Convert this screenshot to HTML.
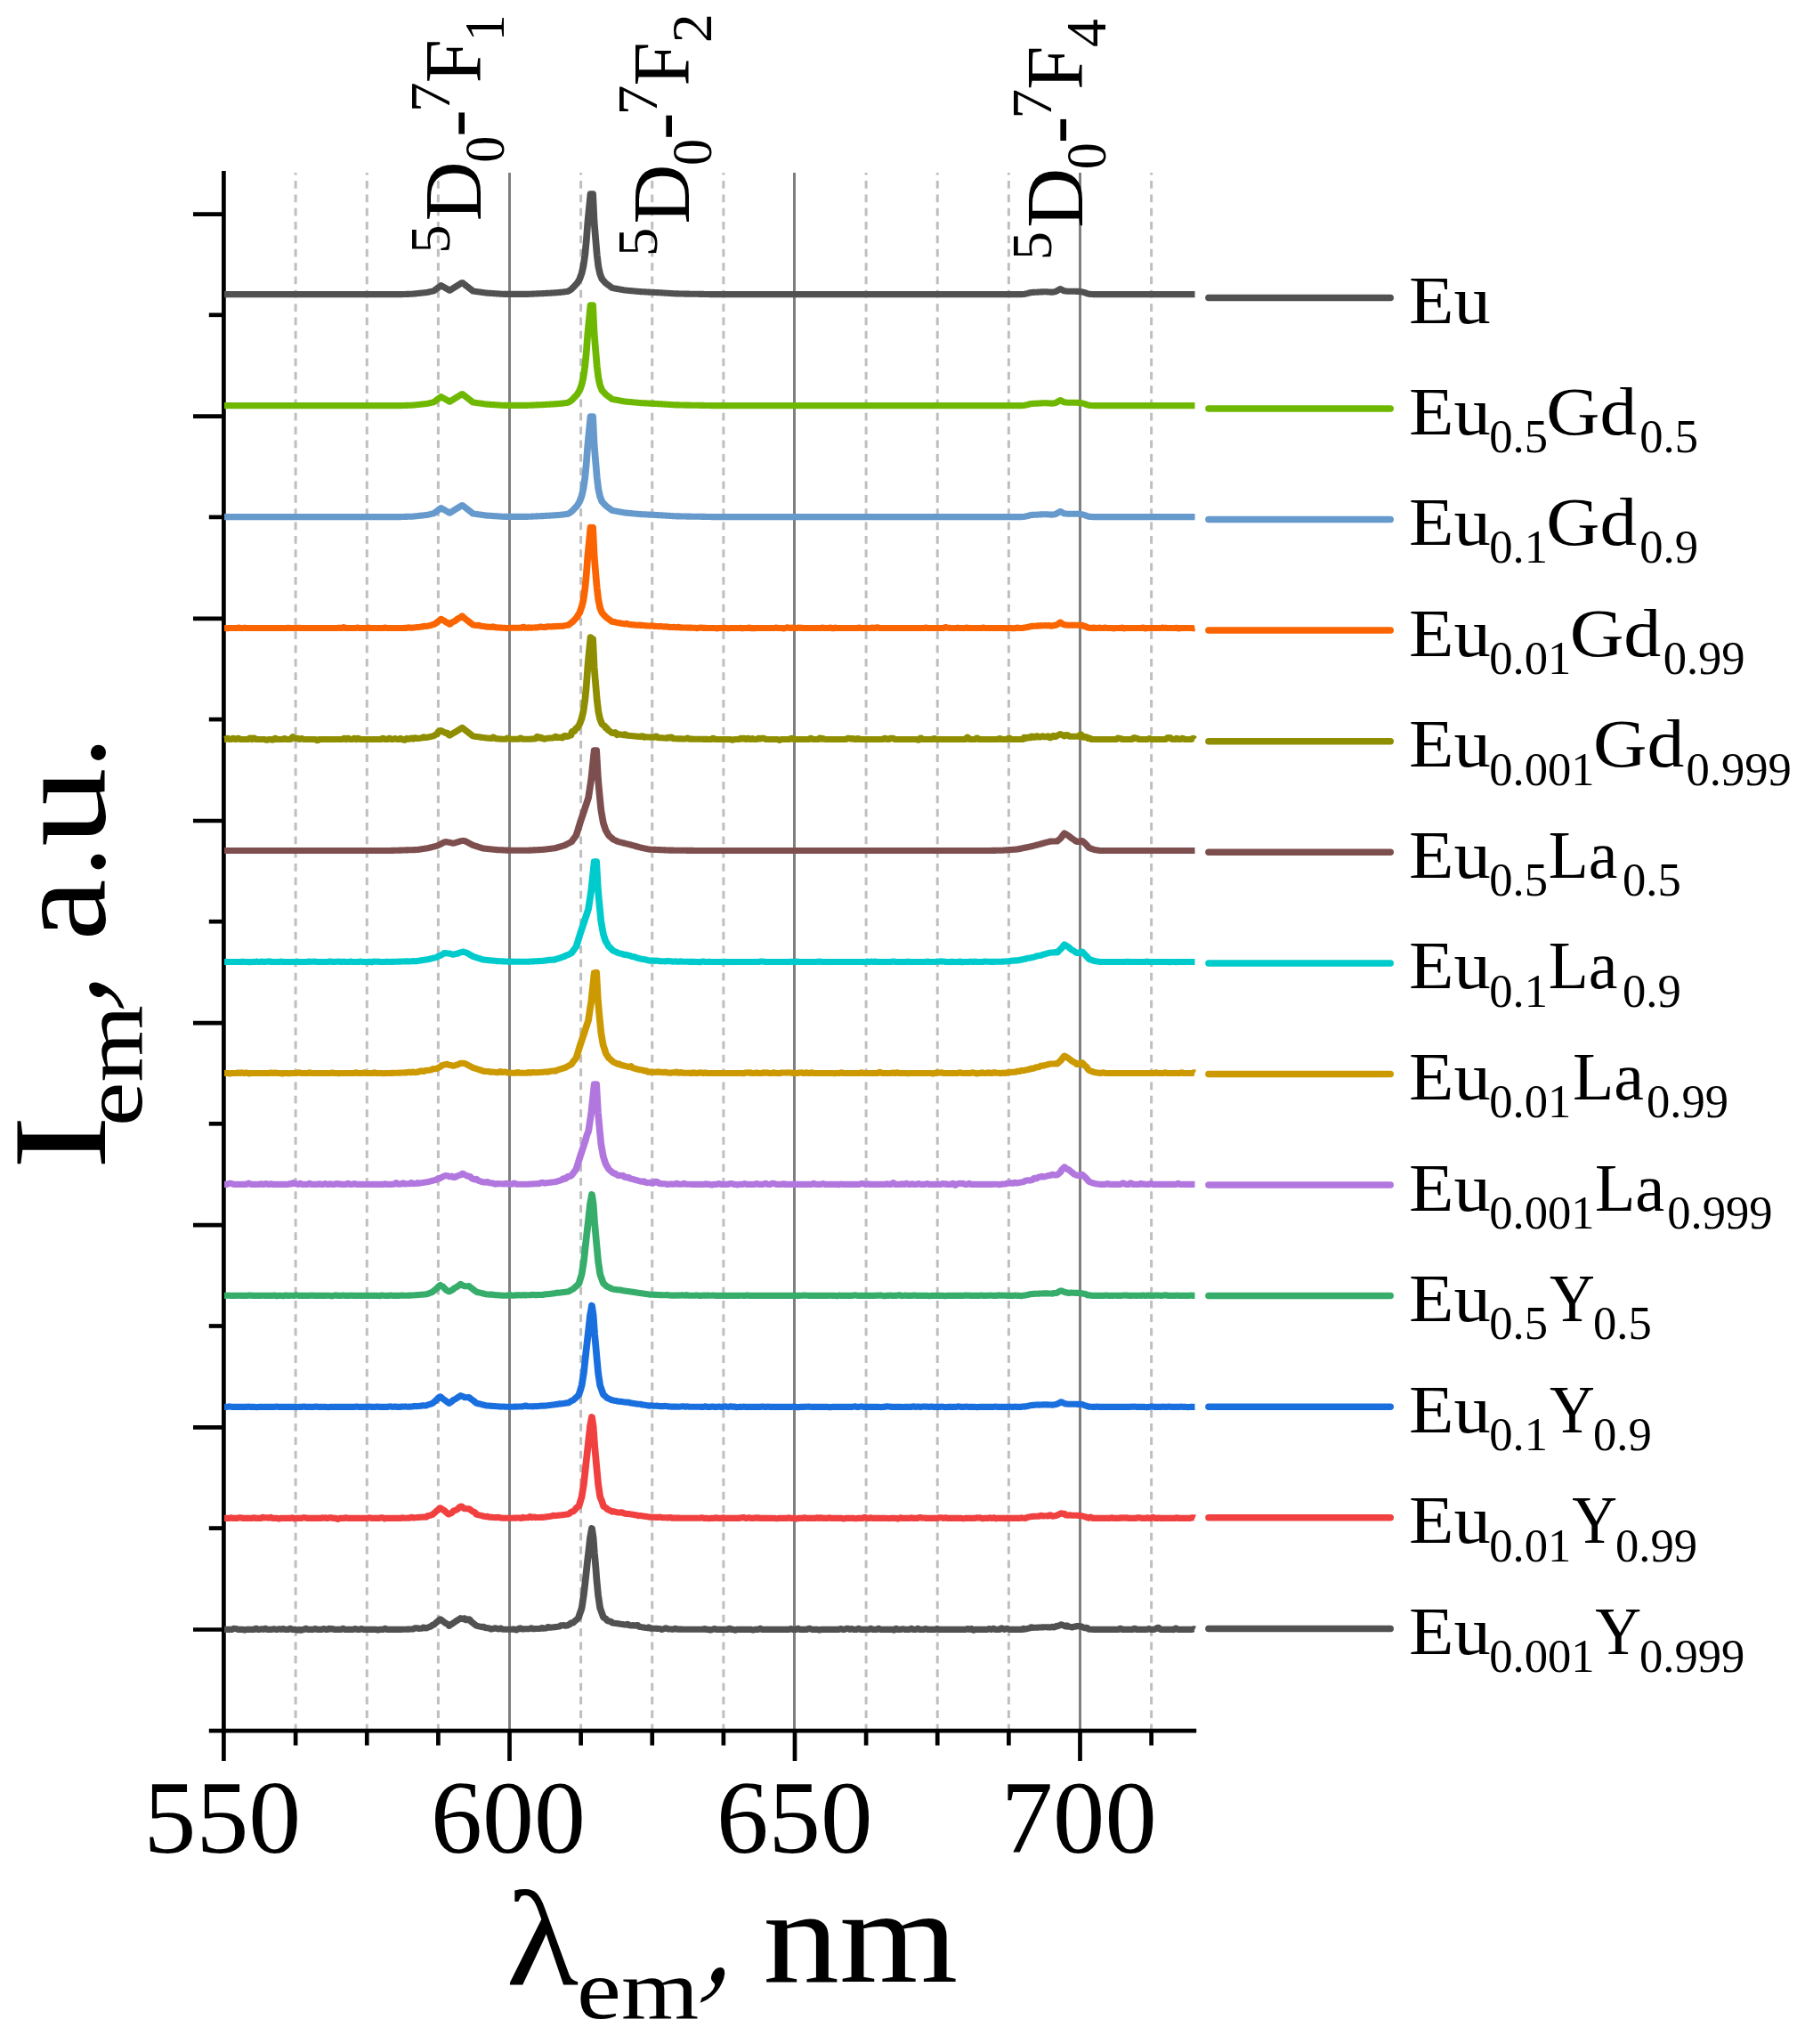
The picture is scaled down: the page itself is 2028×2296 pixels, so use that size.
<!DOCTYPE html>
<html lang="en"><head><meta charset="utf-8"><title>Emission spectra</title>
<style>html,body{margin:0;padding:0;background:#fff}svg{display:block}</style></head>
<body>
<svg width="2028" height="2296" viewBox="0 0 2028 2296" font-family="Liberation Serif, serif">
<rect width="2028" height="2296" fill="#fff"/>
<g fill="none">
<line x1="572.5" x2="572.5" y1="194.1" y2="1944.1" stroke="#7f7f7f" stroke-width="3"/>
<line x1="892.5" x2="892.5" y1="194.1" y2="1944.1" stroke="#7f7f7f" stroke-width="3"/>
<line x1="1213.5" x2="1213.5" y1="194.1" y2="1944.1" stroke="#7f7f7f" stroke-width="3"/>
<line x1="332.12" x2="332.12" y1="194.1" y2="1944.1" stroke="#bfbfbf" stroke-width="3" stroke-dasharray="8.75 6.59" stroke-dashoffset="6.35"/>
<line x1="412.25" x2="412.25" y1="194.1" y2="1944.1" stroke="#bfbfbf" stroke-width="3" stroke-dasharray="8.75 6.59" stroke-dashoffset="6.35"/>
<line x1="492.38" x2="492.38" y1="194.1" y2="1944.1" stroke="#bfbfbf" stroke-width="3" stroke-dasharray="8.75 6.59" stroke-dashoffset="6.35"/>
<line x1="652.62" x2="652.62" y1="194.1" y2="1944.1" stroke="#bfbfbf" stroke-width="3" stroke-dasharray="8.75 6.59" stroke-dashoffset="6.35"/>
<line x1="732.75" x2="732.75" y1="194.1" y2="1944.1" stroke="#bfbfbf" stroke-width="3" stroke-dasharray="8.75 6.59" stroke-dashoffset="6.35"/>
<line x1="812.88" x2="812.88" y1="194.1" y2="1944.1" stroke="#bfbfbf" stroke-width="3" stroke-dasharray="8.75 6.59" stroke-dashoffset="6.35"/>
<line x1="973.12" x2="973.12" y1="194.1" y2="1944.1" stroke="#bfbfbf" stroke-width="3" stroke-dasharray="8.75 6.59" stroke-dashoffset="6.35"/>
<line x1="1053.25" x2="1053.25" y1="194.1" y2="1944.1" stroke="#bfbfbf" stroke-width="3" stroke-dasharray="8.75 6.59" stroke-dashoffset="6.35"/>
<line x1="1133.38" x2="1133.38" y1="194.1" y2="1944.1" stroke="#bfbfbf" stroke-width="3" stroke-dasharray="8.75 6.59" stroke-dashoffset="6.35"/>
<line x1="1293.62" x2="1293.62" y1="194.1" y2="1944.1" stroke="#bfbfbf" stroke-width="3" stroke-dasharray="8.75 6.59" stroke-dashoffset="6.35"/>
</g>
<g stroke="#000" stroke-width="4.7" fill="none" stroke-linecap="butt">
<line x1="251.4" x2="251.4" y1="192" y2="1978"/>
<line x1="234.8" x2="1344.2" y1="1944.1" y2="1944.1"/>
<line x1="217" x2="251.4" y1="240.6" y2="240.6"/>
<line x1="217" x2="251.4" y1="467.7" y2="467.7"/>
<line x1="217" x2="251.4" y1="694.9" y2="694.9"/>
<line x1="217" x2="251.4" y1="922.0" y2="922.0"/>
<line x1="217" x2="251.4" y1="1149.1" y2="1149.1"/>
<line x1="217" x2="251.4" y1="1376.2" y2="1376.2"/>
<line x1="217" x2="251.4" y1="1603.4" y2="1603.4"/>
<line x1="217" x2="251.4" y1="1830.5" y2="1830.5"/>
<line x1="234.8" x2="251.4" y1="353.8" y2="353.8"/>
<line x1="234.8" x2="251.4" y1="580.9" y2="580.9"/>
<line x1="234.8" x2="251.4" y1="808.1" y2="808.1"/>
<line x1="234.8" x2="251.4" y1="1035.2" y2="1035.2"/>
<line x1="234.8" x2="251.4" y1="1262.3" y2="1262.3"/>
<line x1="234.8" x2="251.4" y1="1489.5" y2="1489.5"/>
<line x1="234.8" x2="251.4" y1="1716.6" y2="1716.6"/>
<line x1="572.50" x2="572.50" y1="1944.1" y2="1978"/>
<line x1="893.00" x2="893.00" y1="1944.1" y2="1978"/>
<line x1="1213.50" x2="1213.50" y1="1944.1" y2="1978"/>
<line x1="332.12" x2="332.12" y1="1944.1" y2="1960.6"/>
<line x1="412.25" x2="412.25" y1="1944.1" y2="1960.6"/>
<line x1="492.38" x2="492.38" y1="1944.1" y2="1960.6"/>
<line x1="652.62" x2="652.62" y1="1944.1" y2="1960.6"/>
<line x1="732.75" x2="732.75" y1="1944.1" y2="1960.6"/>
<line x1="812.88" x2="812.88" y1="1944.1" y2="1960.6"/>
<line x1="973.12" x2="973.12" y1="1944.1" y2="1960.6"/>
<line x1="1053.25" x2="1053.25" y1="1944.1" y2="1960.6"/>
<line x1="1133.38" x2="1133.38" y1="1944.1" y2="1960.6"/>
<line x1="1293.62" x2="1293.62" y1="1944.1" y2="1960.6"/>
</g>
<g fill="none" stroke-width="7.1" stroke-linejoin="round" stroke-linecap="butt" transform="scale(1.09,1)">
<path d="M231.19,330.6 231.93,330.6 232.66,330.6 233.40,330.6 234.13,330.6 234.87,330.6 235.60,330.6 236.34,330.6 237.07,330.6 237.81,330.6 238.54,330.6 239.28,330.6 240.01,330.6 240.75,330.6 241.48,330.6 242.22,330.6 242.95,330.6 243.69,330.6 244.42,330.6 245.16,330.6 245.89,330.6 246.63,330.6 247.36,330.6 248.10,330.6 248.83,330.6 249.57,330.6 250.31,330.6 251.04,330.6 251.78,330.6 252.51,330.6 253.25,330.6 253.98,330.6 254.72,330.6 255.45,330.6 256.19,330.6 256.92,330.6 257.66,330.6 258.39,330.6 259.13,330.6 259.86,330.6 260.60,330.6 261.33,330.6 262.07,330.6 262.80,330.6 263.54,330.6 264.27,330.6 265.01,330.6 265.74,330.6 266.48,330.6 267.21,330.6 267.95,330.6 268.68,330.6 269.42,330.6 270.15,330.6 270.89,330.6 271.62,330.6 272.36,330.6 273.09,330.6 273.83,330.6 274.56,330.6 275.30,330.6 276.03,330.6 276.77,330.6 277.50,330.6 278.24,330.6 278.97,330.6 279.71,330.6 280.44,330.6 281.18,330.6 281.91,330.6 282.65,330.6 283.38,330.6 284.12,330.6 284.85,330.6 285.59,330.6 286.32,330.6 287.06,330.6 287.79,330.6 288.53,330.6 289.26,330.6 290.00,330.6 290.74,330.6 291.47,330.6 292.21,330.6 292.94,330.6 293.68,330.6 294.41,330.6 295.15,330.6 295.88,330.6 296.62,330.6 297.35,330.6 298.09,330.6 298.82,330.6 299.56,330.6 300.29,330.6 301.03,330.6 301.76,330.6 302.50,330.6 303.23,330.6 303.97,330.6 304.70,330.6 305.44,330.6 306.17,330.6 306.91,330.6 307.64,330.6 308.38,330.6 309.11,330.6 309.85,330.6 310.58,330.6 311.32,330.6 312.05,330.6 312.79,330.6 313.52,330.6 314.26,330.6 314.99,330.6 315.73,330.6 316.46,330.6 317.20,330.6 317.93,330.6 318.67,330.6 319.40,330.6 320.14,330.6 320.87,330.6 321.61,330.6 322.34,330.6 323.08,330.6 323.81,330.6 324.55,330.6 325.28,330.6 326.02,330.6 326.75,330.6 327.49,330.6 328.22,330.6 328.96,330.6 329.69,330.6 330.43,330.6 331.17,330.6 331.90,330.6 332.64,330.6 333.37,330.6 334.11,330.6 334.84,330.6 335.58,330.6 336.31,330.6 337.05,330.6 337.78,330.6 338.52,330.6 339.25,330.6 339.99,330.6 340.72,330.6 341.46,330.6 342.19,330.6 342.93,330.6 343.66,330.6 344.40,330.6 345.13,330.6 345.87,330.6 346.60,330.6 347.34,330.6 348.07,330.6 348.81,330.6 349.54,330.6 350.28,330.6 351.01,330.6 351.75,330.6 352.48,330.6 353.22,330.6 353.95,330.6 354.69,330.6 355.42,330.6 356.16,330.6 356.89,330.6 357.63,330.6 358.36,330.6 359.10,330.6 359.83,330.6 360.57,330.6 361.30,330.6 362.04,330.6 362.77,330.6 363.51,330.6 364.24,330.6 364.98,330.6 365.71,330.6 366.45,330.6 367.18,330.6 367.92,330.6 368.65,330.6 369.39,330.6 370.12,330.6 370.86,330.6 371.60,330.6 372.33,330.6 373.07,330.6 373.80,330.6 374.54,330.6 375.27,330.6 376.01,330.6 376.74,330.6 377.48,330.6 378.21,330.6 378.95,330.6 379.68,330.6 380.42,330.6 381.15,330.6 381.89,330.6 382.62,330.6 383.36,330.6 384.09,330.6 384.83,330.6 385.56,330.6 386.30,330.6 387.03,330.6 387.77,330.6 388.50,330.6 389.24,330.6 389.97,330.6 390.71,330.6 391.44,330.6 392.18,330.6 392.91,330.6 393.65,330.6 394.38,330.6 395.12,330.6 395.85,330.6 396.59,330.6 397.32,330.6 398.06,330.6 398.79,330.6 399.53,330.6 400.26,330.6 401.00,330.6 401.73,330.6 402.47,330.6 403.20,330.6 403.94,330.6 404.67,330.6 405.41,330.6 406.14,330.6 406.88,330.6 407.61,330.6 408.35,330.6 409.08,330.6 409.82,330.6 410.56,330.6 411.29,330.6 412.03,330.6 412.76,330.6 413.50,330.6 414.23,330.6 414.97,330.6 415.70,330.5 416.44,330.5 417.17,330.5 417.91,330.5 418.64,330.4 419.38,330.4 420.11,330.4 420.85,330.4 421.58,330.3 422.32,330.3 423.05,330.3 423.79,330.2 424.52,330.2 425.26,330.2 425.99,330.1 426.73,330.0 427.46,329.9 428.20,329.9 428.93,329.8 429.67,329.7 430.40,329.6 431.14,329.5 431.87,329.4 432.61,329.4 433.34,329.3 434.08,329.2 434.81,329.1 435.55,329.0 436.28,328.9 437.02,328.8 437.75,328.8 438.49,328.7 439.22,328.6 439.96,328.5 440.69,328.3 441.43,328.1 442.16,328.0 442.90,327.8 443.63,327.6 444.37,327.4 445.10,327.3 445.84,327.1 446.57,326.9 447.02,326.8 447.31,326.6 448.04,326.0 448.78,325.4 449.51,324.8 450.25,324.2 450.99,323.6 451.72,323.0 452.46,322.5 453.19,321.9 453.93,321.3 454.66,320.7 455.40,321.2 456.13,321.6 456.87,322.1 457.60,322.5 458.34,323.0 459.07,323.5 459.81,323.9 460.54,324.4 461.28,324.8 462.01,325.3 462.75,325.7 463.48,326.2 464.22,325.7 464.95,325.2 465.69,324.7 466.42,324.2 467.16,323.7 467.89,323.2 468.63,322.7 469.36,322.2 470.10,321.8 470.83,321.3 471.57,320.8 472.30,320.3 473.04,319.8 473.77,319.3 474.51,318.8 475.24,318.3 475.98,317.8 476.42,317.5 476.71,317.7 477.45,318.4 478.18,319.0 478.92,319.6 479.65,320.2 480.39,320.9 481.12,321.5 481.86,322.1 482.59,322.7 483.33,323.4 484.06,324.0 484.80,324.6 485.53,325.2 486.27,325.9 487.00,326.5 487.59,327.0 487.74,327.0 488.47,327.1 489.21,327.2 489.94,327.4 490.68,327.5 491.42,327.6 492.15,327.7 492.89,327.8 493.62,327.9 494.36,328.0 495.09,328.1 495.83,328.2 496.56,328.4 497.30,328.5 498.03,328.6 498.77,328.7 499.50,328.8 500.24,328.9 500.97,329.0 501.53,329.1 501.71,329.1 502.44,329.2 503.18,329.2 503.91,329.3 504.65,329.3 505.38,329.4 506.12,329.4 506.85,329.5 507.59,329.5 508.32,329.6 509.06,329.6 509.79,329.7 510.53,329.8 511.26,329.8 512.00,329.9 512.73,329.9 513.47,330.0 514.20,330.0 514.94,330.1 515.67,330.1 516.41,330.2 517.14,330.2 517.88,330.3 518.61,330.3 519.35,330.4 520.08,330.4 520.82,330.4 521.55,330.4 522.29,330.4 523.02,330.4 523.76,330.4 524.49,330.4 525.23,330.4 525.96,330.4 526.70,330.4 527.43,330.4 528.17,330.4 528.90,330.4 529.64,330.4 530.38,330.4 531.11,330.4 531.85,330.4 532.58,330.4 533.32,330.4 534.05,330.4 534.79,330.4 535.52,330.4 536.26,330.4 536.99,330.4 537.73,330.4 538.46,330.4 539.20,330.4 539.93,330.4 540.67,330.4 541.40,330.4 542.14,330.4 542.87,330.4 543.46,330.4 543.61,330.4 544.34,330.4 545.08,330.3 545.81,330.3 546.55,330.2 547.28,330.2 548.02,330.2 548.75,330.1 549.49,330.1 550.22,330.1 550.96,330.0 551.69,330.0 552.43,330.0 553.16,329.9 553.90,329.9 554.63,329.9 555.37,329.8 556.10,329.8 556.84,329.8 557.57,329.7 558.31,329.7 559.04,329.6 559.78,329.6 559.93,329.6 560.51,329.6 561.25,329.5 561.98,329.5 562.72,329.4 563.45,329.4 564.19,329.3 564.92,329.3 565.66,329.2 566.39,329.2 567.13,329.2 567.86,329.1 568.60,329.1 569.33,329.0 570.07,329.0 570.81,328.9 571.54,328.9 572.28,328.8 572.86,328.8 573.01,328.8 573.75,328.7 574.48,328.7 575.22,328.6 575.95,328.5 576.69,328.4 577.42,328.4 578.16,328.3 578.89,328.2 579.33,328.2 579.63,328.2 580.36,328.0 581.10,327.9 581.83,327.8 582.57,327.7 583.30,327.6 584.04,327.5 584.77,327.4 585.39,327.3 585.51,327.2 586.24,326.8 586.98,326.3 587.71,325.8 588.45,325.4 588.74,325.2 589.18,324.7 589.92,323.9 590.65,323.0 591.39,322.2 591.92,321.6 592.12,321.4 592.86,320.5 593.59,319.6 594.33,318.8 594.92,318.1 595.06,317.8 595.80,316.5 596.53,315.2 597.27,313.8 597.44,313.5 598.00,311.9 598.74,309.7 599.47,307.5 599.62,307.1 600.21,304.3 600.94,300.8 601.27,299.3 601.68,296.2 602.41,290.8 602.97,286.6 603.15,284.6 603.88,276.5 604.38,270.9 604.62,267.5 605.35,256.8 605.85,249.6 606.09,247.0 606.82,238.9 607.56,230.8 608.29,222.7 608.74,217.8 609.03,217.8 609.76,217.8 610.50,217.8 611.09,217.8 611.24,221.1 611.97,237.7 612.50,249.6 612.71,252.3 613.44,261.8 614.15,270.9 614.18,271.3 614.91,280.6 615.38,286.6 615.65,289.0 616.38,295.6 616.79,299.3 617.12,300.9 617.85,304.6 618.44,307.6 618.59,308.0 619.32,310.1 620.06,312.1 620.56,313.5 620.79,313.8 621.53,314.7 622.26,315.5 623.00,316.4 623.73,317.3 624.44,318.1 624.47,318.1 625.20,318.7 625.94,319.3 626.67,319.9 627.41,320.5 628.14,321.1 628.88,321.7 629.61,322.3 630.35,322.9 630.91,323.4 631.08,323.4 631.82,323.6 632.55,323.7 633.29,323.9 634.02,324.0 634.76,324.2 635.49,324.3 636.23,324.5 636.96,324.6 637.70,324.8 638.43,324.9 639.17,325.0 639.90,325.2 640.64,325.3 641.37,325.5 642.11,325.6 642.84,325.8 643.58,325.9 643.96,326.0 644.31,326.0 645.05,326.1 645.78,326.2 646.52,326.3 647.25,326.3 647.99,326.4 648.72,326.5 649.46,326.6 650.19,326.6 650.93,326.7 651.67,326.8 652.40,326.8 653.14,326.9 653.87,327.0 654.61,327.1 655.34,327.1 656.08,327.2 656.81,327.3 657.55,327.4 658.28,327.4 659.02,327.5 659.75,327.6 659.90,327.6 660.49,327.6 661.22,327.7 661.96,327.7 662.69,327.8 663.43,327.8 664.16,327.8 664.90,327.9 665.63,327.9 666.37,328.0 667.10,328.0 667.84,328.1 668.57,328.1 669.31,328.1 670.04,328.2 670.78,328.2 671.51,328.3 672.25,328.3 672.98,328.3 673.72,328.4 674.45,328.4 675.19,328.5 675.92,328.5 676.66,328.6 677.39,328.6 677.54,328.6 678.13,328.6 678.86,328.7 679.60,328.7 680.33,328.8 681.07,328.8 681.80,328.9 682.54,328.9 683.27,329.0 684.01,329.0 684.74,329.1 685.48,329.1 686.21,329.2 686.95,329.2 687.68,329.3 688.42,329.3 689.15,329.4 689.89,329.4 690.62,329.5 691.36,329.5 692.10,329.6 692.83,329.6 693.57,329.7 694.30,329.7 695.04,329.8 695.77,329.8 696.51,329.9 696.95,329.9 697.24,329.9 697.98,329.9 698.71,329.9 699.45,329.9 700.18,330.0 700.92,330.0 701.65,330.0 702.39,330.0 703.12,330.0 703.86,330.0 704.59,330.0 705.33,330.1 706.06,330.1 706.80,330.1 707.53,330.1 708.27,330.1 709.00,330.1 709.74,330.1 710.47,330.2 711.21,330.2 711.94,330.2 712.68,330.2 713.41,330.2 714.15,330.2 714.88,330.2 715.62,330.3 716.35,330.3 717.09,330.3 717.82,330.3 718.56,330.3 719.29,330.3 720.03,330.3 720.76,330.4 721.50,330.4 722.23,330.4 722.97,330.4 723.70,330.4 724.44,330.4 725.17,330.4 725.91,330.5 726.64,330.5 727.38,330.5 728.11,330.5 728.85,330.5 729.58,330.5 730.32,330.5 731.06,330.6 731.79,330.6 732.53,330.6 733.26,330.6 733.41,330.6 734.00,330.6 734.73,330.6 735.47,330.6 736.20,330.6 736.94,330.6 737.67,330.6 738.41,330.6 739.14,330.6 739.88,330.6 740.61,330.6 741.35,330.6 742.08,330.6 742.82,330.6 743.55,330.6 744.29,330.6 745.02,330.6 745.76,330.6 746.49,330.6 747.23,330.6 747.96,330.6 748.70,330.6 749.43,330.6 750.17,330.6 750.90,330.6 751.64,330.6 752.37,330.6 753.11,330.6 753.84,330.6 754.58,330.6 755.31,330.6 756.05,330.6 756.78,330.6 757.52,330.6 758.25,330.6 758.99,330.6 759.72,330.6 760.46,330.6 761.19,330.6 761.93,330.6 762.66,330.6 763.40,330.6 764.13,330.6 764.87,330.6 765.60,330.6 766.34,330.6 767.07,330.6 767.81,330.6 768.54,330.6 769.28,330.6 770.01,330.6 770.75,330.6 771.49,330.6 772.22,330.6 772.96,330.6 773.69,330.6 774.43,330.6 775.16,330.6 775.90,330.6 776.63,330.6 777.37,330.6 778.10,330.6 778.84,330.6 779.57,330.6 780.31,330.6 781.04,330.6 781.78,330.6 782.51,330.6 783.25,330.6 783.98,330.6 784.72,330.6 785.45,330.6 786.19,330.6 786.92,330.6 787.66,330.6 788.39,330.6 789.13,330.6 789.86,330.6 790.60,330.6 791.33,330.6 792.07,330.6 792.80,330.6 793.54,330.6 794.27,330.6 795.01,330.6 795.74,330.6 796.48,330.6 797.21,330.6 797.95,330.6 798.68,330.6 799.42,330.6 800.15,330.6 800.89,330.6 801.62,330.6 802.36,330.6 803.09,330.6 803.83,330.6 804.56,330.6 805.30,330.6 806.03,330.6 806.77,330.6 807.50,330.6 808.24,330.6 808.97,330.6 809.71,330.6 810.44,330.6 811.18,330.6 811.92,330.6 812.65,330.6 813.39,330.6 814.12,330.6 814.86,330.6 815.59,330.6 816.33,330.6 817.06,330.6 817.80,330.6 818.53,330.6 819.27,330.6 820.00,330.6 820.74,330.6 821.47,330.6 822.21,330.6 822.94,330.6 823.68,330.6 824.41,330.6 825.15,330.6 825.88,330.6 826.62,330.6 827.35,330.6 828.09,330.6 828.82,330.6 829.56,330.6 830.29,330.6 831.03,330.6 831.76,330.6 832.50,330.6 833.23,330.6 833.97,330.6 834.70,330.6 835.44,330.6 836.17,330.6 836.91,330.6 837.64,330.6 838.38,330.6 839.11,330.6 839.85,330.6 840.58,330.6 841.32,330.6 842.05,330.6 842.79,330.6 843.52,330.6 844.26,330.6 844.99,330.6 845.73,330.6 846.46,330.6 847.20,330.6 847.93,330.6 848.67,330.6 849.40,330.6 850.14,330.6 850.88,330.6 851.61,330.6 852.35,330.6 853.08,330.6 853.82,330.6 854.55,330.6 855.29,330.6 856.02,330.6 856.76,330.6 857.49,330.6 858.23,330.6 858.96,330.6 859.70,330.6 860.43,330.6 861.17,330.6 861.90,330.6 862.64,330.6 863.37,330.6 864.11,330.6 864.84,330.6 865.58,330.6 866.31,330.6 867.05,330.6 867.78,330.6 868.52,330.6 869.25,330.6 869.99,330.6 870.72,330.6 871.46,330.6 872.19,330.6 872.93,330.6 873.66,330.6 874.40,330.6 875.13,330.6 875.87,330.6 876.60,330.6 877.34,330.6 878.07,330.6 878.81,330.6 879.54,330.6 880.28,330.6 881.01,330.6 881.75,330.6 882.48,330.6 883.22,330.6 883.95,330.6 884.69,330.6 885.42,330.6 886.16,330.6 886.89,330.6 887.63,330.6 888.36,330.6 889.10,330.6 889.83,330.6 890.57,330.6 891.31,330.6 892.04,330.6 892.78,330.6 893.51,330.6 894.25,330.6 894.98,330.6 895.72,330.6 896.45,330.6 897.19,330.6 897.92,330.6 898.66,330.6 899.39,330.6 900.13,330.6 900.86,330.6 901.60,330.6 902.33,330.6 903.07,330.6 903.80,330.6 904.54,330.6 905.27,330.6 906.01,330.6 906.74,330.6 907.48,330.6 908.21,330.6 908.95,330.6 909.68,330.6 910.42,330.6 911.15,330.6 911.89,330.6 912.62,330.6 913.36,330.6 914.09,330.6 914.83,330.6 915.56,330.6 916.30,330.6 917.03,330.6 917.77,330.6 918.50,330.6 919.24,330.6 919.97,330.6 920.71,330.6 921.44,330.6 922.18,330.6 922.91,330.6 923.65,330.6 924.38,330.6 925.12,330.6 925.85,330.6 926.59,330.6 927.32,330.6 928.06,330.6 928.79,330.6 929.53,330.6 930.26,330.6 931.00,330.6 931.74,330.6 932.47,330.6 933.21,330.6 933.94,330.6 934.68,330.6 935.41,330.6 936.15,330.6 936.88,330.6 937.62,330.6 938.35,330.6 939.09,330.6 939.82,330.6 940.56,330.6 941.29,330.6 942.03,330.6 942.76,330.6 943.50,330.6 944.23,330.6 944.97,330.6 945.70,330.6 946.44,330.6 947.17,330.6 947.91,330.6 948.64,330.6 949.38,330.6 950.11,330.6 950.85,330.6 951.58,330.6 952.32,330.6 953.05,330.6 953.79,330.6 954.52,330.6 955.26,330.6 955.99,330.6 956.73,330.6 957.46,330.6 958.20,330.6 958.93,330.6 959.67,330.6 960.40,330.6 961.14,330.6 961.87,330.6 962.61,330.6 963.34,330.6 964.08,330.6 964.81,330.6 965.55,330.6 966.28,330.6 967.02,330.6 967.75,330.6 968.49,330.6 969.22,330.6 969.96,330.6 970.69,330.6 971.43,330.6 972.17,330.6 972.90,330.6 973.64,330.6 974.37,330.6 975.11,330.6 975.84,330.6 976.58,330.6 977.31,330.6 978.05,330.6 978.78,330.6 979.52,330.6 980.25,330.6 980.99,330.6 981.72,330.6 982.46,330.6 983.19,330.6 983.93,330.6 984.66,330.6 985.40,330.6 986.13,330.6 986.87,330.6 987.60,330.6 988.34,330.6 989.07,330.6 989.81,330.6 990.54,330.6 991.28,330.6 992.01,330.6 992.75,330.6 993.48,330.6 994.22,330.6 994.95,330.6 995.69,330.6 996.42,330.6 997.16,330.6 997.89,330.6 998.63,330.6 999.36,330.6 1000.10,330.6 1000.83,330.6 1001.57,330.6 1002.30,330.6 1003.04,330.6 1003.77,330.6 1004.51,330.6 1005.24,330.6 1005.98,330.6 1006.71,330.6 1007.45,330.6 1008.18,330.6 1008.92,330.6 1009.65,330.6 1010.39,330.6 1011.12,330.6 1011.86,330.6 1012.60,330.6 1013.33,330.6 1014.07,330.6 1014.80,330.6 1015.54,330.6 1016.27,330.6 1017.01,330.6 1017.74,330.6 1018.48,330.6 1019.21,330.6 1019.95,330.6 1020.68,330.6 1021.42,330.6 1022.15,330.6 1022.89,330.6 1023.62,330.6 1024.36,330.6 1025.09,330.6 1025.83,330.6 1026.56,330.6 1027.30,330.6 1028.03,330.6 1028.77,330.6 1029.50,330.6 1030.24,330.6 1030.97,330.6 1031.71,330.6 1032.44,330.6 1033.18,330.6 1033.91,330.6 1034.65,330.6 1035.38,330.6 1036.12,330.6 1036.85,330.6 1037.59,330.6 1038.32,330.6 1039.06,330.6 1039.79,330.6 1040.53,330.6 1041.26,330.6 1042.00,330.6 1042.73,330.6 1043.47,330.6 1044.20,330.6 1044.94,330.6 1045.67,330.6 1046.41,330.6 1047.14,330.6 1047.88,330.6 1048.61,330.6 1049.35,330.6 1050.08,330.6 1050.82,330.6 1051.56,330.6 1052.29,330.6 1053.03,330.6 1053.32,330.6 1053.76,330.6 1054.50,330.5 1055.23,330.5 1055.91,330.4 1055.97,330.4 1056.70,330.2 1057.44,330.0 1058.17,329.8 1058.91,329.6 1059.64,329.4 1060.38,329.2 1061.11,329.0 1061.85,328.8 1062.58,328.6 1063.02,328.5 1063.32,328.5 1064.05,328.4 1064.79,328.4 1065.52,328.4 1066.26,328.3 1066.99,328.3 1067.73,328.2 1068.46,328.2 1069.20,328.2 1069.93,328.1 1070.67,328.1 1071.40,328.0 1072.14,328.0 1072.87,327.9 1073.61,327.9 1074.34,327.9 1075.08,327.8 1075.81,327.8 1076.55,327.7 1077.25,327.7 1077.28,327.7 1078.02,327.8 1078.75,327.8 1079.49,327.9 1080.22,327.9 1080.96,328.0 1081.69,328.0 1082.43,328.1 1083.16,328.1 1083.90,328.2 1084.37,328.2 1084.63,328.2 1085.37,328.0 1086.10,327.9 1086.84,327.8 1087.57,327.7 1088.02,327.6 1088.31,327.4 1089.04,327.0 1089.78,326.5 1090.51,326.1 1091.25,325.6 1091.99,325.2 1092.72,324.7 1092.96,324.6 1093.46,324.9 1094.19,325.3 1094.93,325.7 1095.66,326.1 1096.40,326.5 1096.84,326.8 1097.13,326.8 1097.87,326.9 1098.60,327.0 1099.34,327.1 1100.01,327.2 1100.07,327.2 1100.81,327.2 1101.54,327.2 1102.28,327.2 1103.01,327.2 1103.75,327.3 1104.48,327.3 1105.22,327.3 1105.95,327.3 1106.69,327.3 1107.42,327.3 1108.16,327.3 1108.89,327.3 1109.63,327.4 1110.36,327.4 1111.10,327.4 1111.83,327.4 1112.57,327.4 1112.83,327.4 1113.30,327.5 1114.04,327.6 1114.77,327.8 1115.51,327.9 1116.24,328.1 1116.83,328.2 1116.98,328.3 1117.71,328.5 1118.45,328.8 1119.18,329.1 1119.92,329.4 1120.65,329.7 1121.39,330.0 1122.12,330.3 1122.86,330.3 1123.59,330.4 1124.33,330.4 1125.06,330.5 1125.80,330.5 1126.53,330.6 1126.83,330.6 1127.27,330.6 1128.00,330.6 1128.74,330.6 1129.47,330.6 1130.21,330.6 1130.94,330.6 1131.68,330.6 1132.42,330.6 1133.15,330.6 1133.89,330.6 1134.62,330.6 1135.36,330.6 1136.09,330.6 1136.83,330.6 1137.56,330.6 1138.30,330.6 1139.03,330.6 1139.77,330.6 1140.50,330.6 1141.24,330.6 1141.97,330.6 1142.71,330.6 1143.44,330.6 1144.18,330.6 1144.91,330.6 1145.65,330.6 1146.38,330.6 1147.12,330.6 1147.85,330.6 1148.59,330.6 1149.32,330.6 1150.06,330.6 1150.79,330.6 1151.53,330.6 1152.26,330.6 1153.00,330.6 1153.73,330.6 1154.47,330.6 1155.20,330.6 1155.94,330.6 1156.67,330.6 1157.41,330.6 1158.14,330.6 1158.88,330.6 1159.61,330.6 1160.35,330.6 1161.08,330.6 1161.82,330.6 1162.55,330.6 1163.29,330.6 1164.02,330.6 1164.76,330.6 1165.49,330.6 1166.23,330.6 1166.96,330.6 1167.70,330.6 1168.43,330.6 1169.17,330.6 1169.90,330.6 1170.64,330.6 1171.37,330.6 1172.11,330.6 1172.85,330.6 1173.58,330.6 1174.32,330.6 1175.05,330.6 1175.79,330.6 1176.52,330.6 1177.26,330.6 1177.99,330.6 1178.73,330.6 1179.46,330.6 1180.20,330.6 1180.93,330.6 1181.67,330.6 1182.40,330.6 1183.14,330.6 1183.87,330.6 1184.61,330.6 1185.34,330.6 1186.08,330.6 1186.81,330.6 1187.55,330.6 1188.28,330.6 1189.02,330.6 1189.75,330.6 1190.49,330.6 1191.22,330.6 1191.96,330.6 1192.69,330.6 1193.43,330.6 1194.16,330.6 1194.90,330.6 1195.63,330.6 1196.37,330.6 1197.10,330.6 1197.84,330.6 1198.57,330.6 1199.31,330.6 1200.04,330.6 1200.78,330.6 1201.51,330.6 1202.25,330.6 1202.98,330.6 1203.72,330.6 1204.45,330.6 1205.19,330.6 1205.92,330.6 1206.66,330.6 1207.39,330.6 1208.13,330.6 1208.86,330.6 1209.60,330.6 1210.33,330.6 1211.07,330.6 1211.81,330.6 1212.54,330.6 1213.28,330.6 1214.01,330.6 1214.75,330.6 1215.48,330.6 1216.22,330.6 1216.95,330.6 1217.69,330.6 1218.42,330.6 1219.16,330.6 1219.89,330.6 1220.63,330.6 1221.36,330.6 1222.10,330.6 1222.83,330.6 1223.57,330.6 1224.30,330.6 1225.04,330.6 1225.77,330.6 1226.51,330.6 1227.24,330.6 1227.98,330.6 1228.71,330.6 1229.45,330.6 1230.18,330.6 1230.92,330.6 1231.65,330.6" stroke="#515151"/>
<path d="M231.19,455.6 231.93,455.6 232.66,455.6 233.40,455.6 234.13,455.6 234.87,455.6 235.60,455.6 236.34,455.6 237.07,455.6 237.81,455.6 238.54,455.6 239.28,455.6 240.01,455.6 240.75,455.6 241.48,455.6 242.22,455.6 242.95,455.6 243.69,455.6 244.42,455.6 245.16,455.6 245.89,455.6 246.63,455.6 247.36,455.6 248.10,455.6 248.83,455.6 249.57,455.6 250.31,455.6 251.04,455.6 251.78,455.6 252.51,455.6 253.25,455.6 253.98,455.6 254.72,455.6 255.45,455.6 256.19,455.6 256.92,455.6 257.66,455.6 258.39,455.6 259.13,455.6 259.86,455.6 260.60,455.6 261.33,455.6 262.07,455.6 262.80,455.6 263.54,455.6 264.27,455.6 265.01,455.6 265.74,455.6 266.48,455.6 267.21,455.6 267.95,455.6 268.68,455.6 269.42,455.6 270.15,455.6 270.89,455.6 271.62,455.6 272.36,455.6 273.09,455.6 273.83,455.6 274.56,455.6 275.30,455.6 276.03,455.6 276.77,455.6 277.50,455.6 278.24,455.6 278.97,455.6 279.71,455.6 280.44,455.6 281.18,455.6 281.91,455.6 282.65,455.6 283.38,455.6 284.12,455.6 284.85,455.6 285.59,455.6 286.32,455.6 287.06,455.6 287.79,455.6 288.53,455.6 289.26,455.6 290.00,455.6 290.74,455.6 291.47,455.6 292.21,455.6 292.94,455.6 293.68,455.6 294.41,455.6 295.15,455.6 295.88,455.6 296.62,455.6 297.35,455.6 298.09,455.6 298.82,455.6 299.56,455.6 300.29,455.6 301.03,455.6 301.76,455.6 302.50,455.6 303.23,455.6 303.97,455.6 304.70,455.6 305.44,455.6 306.17,455.6 306.91,455.6 307.64,455.6 308.38,455.6 309.11,455.6 309.85,455.6 310.58,455.6 311.32,455.6 312.05,455.6 312.79,455.6 313.52,455.6 314.26,455.6 314.99,455.6 315.73,455.6 316.46,455.6 317.20,455.6 317.93,455.6 318.67,455.6 319.40,455.6 320.14,455.6 320.87,455.6 321.61,455.6 322.34,455.6 323.08,455.6 323.81,455.6 324.55,455.6 325.28,455.6 326.02,455.6 326.75,455.6 327.49,455.6 328.22,455.6 328.96,455.6 329.69,455.6 330.43,455.6 331.17,455.6 331.90,455.6 332.64,455.6 333.37,455.6 334.11,455.6 334.84,455.6 335.58,455.6 336.31,455.6 337.05,455.6 337.78,455.6 338.52,455.6 339.25,455.6 339.99,455.6 340.72,455.6 341.46,455.6 342.19,455.6 342.93,455.6 343.66,455.6 344.40,455.6 345.13,455.6 345.87,455.6 346.60,455.6 347.34,455.6 348.07,455.6 348.81,455.6 349.54,455.6 350.28,455.6 351.01,455.6 351.75,455.6 352.48,455.6 353.22,455.6 353.95,455.6 354.69,455.6 355.42,455.6 356.16,455.6 356.89,455.6 357.63,455.6 358.36,455.6 359.10,455.6 359.83,455.6 360.57,455.6 361.30,455.6 362.04,455.6 362.77,455.6 363.51,455.6 364.24,455.6 364.98,455.6 365.71,455.6 366.45,455.6 367.18,455.6 367.92,455.6 368.65,455.6 369.39,455.6 370.12,455.6 370.86,455.6 371.60,455.6 372.33,455.6 373.07,455.6 373.80,455.6 374.54,455.6 375.27,455.6 376.01,455.6 376.74,455.6 377.48,455.6 378.21,455.6 378.95,455.6 379.68,455.6 380.42,455.6 381.15,455.6 381.89,455.6 382.62,455.6 383.36,455.6 384.09,455.6 384.83,455.6 385.56,455.6 386.30,455.6 387.03,455.6 387.77,455.6 388.50,455.6 389.24,455.6 389.97,455.6 390.71,455.6 391.44,455.6 392.18,455.6 392.91,455.6 393.65,455.6 394.38,455.6 395.12,455.6 395.85,455.6 396.59,455.6 397.32,455.6 398.06,455.6 398.79,455.6 399.53,455.6 400.26,455.6 401.00,455.6 401.73,455.6 402.47,455.6 403.20,455.6 403.94,455.6 404.67,455.6 405.41,455.6 406.14,455.6 406.88,455.6 407.61,455.6 408.35,455.6 409.08,455.6 409.82,455.6 410.56,455.6 411.29,455.6 412.03,455.6 412.76,455.6 413.50,455.6 414.23,455.6 414.97,455.5 415.70,455.5 416.44,455.5 417.17,455.5 417.91,455.4 418.64,455.4 419.38,455.4 420.11,455.4 420.85,455.3 421.58,455.3 422.32,455.3 423.05,455.3 423.79,455.2 424.52,455.2 425.26,455.2 425.99,455.1 426.73,455.0 427.46,454.9 428.20,454.8 428.93,454.8 429.67,454.7 430.40,454.6 431.14,454.5 431.87,454.4 432.61,454.3 433.34,454.2 434.08,454.2 434.81,454.1 435.55,454.0 436.28,453.9 437.02,453.8 437.75,453.7 438.49,453.7 439.22,453.6 439.96,453.5 440.69,453.3 441.43,453.1 442.16,452.9 442.90,452.8 443.63,452.6 444.37,452.4 445.10,452.2 445.84,452.1 446.57,451.9 447.02,451.8 447.31,451.5 448.04,451.0 448.78,450.4 449.51,449.8 450.25,449.2 450.99,448.6 451.72,448.0 452.46,447.4 453.19,446.9 453.93,446.3 454.66,445.7 455.40,446.1 456.13,446.6 456.87,447.1 457.60,447.5 458.34,448.0 459.07,448.4 459.81,448.9 460.54,449.3 461.28,449.8 462.01,450.3 462.75,450.7 463.48,451.2 464.22,450.7 464.95,450.2 465.69,449.7 466.42,449.2 467.16,448.7 467.89,448.2 468.63,447.7 469.36,447.2 470.10,446.7 470.83,446.2 471.57,445.7 472.30,445.2 473.04,444.8 473.77,444.3 474.51,443.8 475.24,443.3 475.98,442.8 476.42,442.5 476.71,442.7 477.45,443.4 478.18,444.0 478.92,444.6 479.65,445.2 480.39,445.9 481.12,446.5 481.86,447.1 482.59,447.7 483.33,448.4 484.06,449.0 484.80,449.6 485.53,450.2 486.27,450.9 487.00,451.5 487.59,452.0 487.74,452.0 488.47,452.1 489.21,452.2 489.94,452.3 490.68,452.4 491.42,452.6 492.15,452.7 492.89,452.8 493.62,452.9 494.36,453.0 495.09,453.1 495.83,453.2 496.56,453.3 497.30,453.4 498.03,453.6 498.77,453.7 499.50,453.8 500.24,453.9 500.97,454.0 501.53,454.1 501.71,454.1 502.44,454.1 503.18,454.2 503.91,454.3 504.65,454.3 505.38,454.4 506.12,454.4 506.85,454.5 507.59,454.5 508.32,454.6 509.06,454.6 509.79,454.7 510.53,454.7 511.26,454.8 512.00,454.8 512.73,454.9 513.47,455.0 514.20,455.0 514.94,455.1 515.67,455.1 516.41,455.2 517.14,455.2 517.88,455.3 518.61,455.3 519.35,455.4 520.08,455.4 520.82,455.4 521.55,455.4 522.29,455.4 523.02,455.4 523.76,455.4 524.49,455.4 525.23,455.4 525.96,455.4 526.70,455.4 527.43,455.4 528.17,455.4 528.90,455.4 529.64,455.4 530.38,455.4 531.11,455.4 531.85,455.4 532.58,455.4 533.32,455.4 534.05,455.4 534.79,455.4 535.52,455.4 536.26,455.4 536.99,455.4 537.73,455.4 538.46,455.4 539.20,455.4 539.93,455.4 540.67,455.4 541.40,455.4 542.14,455.4 542.87,455.4 543.46,455.4 543.61,455.4 544.34,455.3 545.08,455.3 545.81,455.3 546.55,455.2 547.28,455.2 548.02,455.2 548.75,455.1 549.49,455.1 550.22,455.1 550.96,455.0 551.69,455.0 552.43,454.9 553.16,454.9 553.90,454.9 554.63,454.8 555.37,454.8 556.10,454.8 556.84,454.7 557.57,454.7 558.31,454.7 559.04,454.6 559.78,454.6 559.93,454.6 560.51,454.5 561.25,454.5 561.98,454.5 562.72,454.4 563.45,454.4 564.19,454.3 564.92,454.3 565.66,454.2 566.39,454.2 567.13,454.1 567.86,454.1 568.60,454.0 569.33,454.0 570.07,454.0 570.81,453.9 571.54,453.9 572.28,453.8 572.86,453.8 573.01,453.8 573.75,453.7 574.48,453.6 575.22,453.6 575.95,453.5 576.69,453.4 577.42,453.4 578.16,453.3 578.89,453.2 579.33,453.2 579.63,453.1 580.36,453.0 581.10,452.9 581.83,452.8 582.57,452.7 583.30,452.6 584.04,452.5 584.77,452.4 585.39,452.3 585.51,452.2 586.24,451.7 586.98,451.3 587.71,450.8 588.45,450.4 588.74,450.2 589.18,449.7 589.92,448.8 590.65,448.0 591.39,447.2 591.92,446.6 592.12,446.3 592.86,445.5 593.59,444.6 594.33,443.8 594.92,443.1 595.06,442.8 595.80,441.5 596.53,440.1 597.27,438.8 597.44,438.5 598.00,436.8 598.74,434.7 599.47,432.5 599.62,432.1 600.21,429.3 600.94,425.8 601.27,424.3 601.68,421.2 602.41,415.7 602.97,411.6 603.15,409.6 603.88,401.4 604.38,395.9 604.62,392.5 605.35,381.8 605.85,374.6 606.09,372.0 606.82,363.9 607.56,355.8 608.29,347.6 608.74,342.8 609.03,342.8 609.76,342.8 610.50,342.8 611.09,342.8 611.24,346.1 611.97,362.7 612.50,374.6 612.71,377.2 613.44,386.8 614.15,395.9 614.18,396.3 614.91,405.6 615.38,411.6 615.65,414.0 616.38,420.6 616.79,424.3 617.12,425.9 617.85,429.6 618.44,432.6 618.59,433.0 619.32,435.0 620.06,437.1 620.56,438.5 620.79,438.8 621.53,439.6 622.26,440.5 623.00,441.4 623.73,442.2 624.44,443.1 624.47,443.1 625.20,443.7 625.94,444.3 626.67,444.9 627.41,445.5 628.14,446.1 628.88,446.7 629.61,447.3 630.35,447.9 630.91,448.4 631.08,448.4 631.82,448.6 632.55,448.7 633.29,448.9 634.02,449.0 634.76,449.1 635.49,449.3 636.23,449.4 636.96,449.6 637.70,449.7 638.43,449.9 639.17,450.0 639.90,450.2 640.64,450.3 641.37,450.5 642.11,450.6 642.84,450.8 643.58,450.9 643.96,451.0 644.31,451.0 645.05,451.1 645.78,451.2 646.52,451.2 647.25,451.3 647.99,451.4 648.72,451.5 649.46,451.5 650.19,451.6 650.93,451.7 651.67,451.8 652.40,451.8 653.14,451.9 653.87,452.0 654.61,452.0 655.34,452.1 656.08,452.2 656.81,452.3 657.55,452.3 658.28,452.4 659.02,452.5 659.75,452.6 659.90,452.6 660.49,452.6 661.22,452.7 661.96,452.7 662.69,452.7 663.43,452.8 664.16,452.8 664.90,452.9 665.63,452.9 666.37,452.9 667.10,453.0 667.84,453.0 668.57,453.1 669.31,453.1 670.04,453.2 670.78,453.2 671.51,453.2 672.25,453.3 672.98,453.3 673.72,453.4 674.45,453.4 675.19,453.4 675.92,453.5 676.66,453.5 677.39,453.6 677.54,453.6 678.13,453.6 678.86,453.7 679.60,453.7 680.33,453.8 681.07,453.8 681.80,453.9 682.54,453.9 683.27,454.0 684.01,454.0 684.74,454.1 685.48,454.1 686.21,454.2 686.95,454.2 687.68,454.3 688.42,454.3 689.15,454.4 689.89,454.4 690.62,454.5 691.36,454.5 692.10,454.6 692.83,454.6 693.57,454.7 694.30,454.7 695.04,454.8 695.77,454.8 696.51,454.9 696.95,454.9 697.24,454.9 697.98,454.9 698.71,454.9 699.45,454.9 700.18,454.9 700.92,455.0 701.65,455.0 702.39,455.0 703.12,455.0 703.86,455.0 704.59,455.0 705.33,455.0 706.06,455.1 706.80,455.1 707.53,455.1 708.27,455.1 709.00,455.1 709.74,455.1 710.47,455.1 711.21,455.2 711.94,455.2 712.68,455.2 713.41,455.2 714.15,455.2 714.88,455.2 715.62,455.2 716.35,455.3 717.09,455.3 717.82,455.3 718.56,455.3 719.29,455.3 720.03,455.3 720.76,455.3 721.50,455.4 722.23,455.4 722.97,455.4 723.70,455.4 724.44,455.4 725.17,455.4 725.91,455.4 726.64,455.5 727.38,455.5 728.11,455.5 728.85,455.5 729.58,455.5 730.32,455.5 731.06,455.5 731.79,455.5 732.53,455.6 733.26,455.6 733.41,455.6 734.00,455.6 734.73,455.6 735.47,455.6 736.20,455.6 736.94,455.6 737.67,455.6 738.41,455.6 739.14,455.6 739.88,455.6 740.61,455.6 741.35,455.6 742.08,455.6 742.82,455.6 743.55,455.6 744.29,455.6 745.02,455.6 745.76,455.6 746.49,455.6 747.23,455.6 747.96,455.6 748.70,455.6 749.43,455.6 750.17,455.6 750.90,455.6 751.64,455.6 752.37,455.6 753.11,455.6 753.84,455.6 754.58,455.6 755.31,455.6 756.05,455.6 756.78,455.6 757.52,455.6 758.25,455.6 758.99,455.6 759.72,455.6 760.46,455.6 761.19,455.6 761.93,455.6 762.66,455.6 763.40,455.6 764.13,455.6 764.87,455.6 765.60,455.6 766.34,455.6 767.07,455.6 767.81,455.6 768.54,455.6 769.28,455.6 770.01,455.6 770.75,455.6 771.49,455.6 772.22,455.6 772.96,455.6 773.69,455.6 774.43,455.6 775.16,455.6 775.90,455.6 776.63,455.6 777.37,455.6 778.10,455.6 778.84,455.6 779.57,455.6 780.31,455.6 781.04,455.6 781.78,455.6 782.51,455.6 783.25,455.6 783.98,455.6 784.72,455.6 785.45,455.6 786.19,455.6 786.92,455.6 787.66,455.6 788.39,455.6 789.13,455.6 789.86,455.6 790.60,455.6 791.33,455.6 792.07,455.6 792.80,455.6 793.54,455.6 794.27,455.6 795.01,455.6 795.74,455.6 796.48,455.6 797.21,455.6 797.95,455.6 798.68,455.6 799.42,455.6 800.15,455.6 800.89,455.6 801.62,455.6 802.36,455.6 803.09,455.6 803.83,455.6 804.56,455.6 805.30,455.6 806.03,455.6 806.77,455.6 807.50,455.6 808.24,455.6 808.97,455.6 809.71,455.6 810.44,455.6 811.18,455.6 811.92,455.6 812.65,455.6 813.39,455.6 814.12,455.6 814.86,455.6 815.59,455.6 816.33,455.6 817.06,455.6 817.80,455.6 818.53,455.6 819.27,455.6 820.00,455.6 820.74,455.6 821.47,455.6 822.21,455.6 822.94,455.6 823.68,455.6 824.41,455.6 825.15,455.6 825.88,455.6 826.62,455.6 827.35,455.6 828.09,455.6 828.82,455.6 829.56,455.6 830.29,455.6 831.03,455.6 831.76,455.6 832.50,455.6 833.23,455.6 833.97,455.6 834.70,455.6 835.44,455.6 836.17,455.6 836.91,455.6 837.64,455.6 838.38,455.6 839.11,455.6 839.85,455.6 840.58,455.6 841.32,455.6 842.05,455.6 842.79,455.6 843.52,455.6 844.26,455.6 844.99,455.6 845.73,455.6 846.46,455.6 847.20,455.6 847.93,455.6 848.67,455.6 849.40,455.6 850.14,455.6 850.88,455.6 851.61,455.6 852.35,455.6 853.08,455.6 853.82,455.6 854.55,455.6 855.29,455.6 856.02,455.6 856.76,455.6 857.49,455.6 858.23,455.6 858.96,455.6 859.70,455.6 860.43,455.6 861.17,455.6 861.90,455.6 862.64,455.6 863.37,455.6 864.11,455.6 864.84,455.6 865.58,455.6 866.31,455.6 867.05,455.6 867.78,455.6 868.52,455.6 869.25,455.6 869.99,455.6 870.72,455.6 871.46,455.6 872.19,455.6 872.93,455.6 873.66,455.6 874.40,455.6 875.13,455.6 875.87,455.6 876.60,455.6 877.34,455.6 878.07,455.6 878.81,455.6 879.54,455.6 880.28,455.6 881.01,455.6 881.75,455.6 882.48,455.6 883.22,455.6 883.95,455.6 884.69,455.6 885.42,455.6 886.16,455.6 886.89,455.6 887.63,455.6 888.36,455.6 889.10,455.6 889.83,455.6 890.57,455.6 891.31,455.6 892.04,455.6 892.78,455.6 893.51,455.6 894.25,455.6 894.98,455.6 895.72,455.6 896.45,455.6 897.19,455.6 897.92,455.6 898.66,455.6 899.39,455.6 900.13,455.6 900.86,455.6 901.60,455.6 902.33,455.6 903.07,455.6 903.80,455.6 904.54,455.6 905.27,455.6 906.01,455.6 906.74,455.6 907.48,455.6 908.21,455.6 908.95,455.6 909.68,455.6 910.42,455.6 911.15,455.6 911.89,455.6 912.62,455.6 913.36,455.6 914.09,455.6 914.83,455.6 915.56,455.6 916.30,455.6 917.03,455.6 917.77,455.6 918.50,455.6 919.24,455.6 919.97,455.6 920.71,455.6 921.44,455.6 922.18,455.6 922.91,455.6 923.65,455.6 924.38,455.6 925.12,455.6 925.85,455.6 926.59,455.6 927.32,455.6 928.06,455.6 928.79,455.6 929.53,455.6 930.26,455.6 931.00,455.6 931.74,455.6 932.47,455.6 933.21,455.6 933.94,455.6 934.68,455.6 935.41,455.6 936.15,455.6 936.88,455.6 937.62,455.6 938.35,455.6 939.09,455.6 939.82,455.6 940.56,455.6 941.29,455.6 942.03,455.6 942.76,455.6 943.50,455.6 944.23,455.6 944.97,455.6 945.70,455.6 946.44,455.6 947.17,455.6 947.91,455.6 948.64,455.6 949.38,455.6 950.11,455.6 950.85,455.6 951.58,455.6 952.32,455.6 953.05,455.6 953.79,455.6 954.52,455.6 955.26,455.6 955.99,455.6 956.73,455.6 957.46,455.6 958.20,455.6 958.93,455.6 959.67,455.6 960.40,455.6 961.14,455.6 961.87,455.6 962.61,455.6 963.34,455.6 964.08,455.6 964.81,455.6 965.55,455.6 966.28,455.6 967.02,455.6 967.75,455.6 968.49,455.6 969.22,455.6 969.96,455.6 970.69,455.6 971.43,455.6 972.17,455.6 972.90,455.6 973.64,455.6 974.37,455.6 975.11,455.6 975.84,455.6 976.58,455.6 977.31,455.6 978.05,455.6 978.78,455.6 979.52,455.6 980.25,455.6 980.99,455.6 981.72,455.6 982.46,455.6 983.19,455.6 983.93,455.6 984.66,455.6 985.40,455.6 986.13,455.6 986.87,455.6 987.60,455.6 988.34,455.6 989.07,455.6 989.81,455.6 990.54,455.6 991.28,455.6 992.01,455.6 992.75,455.6 993.48,455.6 994.22,455.6 994.95,455.6 995.69,455.6 996.42,455.6 997.16,455.6 997.89,455.6 998.63,455.6 999.36,455.6 1000.10,455.6 1000.83,455.6 1001.57,455.6 1002.30,455.6 1003.04,455.6 1003.77,455.6 1004.51,455.6 1005.24,455.6 1005.98,455.6 1006.71,455.6 1007.45,455.6 1008.18,455.6 1008.92,455.6 1009.65,455.6 1010.39,455.6 1011.12,455.6 1011.86,455.6 1012.60,455.6 1013.33,455.6 1014.07,455.6 1014.80,455.6 1015.54,455.6 1016.27,455.6 1017.01,455.6 1017.74,455.6 1018.48,455.6 1019.21,455.6 1019.95,455.6 1020.68,455.6 1021.42,455.6 1022.15,455.6 1022.89,455.6 1023.62,455.6 1024.36,455.6 1025.09,455.6 1025.83,455.6 1026.56,455.6 1027.30,455.6 1028.03,455.6 1028.77,455.6 1029.50,455.6 1030.24,455.6 1030.97,455.6 1031.71,455.6 1032.44,455.6 1033.18,455.6 1033.91,455.6 1034.65,455.6 1035.38,455.6 1036.12,455.6 1036.85,455.6 1037.59,455.6 1038.32,455.6 1039.06,455.6 1039.79,455.6 1040.53,455.6 1041.26,455.6 1042.00,455.6 1042.73,455.6 1043.47,455.6 1044.20,455.6 1044.94,455.6 1045.67,455.6 1046.41,455.6 1047.14,455.6 1047.88,455.6 1048.61,455.6 1049.35,455.6 1050.08,455.6 1050.82,455.6 1051.56,455.6 1052.29,455.6 1053.03,455.6 1053.32,455.6 1053.76,455.5 1054.50,455.5 1055.23,455.4 1055.91,455.4 1055.97,455.4 1056.70,455.2 1057.44,455.0 1058.17,454.8 1058.91,454.6 1059.64,454.4 1060.38,454.2 1061.11,454.0 1061.85,453.8 1062.58,453.6 1063.02,453.5 1063.32,453.5 1064.05,453.4 1064.79,453.4 1065.52,453.3 1066.26,453.3 1066.99,453.3 1067.73,453.2 1068.46,453.2 1069.20,453.1 1069.93,453.1 1070.67,453.1 1071.40,453.0 1072.14,453.0 1072.87,452.9 1073.61,452.9 1074.34,452.8 1075.08,452.8 1075.81,452.8 1076.55,452.7 1077.25,452.7 1077.28,452.7 1078.02,452.7 1078.75,452.8 1079.49,452.8 1080.22,452.9 1080.96,452.9 1081.69,453.0 1082.43,453.0 1083.16,453.1 1083.90,453.1 1084.37,453.2 1084.63,453.1 1085.37,453.0 1086.10,452.9 1086.84,452.8 1087.57,452.7 1088.02,452.6 1088.31,452.4 1089.04,452.0 1089.78,451.5 1090.51,451.1 1091.25,450.6 1091.99,450.2 1092.72,449.7 1092.96,449.6 1093.46,449.9 1094.19,450.3 1094.93,450.7 1095.66,451.1 1096.40,451.5 1096.84,451.8 1097.13,451.8 1097.87,451.9 1098.60,452.0 1099.34,452.1 1100.01,452.2 1100.07,452.2 1100.81,452.2 1101.54,452.2 1102.28,452.2 1103.01,452.2 1103.75,452.2 1104.48,452.2 1105.22,452.3 1105.95,452.3 1106.69,452.3 1107.42,452.3 1108.16,452.3 1108.89,452.3 1109.63,452.3 1110.36,452.3 1111.10,452.4 1111.83,452.4 1112.57,452.4 1112.83,452.4 1113.30,452.5 1114.04,452.6 1114.77,452.8 1115.51,452.9 1116.24,453.1 1116.83,453.2 1116.98,453.2 1117.71,453.5 1118.45,453.8 1119.18,454.1 1119.92,454.4 1120.65,454.7 1121.39,455.0 1122.12,455.3 1122.86,455.3 1123.59,455.4 1124.33,455.4 1125.06,455.5 1125.80,455.5 1126.53,455.6 1126.83,455.6 1127.27,455.6 1128.00,455.6 1128.74,455.6 1129.47,455.6 1130.21,455.6 1130.94,455.6 1131.68,455.6 1132.42,455.6 1133.15,455.6 1133.89,455.6 1134.62,455.6 1135.36,455.6 1136.09,455.6 1136.83,455.6 1137.56,455.6 1138.30,455.6 1139.03,455.6 1139.77,455.6 1140.50,455.6 1141.24,455.6 1141.97,455.6 1142.71,455.6 1143.44,455.6 1144.18,455.6 1144.91,455.6 1145.65,455.6 1146.38,455.6 1147.12,455.6 1147.85,455.6 1148.59,455.6 1149.32,455.6 1150.06,455.6 1150.79,455.6 1151.53,455.6 1152.26,455.6 1153.00,455.6 1153.73,455.6 1154.47,455.6 1155.20,455.6 1155.94,455.6 1156.67,455.6 1157.41,455.6 1158.14,455.6 1158.88,455.6 1159.61,455.6 1160.35,455.6 1161.08,455.6 1161.82,455.6 1162.55,455.6 1163.29,455.6 1164.02,455.6 1164.76,455.6 1165.49,455.6 1166.23,455.6 1166.96,455.6 1167.70,455.6 1168.43,455.6 1169.17,455.6 1169.90,455.6 1170.64,455.6 1171.37,455.6 1172.11,455.6 1172.85,455.6 1173.58,455.6 1174.32,455.6 1175.05,455.6 1175.79,455.6 1176.52,455.6 1177.26,455.6 1177.99,455.6 1178.73,455.6 1179.46,455.6 1180.20,455.6 1180.93,455.6 1181.67,455.6 1182.40,455.6 1183.14,455.6 1183.87,455.6 1184.61,455.6 1185.34,455.6 1186.08,455.6 1186.81,455.6 1187.55,455.6 1188.28,455.6 1189.02,455.6 1189.75,455.6 1190.49,455.6 1191.22,455.6 1191.96,455.6 1192.69,455.6 1193.43,455.6 1194.16,455.6 1194.90,455.6 1195.63,455.6 1196.37,455.6 1197.10,455.6 1197.84,455.6 1198.57,455.6 1199.31,455.6 1200.04,455.6 1200.78,455.6 1201.51,455.6 1202.25,455.6 1202.98,455.6 1203.72,455.6 1204.45,455.6 1205.19,455.6 1205.92,455.6 1206.66,455.6 1207.39,455.6 1208.13,455.6 1208.86,455.6 1209.60,455.6 1210.33,455.6 1211.07,455.6 1211.81,455.6 1212.54,455.6 1213.28,455.6 1214.01,455.6 1214.75,455.6 1215.48,455.6 1216.22,455.6 1216.95,455.6 1217.69,455.6 1218.42,455.6 1219.16,455.6 1219.89,455.6 1220.63,455.6 1221.36,455.6 1222.10,455.6 1222.83,455.6 1223.57,455.6 1224.30,455.6 1225.04,455.6 1225.77,455.6 1226.51,455.6 1227.24,455.6 1227.98,455.6 1228.71,455.6 1229.45,455.6 1230.18,455.6 1230.92,455.6 1231.65,455.6" stroke="#6FB802"/>
<path d="M231.19,580.6 231.93,580.6 232.66,580.6 233.40,580.6 234.13,580.6 234.87,580.6 235.60,580.6 236.34,580.6 237.07,580.6 237.81,580.6 238.54,580.6 239.28,580.6 240.01,580.6 240.75,580.6 241.48,580.6 242.22,580.6 242.95,580.6 243.69,580.6 244.42,580.6 245.16,580.6 245.89,580.6 246.63,580.6 247.36,580.6 248.10,580.6 248.83,580.6 249.57,580.6 250.31,580.6 251.04,580.6 251.78,580.6 252.51,580.6 253.25,580.6 253.98,580.6 254.72,580.6 255.45,580.6 256.19,580.6 256.92,580.6 257.66,580.6 258.39,580.6 259.13,580.6 259.86,580.6 260.60,580.6 261.33,580.6 262.07,580.6 262.80,580.6 263.54,580.6 264.27,580.6 265.01,580.6 265.74,580.6 266.48,580.6 267.21,580.6 267.95,580.6 268.68,580.6 269.42,580.6 270.15,580.6 270.89,580.6 271.62,580.6 272.36,580.6 273.09,580.6 273.83,580.6 274.56,580.6 275.30,580.6 276.03,580.6 276.77,580.6 277.50,580.6 278.24,580.6 278.97,580.6 279.71,580.6 280.44,580.6 281.18,580.6 281.91,580.6 282.65,580.6 283.38,580.6 284.12,580.6 284.85,580.6 285.59,580.6 286.32,580.6 287.06,580.6 287.79,580.6 288.53,580.6 289.26,580.6 290.00,580.6 290.74,580.6 291.47,580.6 292.21,580.6 292.94,580.6 293.68,580.6 294.41,580.6 295.15,580.6 295.88,580.6 296.62,580.6 297.35,580.6 298.09,580.6 298.82,580.6 299.56,580.6 300.29,580.6 301.03,580.6 301.76,580.6 302.50,580.6 303.23,580.6 303.97,580.6 304.70,580.6 305.44,580.6 306.17,580.6 306.91,580.6 307.64,580.6 308.38,580.6 309.11,580.6 309.85,580.6 310.58,580.6 311.32,580.6 312.05,580.6 312.79,580.6 313.52,580.6 314.26,580.6 314.99,580.6 315.73,580.6 316.46,580.6 317.20,580.6 317.93,580.6 318.67,580.6 319.40,580.6 320.14,580.6 320.87,580.6 321.61,580.6 322.34,580.6 323.08,580.6 323.81,580.6 324.55,580.6 325.28,580.6 326.02,580.6 326.75,580.6 327.49,580.6 328.22,580.6 328.96,580.6 329.69,580.6 330.43,580.6 331.17,580.6 331.90,580.6 332.64,580.6 333.37,580.6 334.11,580.6 334.84,580.6 335.58,580.6 336.31,580.6 337.05,580.6 337.78,580.6 338.52,580.6 339.25,580.6 339.99,580.6 340.72,580.6 341.46,580.6 342.19,580.6 342.93,580.6 343.66,580.6 344.40,580.6 345.13,580.6 345.87,580.6 346.60,580.6 347.34,580.6 348.07,580.6 348.81,580.6 349.54,580.6 350.28,580.6 351.01,580.6 351.75,580.6 352.48,580.6 353.22,580.6 353.95,580.6 354.69,580.6 355.42,580.6 356.16,580.6 356.89,580.6 357.63,580.6 358.36,580.6 359.10,580.6 359.83,580.6 360.57,580.6 361.30,580.6 362.04,580.6 362.77,580.6 363.51,580.6 364.24,580.6 364.98,580.6 365.71,580.6 366.45,580.6 367.18,580.6 367.92,580.6 368.65,580.6 369.39,580.6 370.12,580.6 370.86,580.6 371.60,580.6 372.33,580.6 373.07,580.6 373.80,580.6 374.54,580.6 375.27,580.6 376.01,580.6 376.74,580.6 377.48,580.6 378.21,580.6 378.95,580.6 379.68,580.6 380.42,580.6 381.15,580.6 381.89,580.6 382.62,580.6 383.36,580.6 384.09,580.6 384.83,580.6 385.56,580.6 386.30,580.6 387.03,580.6 387.77,580.6 388.50,580.6 389.24,580.6 389.97,580.6 390.71,580.6 391.44,580.6 392.18,580.6 392.91,580.6 393.65,580.6 394.38,580.6 395.12,580.6 395.85,580.6 396.59,580.6 397.32,580.6 398.06,580.6 398.79,580.6 399.53,580.6 400.26,580.6 401.00,580.6 401.73,580.6 402.47,580.6 403.20,580.6 403.94,580.6 404.67,580.6 405.41,580.6 406.14,580.6 406.88,580.6 407.61,580.6 408.35,580.6 409.08,580.6 409.82,580.6 410.56,580.6 411.29,580.6 412.03,580.6 412.76,580.6 413.50,580.6 414.23,580.5 414.97,580.5 415.70,580.5 416.44,580.5 417.17,580.4 417.91,580.4 418.64,580.4 419.38,580.4 420.11,580.3 420.85,580.3 421.58,580.3 422.32,580.3 423.05,580.2 423.79,580.2 424.52,580.2 425.26,580.2 425.99,580.1 426.73,580.0 427.46,579.9 428.20,579.8 428.93,579.7 429.67,579.7 430.40,579.6 431.14,579.5 431.87,579.4 432.61,579.3 433.34,579.2 434.08,579.1 434.81,579.1 435.55,579.0 436.28,578.9 437.02,578.8 437.75,578.7 438.49,578.6 439.22,578.5 439.96,578.5 440.69,578.3 441.43,578.1 442.16,577.9 442.90,577.8 443.63,577.6 444.37,577.4 445.10,577.2 445.84,577.0 446.57,576.9 447.02,576.8 447.31,576.5 448.04,575.9 448.78,575.4 449.51,574.8 450.25,574.2 450.99,573.6 451.72,573.0 452.46,572.4 453.19,571.8 453.93,571.2 454.66,570.7 455.40,571.1 456.13,571.6 456.87,572.0 457.60,572.5 458.34,573.0 459.07,573.4 459.81,573.9 460.54,574.3 461.28,574.8 462.01,575.2 462.75,575.7 463.48,576.2 464.22,575.7 464.95,575.2 465.69,574.7 466.42,574.2 467.16,573.7 467.89,573.2 468.63,572.7 469.36,572.2 470.10,571.7 470.83,571.2 471.57,570.7 472.30,570.2 473.04,569.7 473.77,569.2 474.51,568.7 475.24,568.3 475.98,567.8 476.42,567.5 476.71,567.7 477.45,568.3 478.18,569.0 478.92,569.6 479.65,570.2 480.39,570.8 481.12,571.5 481.86,572.1 482.59,572.7 483.33,573.3 484.06,574.0 484.80,574.6 485.53,575.2 486.27,575.8 487.00,576.5 487.59,577.0 487.74,577.0 488.47,577.1 489.21,577.2 489.94,577.3 490.68,577.4 491.42,577.5 492.15,577.6 492.89,577.8 493.62,577.9 494.36,578.0 495.09,578.1 495.83,578.2 496.56,578.3 497.30,578.4 498.03,578.5 498.77,578.6 499.50,578.8 500.24,578.9 500.97,579.0 501.53,579.1 501.71,579.1 502.44,579.1 503.18,579.2 503.91,579.2 504.65,579.3 505.38,579.3 506.12,579.4 506.85,579.4 507.59,579.5 508.32,579.6 509.06,579.6 509.79,579.7 510.53,579.7 511.26,579.8 512.00,579.8 512.73,579.9 513.47,579.9 514.20,580.0 514.94,580.0 515.67,580.1 516.41,580.1 517.14,580.2 517.88,580.3 518.61,580.3 519.35,580.4 520.08,580.4 520.82,580.4 521.55,580.4 522.29,580.4 523.02,580.4 523.76,580.4 524.49,580.4 525.23,580.4 525.96,580.4 526.70,580.4 527.43,580.4 528.17,580.4 528.90,580.4 529.64,580.4 530.38,580.4 531.11,580.4 531.85,580.4 532.58,580.4 533.32,580.4 534.05,580.4 534.79,580.4 535.52,580.4 536.26,580.4 536.99,580.4 537.73,580.4 538.46,580.4 539.20,580.4 539.93,580.4 540.67,580.4 541.40,580.4 542.14,580.4 542.87,580.4 543.46,580.4 543.61,580.4 544.34,580.3 545.08,580.3 545.81,580.2 546.55,580.2 547.28,580.2 548.02,580.1 548.75,580.1 549.49,580.1 550.22,580.0 550.96,580.0 551.69,580.0 552.43,579.9 553.16,579.9 553.90,579.9 554.63,579.8 555.37,579.8 556.10,579.7 556.84,579.7 557.57,579.7 558.31,579.6 559.04,579.6 559.78,579.6 559.93,579.6 560.51,579.5 561.25,579.5 561.98,579.4 562.72,579.4 563.45,579.3 564.19,579.3 564.92,579.3 565.66,579.2 566.39,579.2 567.13,579.1 567.86,579.1 568.60,579.0 569.33,579.0 570.07,578.9 570.81,578.9 571.54,578.8 572.28,578.8 572.86,578.8 573.01,578.7 573.75,578.7 574.48,578.6 575.22,578.5 575.95,578.5 576.69,578.4 577.42,578.3 578.16,578.3 578.89,578.2 579.33,578.2 579.63,578.1 580.36,578.0 581.10,577.9 581.83,577.8 582.57,577.7 583.30,577.6 584.04,577.5 584.77,577.4 585.39,577.3 585.51,577.2 586.24,576.7 586.98,576.3 587.71,575.8 588.45,575.3 588.74,575.2 589.18,574.7 589.92,573.8 590.65,573.0 591.39,572.2 591.92,571.6 592.12,571.3 592.86,570.5 593.59,569.6 594.33,568.7 594.92,568.1 595.06,567.8 595.80,566.5 596.53,565.1 597.27,563.8 597.44,563.5 598.00,561.8 598.74,559.7 599.47,557.5 599.62,557.1 600.21,554.3 600.94,550.8 601.27,549.3 601.68,546.2 602.41,540.7 602.97,536.6 603.15,534.6 603.88,526.4 604.38,520.9 604.62,517.5 605.35,506.8 605.85,499.6 606.09,497.0 606.82,488.9 607.56,480.7 608.29,472.6 608.74,467.8 609.03,467.8 609.76,467.8 610.50,467.8 611.09,467.8 611.24,471.1 611.97,487.6 612.50,499.6 612.71,502.2 613.44,511.7 614.15,520.9 614.18,521.2 614.91,530.6 615.38,536.6 615.65,538.9 616.38,545.6 616.79,549.3 617.12,550.9 617.85,554.6 618.44,557.6 618.59,558.0 619.32,560.0 620.06,562.1 620.56,563.5 620.79,563.7 621.53,564.6 622.26,565.5 623.00,566.4 623.73,567.2 624.44,568.1 624.47,568.1 625.20,568.7 625.94,569.3 626.67,569.9 627.41,570.5 628.14,571.1 628.88,571.7 629.61,572.3 630.35,572.9 630.91,573.4 631.08,573.4 631.82,573.5 632.55,573.7 633.29,573.8 634.02,574.0 634.76,574.1 635.49,574.3 636.23,574.4 636.96,574.6 637.70,574.7 638.43,574.9 639.17,575.0 639.90,575.2 640.64,575.3 641.37,575.4 642.11,575.6 642.84,575.7 643.58,575.9 643.96,576.0 644.31,576.0 645.05,576.1 645.78,576.1 646.52,576.2 647.25,576.3 647.99,576.4 648.72,576.4 649.46,576.5 650.19,576.6 650.93,576.7 651.67,576.7 652.40,576.8 653.14,576.9 653.87,577.0 654.61,577.0 655.34,577.1 656.08,577.2 656.81,577.3 657.55,577.3 658.28,577.4 659.02,577.5 659.75,577.5 659.90,577.6 660.49,577.6 661.22,577.6 661.96,577.7 662.69,577.7 663.43,577.8 664.16,577.8 664.90,577.8 665.63,577.9 666.37,577.9 667.10,578.0 667.84,578.0 668.57,578.1 669.31,578.1 670.04,578.1 670.78,578.2 671.51,578.2 672.25,578.3 672.98,578.3 673.72,578.3 674.45,578.4 675.19,578.4 675.92,578.5 676.66,578.5 677.39,578.6 677.54,578.6 678.13,578.6 678.86,578.6 679.60,578.7 680.33,578.7 681.07,578.8 681.80,578.8 682.54,578.9 683.27,578.9 684.01,579.0 684.74,579.0 685.48,579.1 686.21,579.1 686.95,579.2 687.68,579.2 688.42,579.3 689.15,579.3 689.89,579.4 690.62,579.4 691.36,579.5 692.10,579.5 692.83,579.6 693.57,579.6 694.30,579.7 695.04,579.7 695.77,579.8 696.51,579.8 696.95,579.9 697.24,579.9 697.98,579.9 698.71,579.9 699.45,579.9 700.18,579.9 700.92,579.9 701.65,580.0 702.39,580.0 703.12,580.0 703.86,580.0 704.59,580.0 705.33,580.0 706.06,580.0 706.80,580.0 707.53,580.1 708.27,580.1 709.00,580.1 709.74,580.1 710.47,580.1 711.21,580.1 711.94,580.1 712.68,580.2 713.41,580.2 714.15,580.2 714.88,580.2 715.62,580.2 716.35,580.2 717.09,580.2 717.82,580.3 718.56,580.3 719.29,580.3 720.03,580.3 720.76,580.3 721.50,580.3 722.23,580.3 722.97,580.4 723.70,580.4 724.44,580.4 725.17,580.4 725.91,580.4 726.64,580.4 727.38,580.4 728.11,580.5 728.85,580.5 729.58,580.5 730.32,580.5 731.06,580.5 731.79,580.5 732.53,580.5 733.26,580.6 733.41,580.6 734.00,580.6 734.73,580.6 735.47,580.6 736.20,580.6 736.94,580.6 737.67,580.6 738.41,580.6 739.14,580.6 739.88,580.6 740.61,580.6 741.35,580.6 742.08,580.6 742.82,580.6 743.55,580.6 744.29,580.6 745.02,580.6 745.76,580.6 746.49,580.6 747.23,580.6 747.96,580.6 748.70,580.6 749.43,580.6 750.17,580.6 750.90,580.6 751.64,580.6 752.37,580.6 753.11,580.6 753.84,580.6 754.58,580.6 755.31,580.6 756.05,580.6 756.78,580.6 757.52,580.6 758.25,580.6 758.99,580.6 759.72,580.6 760.46,580.6 761.19,580.6 761.93,580.6 762.66,580.6 763.40,580.6 764.13,580.6 764.87,580.6 765.60,580.6 766.34,580.6 767.07,580.6 767.81,580.6 768.54,580.6 769.28,580.6 770.01,580.6 770.75,580.6 771.49,580.6 772.22,580.6 772.96,580.6 773.69,580.6 774.43,580.6 775.16,580.6 775.90,580.6 776.63,580.6 777.37,580.6 778.10,580.6 778.84,580.6 779.57,580.6 780.31,580.6 781.04,580.6 781.78,580.6 782.51,580.6 783.25,580.6 783.98,580.6 784.72,580.6 785.45,580.6 786.19,580.6 786.92,580.6 787.66,580.6 788.39,580.6 789.13,580.6 789.86,580.6 790.60,580.6 791.33,580.6 792.07,580.6 792.80,580.6 793.54,580.6 794.27,580.6 795.01,580.6 795.74,580.6 796.48,580.6 797.21,580.6 797.95,580.6 798.68,580.6 799.42,580.6 800.15,580.6 800.89,580.6 801.62,580.6 802.36,580.6 803.09,580.6 803.83,580.6 804.56,580.6 805.30,580.6 806.03,580.6 806.77,580.6 807.50,580.6 808.24,580.6 808.97,580.6 809.71,580.6 810.44,580.6 811.18,580.6 811.92,580.6 812.65,580.6 813.39,580.6 814.12,580.6 814.86,580.6 815.59,580.6 816.33,580.6 817.06,580.6 817.80,580.6 818.53,580.6 819.27,580.6 820.00,580.6 820.74,580.6 821.47,580.6 822.21,580.6 822.94,580.6 823.68,580.6 824.41,580.6 825.15,580.6 825.88,580.6 826.62,580.6 827.35,580.6 828.09,580.6 828.82,580.6 829.56,580.6 830.29,580.6 831.03,580.6 831.76,580.6 832.50,580.6 833.23,580.6 833.97,580.6 834.70,580.6 835.44,580.6 836.17,580.6 836.91,580.6 837.64,580.6 838.38,580.6 839.11,580.6 839.85,580.6 840.58,580.6 841.32,580.6 842.05,580.6 842.79,580.6 843.52,580.6 844.26,580.6 844.99,580.6 845.73,580.6 846.46,580.6 847.20,580.6 847.93,580.6 848.67,580.6 849.40,580.6 850.14,580.6 850.88,580.6 851.61,580.6 852.35,580.6 853.08,580.6 853.82,580.6 854.55,580.6 855.29,580.6 856.02,580.6 856.76,580.6 857.49,580.6 858.23,580.6 858.96,580.6 859.70,580.6 860.43,580.6 861.17,580.6 861.90,580.6 862.64,580.6 863.37,580.6 864.11,580.6 864.84,580.6 865.58,580.6 866.31,580.6 867.05,580.6 867.78,580.6 868.52,580.6 869.25,580.6 869.99,580.6 870.72,580.6 871.46,580.6 872.19,580.6 872.93,580.6 873.66,580.6 874.40,580.6 875.13,580.6 875.87,580.6 876.60,580.6 877.34,580.6 878.07,580.6 878.81,580.6 879.54,580.6 880.28,580.6 881.01,580.6 881.75,580.6 882.48,580.6 883.22,580.6 883.95,580.6 884.69,580.6 885.42,580.6 886.16,580.6 886.89,580.6 887.63,580.6 888.36,580.6 889.10,580.6 889.83,580.6 890.57,580.6 891.31,580.6 892.04,580.6 892.78,580.6 893.51,580.6 894.25,580.6 894.98,580.6 895.72,580.6 896.45,580.6 897.19,580.6 897.92,580.6 898.66,580.6 899.39,580.6 900.13,580.6 900.86,580.6 901.60,580.6 902.33,580.6 903.07,580.6 903.80,580.6 904.54,580.6 905.27,580.6 906.01,580.6 906.74,580.6 907.48,580.6 908.21,580.6 908.95,580.6 909.68,580.6 910.42,580.6 911.15,580.6 911.89,580.6 912.62,580.6 913.36,580.6 914.09,580.6 914.83,580.6 915.56,580.6 916.30,580.6 917.03,580.6 917.77,580.6 918.50,580.6 919.24,580.6 919.97,580.6 920.71,580.6 921.44,580.6 922.18,580.6 922.91,580.6 923.65,580.6 924.38,580.6 925.12,580.6 925.85,580.6 926.59,580.6 927.32,580.6 928.06,580.6 928.79,580.6 929.53,580.6 930.26,580.6 931.00,580.6 931.74,580.6 932.47,580.6 933.21,580.6 933.94,580.6 934.68,580.6 935.41,580.6 936.15,580.6 936.88,580.6 937.62,580.6 938.35,580.6 939.09,580.6 939.82,580.6 940.56,580.6 941.29,580.6 942.03,580.6 942.76,580.6 943.50,580.6 944.23,580.6 944.97,580.6 945.70,580.6 946.44,580.6 947.17,580.6 947.91,580.6 948.64,580.6 949.38,580.6 950.11,580.6 950.85,580.6 951.58,580.6 952.32,580.6 953.05,580.6 953.79,580.6 954.52,580.6 955.26,580.6 955.99,580.6 956.73,580.6 957.46,580.6 958.20,580.6 958.93,580.6 959.67,580.6 960.40,580.6 961.14,580.6 961.87,580.6 962.61,580.6 963.34,580.6 964.08,580.6 964.81,580.6 965.55,580.6 966.28,580.6 967.02,580.6 967.75,580.6 968.49,580.6 969.22,580.6 969.96,580.6 970.69,580.6 971.43,580.6 972.17,580.6 972.90,580.6 973.64,580.6 974.37,580.6 975.11,580.6 975.84,580.6 976.58,580.6 977.31,580.6 978.05,580.6 978.78,580.6 979.52,580.6 980.25,580.6 980.99,580.6 981.72,580.6 982.46,580.6 983.19,580.6 983.93,580.6 984.66,580.6 985.40,580.6 986.13,580.6 986.87,580.6 987.60,580.6 988.34,580.6 989.07,580.6 989.81,580.6 990.54,580.6 991.28,580.6 992.01,580.6 992.75,580.6 993.48,580.6 994.22,580.6 994.95,580.6 995.69,580.6 996.42,580.6 997.16,580.6 997.89,580.6 998.63,580.6 999.36,580.6 1000.10,580.6 1000.83,580.6 1001.57,580.6 1002.30,580.6 1003.04,580.6 1003.77,580.6 1004.51,580.6 1005.24,580.6 1005.98,580.6 1006.71,580.6 1007.45,580.6 1008.18,580.6 1008.92,580.6 1009.65,580.6 1010.39,580.6 1011.12,580.6 1011.86,580.6 1012.60,580.6 1013.33,580.6 1014.07,580.6 1014.80,580.6 1015.54,580.6 1016.27,580.6 1017.01,580.6 1017.74,580.6 1018.48,580.6 1019.21,580.6 1019.95,580.6 1020.68,580.6 1021.42,580.6 1022.15,580.6 1022.89,580.6 1023.62,580.6 1024.36,580.6 1025.09,580.6 1025.83,580.6 1026.56,580.6 1027.30,580.6 1028.03,580.6 1028.77,580.6 1029.50,580.6 1030.24,580.6 1030.97,580.6 1031.71,580.6 1032.44,580.6 1033.18,580.6 1033.91,580.6 1034.65,580.6 1035.38,580.6 1036.12,580.6 1036.85,580.6 1037.59,580.6 1038.32,580.6 1039.06,580.6 1039.79,580.6 1040.53,580.6 1041.26,580.6 1042.00,580.6 1042.73,580.6 1043.47,580.6 1044.20,580.6 1044.94,580.6 1045.67,580.6 1046.41,580.6 1047.14,580.6 1047.88,580.6 1048.61,580.6 1049.35,580.6 1050.08,580.6 1050.82,580.6 1051.56,580.6 1052.29,580.6 1053.03,580.6 1053.32,580.6 1053.76,580.5 1054.50,580.5 1055.23,580.4 1055.91,580.4 1055.97,580.3 1056.70,580.1 1057.44,580.0 1058.17,579.8 1058.91,579.6 1059.64,579.4 1060.38,579.2 1061.11,579.0 1061.85,578.8 1062.58,578.6 1063.02,578.5 1063.32,578.4 1064.05,578.4 1064.79,578.4 1065.52,578.3 1066.26,578.3 1066.99,578.2 1067.73,578.2 1068.46,578.2 1069.20,578.1 1069.93,578.1 1070.67,578.0 1071.40,578.0 1072.14,577.9 1072.87,577.9 1073.61,577.9 1074.34,577.8 1075.08,577.8 1075.81,577.7 1076.55,577.7 1077.25,577.7 1077.28,577.7 1078.02,577.7 1078.75,577.8 1079.49,577.8 1080.22,577.9 1080.96,577.9 1081.69,578.0 1082.43,578.0 1083.16,578.1 1083.90,578.1 1084.37,578.2 1084.63,578.1 1085.37,578.0 1086.10,577.9 1086.84,577.8 1087.57,577.6 1088.02,577.6 1088.31,577.4 1089.04,576.9 1089.78,576.5 1090.51,576.0 1091.25,575.6 1091.99,575.1 1092.72,574.7 1092.96,574.6 1093.46,574.8 1094.19,575.3 1094.93,575.7 1095.66,576.1 1096.40,576.5 1096.84,576.8 1097.13,576.8 1097.87,576.9 1098.60,577.0 1099.34,577.1 1100.01,577.2 1100.07,577.2 1100.81,577.2 1101.54,577.2 1102.28,577.2 1103.01,577.2 1103.75,577.2 1104.48,577.2 1105.22,577.2 1105.95,577.3 1106.69,577.3 1107.42,577.3 1108.16,577.3 1108.89,577.3 1109.63,577.3 1110.36,577.3 1111.10,577.3 1111.83,577.3 1112.57,577.4 1112.83,577.4 1113.30,577.5 1114.04,577.6 1114.77,577.7 1115.51,577.9 1116.24,578.0 1116.83,578.2 1116.98,578.2 1117.71,578.5 1118.45,578.8 1119.18,579.1 1119.92,579.4 1120.65,579.7 1121.39,580.0 1122.12,580.3 1122.86,580.3 1123.59,580.4 1124.33,580.4 1125.06,580.4 1125.80,580.5 1126.53,580.5 1126.83,580.6 1127.27,580.6 1128.00,580.6 1128.74,580.6 1129.47,580.6 1130.21,580.6 1130.94,580.6 1131.68,580.6 1132.42,580.6 1133.15,580.6 1133.89,580.6 1134.62,580.6 1135.36,580.6 1136.09,580.6 1136.83,580.6 1137.56,580.6 1138.30,580.6 1139.03,580.6 1139.77,580.6 1140.50,580.6 1141.24,580.6 1141.97,580.6 1142.71,580.6 1143.44,580.6 1144.18,580.6 1144.91,580.6 1145.65,580.6 1146.38,580.6 1147.12,580.6 1147.85,580.6 1148.59,580.6 1149.32,580.6 1150.06,580.6 1150.79,580.6 1151.53,580.6 1152.26,580.6 1153.00,580.6 1153.73,580.6 1154.47,580.6 1155.20,580.6 1155.94,580.6 1156.67,580.6 1157.41,580.6 1158.14,580.6 1158.88,580.6 1159.61,580.6 1160.35,580.6 1161.08,580.6 1161.82,580.6 1162.55,580.6 1163.29,580.6 1164.02,580.6 1164.76,580.6 1165.49,580.6 1166.23,580.6 1166.96,580.6 1167.70,580.6 1168.43,580.6 1169.17,580.6 1169.90,580.6 1170.64,580.6 1171.37,580.6 1172.11,580.6 1172.85,580.6 1173.58,580.6 1174.32,580.6 1175.05,580.6 1175.79,580.6 1176.52,580.6 1177.26,580.6 1177.99,580.6 1178.73,580.6 1179.46,580.6 1180.20,580.6 1180.93,580.6 1181.67,580.6 1182.40,580.6 1183.14,580.6 1183.87,580.6 1184.61,580.6 1185.34,580.6 1186.08,580.6 1186.81,580.6 1187.55,580.6 1188.28,580.6 1189.02,580.6 1189.75,580.6 1190.49,580.6 1191.22,580.6 1191.96,580.6 1192.69,580.6 1193.43,580.6 1194.16,580.6 1194.90,580.6 1195.63,580.6 1196.37,580.6 1197.10,580.6 1197.84,580.6 1198.57,580.6 1199.31,580.6 1200.04,580.6 1200.78,580.6 1201.51,580.6 1202.25,580.6 1202.98,580.6 1203.72,580.6 1204.45,580.6 1205.19,580.6 1205.92,580.6 1206.66,580.6 1207.39,580.6 1208.13,580.6 1208.86,580.6 1209.60,580.6 1210.33,580.6 1211.07,580.6 1211.81,580.6 1212.54,580.6 1213.28,580.6 1214.01,580.6 1214.75,580.6 1215.48,580.6 1216.22,580.6 1216.95,580.6 1217.69,580.6 1218.42,580.6 1219.16,580.6 1219.89,580.6 1220.63,580.6 1221.36,580.6 1222.10,580.6 1222.83,580.6 1223.57,580.6 1224.30,580.6 1225.04,580.6 1225.77,580.6 1226.51,580.6 1227.24,580.6 1227.98,580.6 1228.71,580.6 1229.45,580.6 1230.18,580.6 1230.92,580.6 1231.65,580.6" stroke="#6699CC"/>
<path d="M231.19,705.5 231.93,705.5 232.66,705.7 233.40,705.8 234.13,705.8 234.87,705.7 235.60,705.5 236.34,705.5 237.07,705.5 237.81,705.5 238.54,705.5 239.28,705.5 240.01,705.5 240.75,705.5 241.48,705.5 242.22,705.5 242.95,705.5 243.69,705.5 244.42,705.5 245.16,705.3 245.89,705.1 246.63,705.1 247.36,705.3 248.10,705.5 248.83,705.5 249.57,705.5 250.31,705.5 251.04,705.4 251.78,705.2 252.51,705.2 253.25,705.4 253.98,705.5 254.72,705.5 255.45,705.5 256.19,705.5 256.92,705.5 257.66,705.5 258.39,705.5 259.13,705.5 259.86,705.5 260.60,705.5 261.33,705.5 262.07,705.5 262.80,705.5 263.54,705.5 264.27,705.5 265.01,705.5 265.74,705.5 266.48,705.5 267.21,705.5 267.95,705.5 268.68,705.5 269.42,705.5 270.15,705.5 270.89,705.5 271.62,705.5 272.36,705.5 273.09,705.5 273.83,705.5 274.56,705.5 275.30,705.5 276.03,705.5 276.77,705.5 277.50,705.5 278.24,705.5 278.97,705.5 279.71,705.5 280.44,705.5 281.18,705.5 281.91,705.5 282.65,705.5 283.38,705.5 284.12,705.5 284.85,705.5 285.59,705.5 286.32,705.5 287.06,705.5 287.79,705.5 288.53,705.5 289.26,705.5 290.00,705.5 290.74,705.5 291.47,705.5 292.21,705.5 292.94,705.5 293.68,705.5 294.41,705.5 295.15,705.5 295.88,705.4 296.62,705.2 297.35,705.2 298.09,705.4 298.82,705.5 299.56,705.5 300.29,705.5 301.03,705.5 301.76,705.5 302.50,705.5 303.23,705.5 303.97,705.5 304.70,705.5 305.44,705.5 306.17,705.5 306.91,705.4 307.64,705.2 308.38,705.2 309.11,705.4 309.85,705.5 310.58,705.5 311.32,705.5 312.05,705.5 312.79,705.5 313.52,705.5 314.26,705.5 314.99,705.5 315.73,705.5 316.46,705.5 317.20,705.5 317.93,705.5 318.67,705.5 319.40,705.5 320.14,705.5 320.87,705.5 321.61,705.5 322.34,705.5 323.08,705.5 323.81,705.5 324.55,705.5 325.28,705.5 326.02,705.5 326.75,705.5 327.49,705.5 328.22,705.5 328.96,705.5 329.69,705.5 330.43,705.5 331.17,705.5 331.90,705.5 332.64,705.5 333.37,705.5 334.11,705.5 334.84,705.5 335.58,705.5 336.31,705.5 337.05,705.5 337.78,705.5 338.52,705.5 339.25,705.5 339.99,705.5 340.72,705.5 341.46,705.5 342.19,705.5 342.93,705.5 343.66,705.5 344.40,705.5 345.13,705.5 345.87,705.5 346.60,705.5 347.34,705.5 348.07,705.4 348.81,705.2 349.54,705.2 350.28,705.4 351.01,705.5 351.75,705.5 352.48,705.3 353.22,704.8 353.95,704.6 354.69,704.8 355.42,705.3 356.16,705.5 356.89,705.5 357.63,705.5 358.36,705.5 359.10,705.5 359.83,705.5 360.57,705.5 361.30,705.5 362.04,705.5 362.77,705.5 363.51,705.5 364.24,705.5 364.98,705.5 365.71,705.5 366.45,705.5 367.18,705.3 367.92,705.1 368.65,705.1 369.39,705.3 370.12,705.5 370.86,705.5 371.60,705.5 372.33,705.5 373.07,705.5 373.80,705.5 374.54,705.5 375.27,705.5 376.01,705.5 376.74,705.5 377.48,705.5 378.21,705.5 378.95,705.3 379.68,705.1 380.42,705.1 381.15,705.3 381.89,705.5 382.62,705.5 383.36,705.5 384.09,705.5 384.83,705.5 385.56,705.5 386.30,705.5 387.03,705.5 387.77,705.5 388.50,705.5 389.24,705.5 389.97,705.5 390.71,705.5 391.44,705.5 392.18,705.5 392.91,705.5 393.65,705.5 394.38,705.5 395.12,705.5 395.85,705.3 396.59,705.0 397.32,705.0 398.06,705.3 398.79,705.5 399.53,705.5 400.26,705.5 401.00,705.5 401.73,705.5 402.47,705.5 403.20,705.5 403.94,705.5 404.67,705.5 405.41,705.5 406.14,705.5 406.88,705.5 407.61,705.5 408.35,705.5 409.08,705.5 409.82,705.5 410.56,705.5 411.29,705.5 412.03,705.5 412.76,705.5 413.50,705.5 414.23,705.5 414.97,705.5 415.70,705.5 416.44,705.4 417.17,705.4 417.91,705.4 418.64,705.4 419.38,705.3 420.11,705.1 420.85,704.9 421.58,704.9 422.32,705.1 423.05,705.2 423.79,705.2 424.52,705.2 425.26,705.1 425.99,705.1 426.73,705.0 427.46,704.9 428.20,704.8 428.93,704.7 429.67,704.6 430.40,704.5 431.14,704.5 431.87,704.4 432.61,704.3 433.34,704.2 434.08,704.1 434.81,704.0 435.55,703.9 436.28,703.6 437.02,703.3 437.75,703.2 438.49,703.4 439.22,703.5 439.96,703.4 440.69,703.3 441.43,703.1 442.16,702.9 442.90,702.7 443.63,702.6 444.37,702.4 445.10,702.0 445.84,701.6 446.57,701.5 447.02,701.5 447.31,701.5 448.04,700.9 448.78,700.3 449.51,699.7 450.25,699.2 450.99,698.6 451.72,698.0 452.46,697.4 453.19,696.7 453.93,695.9 454.66,695.3 455.40,695.9 456.13,696.4 456.87,696.6 457.60,697.1 458.34,697.7 459.07,698.4 459.81,698.8 460.54,699.3 461.28,699.8 462.01,700.1 462.75,700.6 463.48,701.2 464.22,700.9 464.95,700.1 465.69,699.2 466.42,698.7 467.16,698.4 467.89,698.2 468.63,697.7 469.36,697.2 470.10,696.7 470.83,696.0 471.57,695.2 472.30,694.7 473.04,694.5 473.77,694.2 474.51,693.7 475.24,693.0 475.98,692.3 476.42,692.0 476.71,692.5 477.45,693.3 478.18,693.9 478.92,694.6 479.65,695.2 480.39,695.8 481.12,696.4 481.86,697.1 482.59,697.7 483.33,698.3 484.06,698.9 484.80,699.6 485.53,700.2 486.27,700.8 487.00,701.4 487.59,701.9 487.74,702.0 488.47,702.1 489.21,702.2 489.94,702.3 490.68,702.4 491.42,702.5 492.15,702.4 492.89,702.3 493.62,702.4 494.36,702.7 495.09,703.1 495.83,703.2 496.56,703.3 497.30,703.4 498.03,703.5 498.77,703.6 499.50,703.7 500.24,703.8 500.97,704.0 501.53,704.0 501.71,704.1 502.44,704.1 503.18,704.2 503.91,704.2 504.65,704.3 505.38,704.3 506.12,704.4 506.85,704.3 507.59,704.0 508.32,703.9 509.06,704.1 509.79,704.5 510.53,704.7 511.26,704.8 512.00,704.8 512.73,704.9 513.47,704.9 514.20,705.0 514.94,705.0 515.67,705.1 516.41,705.1 517.14,705.2 517.88,705.2 518.61,705.3 519.35,705.3 520.08,705.3 520.82,705.3 521.55,705.5 522.29,705.6 523.02,705.6 523.76,705.5 524.49,705.3 525.23,705.3 525.96,705.3 526.70,705.3 527.43,705.3 528.17,705.3 528.90,705.3 529.64,705.3 530.38,705.3 531.11,705.3 531.85,705.3 532.58,705.3 533.32,705.3 534.05,705.3 534.79,705.3 535.52,705.3 536.26,705.3 536.99,705.3 537.73,705.1 538.46,704.7 539.20,704.2 539.93,704.3 540.67,704.7 541.40,705.2 542.14,705.3 542.87,705.3 543.46,705.3 543.61,705.1 544.34,704.9 545.08,704.8 545.81,705.0 546.55,705.2 547.28,705.2 548.02,705.1 548.75,705.1 549.49,705.0 550.22,705.0 550.96,705.0 551.69,704.9 552.43,704.9 553.16,704.9 553.90,704.8 554.63,704.8 555.37,704.6 556.10,704.4 556.84,704.1 557.57,704.0 558.31,704.2 559.04,704.4 559.78,704.5 559.93,704.5 560.51,704.5 561.25,704.5 561.98,704.4 562.72,704.4 563.45,704.1 564.19,703.8 564.92,703.8 565.66,703.8 566.39,703.8 567.13,703.8 567.86,703.9 568.60,704.0 569.33,703.8 570.07,703.5 570.81,703.5 571.54,703.6 572.28,703.8 572.86,703.6 573.01,703.4 573.75,703.3 574.48,703.4 575.22,703.5 575.95,703.4 576.69,703.4 577.42,703.3 578.16,703.2 578.89,703.2 579.33,703.3 579.63,703.4 580.36,703.3 581.10,703.0 581.83,702.8 582.57,702.7 583.30,702.6 584.04,702.4 584.77,702.3 585.39,702.2 585.51,702.2 586.24,701.7 586.98,701.2 587.71,700.5 588.45,699.8 588.74,699.7 589.18,699.4 589.92,698.8 590.65,698.0 591.39,697.1 591.92,696.5 592.12,696.3 592.86,695.4 593.59,694.6 594.33,693.7 594.92,693.0 595.06,692.6 595.80,691.1 596.53,689.8 597.27,688.6 597.44,688.4 598.00,686.6 598.74,684.2 599.47,682.0 599.62,681.8 600.21,679.3 600.94,675.8 601.27,674.2 601.68,671.2 602.41,665.7 602.97,661.5 603.15,659.6 603.88,651.4 604.38,645.8 604.62,642.4 605.35,631.8 605.85,624.5 606.09,621.9 606.82,613.8 607.56,605.5 608.29,597.2 608.74,592.3 609.03,592.5 609.76,592.7 610.50,592.6 611.09,592.4 611.24,595.7 611.97,612.2 612.50,624.1 612.71,626.8 613.44,636.5 614.15,645.8 614.18,646.2 614.91,655.3 615.38,661.1 615.65,663.3 616.38,669.8 616.79,673.6 617.12,675.4 617.85,679.4 618.44,682.5 618.59,682.9 619.32,685.0 620.06,687.0 620.56,688.4 620.79,688.7 621.53,689.6 622.26,690.5 623.00,691.3 623.73,692.2 624.44,693.0 624.47,693.1 625.20,693.7 625.94,694.3 626.67,694.9 627.41,695.5 628.14,696.1 628.88,696.7 629.61,697.3 630.35,697.9 630.91,698.3 631.08,698.4 631.82,698.4 632.55,698.4 633.29,698.5 634.02,698.8 634.76,699.1 635.49,699.3 636.23,699.4 636.96,699.5 637.70,699.7 638.43,699.8 639.17,700.0 639.90,700.1 640.64,700.3 641.37,700.4 642.11,700.6 642.84,700.7 643.58,700.9 643.96,700.9 644.31,700.8 645.05,700.5 645.78,700.3 646.52,700.6 647.25,701.1 647.99,701.3 648.72,701.4 649.46,701.5 650.19,701.6 650.93,701.6 651.67,701.7 652.40,701.8 653.14,701.9 653.87,701.9 654.61,702.0 655.34,702.1 656.08,702.2 656.81,702.2 657.55,702.3 658.28,702.2 659.02,702.1 659.75,702.1 659.90,702.3 660.49,702.6 661.22,702.4 661.96,702.2 662.69,702.2 663.43,702.5 664.16,702.8 664.90,702.8 665.63,702.9 666.37,702.9 667.10,702.9 667.84,703.0 668.57,703.0 669.31,703.1 670.04,703.1 670.78,702.9 671.51,702.7 672.25,702.8 672.98,703.1 673.72,703.3 674.45,703.4 675.19,703.4 675.92,703.4 676.66,703.5 677.39,703.5 677.54,703.5 678.13,703.6 678.86,703.6 679.60,703.7 680.33,703.5 681.07,703.4 681.80,703.5 682.54,703.7 683.27,703.9 684.01,704.0 684.74,704.0 685.48,703.9 686.21,703.7 686.95,703.8 687.68,704.0 688.42,704.3 689.15,704.3 689.89,704.4 690.62,704.4 691.36,704.5 692.10,704.5 692.83,704.6 693.57,704.4 694.30,704.3 695.04,704.4 695.77,704.6 696.51,704.8 696.95,704.8 697.24,704.8 697.98,704.6 698.71,704.4 699.45,704.4 700.18,704.7 700.92,704.9 701.65,704.9 702.39,704.9 703.12,705.0 703.86,705.0 704.59,705.0 705.33,705.0 706.06,705.0 706.80,705.0 707.53,705.0 708.27,705.1 709.00,705.1 709.74,705.1 710.47,705.1 711.21,705.1 711.94,705.1 712.68,705.1 713.41,705.2 714.15,705.2 714.88,705.2 715.62,705.2 716.35,705.2 717.09,705.4 717.82,705.6 718.56,705.6 719.29,705.4 720.03,705.3 720.76,705.3 721.50,705.2 722.23,705.0 722.97,705.0 723.70,705.2 724.44,705.4 725.17,705.4 725.91,705.4 726.64,705.4 727.38,705.4 728.11,705.4 728.85,705.5 729.58,705.5 730.32,705.5 731.06,705.5 731.79,705.5 732.53,705.5 733.26,705.5 733.41,705.5 734.00,705.5 734.73,705.5 735.47,705.5 736.20,705.5 736.94,705.5 737.67,705.7 738.41,705.9 739.14,705.9 739.88,705.7 740.61,705.5 741.35,705.5 742.08,705.5 742.82,705.5 743.55,705.5 744.29,705.5 745.02,705.5 745.76,705.4 746.49,705.2 747.23,705.2 747.96,705.4 748.70,705.5 749.43,705.7 750.17,705.8 750.90,705.8 751.64,705.7 752.37,705.5 753.11,705.5 753.84,705.5 754.58,705.5 755.31,705.5 756.05,705.5 756.78,705.5 757.52,705.5 758.25,705.5 758.99,705.5 759.72,705.5 760.46,705.5 761.19,705.5 761.93,705.5 762.66,705.4 763.40,705.4 764.13,705.5 764.87,705.7 765.60,705.7 766.34,705.5 767.07,705.5 767.81,705.5 768.54,705.5 769.28,705.5 770.01,705.5 770.75,705.5 771.49,705.3 772.22,705.0 772.96,705.0 773.69,705.4 774.43,705.8 775.16,705.7 775.90,705.6 776.63,705.6 777.37,705.8 778.10,705.7 778.84,705.5 779.57,705.5 780.31,705.5 781.04,705.5 781.78,705.5 782.51,705.5 783.25,705.5 783.98,705.5 784.72,705.5 785.45,705.5 786.19,705.5 786.92,705.5 787.66,705.5 788.39,705.5 789.13,705.5 789.86,705.5 790.60,705.5 791.33,705.5 792.07,705.5 792.80,705.5 793.54,705.5 794.27,705.5 795.01,705.5 795.74,705.5 796.48,705.5 797.21,705.5 797.95,705.5 798.68,705.3 799.42,705.1 800.15,705.1 800.89,705.3 801.62,705.5 802.36,705.5 803.09,705.5 803.83,705.5 804.56,705.5 805.30,705.5 806.03,705.5 806.77,705.7 807.50,705.9 808.24,705.9 808.97,705.7 809.71,705.3 810.44,705.1 811.18,704.9 811.92,704.9 812.65,705.1 813.39,705.3 814.12,705.5 814.86,705.5 815.59,705.3 816.33,705.1 817.06,705.1 817.80,705.3 818.53,705.5 819.27,705.5 820.00,705.5 820.74,705.5 821.47,705.5 822.21,705.3 822.94,705.1 823.68,705.1 824.41,705.3 825.15,705.4 825.88,705.2 826.62,705.2 827.35,705.4 828.09,705.5 828.82,705.5 829.56,705.5 830.29,705.5 831.03,705.5 831.76,705.5 832.50,705.5 833.23,705.5 833.97,705.5 834.70,705.5 835.44,705.5 836.17,705.5 836.91,705.5 837.64,705.5 838.38,705.5 839.11,705.5 839.85,705.5 840.58,705.5 841.32,705.5 842.05,705.5 842.79,705.5 843.52,705.5 844.26,705.5 844.99,705.5 845.73,705.5 846.46,705.3 847.20,705.1 847.93,705.1 848.67,705.3 849.40,705.5 850.14,705.5 850.88,705.5 851.61,705.5 852.35,705.5 853.08,705.5 853.82,705.5 854.55,705.3 855.29,705.1 856.02,705.1 856.76,705.3 857.49,705.5 858.23,705.7 858.96,705.8 859.70,705.6 860.43,705.2 861.17,705.1 861.90,705.3 862.64,705.5 863.37,705.5 864.11,705.5 864.84,705.5 865.58,705.5 866.31,705.5 867.05,705.5 867.78,705.5 868.52,705.5 869.25,705.5 869.99,705.5 870.72,705.5 871.46,705.5 872.19,705.5 872.93,705.5 873.66,705.5 874.40,705.5 875.13,705.5 875.87,705.5 876.60,705.5 877.34,705.5 878.07,705.5 878.81,705.5 879.54,705.5 880.28,705.5 881.01,705.5 881.75,705.5 882.48,705.5 883.22,705.5 883.95,705.5 884.69,705.3 885.42,705.1 886.16,705.1 886.89,705.3 887.63,705.5 888.36,705.5 889.10,705.5 889.83,705.5 890.57,705.5 891.31,705.5 892.04,705.5 892.78,705.5 893.51,705.5 894.25,705.5 894.98,705.5 895.72,705.5 896.45,705.5 897.19,705.5 897.92,705.3 898.66,705.1 899.39,705.1 900.13,705.3 900.86,705.5 901.60,705.5 902.33,705.3 903.07,705.0 903.80,704.8 904.54,704.8 905.27,705.1 906.01,705.3 906.74,705.5 907.48,705.5 908.21,705.5 908.95,705.5 909.68,705.5 910.42,705.5 911.15,705.5 911.89,705.5 912.62,705.5 913.36,705.5 914.09,705.5 914.83,705.5 915.56,705.5 916.30,705.5 917.03,705.5 917.77,705.5 918.50,705.5 919.24,705.5 919.97,705.5 920.71,705.5 921.44,705.5 922.18,705.5 922.91,705.5 923.65,705.5 924.38,705.5 925.12,705.5 925.85,705.5 926.59,705.5 927.32,705.5 928.06,705.5 928.79,705.5 929.53,705.5 930.26,705.5 931.00,705.5 931.74,705.5 932.47,705.5 933.21,705.5 933.94,705.5 934.68,705.5 935.41,705.5 936.15,705.5 936.88,705.5 937.62,705.5 938.35,705.5 939.09,705.5 939.82,705.5 940.56,705.5 941.29,705.5 942.03,705.5 942.76,705.5 943.50,705.5 944.23,705.5 944.97,705.5 945.70,705.5 946.44,705.5 947.17,705.5 947.91,705.5 948.64,705.5 949.38,705.5 950.11,705.5 950.85,705.5 951.58,705.5 952.32,705.5 953.05,705.3 953.79,705.1 954.52,705.1 955.26,705.3 955.99,705.5 956.73,705.5 957.46,705.5 958.20,705.5 958.93,705.5 959.67,705.5 960.40,705.5 961.14,705.5 961.87,705.5 962.61,705.5 963.34,705.5 964.08,705.5 964.81,705.5 965.55,705.5 966.28,705.5 967.02,705.5 967.75,705.5 968.49,705.5 969.22,705.5 969.96,705.5 970.69,705.5 971.43,705.5 972.17,705.5 972.90,705.3 973.64,704.9 974.37,704.5 975.11,704.6 975.84,705.1 976.58,705.2 977.31,705.2 978.05,705.2 978.78,705.4 979.52,705.5 980.25,705.5 980.99,705.5 981.72,705.5 982.46,705.5 983.19,705.5 983.93,705.5 984.66,705.5 985.40,705.5 986.13,705.3 986.87,705.2 987.60,705.2 988.34,705.3 989.07,705.5 989.81,705.5 990.54,705.5 991.28,705.5 992.01,705.5 992.75,705.5 993.48,705.5 994.22,705.5 994.95,705.3 995.69,705.1 996.42,705.1 997.16,705.3 997.89,705.5 998.63,705.5 999.36,705.5 1000.10,705.5 1000.83,705.5 1001.57,705.5 1002.30,705.5 1003.04,705.5 1003.77,705.5 1004.51,705.5 1005.24,705.5 1005.98,705.5 1006.71,705.5 1007.45,705.5 1008.18,705.5 1008.92,705.5 1009.65,705.5 1010.39,705.5 1011.12,705.5 1011.86,705.5 1012.60,705.3 1013.33,705.1 1014.07,705.1 1014.80,705.3 1015.54,705.5 1016.27,705.5 1017.01,705.5 1017.74,705.5 1018.48,705.5 1019.21,705.5 1019.95,705.5 1020.68,705.5 1021.42,705.5 1022.15,705.5 1022.89,705.5 1023.62,705.5 1024.36,705.5 1025.09,705.5 1025.83,705.5 1026.56,705.5 1027.30,705.5 1028.03,705.5 1028.77,705.5 1029.50,705.5 1030.24,705.5 1030.97,705.5 1031.71,705.5 1032.44,705.5 1033.18,705.5 1033.91,705.5 1034.65,705.5 1035.38,705.5 1036.12,705.5 1036.85,705.7 1037.59,705.8 1038.32,705.8 1039.06,705.7 1039.79,705.5 1040.53,705.5 1041.26,705.5 1042.00,705.5 1042.73,705.5 1043.47,705.7 1044.20,705.8 1044.94,705.8 1045.67,705.7 1046.41,705.5 1047.14,705.5 1047.88,705.3 1048.61,705.1 1049.35,705.1 1050.08,705.3 1050.82,705.5 1051.56,705.5 1052.29,705.5 1053.03,705.5 1053.32,705.5 1053.76,705.5 1054.50,705.4 1055.23,705.2 1055.91,705.0 1055.97,705.0 1056.70,705.0 1057.44,704.9 1058.17,704.7 1058.91,704.5 1059.64,704.3 1060.38,704.1 1061.11,704.0 1061.85,703.8 1062.58,703.6 1063.02,703.4 1063.32,703.4 1064.05,703.4 1064.79,703.3 1065.52,703.3 1066.26,703.3 1066.99,703.2 1067.73,703.2 1068.46,703.1 1069.20,703.1 1069.93,702.8 1070.67,702.7 1071.40,702.8 1072.14,703.0 1072.87,703.0 1073.61,702.8 1074.34,702.8 1075.08,702.8 1075.81,702.7 1076.55,702.7 1077.25,702.6 1077.28,702.6 1078.02,702.7 1078.75,702.7 1079.49,702.8 1080.22,702.7 1080.96,702.5 1081.69,702.6 1082.43,702.8 1083.16,703.1 1083.90,703.1 1084.37,703.1 1084.63,703.1 1085.37,703.0 1086.10,702.6 1086.84,702.3 1087.57,702.2 1088.02,702.3 1088.31,702.4 1089.04,701.9 1089.78,701.5 1090.51,701.0 1091.25,700.6 1091.99,699.9 1092.72,699.2 1092.96,699.1 1093.46,699.6 1094.19,700.2 1094.93,700.7 1095.66,701.1 1096.40,701.5 1096.84,701.7 1097.13,701.8 1097.87,701.9 1098.60,702.0 1099.34,702.1 1100.01,702.1 1100.07,702.1 1100.81,702.2 1101.54,702.2 1102.28,702.2 1103.01,702.2 1103.75,702.2 1104.48,702.2 1105.22,702.2 1105.95,702.2 1106.69,702.2 1107.42,702.3 1108.16,702.3 1108.89,702.3 1109.63,702.3 1110.36,702.3 1111.10,702.3 1111.83,702.3 1112.57,702.3 1112.83,702.3 1113.30,702.4 1114.04,702.6 1114.77,702.5 1115.51,702.4 1116.24,702.7 1116.83,703.2 1116.98,703.5 1117.71,703.5 1118.45,703.4 1119.18,703.7 1119.92,704.2 1120.65,704.7 1121.39,704.9 1122.12,705.2 1122.86,705.3 1123.59,705.3 1124.33,705.4 1125.06,705.4 1125.80,705.5 1126.53,705.5 1126.83,705.3 1127.27,705.1 1128.00,705.1 1128.74,705.3 1129.47,705.5 1130.21,705.5 1130.94,705.5 1131.68,705.5 1132.42,705.3 1133.15,705.1 1133.89,705.1 1134.62,705.3 1135.36,705.5 1136.09,705.5 1136.83,705.5 1137.56,705.5 1138.30,705.3 1139.03,705.1 1139.77,705.1 1140.50,705.3 1141.24,705.5 1141.97,705.5 1142.71,705.5 1143.44,705.5 1144.18,705.5 1144.91,705.5 1145.65,705.5 1146.38,705.5 1147.12,705.7 1147.85,705.9 1148.59,705.9 1149.32,705.7 1150.06,705.5 1150.79,705.5 1151.53,705.5 1152.26,705.5 1153.00,705.5 1153.73,705.5 1154.47,705.5 1155.20,705.5 1155.94,705.3 1156.67,705.1 1157.41,705.3 1158.14,705.7 1158.88,705.9 1159.61,705.7 1160.35,705.5 1161.08,705.5 1161.82,705.5 1162.55,705.5 1163.29,705.5 1164.02,705.5 1164.76,705.5 1165.49,705.5 1166.23,705.5 1166.96,705.5 1167.70,705.5 1168.43,705.5 1169.17,705.5 1169.90,705.5 1170.64,705.5 1171.37,705.5 1172.11,705.5 1172.85,705.5 1173.58,705.5 1174.32,705.5 1175.05,705.5 1175.79,705.5 1176.52,705.5 1177.26,705.3 1177.99,705.0 1178.73,705.0 1179.46,705.5 1180.20,705.9 1180.93,705.9 1181.67,705.7 1182.40,705.5 1183.14,705.5 1183.87,705.5 1184.61,705.5 1185.34,705.5 1186.08,705.5 1186.81,705.5 1187.55,705.5 1188.28,705.5 1189.02,705.5 1189.75,705.5 1190.49,705.5 1191.22,705.5 1191.96,705.5 1192.69,705.5 1193.43,705.5 1194.16,705.5 1194.90,705.5 1195.63,705.5 1196.37,705.5 1197.10,705.3 1197.84,705.1 1198.57,705.1 1199.31,705.3 1200.04,705.4 1200.78,705.2 1201.51,705.2 1202.25,705.4 1202.98,705.5 1203.72,705.5 1204.45,705.5 1205.19,705.5 1205.92,705.5 1206.66,705.5 1207.39,705.5 1208.13,705.5 1208.86,705.5 1209.60,705.5 1210.33,705.5 1211.07,705.5 1211.81,705.4 1212.54,705.2 1213.28,705.2 1214.01,705.6 1214.75,705.9 1215.48,705.9 1216.22,705.7 1216.95,705.5 1217.69,705.5 1218.42,705.5 1219.16,705.5 1219.89,705.5 1220.63,705.5 1221.36,705.5 1222.10,705.5 1222.83,705.5 1223.57,705.5 1224.30,705.5 1225.04,705.5 1225.77,705.5 1226.51,705.5 1227.24,705.5 1227.98,705.5 1228.71,705.5 1229.45,705.7 1230.18,705.8 1230.92,705.8 1231.65,705.7" stroke="#FB6501"/>
<path d="M231.19,830.5 231.93,830.5 232.66,830.5 233.40,829.8 234.13,829.2 234.87,829.2 235.60,829.8 236.34,830.5 237.07,830.5 237.81,830.5 238.54,830.5 239.28,829.9 240.01,829.2 240.75,829.2 241.48,829.9 242.22,830.5 242.95,830.5 243.69,830.5 244.42,829.9 245.16,829.3 245.89,829.3 246.63,829.9 247.36,830.5 248.10,830.5 248.83,830.5 249.57,830.5 250.31,830.5 251.04,830.5 251.78,830.5 252.51,830.5 253.25,830.5 253.98,830.5 254.72,830.5 255.45,830.5 256.19,830.5 256.92,829.8 257.66,829.0 258.39,829.0 259.13,829.8 259.86,830.5 260.60,829.8 261.33,829.0 262.07,829.0 262.80,829.8 263.54,830.5 264.27,830.5 265.01,830.5 265.74,830.5 266.48,830.5 267.21,830.5 267.95,830.5 268.68,830.5 269.42,830.5 270.15,830.5 270.89,830.5 271.62,830.5 272.36,830.5 273.09,830.5 273.83,830.9 274.56,831.3 275.30,831.3 276.03,830.9 276.77,830.5 277.50,830.5 278.24,830.5 278.97,830.5 279.71,830.8 280.44,831.2 281.18,831.2 281.91,830.8 282.65,830.0 283.38,829.4 284.12,829.4 284.85,830.0 285.59,830.5 286.32,830.5 287.06,830.5 287.79,830.5 288.53,830.5 289.26,830.5 290.00,830.5 290.74,830.5 291.47,830.5 292.21,830.0 292.94,829.6 293.68,829.6 294.41,830.0 295.15,830.5 295.88,830.5 296.62,830.5 297.35,830.5 298.09,830.5 298.82,830.5 299.56,830.5 300.29,829.9 301.03,828.5 301.76,827.8 302.50,828.4 303.23,829.2 303.97,829.3 304.70,829.3 305.44,829.4 306.17,829.4 306.91,829.4 307.64,829.9 308.38,830.5 309.11,830.5 309.85,830.1 310.58,829.6 311.32,829.6 312.05,830.1 312.79,830.5 313.52,830.5 314.26,830.5 314.99,830.5 315.73,830.5 316.46,830.5 317.20,830.5 317.93,830.5 318.67,830.5 319.40,830.5 320.14,830.5 320.87,830.5 321.61,830.5 322.34,830.5 323.08,830.5 323.81,830.5 324.55,830.5 325.28,830.5 326.02,831.1 326.75,831.7 327.49,831.7 328.22,831.1 328.96,830.5 329.69,830.5 330.43,830.5 331.17,830.5 331.90,830.5 332.64,830.5 333.37,830.5 334.11,830.5 334.84,830.5 335.58,830.5 336.31,830.5 337.05,830.5 337.78,830.5 338.52,830.5 339.25,830.5 339.99,830.5 340.72,830.5 341.46,830.5 342.19,830.5 342.93,830.5 343.66,830.5 344.40,830.5 345.13,830.5 345.87,830.5 346.60,830.5 347.34,830.5 348.07,830.5 348.81,830.5 349.54,830.5 350.28,830.5 351.01,830.5 351.75,830.5 352.48,830.5 353.22,830.5 353.95,829.9 354.69,829.3 355.42,829.3 356.16,829.9 356.89,830.5 357.63,829.9 358.36,829.3 359.10,829.3 359.83,829.9 360.57,830.5 361.30,830.5 362.04,830.5 362.77,830.5 363.51,830.5 364.24,829.9 364.98,829.3 365.71,829.3 366.45,829.9 367.18,830.5 367.92,829.9 368.65,829.3 369.39,829.3 370.12,829.9 370.86,830.5 371.60,830.5 372.33,830.5 373.07,830.5 373.80,830.5 374.54,830.5 375.27,830.5 376.01,830.5 376.74,830.5 377.48,830.5 378.21,830.5 378.95,830.5 379.68,830.5 380.42,830.5 381.15,830.5 381.89,830.5 382.62,830.5 383.36,830.5 384.09,830.5 384.83,830.5 385.56,830.5 386.30,830.5 387.03,830.5 387.77,830.5 388.50,830.5 389.24,830.5 389.97,830.5 390.71,830.5 391.44,830.5 392.18,830.5 392.91,830.5 393.65,829.8 394.38,829.2 395.12,829.2 395.85,829.8 396.59,830.5 397.32,830.5 398.06,830.5 398.79,830.5 399.53,830.5 400.26,829.8 401.00,829.2 401.73,829.2 402.47,829.8 403.20,830.5 403.94,830.5 404.67,830.5 405.41,830.5 406.14,830.1 406.88,829.6 407.61,829.6 408.35,830.1 409.08,830.5 409.82,830.5 410.56,830.5 411.29,830.5 412.03,829.8 412.76,829.4 413.50,829.8 414.23,830.4 414.97,830.8 415.70,830.4 416.44,830.9 417.17,831.3 417.91,830.8 418.64,829.9 419.38,829.4 420.11,829.8 420.85,830.3 421.58,830.2 422.32,830.2 423.05,829.6 423.79,829.0 424.52,829.0 425.26,829.5 425.99,830.0 426.73,829.4 427.46,828.7 428.20,828.7 428.93,829.1 429.67,829.6 430.40,829.5 431.14,829.4 431.87,829.4 432.61,829.3 433.34,829.2 434.08,829.1 434.81,829.0 435.55,828.5 436.28,827.9 437.02,827.8 437.75,828.2 438.49,828.6 439.22,828.5 439.96,828.4 440.69,828.2 441.43,828.1 442.16,827.9 442.90,827.7 443.63,827.5 444.37,827.4 445.10,827.2 445.84,827.0 446.57,826.8 447.02,826.7 447.31,826.5 448.04,825.9 448.78,825.3 449.51,825.1 450.25,824.9 450.99,823.8 451.72,822.2 452.46,821.3 453.19,821.2 453.93,821.2 454.66,820.6 455.40,821.1 456.13,821.5 456.87,822.0 457.60,822.5 458.34,822.9 459.07,823.4 459.81,823.2 460.54,823.0 461.28,823.4 462.01,824.5 462.75,825.7 463.48,826.1 464.22,825.6 464.95,825.1 465.69,824.6 466.42,824.1 467.16,823.6 467.89,823.2 468.63,822.7 469.36,822.2 470.10,821.7 470.83,821.2 471.57,820.7 472.30,820.2 473.04,819.7 473.77,819.2 474.51,818.7 475.24,818.2 475.98,817.7 476.42,817.4 476.71,817.7 477.45,818.3 478.18,818.9 478.92,819.5 479.65,820.2 480.39,820.8 481.12,821.4 481.86,822.0 482.59,822.7 483.33,823.3 484.06,823.9 484.80,824.5 485.53,825.2 486.27,825.8 487.00,826.4 487.59,826.9 487.74,826.9 488.47,827.1 489.21,827.2 489.94,827.3 490.68,827.4 491.42,827.5 492.15,827.6 492.89,827.7 493.62,827.8 494.36,827.9 495.09,828.0 495.83,828.2 496.56,828.3 497.30,828.4 498.03,828.5 498.77,828.6 499.50,828.7 500.24,828.8 500.97,828.9 501.53,829.0 501.71,829.0 502.44,829.1 503.18,829.1 503.91,829.2 504.65,829.2 505.38,829.3 506.12,829.4 506.85,829.4 507.59,828.8 508.32,828.1 509.06,828.2 509.79,828.9 510.53,829.7 511.26,829.7 512.00,829.8 512.73,829.8 513.47,829.9 514.20,829.9 514.94,830.0 515.67,830.1 516.41,830.1 517.14,830.2 517.88,830.2 518.61,830.3 519.35,830.3 520.08,830.3 520.82,830.3 521.55,830.3 522.29,829.7 523.02,829.0 523.76,829.0 524.49,829.7 525.23,830.3 525.96,830.3 526.70,830.3 527.43,830.3 528.17,830.3 528.90,830.3 529.64,830.3 530.38,830.3 531.11,830.3 531.85,830.3 532.58,830.3 533.32,830.3 534.05,830.3 534.79,830.3 535.52,829.7 536.26,829.0 536.99,829.0 537.73,829.7 538.46,830.3 539.20,830.3 539.93,830.3 540.67,830.3 541.40,830.3 542.14,830.3 542.87,830.3 543.46,830.3 543.61,830.3 544.34,830.3 545.08,830.2 545.81,830.2 546.55,830.2 547.28,830.1 548.02,830.1 548.75,830.1 549.49,830.0 550.22,830.0 550.96,829.9 551.69,829.8 552.43,829.3 553.16,828.1 553.90,827.4 554.63,827.9 555.37,829.0 556.10,829.0 556.84,828.3 557.57,828.2 558.31,828.9 559.04,829.6 559.78,829.5 559.93,829.5 560.51,829.8 561.25,830.1 561.98,830.0 562.72,829.7 563.45,829.3 564.19,829.3 564.92,829.2 565.66,829.2 566.39,829.1 567.13,829.1 567.86,829.0 568.60,829.0 569.33,828.9 570.07,828.9 570.81,828.8 571.54,828.1 572.28,827.4 572.86,827.3 573.01,828.0 573.75,828.6 574.48,828.6 575.22,828.5 575.95,828.4 576.69,828.4 577.42,828.3 578.16,828.2 578.89,828.6 579.33,828.9 579.63,828.9 580.36,828.4 581.10,827.2 581.83,826.5 582.57,826.4 583.30,826.9 584.04,827.4 584.77,827.3 585.39,827.2 585.51,827.1 586.24,826.7 586.98,826.2 587.71,826.2 588.45,826.2 588.74,825.3 589.18,823.1 589.92,821.3 590.65,821.1 591.39,821.6 591.92,821.5 592.12,821.3 592.86,819.9 593.59,818.5 594.33,817.6 594.92,817.5 595.06,817.8 595.80,816.4 596.53,815.1 597.27,813.7 597.44,813.4 598.00,811.8 598.74,809.6 599.47,807.5 599.62,807.0 600.21,804.2 600.94,800.8 601.27,799.2 601.68,796.2 602.41,790.7 602.97,786.5 603.15,784.6 603.88,776.4 604.38,770.8 604.62,767.4 605.35,756.8 605.85,748.8 606.09,745.5 606.82,736.9 607.56,728.9 608.29,720.8 608.74,715.9 609.03,716.4 609.76,717.1 610.50,717.7 611.09,717.7 611.24,721.0 611.97,737.6 612.50,749.5 612.71,752.2 613.44,761.7 614.15,770.8 614.18,771.2 614.91,780.5 615.38,786.5 615.65,788.9 616.38,795.5 616.79,799.2 617.12,800.9 617.85,804.6 618.44,807.5 618.59,807.9 619.32,810.0 620.06,812.0 620.56,813.4 620.79,813.7 621.53,814.6 622.26,814.7 623.00,815.3 623.73,816.6 624.44,817.7 624.47,817.5 625.20,817.6 625.94,818.7 626.67,819.9 627.41,820.5 628.14,821.1 628.88,821.7 629.61,822.3 630.35,822.9 630.91,823.3 631.08,823.4 631.82,823.5 632.55,823.6 633.29,823.1 634.02,822.6 634.76,823.3 635.49,824.7 636.23,825.5 636.96,825.1 637.70,824.7 638.43,824.8 639.17,825.0 639.90,825.1 640.64,825.3 641.37,825.4 642.11,825.6 642.84,825.7 643.58,825.2 643.96,824.7 644.31,824.7 645.05,825.4 645.78,826.1 646.52,826.2 647.25,826.3 647.99,826.3 648.72,826.4 649.46,826.5 650.19,826.5 650.93,826.6 651.67,826.7 652.40,826.8 653.14,826.8 653.87,826.9 654.61,827.0 655.34,827.1 656.08,827.1 656.81,827.2 657.55,827.3 658.28,827.4 659.02,827.4 659.75,827.5 659.90,827.5 660.49,827.6 661.22,826.9 661.96,826.7 662.69,827.1 663.43,827.8 664.16,828.1 664.90,827.8 665.63,827.8 666.37,827.9 667.10,827.9 667.84,828.0 668.57,828.0 669.31,828.1 670.04,828.1 670.78,828.1 671.51,828.2 672.25,828.2 672.98,828.3 673.72,828.3 674.45,828.3 675.19,827.7 675.92,827.1 676.66,827.1 677.39,827.8 677.54,828.5 678.13,828.6 678.86,828.6 679.60,828.7 680.33,828.7 681.07,828.8 681.80,828.8 682.54,828.9 683.27,828.9 684.01,829.0 684.74,829.0 685.48,829.1 686.21,829.1 686.95,829.2 687.68,828.7 688.42,828.3 689.15,828.4 689.89,828.9 690.62,828.7 691.36,828.0 692.10,828.0 692.83,828.8 693.57,829.6 694.30,829.6 695.04,829.7 695.77,829.7 696.51,829.8 696.95,829.8 697.24,829.8 697.98,829.8 698.71,829.9 699.45,829.9 700.18,829.9 700.92,829.9 701.65,829.9 702.39,829.9 703.12,829.9 703.86,830.0 704.59,830.0 705.33,830.0 706.06,830.0 706.80,830.0 707.53,829.6 708.27,829.1 709.00,829.1 709.74,829.6 710.47,830.1 711.21,830.1 711.94,830.1 712.68,830.1 713.41,830.1 714.15,830.2 714.88,830.2 715.62,830.2 716.35,830.2 717.09,830.2 717.82,830.2 718.56,830.2 719.29,830.2 720.03,830.3 720.76,830.3 721.50,830.3 722.23,830.3 722.97,830.3 723.70,830.3 724.44,830.3 725.17,830.4 725.91,830.4 726.64,830.4 727.38,830.4 728.11,830.4 728.85,830.4 729.58,830.4 730.32,830.5 731.06,830.5 731.79,830.5 732.53,830.5 733.26,830.5 733.41,830.5 734.00,829.9 734.73,829.2 735.47,829.2 736.20,829.9 736.94,830.5 737.67,830.5 738.41,830.5 739.14,830.5 739.88,830.5 740.61,830.5 741.35,830.5 742.08,830.5 742.82,830.5 743.55,830.5 744.29,830.5 745.02,830.5 745.76,830.5 746.49,830.5 747.23,830.5 747.96,830.5 748.70,830.5 749.43,830.5 750.17,830.5 750.90,830.5 751.64,830.5 752.37,830.5 753.11,830.5 753.84,830.9 754.58,831.2 755.31,831.2 756.05,830.9 756.78,830.5 757.52,830.5 758.25,830.5 758.99,830.5 759.72,830.5 760.46,830.5 761.19,830.5 761.93,830.5 762.66,829.9 763.40,829.4 764.13,829.4 764.87,829.9 765.60,829.9 766.34,829.2 767.07,829.2 767.81,829.9 768.54,830.5 769.28,830.5 770.01,829.9 770.75,829.3 771.49,829.3 772.22,829.9 772.96,830.5 773.69,830.5 774.43,830.0 775.16,829.6 775.90,829.6 776.63,830.0 777.37,830.5 778.10,830.5 778.84,830.5 779.57,830.5 780.31,830.5 781.04,829.9 781.78,829.3 782.51,829.3 783.25,829.9 783.98,830.0 784.72,829.4 785.45,829.4 786.19,829.4 786.92,829.4 787.66,829.4 788.39,829.9 789.13,830.5 789.86,830.5 790.60,830.5 791.33,830.5 792.07,830.5 792.80,830.5 793.54,830.5 794.27,830.5 795.01,830.5 795.74,830.5 796.48,830.5 797.21,830.5 797.95,830.5 798.68,830.5 799.42,830.5 800.15,830.5 800.89,830.5 801.62,830.5 802.36,831.0 803.09,831.4 803.83,831.4 804.56,831.0 805.30,830.5 806.03,830.5 806.77,830.5 807.50,830.5 808.24,830.5 808.97,830.5 809.71,830.5 810.44,830.5 811.18,830.5 811.92,830.5 812.65,830.5 813.39,830.5 814.12,830.5 814.86,829.9 815.59,829.2 816.33,829.2 817.06,829.9 817.80,830.5 818.53,830.5 819.27,830.5 820.00,830.5 820.74,830.5 821.47,830.5 822.21,830.5 822.94,830.5 823.68,830.5 824.41,830.5 825.15,830.5 825.88,830.5 826.62,830.5 827.35,830.5 828.09,830.5 828.82,830.5 829.56,830.5 830.29,830.5 831.03,830.5 831.76,830.5 832.50,830.5 833.23,830.5 833.97,830.5 834.70,829.9 835.44,829.3 836.17,829.3 836.91,829.9 837.64,830.5 838.38,830.5 839.11,830.5 839.85,830.5 840.58,830.5 841.32,830.5 842.05,830.5 842.79,830.5 843.52,830.5 844.26,829.8 844.99,829.0 845.73,829.0 846.46,829.8 847.20,830.1 847.93,829.6 848.67,829.6 849.40,830.1 850.14,830.5 850.88,830.5 851.61,830.5 852.35,830.5 853.08,830.5 853.82,830.5 854.55,830.5 855.29,830.5 856.02,830.5 856.76,830.5 857.49,830.5 858.23,830.5 858.96,830.5 859.70,830.5 860.43,830.5 861.17,830.5 861.90,830.5 862.64,830.5 863.37,830.5 864.11,830.5 864.84,830.5 865.58,830.5 866.31,830.5 867.05,830.5 867.78,830.5 868.52,830.5 869.25,830.5 869.99,830.5 870.72,830.5 871.46,830.5 872.19,830.5 872.93,829.9 873.66,829.2 874.40,829.2 875.13,829.4 875.87,829.6 876.60,829.6 877.34,830.1 878.07,830.0 878.81,829.5 879.54,829.5 880.28,830.0 881.01,830.5 881.75,830.5 882.48,830.5 883.22,830.0 883.95,829.5 884.69,829.5 885.42,830.0 886.16,830.5 886.89,830.5 887.63,830.5 888.36,830.5 889.10,830.5 889.83,830.5 890.57,830.5 891.31,830.5 892.04,830.5 892.78,830.5 893.51,830.5 894.25,830.5 894.98,830.5 895.72,830.5 896.45,830.5 897.19,830.5 897.92,830.5 898.66,830.5 899.39,830.5 900.13,830.5 900.86,830.5 901.60,830.5 902.33,830.5 903.07,830.5 903.80,830.5 904.54,830.5 905.27,830.5 906.01,830.5 906.74,830.5 907.48,830.5 908.21,830.5 908.95,830.5 909.68,830.5 910.42,830.5 911.15,829.9 911.89,829.2 912.62,829.2 913.36,829.9 914.09,830.5 914.83,830.5 915.56,830.5 916.30,830.5 917.03,829.9 917.77,829.3 918.50,829.3 919.24,829.2 919.97,829.2 920.71,829.2 921.44,829.9 922.18,830.5 922.91,830.5 923.65,830.5 924.38,830.5 925.12,830.5 925.85,830.5 926.59,830.5 927.32,830.5 928.06,830.5 928.79,830.5 929.53,830.5 930.26,830.5 931.00,830.5 931.74,830.5 932.47,830.5 933.21,830.5 933.94,830.5 934.68,830.5 935.41,830.5 936.15,830.5 936.88,830.5 937.62,830.5 938.35,830.5 939.09,830.5 939.82,830.5 940.56,830.5 941.29,830.5 942.03,830.5 942.76,830.5 943.50,830.5 944.23,830.5 944.97,830.5 945.70,830.9 946.44,831.2 947.17,831.2 947.91,830.2 948.64,829.1 949.38,829.1 950.11,829.8 950.85,830.5 951.58,830.5 952.32,830.5 953.05,830.5 953.79,830.5 954.52,830.5 955.26,830.5 955.99,830.5 956.73,830.5 957.46,830.5 958.20,830.5 958.93,830.5 959.67,830.5 960.40,830.5 961.14,830.5 961.87,830.0 962.61,829.5 963.34,829.5 964.08,830.0 964.81,830.5 965.55,830.5 966.28,830.5 967.02,830.5 967.75,830.5 968.49,830.5 969.22,830.5 969.96,830.5 970.69,830.5 971.43,830.5 972.17,830.5 972.90,830.5 973.64,830.5 974.37,830.5 975.11,830.5 975.84,830.5 976.58,830.5 977.31,830.5 978.05,830.5 978.78,830.5 979.52,830.5 980.25,830.5 980.99,830.5 981.72,830.5 982.46,830.5 983.19,830.5 983.93,830.5 984.66,830.5 985.40,830.5 986.13,830.5 986.87,830.5 987.60,830.5 988.34,830.5 989.07,830.5 989.81,830.5 990.54,830.5 991.28,830.5 992.01,830.5 992.75,830.5 993.48,830.5 994.22,830.5 994.95,830.5 995.69,830.0 996.42,828.8 997.16,828.2 997.89,828.7 998.63,829.9 999.36,830.5 1000.10,830.5 1000.83,830.5 1001.57,830.5 1002.30,830.5 1003.04,830.5 1003.77,830.5 1004.51,830.5 1005.24,830.5 1005.98,829.8 1006.71,829.1 1007.45,829.1 1008.18,829.8 1008.92,830.5 1009.65,830.5 1010.39,830.5 1011.12,830.5 1011.86,830.5 1012.60,830.5 1013.33,830.5 1014.07,830.5 1014.80,830.5 1015.54,830.5 1016.27,830.5 1017.01,830.5 1017.74,830.5 1018.48,830.5 1019.21,830.5 1019.95,830.5 1020.68,830.5 1021.42,830.5 1022.15,830.5 1022.89,830.5 1023.62,830.5 1024.36,830.5 1025.09,830.5 1025.83,830.5 1026.56,830.5 1027.30,830.5 1028.03,830.5 1028.77,830.5 1029.50,830.0 1030.24,829.5 1030.97,829.5 1031.71,830.0 1032.44,830.5 1033.18,830.5 1033.91,830.5 1034.65,830.5 1035.38,830.5 1036.12,830.5 1036.85,830.5 1037.59,830.5 1038.32,830.5 1039.06,829.8 1039.79,829.1 1040.53,829.1 1041.26,829.8 1042.00,830.5 1042.73,830.5 1043.47,830.5 1044.20,830.5 1044.94,830.5 1045.67,830.5 1046.41,830.5 1047.14,830.5 1047.88,830.5 1048.61,830.5 1049.35,830.5 1050.08,830.5 1050.82,830.5 1051.56,830.5 1052.29,830.5 1053.03,830.5 1053.32,830.5 1053.76,830.5 1054.50,830.4 1055.23,829.8 1055.91,828.7 1055.97,828.2 1056.70,828.5 1057.44,829.4 1058.17,829.1 1058.91,828.3 1059.64,828.1 1060.38,828.5 1061.11,828.9 1061.85,828.7 1062.58,828.5 1063.02,827.8 1063.32,827.1 1064.05,827.1 1064.79,827.7 1065.52,828.3 1066.26,828.2 1066.99,828.2 1067.73,827.5 1068.46,826.8 1069.20,826.8 1069.93,827.4 1070.67,828.0 1071.40,827.9 1072.14,827.9 1072.87,827.9 1073.61,827.4 1074.34,826.9 1075.08,826.8 1075.81,827.2 1076.55,827.7 1077.25,827.6 1077.28,827.6 1078.02,827.7 1078.75,827.7 1079.49,827.3 1080.22,826.8 1080.96,827.3 1081.69,828.4 1082.43,828.9 1083.16,828.5 1083.90,828.1 1084.37,828.1 1084.63,827.4 1085.37,826.5 1086.10,826.4 1086.84,827.0 1087.57,827.6 1088.02,827.5 1088.31,827.3 1089.04,826.9 1089.78,826.4 1090.51,826.0 1091.25,825.6 1091.99,825.1 1092.72,824.7 1092.96,824.5 1093.46,824.8 1094.19,825.2 1094.93,825.6 1095.66,826.1 1096.40,826.5 1096.84,826.7 1097.13,826.8 1097.87,826.1 1098.60,825.5 1099.34,825.6 1100.01,825.8 1100.07,825.9 1100.81,825.9 1101.54,826.5 1102.28,827.2 1103.01,827.2 1103.75,827.2 1104.48,827.2 1105.22,827.2 1105.95,827.2 1106.69,827.2 1107.42,827.2 1108.16,827.2 1108.89,827.3 1109.63,827.3 1110.36,827.3 1111.10,827.3 1111.83,827.3 1112.57,827.3 1112.83,826.7 1113.30,825.4 1114.04,824.9 1114.77,825.7 1115.51,827.2 1116.24,828.0 1116.83,828.1 1116.98,828.2 1117.71,827.9 1118.45,827.7 1119.18,827.5 1119.92,827.9 1120.65,828.7 1121.39,829.5 1122.12,829.7 1122.86,829.1 1123.59,829.2 1124.33,829.8 1125.06,830.4 1125.80,830.5 1126.53,830.5 1126.83,830.5 1127.27,830.5 1128.00,830.5 1128.74,830.5 1129.47,830.5 1130.21,830.5 1130.94,830.5 1131.68,830.5 1132.42,830.5 1133.15,830.5 1133.89,830.5 1134.62,830.5 1135.36,830.5 1136.09,830.5 1136.83,830.5 1137.56,830.5 1138.30,830.5 1139.03,830.5 1139.77,830.5 1140.50,830.5 1141.24,830.5 1141.97,830.5 1142.71,830.5 1143.44,830.5 1144.18,830.5 1144.91,830.5 1145.65,830.5 1146.38,830.5 1147.12,830.5 1147.85,830.5 1148.59,830.5 1149.32,830.5 1150.06,830.5 1150.79,830.5 1151.53,829.8 1152.26,829.1 1153.00,829.1 1153.73,829.3 1154.47,829.5 1155.20,829.5 1155.94,830.0 1156.67,830.5 1157.41,830.5 1158.14,830.5 1158.88,830.5 1159.61,830.5 1160.35,830.5 1161.08,830.5 1161.82,830.5 1162.55,830.5 1163.29,830.5 1164.02,830.5 1164.76,830.5 1165.49,830.5 1166.23,830.5 1166.96,830.5 1167.70,829.9 1168.43,828.9 1169.17,828.5 1169.90,829.0 1170.64,829.4 1171.37,829.2 1172.11,829.2 1172.85,829.8 1173.58,830.5 1174.32,830.5 1175.05,830.5 1175.79,830.5 1176.52,830.5 1177.26,830.5 1177.99,830.5 1178.73,830.5 1179.46,830.5 1180.20,830.5 1180.93,830.5 1181.67,830.5 1182.40,830.5 1183.14,830.5 1183.87,830.1 1184.61,829.6 1185.34,829.6 1186.08,830.1 1186.81,830.5 1187.55,830.5 1188.28,830.5 1189.02,830.5 1189.75,830.5 1190.49,830.5 1191.22,830.5 1191.96,830.5 1192.69,830.5 1193.43,830.5 1194.16,830.5 1194.90,830.5 1195.63,830.5 1196.37,830.5 1197.10,830.5 1197.84,830.5 1198.57,830.5 1199.31,830.5 1200.04,830.5 1200.78,830.5 1201.51,830.5 1202.25,829.8 1202.98,829.2 1203.72,828.6 1204.45,828.8 1205.19,828.8 1205.92,828.5 1206.66,829.0 1207.39,829.8 1208.13,830.5 1208.86,830.5 1209.60,830.5 1210.33,830.5 1211.07,830.5 1211.81,830.0 1212.54,829.4 1213.28,829.4 1214.01,830.0 1214.75,830.5 1215.48,830.5 1216.22,830.5 1216.95,830.5 1217.69,829.9 1218.42,829.3 1219.16,829.3 1219.89,829.9 1220.63,830.5 1221.36,830.5 1222.10,830.5 1222.83,830.5 1223.57,830.5 1224.30,830.5 1225.04,830.5 1225.77,830.5 1226.51,830.5 1227.24,830.5 1227.98,830.5 1228.71,829.9 1229.45,829.4 1230.18,829.4 1230.92,829.9 1231.65,830.5" stroke="#8E8E00"/>
<path d="M231.19,955.5 231.93,955.5 232.66,955.5 233.40,955.5 234.13,955.5 234.87,955.5 235.60,955.5 236.34,955.5 237.07,955.5 237.81,955.5 238.54,955.5 239.28,955.5 240.01,955.5 240.75,955.5 241.48,955.5 242.22,955.5 242.95,955.5 243.69,955.5 244.42,955.5 245.16,955.5 245.89,955.5 246.63,955.5 247.36,955.5 248.10,955.5 248.83,955.5 249.57,955.5 250.31,955.5 251.04,955.5 251.78,955.5 252.51,955.5 253.25,955.5 253.98,955.5 254.72,955.5 255.45,955.5 256.19,955.5 256.92,955.5 257.66,955.5 258.39,955.5 259.13,955.5 259.86,955.5 260.60,955.5 261.33,955.5 262.07,955.5 262.80,955.5 263.54,955.5 264.27,955.5 265.01,955.5 265.74,955.5 266.48,955.5 267.21,955.5 267.95,955.5 268.68,955.5 269.42,955.5 270.15,955.5 270.89,955.5 271.62,955.5 272.36,955.5 273.09,955.5 273.83,955.5 274.56,955.5 275.30,955.5 276.03,955.5 276.77,955.5 277.50,955.5 278.24,955.5 278.97,955.5 279.71,955.5 280.44,955.5 281.18,955.5 281.91,955.5 282.65,955.5 283.38,955.5 284.12,955.5 284.85,955.5 285.59,955.5 286.32,955.5 287.06,955.5 287.79,955.5 288.53,955.5 289.26,955.5 290.00,955.5 290.74,955.5 291.47,955.5 292.21,955.5 292.94,955.5 293.68,955.5 294.41,955.5 295.15,955.5 295.88,955.5 296.62,955.5 297.35,955.5 298.09,955.5 298.82,955.5 299.56,955.5 300.29,955.5 301.03,955.5 301.76,955.5 302.50,955.5 303.23,955.5 303.97,955.5 304.70,955.5 305.44,955.5 306.17,955.5 306.91,955.5 307.64,955.5 308.38,955.5 309.11,955.5 309.85,955.5 310.58,955.5 311.32,955.5 312.05,955.5 312.79,955.5 313.52,955.5 314.26,955.5 314.99,955.5 315.73,955.5 316.46,955.5 317.20,955.5 317.93,955.5 318.67,955.5 319.40,955.5 320.14,955.5 320.87,955.5 321.61,955.5 322.34,955.5 323.08,955.5 323.81,955.5 324.55,955.5 325.28,955.5 326.02,955.5 326.75,955.5 327.49,955.5 328.22,955.5 328.96,955.5 329.69,955.5 330.43,955.5 331.17,955.5 331.90,955.5 332.64,955.5 333.37,955.5 334.11,955.5 334.84,955.5 335.58,955.5 336.31,955.5 337.05,955.5 337.78,955.5 338.52,955.5 339.25,955.5 339.99,955.5 340.72,955.5 341.46,955.5 342.19,955.5 342.93,955.5 343.66,955.5 344.40,955.5 345.13,955.5 345.87,955.5 346.60,955.5 347.34,955.5 348.07,955.5 348.81,955.5 349.54,955.5 350.28,955.5 351.01,955.5 351.75,955.5 352.48,955.5 353.22,955.5 353.95,955.5 354.69,955.5 355.42,955.5 356.16,955.5 356.89,955.5 357.63,955.5 358.36,955.5 359.10,955.5 359.83,955.5 360.57,955.5 361.30,955.5 362.04,955.5 362.77,955.5 363.51,955.5 364.24,955.5 364.98,955.5 365.71,955.5 366.45,955.5 367.18,955.5 367.92,955.5 368.65,955.5 369.39,955.5 370.12,955.5 370.86,955.5 371.60,955.5 372.33,955.5 373.07,955.5 373.80,955.5 374.54,955.5 375.27,955.5 376.01,955.5 376.74,955.5 377.48,955.5 378.21,955.5 378.95,955.5 379.68,955.5 380.42,955.5 381.15,955.5 381.89,955.5 382.62,955.5 383.36,955.5 384.09,955.5 384.83,955.5 385.56,955.5 386.30,955.5 387.03,955.5 387.77,955.5 388.50,955.5 389.24,955.5 389.97,955.5 390.71,955.5 391.44,955.5 392.18,955.5 392.91,955.5 393.65,955.5 394.38,955.5 395.12,955.5 395.85,955.5 396.59,955.5 397.32,955.5 398.06,955.5 398.79,955.5 399.53,955.5 400.26,955.5 401.00,955.5 401.73,955.5 402.47,955.5 403.20,955.4 403.94,955.4 404.67,955.4 405.41,955.4 406.14,955.3 406.88,955.3 407.61,955.3 408.35,955.3 409.08,955.2 409.82,955.2 410.56,955.2 411.29,955.2 412.03,955.1 412.76,955.1 413.50,955.1 414.23,955.1 414.97,955.0 415.70,955.0 416.44,955.0 417.17,955.0 417.91,954.9 418.64,954.9 419.38,954.9 420.11,954.9 420.85,954.8 421.58,954.8 422.32,954.8 423.05,954.8 423.79,954.7 424.52,954.7 425.26,954.7 425.99,954.7 426.73,954.6 427.46,954.6 428.20,954.6 428.93,954.5 429.67,954.5 430.31,954.5 430.40,954.5 431.14,954.4 431.87,954.2 432.61,954.1 433.34,954.0 434.08,953.9 434.81,953.7 435.55,953.6 436.28,953.5 437.02,953.4 437.75,953.2 438.49,953.1 439.22,953.0 439.96,952.9 440.69,952.8 441.02,952.7 441.43,952.6 442.16,952.4 442.90,952.2 443.63,952.0 444.37,951.8 445.10,951.6 445.84,951.4 446.57,951.2 447.31,951.0 448.04,950.8 448.78,950.6 449.51,950.4 450.25,950.2 450.96,950.0 450.99,950.0 451.72,949.6 452.46,949.1 453.19,948.7 453.93,948.3 454.66,947.9 455.40,947.5 456.13,947.0 456.87,946.6 457.60,946.2 458.34,946.0 459.07,945.7 459.54,945.6 459.81,945.6 460.54,945.8 461.28,945.9 461.72,946.0 462.01,946.1 462.75,946.2 463.48,946.4 464.22,946.6 464.95,946.7 465.69,946.9 466.42,947.1 467.16,947.3 467.36,947.3 467.89,947.1 468.63,946.9 469.36,946.6 470.10,946.4 470.83,946.2 471.57,945.9 472.30,945.7 473.04,945.4 473.77,945.2 474.51,944.9 475.24,944.7 475.98,944.6 476.71,944.5 477.30,944.4 477.45,944.4 478.18,944.5 478.92,944.6 479.36,944.7 479.65,944.9 480.39,945.3 481.12,945.7 481.86,946.1 482.59,946.6 483.33,947.0 484.06,947.4 484.80,947.9 485.53,948.3 486.27,948.7 487.00,949.1 487.30,949.3 487.74,949.5 488.47,949.7 489.21,950.0 489.94,950.2 490.68,950.5 491.42,950.7 492.15,951.0 492.89,951.2 493.62,951.5 494.36,951.8 495.09,952.0 495.83,952.3 496.56,952.5 497.30,952.8 497.94,953.0 498.03,953.0 498.77,953.1 499.50,953.2 500.24,953.3 500.97,953.3 501.71,953.4 502.44,953.5 503.18,953.6 503.91,953.7 504.65,953.8 505.38,953.8 506.12,953.9 506.85,954.0 507.59,954.1 508.32,954.2 509.06,954.2 509.79,954.3 510.53,954.4 511.26,954.5 512.00,954.6 512.17,954.6 512.73,954.6 513.47,954.7 514.20,954.7 514.94,954.7 515.67,954.8 516.41,954.8 517.14,954.8 517.88,954.9 518.61,954.9 519.35,955.0 520.08,955.0 520.82,955.0 521.55,955.1 522.29,955.1 523.02,955.1 523.76,955.2 524.49,955.2 525.23,955.2 525.96,955.3 526.41,955.3 526.70,955.3 527.43,955.3 528.17,955.3 528.90,955.3 529.64,955.3 530.38,955.3 531.11,955.3 531.85,955.3 532.58,955.3 533.32,955.3 534.05,955.3 534.79,955.3 535.52,955.3 536.26,955.3 536.99,955.3 537.73,955.3 538.46,955.3 539.20,955.3 539.93,955.3 540.67,955.3 541.40,955.3 542.14,955.3 542.87,955.3 543.61,955.3 544.34,955.2 545.08,955.2 545.81,955.1 546.55,955.1 547.28,955.1 548.02,955.0 548.75,955.0 549.49,954.9 550.22,954.9 550.96,954.9 551.69,954.8 552.43,954.8 553.16,954.7 553.90,954.7 554.63,954.7 555.37,954.6 556.10,954.6 556.84,954.5 557.57,954.5 558.31,954.5 559.04,954.4 559.34,954.4 559.78,954.3 560.51,954.2 561.25,954.2 561.98,954.1 562.72,954.0 563.45,953.9 564.19,953.8 564.92,953.7 565.66,953.6 566.39,953.5 567.13,953.4 567.86,953.3 568.60,953.2 569.33,953.1 570.07,953.0 570.81,952.9 571.54,952.8 572.28,952.7 572.39,952.7 573.01,952.5 573.75,952.3 574.48,952.0 575.22,951.8 575.95,951.5 576.69,951.3 577.42,951.1 578.16,950.8 578.89,950.6 579.63,950.3 580.36,950.1 581.10,949.8 581.83,949.6 582.15,949.5 582.57,949.3 583.30,948.8 584.04,948.4 584.77,948.0 585.51,947.6 586.24,947.2 586.98,946.8 587.71,946.4 588.45,945.9 589.04,945.6 589.18,945.4 589.92,944.3 590.65,943.2 591.39,942.1 592.12,941.1 592.86,940.0 593.59,938.9 593.86,938.5 594.33,936.9 595.06,934.5 595.80,932.0 596.53,929.3 597.27,926.7 597.92,924.3 598.00,924.0 598.74,921.6 599.47,919.3 600.21,916.9 600.94,914.5 601.68,912.2 602.33,910.1 602.41,909.8 603.15,907.3 603.88,904.9 604.62,902.4 605.35,899.9 606.09,897.5 606.56,895.9 606.82,894.0 607.56,888.7 608.29,883.3 609.03,878.0 609.50,874.6 609.76,871.8 610.50,864.2 611.24,856.6 611.97,848.9 612.56,842.8 612.71,842.8 613.44,842.8 614.18,842.8 614.79,842.8 614.91,845.1 615.65,859.3 616.38,873.5 616.44,874.6 617.12,882.5 617.85,891.1 618.26,895.9 618.59,899.4 619.32,907.5 619.56,910.1 620.06,913.2 620.79,917.7 621.53,922.3 621.85,924.3 622.26,925.7 623.00,928.1 623.73,930.5 624.32,932.5 624.47,932.8 625.20,934.1 625.94,935.5 626.67,936.9 627.41,938.2 627.55,938.5 628.14,939.1 628.88,939.8 629.61,940.5 630.35,941.2 631.08,941.9 631.82,942.6 632.26,943.0 632.55,943.1 633.29,943.5 634.02,943.9 634.76,944.2 635.49,944.6 636.23,944.9 636.96,945.3 637.55,945.6 637.70,945.6 638.43,945.8 639.17,946.0 639.90,946.2 640.64,946.4 641.37,946.6 642.11,946.8 642.84,947.0 643.58,947.2 644.31,947.4 645.05,947.6 645.78,947.8 646.52,948.0 647.25,948.2 647.99,948.4 648.72,948.6 649.46,948.8 650.19,949.0 650.49,949.1 650.93,949.2 651.67,949.5 652.40,949.7 653.14,949.9 653.87,950.1 654.61,950.3 655.34,950.6 656.08,950.8 656.81,951.0 657.55,951.2 658.28,951.4 659.02,951.7 659.75,951.9 660.49,952.1 661.22,952.3 661.96,952.4 662.69,952.6 663.43,952.8 664.16,952.9 664.90,953.1 665.63,953.3 666.37,953.4 667.10,953.6 667.84,953.8 668.57,953.9 669.31,954.1 670.04,954.1 670.78,954.2 671.51,954.2 672.25,954.2 672.98,954.3 673.72,954.3 674.45,954.4 675.19,954.4 675.92,954.4 676.66,954.5 677.39,954.5 678.13,954.5 678.86,954.6 679.60,954.6 680.33,954.6 681.07,954.7 681.80,954.7 682.54,954.7 683.27,954.8 684.01,954.8 684.74,954.9 685.48,954.9 686.21,954.9 686.95,955.0 687.68,955.0 688.42,955.0 689.15,955.1 689.89,955.1 690.62,955.1 691.36,955.1 692.10,955.1 692.83,955.1 693.57,955.1 694.30,955.2 695.04,955.2 695.77,955.2 696.51,955.2 697.24,955.2 697.98,955.2 698.71,955.2 699.45,955.2 700.18,955.2 700.92,955.2 701.65,955.3 702.39,955.3 703.12,955.3 703.86,955.3 704.59,955.3 705.33,955.3 706.06,955.3 706.80,955.3 707.53,955.3 708.27,955.4 709.00,955.4 709.74,955.4 710.47,955.4 711.21,955.4 711.94,955.4 712.68,955.4 713.41,955.4 714.15,955.4 714.88,955.4 715.62,955.5 716.35,955.5 717.09,955.5 717.82,955.5 718.56,955.5 719.29,955.5 720.03,955.5 720.76,955.5 721.50,955.5 722.23,955.5 722.97,955.5 723.70,955.5 724.44,955.5 725.17,955.5 725.91,955.5 726.64,955.5 727.38,955.5 728.11,955.5 728.85,955.5 729.58,955.5 730.32,955.5 731.06,955.5 731.79,955.5 732.53,955.5 733.26,955.5 734.00,955.5 734.73,955.5 735.47,955.5 736.20,955.5 736.94,955.5 737.67,955.5 738.41,955.5 739.14,955.5 739.88,955.5 740.61,955.5 741.35,955.5 742.08,955.5 742.82,955.5 743.55,955.5 744.29,955.5 745.02,955.5 745.76,955.5 746.49,955.5 747.23,955.5 747.96,955.5 748.70,955.5 749.43,955.5 750.17,955.5 750.90,955.5 751.64,955.5 752.37,955.5 753.11,955.5 753.84,955.5 754.58,955.5 755.31,955.5 756.05,955.5 756.78,955.5 757.52,955.5 758.25,955.5 758.99,955.5 759.72,955.5 760.46,955.5 761.19,955.5 761.93,955.5 762.66,955.5 763.40,955.5 764.13,955.5 764.87,955.5 765.60,955.5 766.34,955.5 767.07,955.5 767.81,955.5 768.54,955.5 769.28,955.5 770.01,955.5 770.75,955.5 771.49,955.5 772.22,955.5 772.96,955.5 773.69,955.5 774.43,955.5 775.16,955.5 775.90,955.5 776.63,955.5 777.37,955.5 778.10,955.5 778.84,955.5 779.57,955.5 780.31,955.5 781.04,955.5 781.78,955.5 782.51,955.5 783.25,955.5 783.98,955.5 784.72,955.5 785.45,955.5 786.19,955.5 786.92,955.5 787.66,955.5 788.39,955.5 789.13,955.5 789.86,955.5 790.60,955.5 791.33,955.5 792.07,955.5 792.80,955.5 793.54,955.5 794.27,955.5 795.01,955.5 795.74,955.5 796.48,955.5 797.21,955.5 797.95,955.5 798.68,955.5 799.42,955.5 800.15,955.5 800.89,955.5 801.62,955.5 802.36,955.5 803.09,955.5 803.83,955.5 804.56,955.5 805.30,955.5 806.03,955.5 806.77,955.5 807.50,955.5 808.24,955.5 808.97,955.5 809.71,955.5 810.44,955.5 811.18,955.5 811.92,955.5 812.65,955.5 813.39,955.5 814.12,955.5 814.86,955.5 815.59,955.5 816.33,955.5 817.06,955.5 817.80,955.5 818.53,955.5 819.27,955.5 820.00,955.5 820.74,955.5 821.47,955.5 822.21,955.5 822.94,955.5 823.68,955.5 824.41,955.5 825.15,955.5 825.88,955.5 826.62,955.5 827.35,955.5 828.09,955.5 828.82,955.5 829.56,955.5 830.29,955.5 831.03,955.5 831.76,955.5 832.50,955.5 833.23,955.5 833.97,955.5 834.70,955.5 835.44,955.5 836.17,955.5 836.91,955.5 837.64,955.5 838.38,955.5 839.11,955.5 839.85,955.5 840.58,955.5 841.32,955.5 842.05,955.5 842.79,955.5 843.52,955.5 844.26,955.5 844.99,955.5 845.73,955.5 846.46,955.5 847.20,955.5 847.93,955.5 848.67,955.5 849.40,955.5 850.14,955.5 850.88,955.5 851.61,955.5 852.35,955.5 853.08,955.5 853.82,955.5 854.55,955.5 855.29,955.5 856.02,955.5 856.76,955.5 857.49,955.5 858.23,955.5 858.96,955.5 859.70,955.5 860.43,955.5 861.17,955.5 861.90,955.5 862.64,955.5 863.37,955.5 864.11,955.5 864.84,955.5 865.58,955.5 866.31,955.5 867.05,955.5 867.78,955.5 868.52,955.5 869.25,955.5 869.99,955.5 870.72,955.5 871.46,955.5 872.19,955.5 872.93,955.5 873.66,955.5 874.40,955.5 875.13,955.5 875.87,955.5 876.60,955.5 877.34,955.5 878.07,955.5 878.81,955.5 879.54,955.5 880.28,955.5 881.01,955.5 881.75,955.5 882.48,955.5 883.22,955.5 883.95,955.5 884.69,955.5 885.42,955.5 886.16,955.5 886.89,955.5 887.63,955.5 888.36,955.5 889.10,955.5 889.83,955.5 890.57,955.5 891.31,955.5 892.04,955.5 892.78,955.5 893.51,955.5 894.25,955.5 894.98,955.5 895.72,955.5 896.45,955.5 897.19,955.5 897.92,955.5 898.66,955.5 899.39,955.5 900.13,955.5 900.86,955.5 901.60,955.5 902.33,955.5 903.07,955.5 903.80,955.5 904.54,955.5 905.27,955.5 906.01,955.5 906.74,955.5 907.48,955.5 908.21,955.5 908.95,955.5 909.68,955.5 910.42,955.5 911.15,955.5 911.89,955.5 912.62,955.5 913.36,955.5 914.09,955.5 914.83,955.5 915.56,955.5 916.30,955.5 917.03,955.5 917.77,955.5 918.50,955.5 919.24,955.5 919.97,955.5 920.71,955.5 921.44,955.5 922.18,955.5 922.91,955.5 923.65,955.5 924.38,955.5 925.12,955.5 925.85,955.5 926.59,955.5 927.32,955.5 928.06,955.5 928.79,955.5 929.53,955.5 930.26,955.5 931.00,955.5 931.74,955.5 932.47,955.5 933.21,955.5 933.94,955.5 934.68,955.5 935.41,955.5 936.15,955.5 936.88,955.5 937.62,955.5 938.35,955.5 939.09,955.5 939.82,955.5 940.56,955.5 941.29,955.5 942.03,955.5 942.76,955.5 943.50,955.5 944.23,955.5 944.97,955.5 945.70,955.5 946.44,955.5 947.17,955.5 947.91,955.5 948.64,955.5 949.38,955.5 950.11,955.5 950.85,955.5 951.58,955.5 952.32,955.5 953.05,955.5 953.79,955.5 954.52,955.5 955.26,955.5 955.99,955.5 956.73,955.5 957.46,955.5 958.20,955.5 958.93,955.5 959.67,955.5 960.40,955.5 961.14,955.5 961.87,955.5 962.61,955.5 963.34,955.5 964.08,955.5 964.81,955.5 965.55,955.5 966.28,955.5 967.02,955.5 967.75,955.5 968.49,955.5 969.22,955.5 969.96,955.5 970.69,955.5 971.43,955.5 972.17,955.5 972.90,955.5 973.64,955.5 974.37,955.5 975.11,955.5 975.84,955.5 976.58,955.5 977.31,955.5 978.05,955.5 978.78,955.5 979.52,955.5 980.25,955.5 980.99,955.5 981.72,955.5 982.46,955.5 983.19,955.5 983.93,955.5 984.66,955.5 985.40,955.5 986.13,955.5 986.87,955.5 987.60,955.5 988.34,955.5 989.07,955.5 989.81,955.5 990.54,955.5 991.28,955.5 992.01,955.5 992.75,955.5 993.48,955.5 994.22,955.5 994.95,955.5 995.69,955.5 996.42,955.5 997.16,955.5 997.89,955.5 998.63,955.5 999.36,955.5 1000.10,955.5 1000.83,955.5 1001.57,955.5 1002.30,955.5 1003.04,955.5 1003.77,955.5 1004.51,955.5 1005.24,955.5 1005.98,955.5 1006.71,955.5 1007.45,955.5 1008.18,955.5 1008.92,955.5 1009.65,955.5 1010.39,955.5 1011.12,955.5 1011.86,955.5 1012.60,955.5 1013.33,955.5 1014.07,955.5 1014.80,955.5 1015.54,955.5 1016.27,955.5 1017.01,955.5 1017.74,955.5 1018.48,955.5 1019.21,955.5 1019.95,955.5 1020.68,955.5 1021.42,955.5 1022.15,955.4 1022.89,955.4 1023.62,955.4 1024.36,955.4 1025.09,955.4 1025.83,955.4 1026.56,955.3 1027.30,955.3 1028.03,955.3 1028.77,955.3 1029.50,955.3 1030.24,955.3 1030.97,955.2 1031.71,955.2 1032.44,955.2 1033.18,955.2 1033.32,955.2 1033.91,955.2 1034.65,955.1 1035.38,955.0 1036.12,955.0 1036.85,954.9 1037.59,954.9 1038.32,954.8 1039.06,954.8 1039.79,954.7 1040.53,954.6 1041.26,954.6 1042.00,954.5 1042.73,954.5 1043.47,954.4 1044.20,954.3 1044.94,954.3 1045.67,954.2 1046.41,954.2 1047.14,954.1 1047.88,954.1 1048.61,954.0 1049.35,953.8 1050.08,953.7 1050.82,953.5 1051.56,953.3 1052.29,953.2 1053.03,953.0 1053.76,952.8 1054.50,952.7 1055.23,952.5 1055.97,952.3 1056.70,952.2 1057.44,952.0 1058.17,951.9 1058.91,951.7 1059.64,951.5 1060.38,951.4 1061.11,951.2 1061.85,951.0 1062.58,950.9 1063.32,950.7 1064.05,950.5 1064.20,950.5 1064.79,950.3 1065.52,950.1 1066.26,949.9 1066.99,949.7 1067.73,949.5 1068.46,949.2 1069.20,949.0 1069.93,948.8 1070.67,948.6 1071.40,948.4 1072.14,948.2 1072.87,947.9 1073.61,947.7 1074.34,947.5 1075.08,947.3 1075.81,947.1 1076.55,946.9 1077.28,946.6 1078.02,946.4 1078.75,946.2 1079.49,946.0 1080.22,945.8 1080.96,945.6 1081.69,945.4 1082.43,945.1 1082.55,945.1 1083.16,945.1 1083.90,945.1 1084.63,945.0 1085.37,945.0 1086.10,945.0 1086.84,945.0 1087.57,945.0 1088.31,944.9 1089.04,944.9 1089.78,944.9 1090.51,944.2 1091.25,943.5 1091.99,942.8 1092.72,942.1 1093.31,941.5 1093.46,941.3 1094.19,940.3 1094.93,939.2 1095.66,938.2 1096.40,937.1 1097.13,936.1 1097.19,936.0 1097.87,936.4 1098.60,936.9 1099.34,937.4 1100.07,937.9 1100.81,938.4 1100.95,938.5 1101.54,939.0 1102.28,939.6 1103.01,940.2 1103.75,940.9 1104.48,941.5 1105.22,942.0 1105.95,942.6 1106.69,943.1 1107.42,943.6 1108.16,944.2 1108.89,944.7 1109.63,945.2 1110.01,945.5 1110.36,945.5 1111.10,945.4 1111.83,945.4 1112.57,945.3 1112.71,945.3 1113.30,945.1 1114.04,944.9 1114.77,944.7 1115.48,944.5 1115.51,944.5 1116.24,945.2 1116.98,945.9 1117.71,946.7 1118.45,947.4 1118.60,947.5 1119.18,948.2 1119.92,949.1 1120.65,950.0 1121.39,950.9 1122.12,951.8 1122.71,952.5 1122.86,952.6 1123.59,952.8 1124.33,953.1 1125.06,953.4 1125.80,953.7 1126.53,953.9 1127.27,954.2 1128.00,954.5 1128.74,954.6 1129.47,954.8 1130.21,954.9 1130.94,955.0 1131.68,955.1 1132.42,955.2 1133.15,955.4 1133.89,955.5 1134.62,955.5 1135.36,955.5 1136.09,955.5 1136.83,955.5 1137.56,955.5 1138.30,955.5 1139.03,955.5 1139.77,955.5 1140.50,955.5 1141.24,955.5 1141.97,955.5 1142.71,955.5 1143.44,955.5 1144.18,955.5 1144.91,955.5 1145.65,955.5 1146.38,955.5 1147.12,955.5 1147.85,955.5 1148.59,955.5 1149.32,955.5 1150.06,955.5 1150.79,955.5 1151.53,955.5 1152.26,955.5 1153.00,955.5 1153.73,955.5 1154.47,955.5 1155.20,955.5 1155.94,955.5 1156.67,955.5 1157.41,955.5 1158.14,955.5 1158.88,955.5 1159.61,955.5 1160.35,955.5 1161.08,955.5 1161.82,955.5 1162.55,955.5 1163.29,955.5 1164.02,955.5 1164.76,955.5 1165.49,955.5 1166.23,955.5 1166.96,955.5 1167.70,955.5 1168.43,955.5 1169.17,955.5 1169.90,955.5 1170.64,955.5 1171.37,955.5 1172.11,955.5 1172.85,955.5 1173.58,955.5 1174.32,955.5 1175.05,955.5 1175.79,955.5 1176.52,955.5 1177.26,955.5 1177.99,955.5 1178.73,955.5 1179.46,955.5 1180.20,955.5 1180.93,955.5 1181.67,955.5 1182.40,955.5 1183.14,955.5 1183.87,955.5 1184.61,955.5 1185.34,955.5 1186.08,955.5 1186.81,955.5 1187.55,955.5 1188.28,955.5 1189.02,955.5 1189.75,955.5 1190.49,955.5 1191.22,955.5 1191.96,955.5 1192.69,955.5 1193.43,955.5 1194.16,955.5 1194.90,955.5 1195.63,955.5 1196.37,955.5 1197.10,955.5 1197.84,955.5 1198.57,955.5 1199.31,955.5 1200.04,955.5 1200.78,955.5 1201.51,955.5 1202.25,955.5 1202.98,955.5 1203.72,955.5 1204.45,955.5 1205.19,955.5 1205.92,955.5 1206.66,955.5 1207.39,955.5 1208.13,955.5 1208.86,955.5 1209.60,955.5 1210.33,955.5 1211.07,955.5 1211.81,955.5 1212.54,955.5 1213.28,955.5 1214.01,955.5 1214.75,955.5 1215.48,955.5 1216.22,955.5 1216.95,955.5 1217.69,955.5 1218.42,955.5 1219.16,955.5 1219.89,955.5 1220.63,955.5 1221.36,955.5 1222.10,955.5 1222.83,955.5 1223.57,955.5 1224.30,955.5 1225.04,955.5 1225.77,955.5 1226.51,955.5 1227.24,955.5 1227.98,955.5 1228.71,955.5 1229.45,955.5 1230.18,955.5 1230.92,955.5 1231.65,955.5" stroke="#7D4E4E"/>
<path d="M231.19,1080.5 231.93,1080.5 232.66,1080.5 233.40,1080.5 234.13,1080.5 234.87,1080.5 235.60,1080.5 236.34,1080.5 237.07,1080.5 237.81,1080.5 238.54,1080.5 239.28,1080.5 240.01,1080.5 240.75,1080.5 241.48,1080.5 242.22,1080.5 242.95,1080.5 243.69,1080.5 244.42,1080.5 245.16,1080.5 245.89,1080.5 246.63,1080.5 247.36,1080.5 248.10,1080.5 248.83,1080.5 249.57,1080.3 250.31,1080.2 251.04,1080.2 251.78,1080.3 252.51,1080.5 253.25,1080.5 253.98,1080.5 254.72,1080.5 255.45,1080.5 256.19,1080.6 256.92,1080.8 257.66,1080.8 258.39,1080.6 259.13,1080.5 259.86,1080.5 260.60,1080.5 261.33,1080.5 262.07,1080.5 262.80,1080.5 263.54,1080.3 264.27,1080.1 265.01,1080.1 265.74,1080.3 266.48,1080.5 267.21,1080.5 267.95,1080.5 268.68,1080.3 269.42,1080.1 270.15,1080.1 270.89,1080.3 271.62,1080.5 272.36,1080.5 273.09,1080.5 273.83,1080.3 274.56,1080.2 275.30,1080.2 276.03,1080.2 276.77,1080.0 277.50,1079.8 278.24,1080.0 278.97,1080.3 279.71,1080.5 280.44,1080.5 281.18,1080.5 281.91,1080.5 282.65,1080.5 283.38,1080.5 284.12,1080.5 284.85,1080.5 285.59,1080.5 286.32,1080.5 287.06,1080.5 287.79,1080.5 288.53,1080.3 289.26,1080.1 290.00,1080.1 290.74,1080.3 291.47,1080.5 292.21,1080.5 292.94,1080.5 293.68,1080.5 294.41,1080.5 295.15,1080.5 295.88,1080.5 296.62,1080.5 297.35,1080.5 298.09,1080.5 298.82,1080.5 299.56,1080.5 300.29,1080.5 301.03,1080.5 301.76,1080.5 302.50,1080.5 303.23,1080.5 303.97,1080.5 304.70,1080.3 305.44,1080.1 306.17,1080.1 306.91,1080.3 307.64,1080.5 308.38,1080.5 309.11,1080.5 309.85,1080.5 310.58,1080.5 311.32,1080.5 312.05,1080.5 312.79,1080.5 313.52,1080.5 314.26,1080.5 314.99,1080.5 315.73,1080.5 316.46,1080.5 317.20,1080.3 317.93,1080.1 318.67,1080.1 319.40,1080.3 320.14,1080.4 320.87,1080.2 321.61,1080.2 322.34,1080.2 323.08,1080.2 323.81,1080.1 324.55,1080.1 325.28,1080.2 326.02,1080.3 326.75,1080.5 327.49,1080.5 328.22,1080.5 328.96,1080.5 329.69,1080.5 330.43,1080.5 331.17,1080.5 331.90,1080.5 332.64,1080.5 333.37,1080.5 334.11,1080.5 334.84,1080.5 335.58,1080.5 336.31,1080.5 337.05,1080.5 337.78,1080.5 338.52,1080.3 339.25,1080.1 339.99,1079.9 340.72,1080.0 341.46,1080.2 342.19,1080.3 342.93,1080.5 343.66,1080.5 344.40,1080.5 345.13,1080.5 345.87,1080.3 346.60,1080.2 347.34,1080.2 348.07,1080.2 348.81,1080.1 349.54,1080.1 350.28,1080.3 351.01,1080.5 351.75,1080.5 352.48,1080.5 353.22,1080.3 353.95,1080.2 354.69,1080.2 355.42,1080.3 356.16,1080.5 356.89,1080.5 357.63,1080.5 358.36,1080.5 359.10,1080.5 359.83,1080.5 360.57,1080.3 361.30,1080.1 362.04,1080.1 362.77,1080.3 363.51,1080.5 364.24,1080.5 364.98,1080.5 365.71,1080.5 366.45,1080.5 367.18,1080.5 367.92,1080.5 368.65,1080.5 369.39,1080.4 370.12,1080.4 370.86,1080.2 371.60,1080.1 372.33,1080.2 373.07,1080.3 373.80,1080.5 374.54,1080.5 375.27,1080.5 376.01,1080.5 376.74,1080.5 377.48,1080.5 378.21,1080.6 378.95,1080.5 379.68,1080.3 380.42,1080.2 381.15,1080.3 381.89,1080.6 382.62,1080.7 383.36,1080.7 384.09,1080.4 384.83,1080.2 385.56,1080.1 386.30,1080.1 387.03,1080.2 387.77,1080.3 388.50,1080.3 389.24,1080.1 389.97,1080.1 390.71,1080.3 391.44,1080.5 392.18,1080.5 392.91,1080.5 393.65,1080.5 394.38,1080.5 395.12,1080.5 395.85,1080.5 396.59,1080.5 397.32,1080.5 398.06,1080.3 398.79,1080.2 399.53,1080.2 400.26,1080.3 401.00,1080.5 401.73,1080.5 402.47,1080.5 403.20,1080.4 403.94,1080.4 404.67,1080.4 405.41,1080.4 406.14,1080.3 406.88,1080.3 407.61,1080.3 408.35,1080.2 409.08,1080.2 409.82,1080.2 410.56,1080.2 411.29,1080.1 412.03,1080.1 412.76,1080.1 413.50,1080.1 414.23,1080.0 414.97,1080.0 415.70,1080.0 416.44,1080.0 417.17,1079.9 417.91,1079.9 418.64,1079.9 419.38,1079.9 420.11,1079.8 420.85,1079.9 421.58,1080.0 422.32,1080.0 423.05,1079.9 423.79,1079.7 424.52,1079.7 425.26,1079.7 425.99,1079.6 426.73,1079.6 427.46,1079.7 428.20,1079.8 428.93,1079.8 429.67,1079.6 430.31,1079.5 430.40,1079.5 431.14,1079.3 431.87,1079.2 432.61,1079.1 433.34,1079.0 434.08,1078.8 434.81,1078.7 435.55,1078.6 436.28,1078.5 437.02,1078.4 437.75,1078.2 438.49,1078.1 439.22,1078.0 439.96,1077.9 440.69,1077.7 441.02,1077.7 441.43,1077.6 442.16,1077.4 442.90,1077.2 443.63,1077.0 444.37,1076.8 445.10,1076.6 445.84,1076.4 446.57,1076.2 447.31,1076.0 448.04,1075.8 448.78,1075.6 449.51,1075.4 450.25,1075.2 450.96,1074.8 450.99,1074.6 451.72,1074.2 452.46,1073.9 453.19,1073.7 453.93,1073.3 454.66,1072.9 455.40,1072.4 456.13,1072.0 456.87,1071.4 457.60,1070.8 458.34,1070.6 459.07,1070.5 459.54,1070.6 459.81,1070.6 460.54,1070.8 461.28,1070.9 461.72,1071.0 462.01,1071.0 462.75,1071.1 463.48,1071.1 464.22,1071.3 464.95,1071.6 465.69,1071.9 466.42,1072.1 467.16,1072.2 467.36,1072.3 467.89,1072.1 468.63,1071.9 469.36,1071.6 470.10,1071.5 470.83,1071.4 471.57,1071.2 472.30,1070.8 473.04,1070.4 473.77,1070.2 474.51,1069.9 475.24,1069.7 475.98,1069.6 476.71,1069.3 477.30,1069.1 477.45,1069.1 478.18,1069.4 478.92,1069.6 479.36,1069.7 479.65,1069.7 480.39,1070.0 481.12,1070.4 481.86,1070.8 482.59,1071.2 483.33,1071.6 484.06,1072.2 484.80,1072.8 485.53,1073.1 486.27,1073.4 487.00,1073.9 487.30,1074.2 487.74,1074.4 488.47,1074.7 489.21,1074.9 489.94,1075.2 490.68,1075.5 491.42,1075.7 492.15,1076.0 492.89,1076.2 493.62,1076.5 494.36,1076.7 495.09,1077.0 495.83,1077.2 496.56,1077.5 497.30,1077.8 497.94,1078.0 498.03,1078.0 498.77,1078.1 499.50,1078.2 500.24,1078.2 500.97,1078.3 501.71,1078.4 502.44,1078.5 503.18,1078.6 503.91,1078.7 504.65,1078.7 505.38,1078.8 506.12,1078.9 506.85,1079.0 507.59,1079.1 508.32,1079.1 509.06,1079.2 509.79,1079.3 510.53,1079.3 511.26,1079.4 512.00,1079.5 512.17,1079.6 512.73,1079.6 513.47,1079.6 514.20,1079.7 514.94,1079.7 515.67,1079.8 516.41,1079.8 517.14,1079.8 517.88,1079.9 518.61,1079.9 519.35,1079.9 520.08,1080.0 520.82,1080.0 521.55,1080.0 522.29,1080.1 523.02,1080.1 523.76,1080.1 524.49,1080.2 525.23,1080.2 525.96,1080.3 526.41,1080.1 526.70,1080.0 527.43,1080.0 528.17,1080.1 528.90,1080.3 529.64,1080.3 530.38,1080.3 531.11,1080.3 531.85,1080.3 532.58,1080.3 533.32,1080.3 534.05,1080.3 534.79,1080.3 535.52,1080.3 536.26,1080.3 536.99,1080.3 537.73,1080.3 538.46,1080.3 539.20,1080.3 539.93,1080.3 540.67,1080.3 541.40,1080.3 542.14,1080.2 542.87,1080.2 543.61,1080.2 544.34,1080.2 545.08,1080.2 545.81,1080.1 546.55,1080.1 547.28,1080.0 548.02,1080.0 548.75,1080.0 549.49,1079.9 550.22,1079.9 550.96,1079.8 551.69,1079.8 552.43,1079.8 553.16,1079.7 553.90,1079.7 554.63,1079.6 555.37,1079.6 556.10,1079.5 556.84,1079.5 557.57,1079.5 558.31,1079.4 559.04,1079.4 559.34,1079.4 559.78,1079.3 560.51,1079.2 561.25,1079.1 561.98,1079.0 562.72,1078.9 563.45,1078.8 564.19,1078.6 564.92,1078.4 565.66,1078.3 566.39,1078.3 567.13,1078.4 567.86,1078.3 568.60,1078.2 569.33,1078.1 570.07,1078.1 570.81,1078.1 571.54,1078.1 572.28,1077.8 572.39,1077.7 573.01,1077.5 573.75,1077.2 574.48,1077.0 575.22,1076.8 575.95,1076.5 576.69,1076.3 577.42,1076.0 578.16,1075.8 578.89,1075.5 579.63,1075.1 580.36,1074.7 581.10,1074.5 581.83,1074.4 582.15,1074.3 582.57,1073.8 583.30,1073.2 584.04,1072.9 584.77,1072.8 585.51,1072.6 586.24,1072.2 586.98,1071.7 587.71,1071.3 588.45,1070.9 589.04,1070.6 589.18,1070.4 589.92,1069.3 590.65,1068.2 591.39,1067.1 592.12,1066.0 592.86,1065.0 593.59,1063.9 593.86,1063.5 594.33,1061.9 595.06,1059.4 595.80,1057.0 596.53,1054.3 597.27,1051.6 597.92,1049.3 598.00,1049.0 598.74,1046.6 599.47,1044.3 600.21,1041.9 600.94,1039.5 601.68,1037.2 602.33,1035.1 602.41,1034.8 603.15,1032.3 603.88,1029.9 604.62,1027.4 605.35,1024.9 606.09,1022.5 606.56,1020.9 606.82,1019.0 607.56,1013.6 608.29,1008.3 609.03,1003.0 609.50,999.6 609.76,996.8 610.50,989.2 611.24,981.5 611.97,973.9 612.56,967.8 612.71,967.8 613.44,967.8 614.18,967.8 614.79,967.8 614.91,970.1 615.65,984.2 616.38,998.4 616.44,999.6 617.12,1007.5 617.85,1016.1 618.26,1020.9 618.59,1024.4 619.32,1032.5 619.56,1035.1 620.06,1038.2 620.79,1042.7 621.53,1047.1 621.85,1049.0 622.26,1050.4 623.00,1052.9 623.73,1055.5 624.32,1057.5 624.47,1057.6 625.20,1058.8 625.94,1060.1 626.67,1061.7 627.41,1063.2 627.55,1063.3 628.14,1063.7 628.88,1064.4 629.61,1065.3 630.35,1066.2 631.08,1066.9 631.82,1067.6 632.26,1068.0 632.55,1068.1 633.29,1068.5 634.02,1068.8 634.76,1069.2 635.49,1069.6 636.23,1069.9 636.96,1070.3 637.55,1070.6 637.70,1070.6 638.43,1070.8 639.17,1071.0 639.90,1071.2 640.64,1071.4 641.37,1071.6 642.11,1071.9 642.84,1072.2 643.58,1072.4 644.31,1072.4 645.05,1072.3 645.78,1072.5 646.52,1072.9 647.25,1073.0 647.99,1073.1 648.72,1073.3 649.46,1073.6 650.19,1074.0 650.49,1074.1 650.93,1074.2 651.67,1074.4 652.40,1074.7 653.14,1074.7 653.87,1074.8 654.61,1075.0 655.34,1075.4 656.08,1075.8 656.81,1076.0 657.55,1076.2 658.28,1076.4 659.02,1076.6 659.75,1076.9 660.49,1077.1 661.22,1077.2 661.96,1077.4 662.69,1077.6 663.43,1077.7 664.16,1077.7 664.90,1077.7 665.63,1077.9 666.37,1078.2 667.10,1078.6 667.84,1078.7 668.57,1078.9 669.31,1079.1 670.04,1079.1 670.78,1079.2 671.51,1079.0 672.25,1078.9 672.98,1079.0 673.72,1079.1 674.45,1079.3 675.19,1079.4 675.92,1079.2 676.66,1079.1 677.39,1079.1 678.13,1079.3 678.86,1079.5 679.60,1079.6 680.33,1079.6 681.07,1079.7 681.80,1079.7 682.54,1079.7 683.27,1079.8 684.01,1079.8 684.74,1079.8 685.48,1079.9 686.21,1079.9 686.95,1079.8 687.68,1079.5 688.42,1079.4 689.15,1079.5 689.89,1079.8 690.62,1079.8 691.36,1079.8 692.10,1080.0 692.83,1080.1 693.57,1080.1 694.30,1080.1 695.04,1080.0 695.77,1079.8 696.51,1079.8 697.24,1080.0 697.98,1080.2 698.71,1080.2 699.45,1080.2 700.18,1080.2 700.92,1080.0 701.65,1079.8 702.39,1079.9 703.12,1080.1 703.86,1080.3 704.59,1080.3 705.33,1080.3 706.06,1080.3 706.80,1080.3 707.53,1080.3 708.27,1080.3 709.00,1080.3 709.74,1080.3 710.47,1080.4 711.21,1080.4 711.94,1080.4 712.68,1080.4 713.41,1080.4 714.15,1080.4 714.88,1080.4 715.62,1080.4 716.35,1080.4 717.09,1080.5 717.82,1080.5 718.56,1080.5 719.29,1080.5 720.03,1080.6 720.76,1080.7 721.50,1080.7 722.23,1080.6 722.97,1080.3 723.70,1080.1 724.44,1080.0 725.17,1080.0 725.91,1080.2 726.64,1080.4 727.38,1080.5 728.11,1080.5 728.85,1080.5 729.58,1080.4 730.32,1080.2 731.06,1080.2 731.79,1080.4 732.53,1080.5 733.26,1080.5 734.00,1080.5 734.73,1080.5 735.47,1080.5 736.20,1080.5 736.94,1080.5 737.67,1080.5 738.41,1080.5 739.14,1080.5 739.88,1080.5 740.61,1080.5 741.35,1080.5 742.08,1080.5 742.82,1080.5 743.55,1080.5 744.29,1080.5 745.02,1080.3 745.76,1080.2 746.49,1080.2 747.23,1080.3 747.96,1080.5 748.70,1080.5 749.43,1080.5 750.17,1080.5 750.90,1080.5 751.64,1080.5 752.37,1080.5 753.11,1080.5 753.84,1080.5 754.58,1080.5 755.31,1080.5 756.05,1080.5 756.78,1080.5 757.52,1080.5 758.25,1080.5 758.99,1080.5 759.72,1080.5 760.46,1080.5 761.19,1080.5 761.93,1080.5 762.66,1080.5 763.40,1080.5 764.13,1080.5 764.87,1080.5 765.60,1080.5 766.34,1080.5 767.07,1080.5 767.81,1080.5 768.54,1080.5 769.28,1080.5 770.01,1080.5 770.75,1080.5 771.49,1080.5 772.22,1080.5 772.96,1080.5 773.69,1080.5 774.43,1080.5 775.16,1080.5 775.90,1080.5 776.63,1080.5 777.37,1080.5 778.10,1080.5 778.84,1080.5 779.57,1080.5 780.31,1080.5 781.04,1080.5 781.78,1080.5 782.51,1080.3 783.25,1080.2 783.98,1080.1 784.72,1080.1 785.45,1080.0 786.19,1080.0 786.92,1080.1 787.66,1080.3 788.39,1080.5 789.13,1080.5 789.86,1080.5 790.60,1080.5 791.33,1080.5 792.07,1080.5 792.80,1080.5 793.54,1080.5 794.27,1080.5 795.01,1080.5 795.74,1080.5 796.48,1080.5 797.21,1080.5 797.95,1080.5 798.68,1080.5 799.42,1080.5 800.15,1080.5 800.89,1080.5 801.62,1080.5 802.36,1080.5 803.09,1080.5 803.83,1080.5 804.56,1080.5 805.30,1080.5 806.03,1080.5 806.77,1080.5 807.50,1080.5 808.24,1080.5 808.97,1080.5 809.71,1080.5 810.44,1080.5 811.18,1080.5 811.92,1080.5 812.65,1080.5 813.39,1080.5 814.12,1080.5 814.86,1080.3 815.59,1080.2 816.33,1080.2 817.06,1080.3 817.80,1080.5 818.53,1080.5 819.27,1080.5 820.00,1080.5 820.74,1080.3 821.47,1080.1 822.21,1080.1 822.94,1080.3 823.68,1080.5 824.41,1080.5 825.15,1080.5 825.88,1080.5 826.62,1080.5 827.35,1080.5 828.09,1080.5 828.82,1080.5 829.56,1080.5 830.29,1080.5 831.03,1080.5 831.76,1080.5 832.50,1080.5 833.23,1080.5 833.97,1080.5 834.70,1080.5 835.44,1080.5 836.17,1080.5 836.91,1080.5 837.64,1080.5 838.38,1080.5 839.11,1080.5 839.85,1080.5 840.58,1080.5 841.32,1080.4 842.05,1080.2 842.79,1080.2 843.52,1080.4 844.26,1080.3 844.99,1080.1 845.73,1080.1 846.46,1080.3 847.20,1080.5 847.93,1080.5 848.67,1080.5 849.40,1080.5 850.14,1080.5 850.88,1080.5 851.61,1080.5 852.35,1080.5 853.08,1080.5 853.82,1080.5 854.55,1080.5 855.29,1080.5 856.02,1080.5 856.76,1080.5 857.49,1080.5 858.23,1080.5 858.96,1080.5 859.70,1080.5 860.43,1080.5 861.17,1080.5 861.90,1080.5 862.64,1080.5 863.37,1080.5 864.11,1080.5 864.84,1080.5 865.58,1080.5 866.31,1080.5 867.05,1080.5 867.78,1080.5 868.52,1080.5 869.25,1080.5 869.99,1080.5 870.72,1080.5 871.46,1080.5 872.19,1080.5 872.93,1080.5 873.66,1080.5 874.40,1080.5 875.13,1080.5 875.87,1080.5 876.60,1080.5 877.34,1080.5 878.07,1080.5 878.81,1080.5 879.54,1080.5 880.28,1080.5 881.01,1080.5 881.75,1080.5 882.48,1080.5 883.22,1080.5 883.95,1080.5 884.69,1080.5 885.42,1080.5 886.16,1080.5 886.89,1080.5 887.63,1080.5 888.36,1080.5 889.10,1080.5 889.83,1080.6 890.57,1080.7 891.31,1080.7 892.04,1080.6 892.78,1080.3 893.51,1080.1 894.25,1080.1 894.98,1080.3 895.72,1080.5 896.45,1080.5 897.19,1080.3 897.92,1080.1 898.66,1080.1 899.39,1080.3 900.13,1080.5 900.86,1080.3 901.60,1080.1 902.33,1080.1 903.07,1080.3 903.80,1080.5 904.54,1080.5 905.27,1080.5 906.01,1080.5 906.74,1080.5 907.48,1080.5 908.21,1080.5 908.95,1080.5 909.68,1080.5 910.42,1080.5 911.15,1080.5 911.89,1080.5 912.62,1080.5 913.36,1080.5 914.09,1080.5 914.83,1080.5 915.56,1080.5 916.30,1080.5 917.03,1080.5 917.77,1080.5 918.50,1080.5 919.24,1080.3 919.97,1080.2 920.71,1080.0 921.44,1080.0 922.18,1080.1 922.91,1080.3 923.65,1080.5 924.38,1080.5 925.12,1080.5 925.85,1080.5 926.59,1080.5 927.32,1080.5 928.06,1080.5 928.79,1080.5 929.53,1080.5 930.26,1080.5 931.00,1080.5 931.74,1080.5 932.47,1080.5 933.21,1080.5 933.94,1080.5 934.68,1080.3 935.41,1080.2 936.15,1080.2 936.88,1080.3 937.62,1080.5 938.35,1080.5 939.09,1080.5 939.82,1080.5 940.56,1080.5 941.29,1080.5 942.03,1080.5 942.76,1080.5 943.50,1080.5 944.23,1080.5 944.97,1080.5 945.70,1080.5 946.44,1080.5 947.17,1080.5 947.91,1080.5 948.64,1080.5 949.38,1080.5 950.11,1080.5 950.85,1080.5 951.58,1080.5 952.32,1080.5 953.05,1080.5 953.79,1080.5 954.52,1080.5 955.26,1080.3 955.99,1080.1 956.73,1080.1 957.46,1080.3 958.20,1080.5 958.93,1080.5 959.67,1080.5 960.40,1080.5 961.14,1080.5 961.87,1080.5 962.61,1080.5 963.34,1080.5 964.08,1080.5 964.81,1080.3 965.55,1080.1 966.28,1080.1 967.02,1080.3 967.75,1080.3 968.49,1079.9 969.22,1079.8 969.96,1080.0 970.69,1080.1 971.43,1080.1 972.17,1080.0 972.90,1080.0 973.64,1080.2 974.37,1080.4 975.11,1080.5 975.84,1080.5 976.58,1080.5 977.31,1080.5 978.05,1080.5 978.78,1080.6 979.52,1080.6 980.25,1080.5 980.99,1080.3 981.72,1080.3 982.46,1080.5 983.19,1080.5 983.93,1080.5 984.66,1080.5 985.40,1080.5 986.13,1080.5 986.87,1080.5 987.60,1080.5 988.34,1080.3 989.07,1080.1 989.81,1080.1 990.54,1080.4 991.28,1080.8 992.01,1080.8 992.75,1080.6 993.48,1080.5 994.22,1080.5 994.95,1080.5 995.69,1080.5 996.42,1080.5 997.16,1080.5 997.89,1080.5 998.63,1080.5 999.36,1080.3 1000.10,1080.1 1000.83,1080.1 1001.57,1080.3 1002.30,1080.5 1003.04,1080.5 1003.77,1080.3 1004.51,1080.1 1005.24,1080.1 1005.98,1080.3 1006.71,1080.5 1007.45,1080.5 1008.18,1080.5 1008.92,1080.5 1009.65,1080.5 1010.39,1080.5 1011.12,1080.5 1011.86,1080.5 1012.60,1080.5 1013.33,1080.3 1014.07,1080.2 1014.80,1080.0 1015.54,1080.0 1016.27,1080.2 1017.01,1080.3 1017.74,1080.3 1018.48,1080.2 1019.21,1080.2 1019.95,1080.3 1020.68,1080.4 1021.42,1080.4 1022.15,1080.4 1022.89,1080.4 1023.62,1080.4 1024.36,1080.4 1025.09,1080.4 1025.83,1080.3 1026.56,1080.3 1027.30,1080.3 1028.03,1080.3 1028.77,1080.3 1029.50,1080.3 1030.24,1080.2 1030.97,1080.2 1031.71,1080.2 1032.44,1080.2 1033.18,1080.2 1033.32,1080.2 1033.91,1080.1 1034.65,1080.1 1035.38,1080.0 1036.12,1080.0 1036.85,1079.9 1037.59,1079.8 1038.32,1079.8 1039.06,1079.7 1039.79,1079.7 1040.53,1079.6 1041.26,1079.6 1042.00,1079.3 1042.73,1079.1 1043.47,1079.1 1044.20,1079.2 1044.94,1079.3 1045.67,1079.1 1046.41,1078.8 1047.14,1078.8 1047.88,1078.9 1048.61,1079.0 1049.35,1078.8 1050.08,1078.6 1050.82,1078.5 1051.56,1078.3 1052.29,1078.2 1053.03,1078.0 1053.76,1077.8 1054.50,1077.7 1055.23,1077.5 1055.97,1077.3 1056.70,1077.2 1057.44,1077.0 1058.17,1076.7 1058.91,1076.4 1059.64,1076.2 1060.38,1076.2 1061.11,1076.2 1061.85,1076.0 1062.58,1075.8 1063.32,1075.7 1064.05,1075.5 1064.20,1075.5 1064.79,1075.3 1065.52,1075.1 1066.26,1074.9 1066.99,1074.7 1067.73,1074.3 1068.46,1073.9 1069.20,1073.7 1069.93,1073.7 1070.67,1073.6 1071.40,1073.4 1072.14,1073.3 1072.87,1073.2 1073.61,1073.0 1074.34,1072.6 1075.08,1072.3 1075.81,1072.1 1076.55,1071.8 1077.28,1071.6 1078.02,1071.4 1078.75,1071.2 1079.49,1071.0 1080.22,1070.8 1080.96,1070.5 1081.69,1070.3 1082.43,1070.1 1082.55,1070.1 1083.16,1070.1 1083.90,1070.0 1084.63,1070.0 1085.37,1070.0 1086.10,1070.0 1086.84,1069.8 1087.57,1069.6 1088.31,1069.5 1089.04,1069.7 1089.78,1069.9 1090.51,1069.2 1091.25,1068.3 1091.99,1067.4 1092.72,1066.5 1093.31,1066.1 1093.46,1066.1 1094.19,1065.2 1094.93,1064.2 1095.66,1063.1 1096.40,1062.1 1097.13,1061.1 1097.19,1061.0 1097.87,1061.4 1098.60,1061.9 1099.34,1062.4 1100.07,1062.9 1100.81,1063.4 1100.95,1063.5 1101.54,1064.0 1102.28,1064.6 1103.01,1065.4 1103.75,1066.2 1104.48,1066.8 1105.22,1067.2 1105.95,1067.5 1106.69,1068.1 1107.42,1068.6 1108.16,1069.1 1108.89,1069.7 1109.63,1070.2 1110.01,1070.5 1110.36,1070.5 1111.10,1070.4 1111.83,1070.3 1112.57,1070.3 1112.71,1070.3 1113.30,1070.1 1114.04,1069.9 1114.77,1069.5 1115.48,1069.1 1115.51,1069.1 1116.24,1070.0 1116.98,1070.9 1117.71,1071.6 1118.45,1072.3 1118.60,1072.5 1119.18,1073.2 1119.92,1074.1 1120.65,1075.0 1121.39,1075.9 1122.12,1076.8 1122.71,1077.5 1122.86,1077.5 1123.59,1077.8 1124.33,1078.1 1125.06,1078.4 1125.80,1078.6 1126.53,1078.9 1127.27,1079.2 1128.00,1079.5 1128.74,1079.6 1129.47,1079.7 1130.21,1079.9 1130.94,1080.0 1131.68,1080.1 1132.42,1080.2 1133.15,1080.4 1133.89,1080.5 1134.62,1080.5 1135.36,1080.5 1136.09,1080.5 1136.83,1080.5 1137.56,1080.5 1138.30,1080.5 1139.03,1080.5 1139.77,1080.5 1140.50,1080.5 1141.24,1080.5 1141.97,1080.5 1142.71,1080.5 1143.44,1080.5 1144.18,1080.5 1144.91,1080.5 1145.65,1080.5 1146.38,1080.5 1147.12,1080.5 1147.85,1080.5 1148.59,1080.5 1149.32,1080.5 1150.06,1080.5 1150.79,1080.5 1151.53,1080.5 1152.26,1080.5 1153.00,1080.5 1153.73,1080.5 1154.47,1080.5 1155.20,1080.5 1155.94,1080.5 1156.67,1080.5 1157.41,1080.5 1158.14,1080.5 1158.88,1080.5 1159.61,1080.5 1160.35,1080.5 1161.08,1080.3 1161.82,1080.2 1162.55,1080.2 1163.29,1080.3 1164.02,1080.5 1164.76,1080.5 1165.49,1080.5 1166.23,1080.5 1166.96,1080.5 1167.70,1080.5 1168.43,1080.5 1169.17,1080.5 1169.90,1080.5 1170.64,1080.5 1171.37,1080.5 1172.11,1080.5 1172.85,1080.5 1173.58,1080.5 1174.32,1080.5 1175.05,1080.5 1175.79,1080.5 1176.52,1080.5 1177.26,1080.5 1177.99,1080.5 1178.73,1080.5 1179.46,1080.5 1180.20,1080.5 1180.93,1080.3 1181.67,1080.1 1182.40,1080.1 1183.14,1080.3 1183.87,1080.5 1184.61,1080.5 1185.34,1080.5 1186.08,1080.5 1186.81,1080.5 1187.55,1080.5 1188.28,1080.5 1189.02,1080.5 1189.75,1080.5 1190.49,1080.5 1191.22,1080.5 1191.96,1080.5 1192.69,1080.5 1193.43,1080.5 1194.16,1080.5 1194.90,1080.5 1195.63,1080.5 1196.37,1080.5 1197.10,1080.5 1197.84,1080.5 1198.57,1080.5 1199.31,1080.5 1200.04,1080.5 1200.78,1080.5 1201.51,1080.5 1202.25,1080.5 1202.98,1080.5 1203.72,1080.5 1204.45,1080.6 1205.19,1080.7 1205.92,1080.7 1206.66,1080.6 1207.39,1080.5 1208.13,1080.5 1208.86,1080.5 1209.60,1080.5 1210.33,1080.5 1211.07,1080.6 1211.81,1080.7 1212.54,1080.7 1213.28,1080.6 1214.01,1080.5 1214.75,1080.5 1215.48,1080.5 1216.22,1080.5 1216.95,1080.5 1217.69,1080.5 1218.42,1080.5 1219.16,1080.5 1219.89,1080.5 1220.63,1080.5 1221.36,1080.5 1222.10,1080.5 1222.83,1080.5 1223.57,1080.5 1224.30,1080.5 1225.04,1080.5 1225.77,1080.5 1226.51,1080.5 1227.24,1080.5 1227.98,1080.5 1228.71,1080.5 1229.45,1080.5 1230.18,1080.5 1230.92,1080.5 1231.65,1080.5" stroke="#00CBCC"/>
<path d="M231.19,1205.5 231.93,1205.5 232.66,1205.5 233.40,1205.5 234.13,1205.5 234.87,1205.5 235.60,1205.7 236.34,1206.0 237.07,1206.0 237.81,1205.7 238.54,1205.5 239.28,1205.5 240.01,1205.5 240.75,1205.5 241.48,1205.5 242.22,1205.5 242.95,1205.5 243.69,1205.5 244.42,1205.2 245.16,1205.0 245.89,1205.0 246.63,1205.2 247.36,1205.5 248.10,1205.2 248.83,1204.8 249.57,1204.8 250.31,1205.2 251.04,1205.5 251.78,1205.5 252.51,1205.5 253.25,1205.2 253.98,1205.0 254.72,1205.0 255.45,1205.4 256.19,1205.9 256.92,1205.9 257.66,1205.7 258.39,1205.5 259.13,1205.5 259.86,1205.5 260.60,1205.5 261.33,1205.5 262.07,1205.5 262.80,1205.5 263.54,1205.5 264.27,1205.5 265.01,1205.5 265.74,1205.5 266.48,1205.5 267.21,1205.5 267.95,1205.5 268.68,1205.5 269.42,1205.5 270.15,1205.5 270.89,1205.5 271.62,1205.5 272.36,1205.5 273.09,1205.5 273.83,1205.5 274.56,1205.5 275.30,1205.5 276.03,1205.5 276.77,1205.5 277.50,1205.5 278.24,1205.2 278.97,1205.0 279.71,1205.0 280.44,1205.2 281.18,1205.5 281.91,1205.5 282.65,1205.2 283.38,1205.0 284.12,1205.0 284.85,1205.2 285.59,1205.5 286.32,1205.5 287.06,1205.5 287.79,1205.5 288.53,1205.5 289.26,1205.5 290.00,1205.7 290.74,1206.0 291.47,1206.0 292.21,1205.7 292.94,1205.5 293.68,1205.5 294.41,1205.5 295.15,1205.5 295.88,1205.5 296.62,1205.6 297.35,1205.8 298.09,1205.8 298.82,1205.6 299.56,1205.5 300.29,1205.5 301.03,1205.5 301.76,1205.5 302.50,1205.5 303.23,1205.5 303.97,1205.5 304.70,1205.5 305.44,1205.5 306.17,1205.5 306.91,1205.1 307.64,1204.8 308.38,1204.8 309.11,1205.1 309.85,1205.5 310.58,1205.5 311.32,1205.5 312.05,1205.5 312.79,1205.5 313.52,1205.5 314.26,1205.5 314.99,1205.5 315.73,1205.5 316.46,1205.5 317.20,1205.5 317.93,1205.2 318.67,1204.9 319.40,1204.9 320.14,1205.2 320.87,1205.5 321.61,1205.5 322.34,1205.5 323.08,1205.5 323.81,1205.5 324.55,1205.5 325.28,1205.5 326.02,1205.5 326.75,1205.5 327.49,1205.5 328.22,1205.5 328.96,1205.5 329.69,1205.5 330.43,1205.5 331.17,1205.5 331.90,1205.5 332.64,1205.5 333.37,1205.5 334.11,1205.5 334.84,1205.5 335.58,1205.5 336.31,1205.5 337.05,1205.5 337.78,1205.5 338.52,1205.5 339.25,1205.5 339.99,1205.5 340.72,1205.5 341.46,1205.2 342.19,1205.0 342.93,1205.0 343.66,1205.2 344.40,1205.5 345.13,1205.5 345.87,1205.5 346.60,1205.5 347.34,1205.5 348.07,1205.6 348.81,1205.8 349.54,1205.8 350.28,1205.6 351.01,1205.5 351.75,1205.5 352.48,1205.5 353.22,1205.5 353.95,1205.5 354.69,1205.5 355.42,1205.5 356.16,1205.5 356.89,1205.5 357.63,1205.5 358.36,1205.5 359.10,1205.5 359.83,1205.5 360.57,1205.5 361.30,1205.5 362.04,1205.5 362.77,1205.5 363.51,1205.5 364.24,1205.5 364.98,1205.5 365.71,1205.2 366.45,1204.9 367.18,1204.9 367.92,1205.2 368.65,1205.5 369.39,1205.5 370.12,1205.5 370.86,1205.5 371.60,1205.5 372.33,1205.5 373.07,1205.5 373.80,1205.5 374.54,1205.2 375.27,1204.8 376.01,1204.8 376.74,1205.2 377.48,1205.5 378.21,1205.5 378.95,1205.5 379.68,1205.5 380.42,1205.5 381.15,1205.5 381.89,1205.5 382.62,1205.5 383.36,1205.5 384.09,1205.5 384.83,1205.2 385.56,1204.9 386.30,1204.9 387.03,1205.2 387.77,1205.5 388.50,1205.5 389.24,1205.5 389.97,1205.5 390.71,1205.5 391.44,1205.5 392.18,1205.5 392.91,1205.5 393.65,1205.5 394.38,1205.6 395.12,1205.8 395.85,1205.8 396.59,1205.6 397.32,1205.5 398.06,1205.5 398.79,1205.5 399.53,1205.5 400.26,1205.5 401.00,1205.5 401.73,1205.5 402.47,1205.4 403.20,1205.4 403.94,1205.4 404.67,1205.4 405.41,1205.3 406.14,1205.3 406.88,1205.3 407.61,1205.3 408.35,1205.2 409.08,1205.2 409.82,1205.2 410.56,1205.2 411.29,1205.1 412.03,1205.1 412.76,1205.1 413.50,1205.0 414.23,1205.0 414.97,1205.0 415.70,1205.0 416.44,1204.9 417.17,1204.9 417.91,1204.9 418.64,1204.9 419.38,1204.8 420.11,1204.5 420.85,1204.2 421.58,1204.2 422.32,1204.4 423.05,1204.7 423.79,1204.7 424.52,1204.4 425.26,1204.1 425.99,1204.1 426.73,1204.3 427.46,1204.6 428.20,1204.5 428.93,1204.5 429.67,1204.5 430.31,1204.5 430.40,1204.1 431.14,1203.7 431.87,1203.6 432.61,1203.6 433.34,1203.2 434.08,1202.8 434.81,1202.9 435.55,1203.3 436.28,1203.5 437.02,1203.3 437.75,1202.9 438.49,1202.5 439.22,1202.4 439.96,1202.4 440.69,1202.3 441.02,1202.2 441.43,1202.3 442.16,1202.3 442.90,1202.1 443.63,1201.9 444.37,1201.7 445.10,1201.3 445.84,1200.8 446.57,1200.6 447.31,1200.7 448.04,1200.8 448.78,1200.6 449.51,1200.4 450.25,1200.2 450.96,1200.0 450.99,1199.9 451.72,1199.5 452.46,1199.1 453.19,1198.7 453.93,1198.3 454.66,1197.5 455.40,1196.8 456.13,1196.4 456.87,1196.3 457.60,1196.2 458.34,1195.9 459.07,1195.7 459.54,1195.6 459.81,1195.4 460.54,1195.3 461.28,1195.4 461.72,1195.7 462.01,1196.0 462.75,1196.2 463.48,1196.4 464.22,1196.5 464.95,1196.7 465.69,1196.9 466.42,1197.0 467.16,1197.2 467.36,1197.3 467.89,1197.1 468.63,1196.8 469.36,1196.6 470.10,1196.4 470.83,1196.1 471.57,1195.9 472.30,1195.6 473.04,1195.4 473.77,1194.9 474.51,1194.4 475.24,1194.2 475.98,1194.3 476.71,1194.4 477.30,1194.4 477.45,1194.4 478.18,1194.5 478.92,1194.6 479.36,1194.7 479.65,1194.8 480.39,1195.3 481.12,1195.7 481.86,1196.1 482.59,1196.5 483.33,1197.0 484.06,1197.4 484.80,1197.8 485.53,1198.2 486.27,1198.7 487.00,1199.1 487.30,1199.3 487.74,1199.4 488.47,1199.7 489.21,1199.9 489.94,1200.2 490.68,1200.4 491.42,1200.7 492.15,1200.9 492.89,1201.2 493.62,1201.5 494.36,1201.7 495.09,1202.0 495.83,1202.2 496.56,1202.5 497.30,1202.7 497.94,1203.0 498.03,1203.0 498.77,1203.2 499.50,1203.5 500.24,1203.6 500.97,1203.5 501.71,1203.4 502.44,1203.5 503.18,1203.5 503.91,1203.6 504.65,1203.9 505.38,1204.2 506.12,1204.3 506.85,1204.2 507.59,1204.0 508.32,1204.1 509.06,1204.2 509.79,1204.3 510.53,1204.4 511.26,1204.5 512.00,1204.5 512.17,1204.6 512.73,1204.6 513.47,1204.6 514.20,1204.4 514.94,1203.8 515.67,1203.5 516.41,1203.8 517.14,1204.5 517.88,1204.5 518.61,1204.3 519.35,1204.0 520.08,1204.0 520.82,1204.1 521.55,1204.2 522.29,1204.6 523.02,1204.9 523.76,1205.1 524.49,1205.2 525.23,1205.2 525.96,1205.2 526.41,1205.3 526.70,1205.3 527.43,1205.3 528.17,1205.3 528.90,1205.3 529.64,1205.3 530.38,1205.3 531.11,1205.3 531.85,1205.3 532.58,1204.9 533.32,1204.6 534.05,1204.6 534.79,1204.9 535.52,1205.3 536.26,1205.3 536.99,1205.3 537.73,1205.3 538.46,1205.3 539.20,1205.3 539.93,1205.3 540.67,1205.3 541.40,1205.3 542.14,1205.3 542.87,1205.3 543.61,1204.9 544.34,1204.5 545.08,1204.5 545.81,1204.8 546.55,1205.1 547.28,1205.0 548.02,1204.8 548.75,1204.5 549.49,1204.5 550.22,1204.6 550.96,1204.8 551.69,1204.8 552.43,1204.7 553.16,1204.7 553.90,1204.7 554.63,1204.6 555.37,1204.6 556.10,1204.5 556.84,1204.5 557.57,1204.5 558.31,1204.4 559.04,1204.4 559.34,1204.4 559.78,1204.3 560.51,1204.2 561.25,1204.1 561.98,1204.0 562.72,1203.9 563.45,1204.1 564.19,1204.2 564.92,1204.2 565.66,1203.8 566.39,1203.4 567.13,1203.3 567.86,1203.2 568.60,1203.2 569.33,1203.1 570.07,1203.0 570.81,1202.9 571.54,1202.8 572.28,1202.9 572.39,1203.1 573.01,1202.9 573.75,1202.5 574.48,1202.0 575.22,1201.7 575.95,1201.5 576.69,1201.3 577.42,1201.0 578.16,1200.8 578.89,1200.5 579.63,1200.3 580.36,1200.0 581.10,1199.8 581.83,1199.6 582.15,1199.5 582.57,1199.2 583.30,1198.8 584.04,1198.4 584.77,1198.0 585.51,1197.6 586.24,1197.1 586.98,1196.7 587.71,1196.3 588.45,1195.9 589.04,1195.6 589.18,1195.3 589.92,1194.0 590.65,1192.7 591.39,1191.6 592.12,1190.8 592.86,1189.9 593.59,1188.8 593.86,1188.5 594.33,1186.9 595.06,1184.4 595.80,1182.0 596.53,1179.3 597.27,1176.6 597.92,1174.3 598.00,1174.0 598.74,1171.6 599.47,1169.2 600.21,1166.9 600.94,1164.5 601.68,1162.1 602.33,1160.1 602.41,1159.8 603.15,1157.3 603.88,1154.8 604.62,1152.4 605.35,1149.9 606.09,1147.4 606.56,1145.9 606.82,1143.7 607.56,1138.1 608.29,1132.8 609.03,1127.7 609.50,1124.6 609.76,1121.8 610.50,1114.2 611.24,1106.5 611.97,1098.9 612.56,1092.8 612.71,1092.8 613.44,1092.5 614.18,1092.2 614.79,1092.2 614.91,1094.7 615.65,1109.2 616.38,1123.4 616.44,1124.6 617.12,1132.5 617.85,1141.1 618.26,1145.9 618.59,1149.4 619.32,1157.5 619.56,1160.1 620.06,1163.3 620.79,1168.1 621.53,1172.6 621.85,1174.4 622.26,1175.6 623.00,1178.1 623.73,1180.5 624.32,1182.7 624.47,1183.2 625.20,1184.5 625.94,1185.7 626.67,1186.8 627.41,1188.2 627.55,1188.5 628.14,1189.0 628.88,1189.7 629.61,1190.4 630.35,1191.1 631.08,1191.8 631.82,1192.5 632.26,1193.0 632.55,1193.1 633.29,1193.5 634.02,1193.8 634.76,1194.2 635.49,1194.5 636.23,1194.9 636.96,1195.3 637.55,1195.3 637.70,1195.0 638.43,1195.2 639.17,1195.7 639.90,1196.2 640.64,1196.4 641.37,1196.6 642.11,1196.8 642.84,1197.0 643.58,1197.2 644.31,1197.4 645.05,1197.6 645.78,1197.8 646.52,1198.0 647.25,1198.2 647.99,1198.4 648.72,1198.6 649.46,1198.5 650.19,1198.0 650.49,1197.7 650.93,1198.2 651.67,1199.1 652.40,1199.6 653.14,1199.9 653.87,1200.1 654.61,1200.3 655.34,1200.5 656.08,1200.7 656.81,1201.0 657.55,1201.2 658.28,1201.4 659.02,1201.6 659.75,1201.8 660.49,1201.8 661.22,1201.8 661.96,1202.0 662.69,1202.3 663.43,1202.7 664.16,1202.9 664.90,1202.8 665.63,1202.7 666.37,1202.9 667.10,1203.5 667.84,1204.1 668.57,1204.3 669.31,1204.2 670.04,1204.1 670.78,1204.1 671.51,1204.2 672.25,1204.2 672.98,1204.2 673.72,1204.3 674.45,1204.3 675.19,1204.3 675.92,1204.4 676.66,1204.4 677.39,1204.2 678.13,1203.9 678.86,1203.9 679.60,1204.3 680.33,1204.4 681.07,1204.2 681.80,1204.2 682.54,1204.5 683.27,1204.7 684.01,1204.8 684.74,1204.5 685.48,1204.3 686.21,1204.3 686.95,1204.6 687.68,1205.0 688.42,1205.0 689.15,1205.0 689.89,1205.1 690.62,1205.1 691.36,1205.1 692.10,1205.1 692.83,1204.9 693.57,1204.7 694.30,1204.7 695.04,1204.9 695.77,1204.9 696.51,1204.3 697.24,1204.0 697.98,1204.3 698.71,1204.9 699.45,1205.2 700.18,1205.2 700.92,1204.9 701.65,1204.6 702.39,1204.6 703.12,1204.9 703.86,1205.2 704.59,1205.3 705.33,1205.3 706.06,1205.3 706.80,1205.3 707.53,1205.3 708.27,1205.3 709.00,1205.3 709.74,1205.3 710.47,1205.3 711.21,1205.4 711.94,1205.4 712.68,1205.4 713.41,1205.4 714.15,1205.1 714.88,1204.8 715.62,1204.9 716.35,1205.1 717.09,1205.4 717.82,1205.4 718.56,1205.5 719.29,1205.5 720.03,1205.2 720.76,1205.0 721.50,1204.7 722.23,1204.8 722.97,1205.0 723.70,1205.2 724.44,1205.5 725.17,1205.5 725.91,1205.2 726.64,1205.0 727.38,1205.0 728.11,1205.2 728.85,1205.5 729.58,1205.5 730.32,1205.5 731.06,1205.5 731.79,1205.5 732.53,1205.5 733.26,1205.5 734.00,1205.5 734.73,1205.5 735.47,1205.5 736.20,1205.5 736.94,1205.5 737.67,1205.5 738.41,1205.5 739.14,1205.5 739.88,1205.5 740.61,1205.5 741.35,1205.5 742.08,1205.5 742.82,1205.5 743.55,1205.5 744.29,1205.5 745.02,1205.5 745.76,1205.5 746.49,1205.5 747.23,1205.5 747.96,1205.5 748.70,1205.5 749.43,1205.5 750.17,1205.5 750.90,1205.5 751.64,1205.5 752.37,1205.5 753.11,1205.5 753.84,1205.5 754.58,1205.5 755.31,1205.5 756.05,1205.5 756.78,1205.5 757.52,1205.5 758.25,1205.5 758.99,1205.5 759.72,1205.5 760.46,1205.5 761.19,1205.5 761.93,1205.5 762.66,1205.5 763.40,1205.5 764.13,1205.5 764.87,1205.5 765.60,1205.6 766.34,1205.8 767.07,1205.6 767.81,1205.2 768.54,1205.0 769.28,1204.9 770.01,1204.8 770.75,1204.8 771.49,1205.1 772.22,1205.2 772.96,1204.9 773.69,1204.9 774.43,1205.2 775.16,1205.5 775.90,1205.5 776.63,1205.5 777.37,1205.5 778.10,1205.5 778.84,1205.2 779.57,1205.0 780.31,1205.0 781.04,1205.2 781.78,1205.5 782.51,1205.5 783.25,1205.5 783.98,1205.5 784.72,1205.5 785.45,1205.5 786.19,1205.1 786.92,1204.8 787.66,1204.8 788.39,1205.1 789.13,1205.1 789.86,1204.8 790.60,1204.8 791.33,1205.1 792.07,1205.5 792.80,1205.5 793.54,1205.5 794.27,1205.5 795.01,1205.5 795.74,1205.5 796.48,1205.2 797.21,1204.9 797.95,1204.9 798.68,1205.2 799.42,1205.5 800.15,1205.5 800.89,1205.5 801.62,1205.5 802.36,1205.5 803.09,1205.7 803.83,1205.5 804.56,1205.2 805.30,1205.0 806.03,1204.9 806.77,1205.0 807.50,1205.0 808.24,1205.0 808.97,1205.0 809.71,1205.0 810.44,1205.0 811.18,1204.9 811.92,1204.7 812.65,1204.7 813.39,1205.0 814.12,1205.0 814.86,1205.0 815.59,1205.0 816.33,1205.2 817.06,1205.5 817.80,1205.5 818.53,1205.5 819.27,1205.5 820.00,1205.5 820.74,1205.5 821.47,1205.5 822.21,1205.5 822.94,1205.2 823.68,1205.0 824.41,1205.0 825.15,1205.0 825.88,1204.9 826.62,1204.9 827.35,1205.2 828.09,1205.5 828.82,1205.5 829.56,1205.5 830.29,1205.2 831.03,1204.9 831.76,1204.9 832.50,1205.2 833.23,1205.5 833.97,1205.5 834.70,1205.5 835.44,1205.2 836.17,1204.9 836.91,1204.9 837.64,1205.2 838.38,1205.5 839.11,1205.5 839.85,1205.5 840.58,1205.5 841.32,1205.5 842.05,1205.5 842.79,1205.5 843.52,1205.5 844.26,1205.5 844.99,1205.5 845.73,1205.5 846.46,1205.5 847.20,1205.5 847.93,1205.5 848.67,1205.5 849.40,1205.5 850.14,1205.5 850.88,1205.5 851.61,1205.5 852.35,1205.5 853.08,1205.5 853.82,1205.5 854.55,1205.5 855.29,1205.5 856.02,1205.5 856.76,1205.5 857.49,1205.5 858.23,1205.5 858.96,1205.6 859.70,1205.8 860.43,1205.8 861.17,1205.6 861.90,1205.5 862.64,1205.5 863.37,1205.5 864.11,1205.5 864.84,1205.5 865.58,1205.5 866.31,1205.2 867.05,1204.9 867.78,1204.9 868.52,1205.2 869.25,1205.5 869.99,1205.5 870.72,1205.5 871.46,1205.5 872.19,1205.5 872.93,1205.5 873.66,1205.5 874.40,1205.5 875.13,1205.5 875.87,1205.5 876.60,1205.5 877.34,1205.5 878.07,1205.5 878.81,1205.5 879.54,1205.5 880.28,1205.5 881.01,1205.5 881.75,1205.5 882.48,1205.5 883.22,1205.5 883.95,1205.5 884.69,1205.5 885.42,1205.5 886.16,1205.5 886.89,1205.2 887.63,1204.9 888.36,1204.9 889.10,1205.2 889.83,1205.5 890.57,1205.5 891.31,1205.5 892.04,1205.5 892.78,1205.5 893.51,1205.5 894.25,1205.5 894.98,1205.5 895.72,1205.5 896.45,1205.5 897.19,1205.5 897.92,1205.5 898.66,1205.5 899.39,1205.5 900.13,1205.5 900.86,1205.5 901.60,1205.5 902.33,1205.5 903.07,1205.5 903.80,1205.5 904.54,1205.5 905.27,1205.2 906.01,1204.6 906.74,1204.2 907.48,1204.5 908.21,1205.1 908.95,1205.5 909.68,1205.5 910.42,1205.5 911.15,1205.5 911.89,1205.5 912.62,1205.5 913.36,1205.5 914.09,1205.5 914.83,1205.5 915.56,1205.5 916.30,1205.5 917.03,1205.5 917.77,1205.5 918.50,1205.5 919.24,1205.2 919.97,1205.0 920.71,1205.0 921.44,1205.2 922.18,1205.5 922.91,1205.5 923.65,1205.2 924.38,1204.9 925.12,1204.9 925.85,1205.2 926.59,1205.5 927.32,1205.5 928.06,1205.5 928.79,1205.5 929.53,1205.5 930.26,1205.5 931.00,1205.5 931.74,1205.5 932.47,1205.5 933.21,1205.5 933.94,1205.5 934.68,1205.6 935.41,1205.8 936.15,1205.8 936.88,1205.6 937.62,1205.5 938.35,1205.5 939.09,1205.5 939.82,1205.5 940.56,1205.5 941.29,1205.5 942.03,1205.5 942.76,1205.5 943.50,1205.5 944.23,1205.5 944.97,1205.5 945.70,1205.5 946.44,1205.5 947.17,1205.5 947.91,1205.5 948.64,1205.5 949.38,1205.5 950.11,1205.5 950.85,1205.5 951.58,1205.5 952.32,1205.5 953.05,1205.5 953.79,1205.5 954.52,1205.5 955.26,1205.5 955.99,1205.5 956.73,1205.5 957.46,1205.5 958.20,1205.5 958.93,1205.5 959.67,1205.5 960.40,1205.7 961.14,1206.0 961.87,1206.0 962.61,1205.7 963.34,1205.5 964.08,1205.5 964.81,1205.2 965.55,1204.9 966.28,1204.9 967.02,1204.9 967.75,1205.0 968.49,1205.0 969.22,1204.9 969.96,1204.9 970.69,1204.9 971.43,1205.2 972.17,1205.5 972.90,1205.5 973.64,1205.5 974.37,1205.5 975.11,1205.5 975.84,1205.5 976.58,1205.5 977.31,1205.5 978.05,1205.5 978.78,1205.5 979.52,1205.5 980.25,1205.5 980.99,1205.5 981.72,1205.5 982.46,1205.5 983.19,1205.5 983.93,1205.5 984.66,1205.5 985.40,1205.5 986.13,1205.5 986.87,1205.5 987.60,1205.5 988.34,1205.1 989.07,1204.8 989.81,1204.8 990.54,1205.1 991.28,1205.5 992.01,1205.5 992.75,1205.5 993.48,1205.5 994.22,1205.5 994.95,1205.5 995.69,1205.5 996.42,1205.5 997.16,1205.5 997.89,1205.5 998.63,1205.5 999.36,1205.5 1000.10,1205.5 1000.83,1205.5 1001.57,1205.1 1002.30,1204.8 1003.04,1204.8 1003.77,1205.1 1004.51,1205.5 1005.24,1205.5 1005.98,1205.7 1006.71,1205.9 1007.45,1205.9 1008.18,1205.7 1008.92,1205.5 1009.65,1205.5 1010.39,1205.5 1011.12,1205.2 1011.86,1204.9 1012.60,1204.9 1013.33,1205.2 1014.07,1205.5 1014.80,1205.5 1015.54,1205.5 1016.27,1205.5 1017.01,1205.5 1017.74,1205.1 1018.48,1204.8 1019.21,1204.8 1019.95,1205.1 1020.68,1205.4 1021.42,1205.4 1022.15,1205.4 1022.89,1205.4 1023.62,1205.1 1024.36,1204.7 1025.09,1204.6 1025.83,1204.9 1026.56,1205.2 1027.30,1205.3 1028.03,1205.3 1028.77,1205.3 1029.50,1205.2 1030.24,1205.4 1030.97,1205.6 1031.71,1205.6 1032.44,1205.4 1033.18,1205.2 1033.32,1205.2 1033.91,1205.1 1034.65,1205.3 1035.38,1205.5 1036.12,1205.4 1036.85,1205.1 1037.59,1204.8 1038.32,1204.8 1039.06,1204.7 1039.79,1204.7 1040.53,1204.6 1041.26,1204.5 1042.00,1204.5 1042.73,1204.4 1043.47,1204.4 1044.20,1204.3 1044.94,1204.2 1045.67,1204.2 1046.41,1204.1 1047.14,1204.1 1047.88,1203.7 1048.61,1203.4 1049.35,1203.2 1050.08,1203.3 1050.82,1203.5 1051.56,1203.0 1052.29,1202.6 1053.03,1202.4 1053.76,1202.5 1054.50,1202.6 1055.23,1202.5 1055.97,1202.3 1056.70,1202.1 1057.44,1202.0 1058.17,1201.8 1058.91,1201.6 1059.64,1201.5 1060.38,1201.3 1061.11,1201.2 1061.85,1200.7 1062.58,1200.3 1063.32,1200.2 1064.05,1200.2 1064.20,1200.5 1064.79,1200.3 1065.52,1200.1 1066.26,1199.9 1066.99,1199.4 1067.73,1198.9 1068.46,1198.7 1069.20,1198.7 1069.93,1198.8 1070.67,1198.6 1071.40,1198.3 1072.14,1197.8 1072.87,1197.3 1073.61,1197.1 1074.34,1197.2 1075.08,1197.3 1075.81,1197.0 1076.55,1196.8 1077.28,1196.6 1078.02,1196.4 1078.75,1196.2 1079.49,1196.0 1080.22,1195.7 1080.96,1195.5 1081.69,1195.3 1082.43,1195.1 1082.55,1195.1 1083.16,1195.0 1083.90,1195.0 1084.63,1195.0 1085.37,1195.0 1086.10,1195.0 1086.84,1194.9 1087.57,1194.9 1088.31,1194.9 1089.04,1194.9 1089.78,1194.9 1090.51,1194.2 1091.25,1193.4 1091.99,1192.7 1092.72,1192.0 1093.31,1191.5 1093.46,1191.3 1094.19,1190.2 1094.93,1189.2 1095.66,1188.1 1096.40,1187.1 1097.13,1186.0 1097.19,1186.0 1097.87,1186.4 1098.60,1186.9 1099.34,1187.4 1100.07,1187.9 1100.81,1188.4 1100.95,1188.5 1101.54,1189.0 1102.28,1189.6 1103.01,1190.2 1103.75,1190.8 1104.48,1191.5 1105.22,1192.0 1105.95,1192.5 1106.69,1193.1 1107.42,1193.3 1108.16,1193.6 1108.89,1194.2 1109.63,1194.9 1110.01,1195.5 1110.36,1195.4 1111.10,1195.4 1111.83,1195.3 1112.57,1195.0 1112.71,1194.7 1113.30,1194.5 1114.04,1194.6 1114.77,1194.7 1115.48,1194.2 1115.51,1193.9 1116.24,1194.6 1116.98,1195.6 1117.71,1196.6 1118.45,1197.3 1118.60,1197.2 1119.18,1197.6 1119.92,1198.5 1120.65,1199.7 1121.39,1200.9 1122.12,1201.7 1122.71,1202.5 1122.86,1202.5 1123.59,1202.8 1124.33,1203.1 1125.06,1203.3 1125.80,1203.6 1126.53,1203.9 1127.27,1204.2 1128.00,1204.5 1128.74,1204.6 1129.47,1204.7 1130.21,1204.8 1130.94,1205.0 1131.68,1205.1 1132.42,1205.2 1133.15,1205.3 1133.89,1205.5 1134.62,1205.5 1135.36,1205.5 1136.09,1205.1 1136.83,1204.8 1137.56,1204.8 1138.30,1205.1 1139.03,1205.5 1139.77,1205.5 1140.50,1205.5 1141.24,1205.5 1141.97,1205.5 1142.71,1205.5 1143.44,1205.5 1144.18,1205.5 1144.91,1205.5 1145.65,1205.5 1146.38,1205.5 1147.12,1205.5 1147.85,1205.5 1148.59,1205.5 1149.32,1205.5 1150.06,1205.5 1150.79,1205.5 1151.53,1205.5 1152.26,1205.5 1153.00,1205.5 1153.73,1205.5 1154.47,1205.5 1155.20,1205.5 1155.94,1205.5 1156.67,1205.5 1157.41,1205.5 1158.14,1205.5 1158.88,1205.5 1159.61,1205.5 1160.35,1205.5 1161.08,1205.5 1161.82,1205.5 1162.55,1205.5 1163.29,1205.5 1164.02,1205.5 1164.76,1205.5 1165.49,1205.5 1166.23,1205.5 1166.96,1205.5 1167.70,1205.5 1168.43,1205.5 1169.17,1205.5 1169.90,1205.5 1170.64,1205.5 1171.37,1205.5 1172.11,1205.5 1172.85,1205.5 1173.58,1205.5 1174.32,1205.5 1175.05,1205.5 1175.79,1205.5 1176.52,1205.5 1177.26,1205.5 1177.99,1205.5 1178.73,1205.5 1179.46,1205.5 1180.20,1205.5 1180.93,1205.5 1181.67,1205.5 1182.40,1205.5 1183.14,1205.5 1183.87,1205.5 1184.61,1205.5 1185.34,1205.5 1186.08,1205.5 1186.81,1205.5 1187.55,1205.5 1188.28,1205.5 1189.02,1205.5 1189.75,1205.5 1190.49,1205.2 1191.22,1204.9 1191.96,1204.9 1192.69,1205.2 1193.43,1205.5 1194.16,1205.5 1194.90,1205.5 1195.63,1205.5 1196.37,1205.5 1197.10,1205.5 1197.84,1205.5 1198.57,1205.5 1199.31,1205.5 1200.04,1205.2 1200.78,1204.9 1201.51,1204.9 1202.25,1205.2 1202.98,1205.5 1203.72,1205.5 1204.45,1205.5 1205.19,1205.5 1205.92,1205.5 1206.66,1205.5 1207.39,1205.5 1208.13,1205.5 1208.86,1205.5 1209.60,1205.5 1210.33,1205.5 1211.07,1205.5 1211.81,1205.5 1212.54,1205.5 1213.28,1205.5 1214.01,1205.5 1214.75,1205.5 1215.48,1205.5 1216.22,1205.5 1216.95,1205.2 1217.69,1204.9 1218.42,1204.9 1219.16,1205.2 1219.89,1205.5 1220.63,1205.5 1221.36,1205.5 1222.10,1205.5 1222.83,1205.5 1223.57,1205.5 1224.30,1205.5 1225.04,1205.5 1225.77,1205.5 1226.51,1205.5 1227.24,1205.5 1227.98,1205.5 1228.71,1205.5 1229.45,1205.2 1230.18,1204.9 1230.92,1204.9 1231.65,1205.2" stroke="#CC9900"/>
<path d="M231.19,1330.4 231.93,1330.4 232.66,1330.4 233.40,1330.4 234.13,1330.4 234.87,1330.0 235.60,1329.5 236.34,1329.2 237.07,1329.2 237.81,1329.3 238.54,1329.3 239.28,1329.7 240.01,1330.0 240.75,1330.4 241.48,1330.4 242.22,1330.4 242.95,1330.4 243.69,1330.4 244.42,1330.4 245.16,1330.4 245.89,1330.4 246.63,1330.4 247.36,1330.4 248.10,1330.4 248.83,1330.4 249.57,1330.4 250.31,1330.4 251.04,1330.4 251.78,1330.4 252.51,1330.4 253.25,1330.4 253.98,1330.4 254.72,1330.0 255.45,1329.5 256.19,1329.1 256.92,1329.3 257.66,1329.8 258.39,1330.1 259.13,1330.4 259.86,1330.4 260.60,1330.4 261.33,1330.4 262.07,1330.4 262.80,1330.4 263.54,1330.4 264.27,1330.4 265.01,1330.4 265.74,1330.4 266.48,1330.4 267.21,1330.4 267.95,1330.1 268.68,1329.7 269.42,1329.7 270.15,1330.1 270.89,1330.4 271.62,1330.4 272.36,1330.4 273.09,1330.0 273.83,1329.5 274.56,1329.5 275.30,1330.0 276.03,1330.4 276.77,1330.4 277.50,1330.4 278.24,1330.1 278.97,1329.8 279.71,1329.8 280.44,1330.1 281.18,1330.4 281.91,1330.4 282.65,1330.4 283.38,1330.4 284.12,1330.4 284.85,1330.4 285.59,1330.4 286.32,1330.4 287.06,1330.4 287.79,1330.4 288.53,1330.4 289.26,1330.4 290.00,1330.4 290.74,1330.4 291.47,1330.4 292.21,1330.4 292.94,1330.4 293.68,1330.4 294.41,1330.4 295.15,1330.4 295.88,1330.4 296.62,1330.4 297.35,1330.4 298.09,1330.0 298.82,1329.5 299.56,1329.5 300.29,1330.0 301.03,1330.0 301.76,1329.0 302.50,1328.5 303.23,1329.0 303.97,1329.6 304.70,1329.6 305.44,1329.6 306.17,1330.0 306.91,1330.4 307.64,1330.4 308.38,1329.9 309.11,1329.4 309.85,1329.4 310.58,1329.9 311.32,1330.4 312.05,1330.4 312.79,1330.4 313.52,1330.4 314.26,1330.4 314.99,1330.4 315.73,1330.4 316.46,1330.4 317.20,1330.4 317.93,1329.9 318.67,1329.4 319.40,1329.4 320.14,1329.9 320.87,1330.4 321.61,1330.4 322.34,1330.4 323.08,1330.4 323.81,1330.4 324.55,1330.4 325.28,1330.4 326.02,1330.4 326.75,1330.4 327.49,1330.4 328.22,1330.1 328.96,1329.7 329.69,1329.7 330.43,1330.1 331.17,1330.4 331.90,1330.4 332.64,1330.4 333.37,1330.4 334.11,1330.0 334.84,1329.6 335.58,1329.6 336.31,1330.0 337.05,1330.4 337.78,1330.4 338.52,1330.4 339.25,1330.1 339.99,1329.7 340.72,1329.7 341.46,1330.1 342.19,1330.4 342.93,1330.4 343.66,1330.4 344.40,1330.4 345.13,1330.4 345.87,1330.0 346.60,1329.5 347.34,1329.5 348.07,1330.0 348.81,1330.1 349.54,1329.7 350.28,1329.7 351.01,1330.1 351.75,1330.4 352.48,1330.4 353.22,1330.4 353.95,1330.4 354.69,1330.4 355.42,1330.4 356.16,1330.4 356.89,1330.4 357.63,1329.9 358.36,1329.4 359.10,1329.4 359.83,1329.9 360.57,1330.4 361.30,1330.4 362.04,1330.4 362.77,1330.4 363.51,1330.4 364.24,1330.0 364.98,1329.6 365.71,1329.6 366.45,1330.0 367.18,1330.4 367.92,1330.4 368.65,1330.4 369.39,1330.4 370.12,1330.4 370.86,1330.4 371.60,1330.4 372.33,1330.4 373.07,1330.4 373.80,1330.4 374.54,1330.4 375.27,1330.4 376.01,1330.4 376.74,1330.4 377.48,1330.4 378.21,1330.4 378.95,1330.4 379.68,1330.4 380.42,1330.4 381.15,1330.4 381.89,1330.4 382.62,1330.4 383.36,1330.4 384.09,1330.4 384.83,1330.4 385.56,1330.4 386.30,1330.4 387.03,1330.4 387.77,1330.4 388.50,1330.4 389.24,1330.4 389.97,1330.4 390.71,1330.4 391.44,1330.4 392.18,1330.4 392.91,1330.4 393.65,1330.4 394.38,1330.4 395.12,1330.4 395.85,1330.1 396.59,1329.8 397.32,1329.8 398.06,1330.1 398.79,1330.4 399.53,1330.4 400.26,1330.4 401.00,1330.4 401.73,1330.4 402.47,1330.4 403.20,1330.4 403.94,1330.4 404.67,1330.3 405.41,1330.3 406.14,1330.3 406.88,1329.9 407.61,1329.1 408.35,1328.7 409.08,1329.1 409.82,1329.8 410.56,1330.1 411.29,1330.1 412.03,1330.1 412.76,1330.1 413.50,1330.0 414.23,1329.5 414.97,1329.0 415.70,1328.9 416.44,1329.4 417.17,1329.9 417.91,1329.9 418.64,1329.8 419.38,1329.8 420.11,1329.8 420.85,1329.8 421.58,1329.7 422.32,1329.7 423.05,1329.2 423.79,1328.6 424.52,1328.6 425.26,1329.1 425.99,1329.6 426.73,1329.6 427.46,1329.5 428.20,1329.5 428.93,1329.5 429.67,1329.1 430.31,1328.7 430.40,1328.6 431.14,1328.9 431.87,1329.2 432.61,1329.1 433.34,1328.9 434.08,1328.8 434.81,1328.7 435.55,1328.6 436.28,1328.4 437.02,1328.3 437.75,1328.2 438.49,1328.1 439.22,1327.9 439.96,1327.8 440.69,1327.7 441.02,1327.6 441.43,1327.5 442.16,1327.3 442.90,1327.1 443.63,1326.9 444.37,1326.7 445.10,1326.5 445.84,1326.3 446.57,1326.1 447.31,1325.9 448.04,1325.7 448.78,1325.5 449.51,1325.3 450.25,1325.1 450.96,1324.5 450.99,1324.1 451.72,1323.6 452.46,1323.7 453.19,1323.7 453.93,1323.2 454.66,1322.8 455.40,1322.4 456.13,1322.0 456.87,1321.6 457.60,1321.1 458.34,1320.9 459.07,1320.7 459.54,1320.5 459.81,1320.6 460.54,1320.7 461.28,1320.9 461.72,1320.9 462.01,1321.0 462.75,1321.5 463.48,1321.9 464.22,1321.7 464.95,1321.2 465.69,1321.1 466.42,1321.6 467.16,1322.3 467.36,1322.4 467.89,1322.5 468.63,1322.5 469.36,1322.2 470.10,1321.7 470.83,1321.1 471.57,1320.9 472.30,1320.6 473.04,1320.4 473.77,1320.1 474.51,1319.9 475.24,1319.3 475.98,1318.9 476.71,1318.3 477.30,1318.2 477.45,1318.5 478.18,1319.1 478.92,1319.6 479.36,1319.6 479.65,1319.8 480.39,1320.2 481.12,1320.7 481.86,1321.1 482.59,1321.5 483.33,1321.4 484.06,1321.3 484.80,1321.8 485.53,1322.7 486.27,1323.6 487.00,1324.1 487.30,1324.2 487.74,1324.4 488.47,1324.6 489.21,1324.9 489.94,1324.6 490.68,1324.3 491.42,1324.6 492.15,1325.4 492.89,1326.2 493.62,1326.4 494.36,1326.7 495.09,1326.9 495.83,1327.2 496.56,1327.5 497.30,1327.7 497.94,1327.9 498.03,1327.9 498.77,1328.0 499.50,1328.1 500.24,1328.2 500.97,1327.9 501.71,1327.5 502.44,1327.6 503.18,1328.1 503.91,1328.6 504.65,1328.7 505.38,1328.8 506.12,1328.9 506.85,1328.9 507.59,1329.0 508.32,1329.1 509.06,1329.6 509.79,1330.0 510.53,1330.1 511.26,1329.8 512.00,1329.5 512.17,1329.5 512.73,1329.6 513.47,1329.6 514.20,1329.6 514.94,1329.7 515.67,1329.7 516.41,1329.7 517.14,1329.8 517.88,1329.8 518.61,1329.9 519.35,1329.9 520.08,1329.9 520.82,1329.6 521.55,1329.2 522.29,1329.2 523.02,1329.7 523.76,1330.1 524.49,1330.1 525.23,1330.2 525.96,1330.2 526.41,1330.2 526.70,1330.2 527.43,1330.2 528.17,1329.9 528.90,1329.5 529.64,1329.1 530.38,1329.1 531.11,1329.5 531.85,1329.9 532.58,1330.2 533.32,1330.2 534.05,1330.2 534.79,1330.2 535.52,1330.2 536.26,1330.2 536.99,1330.2 537.73,1330.2 538.46,1330.2 539.20,1330.2 539.93,1330.2 540.67,1330.2 541.40,1330.2 542.14,1330.2 542.87,1330.2 543.61,1330.2 544.34,1330.2 545.08,1330.1 545.81,1330.1 546.55,1330.0 547.28,1330.0 548.02,1330.0 548.75,1329.9 549.49,1329.9 550.22,1329.8 550.96,1329.8 551.69,1329.8 552.43,1329.7 553.16,1329.7 553.90,1329.6 554.63,1329.6 555.37,1329.6 556.10,1329.5 556.84,1329.0 557.57,1328.6 558.31,1328.5 559.04,1328.4 559.34,1328.4 559.78,1328.3 560.51,1328.7 561.25,1329.1 561.98,1329.0 562.72,1328.9 563.45,1328.8 564.19,1328.7 564.92,1328.6 565.66,1328.5 566.39,1328.4 567.13,1328.3 567.86,1328.2 568.60,1328.1 569.33,1328.0 570.07,1327.9 570.81,1327.8 571.54,1327.8 572.28,1327.7 572.39,1327.6 573.01,1327.4 573.75,1327.2 574.48,1327.0 575.22,1326.7 575.95,1326.5 576.69,1326.2 577.42,1326.0 578.16,1325.8 578.89,1325.5 579.63,1324.8 580.36,1324.0 581.10,1323.8 581.83,1324.0 582.15,1324.4 582.57,1324.2 583.30,1323.8 584.04,1322.8 584.77,1321.9 585.51,1321.4 586.24,1321.6 586.98,1321.7 587.71,1321.3 588.45,1320.9 589.04,1320.5 589.18,1320.3 589.92,1319.2 590.65,1318.2 591.39,1317.1 592.12,1316.0 592.86,1314.9 593.59,1313.8 593.86,1313.4 594.33,1311.9 595.06,1309.4 595.80,1306.9 596.53,1304.3 597.27,1301.6 597.92,1299.2 598.00,1299.0 598.74,1296.6 599.47,1294.2 600.21,1291.9 600.94,1289.5 601.68,1287.1 602.33,1285.0 602.41,1284.7 603.15,1282.3 603.88,1279.3 604.62,1276.3 605.35,1273.9 606.09,1271.9 606.56,1270.8 606.82,1268.9 607.56,1263.6 608.29,1258.3 609.03,1252.9 609.50,1249.5 609.76,1246.8 610.50,1239.1 611.24,1231.5 611.97,1223.9 612.56,1217.7 612.71,1217.7 613.44,1217.7 614.18,1217.7 614.79,1217.7 614.91,1220.0 615.65,1234.2 616.38,1248.4 616.44,1249.5 617.12,1257.4 617.85,1266.0 618.26,1270.8 618.59,1274.4 619.32,1282.5 619.56,1285.0 620.06,1288.1 620.79,1292.7 621.53,1297.2 621.85,1299.2 622.26,1300.6 623.00,1303.0 623.73,1305.5 624.32,1307.4 624.47,1307.7 625.20,1309.1 625.94,1310.4 626.67,1311.8 627.41,1313.2 627.55,1313.4 628.14,1314.0 628.88,1314.7 629.61,1315.4 630.35,1316.1 631.08,1316.8 631.82,1317.5 632.26,1317.9 632.55,1317.7 633.29,1317.8 634.02,1318.1 634.76,1318.8 635.49,1319.5 636.23,1319.9 636.96,1320.3 637.55,1320.5 637.70,1320.6 638.43,1320.4 639.17,1320.2 639.90,1320.4 640.64,1320.7 641.37,1320.5 642.11,1320.4 642.84,1320.9 643.58,1321.8 644.31,1322.4 645.05,1322.6 645.78,1322.8 646.52,1322.5 647.25,1322.3 647.99,1322.4 648.72,1323.1 649.46,1323.8 650.19,1324.0 650.49,1324.0 650.93,1324.2 651.67,1324.4 652.40,1324.6 653.14,1324.8 653.87,1325.1 654.61,1325.3 655.34,1325.5 656.08,1325.7 656.81,1325.9 657.55,1326.2 658.28,1326.4 659.02,1326.6 659.75,1326.8 660.49,1327.0 661.22,1327.2 661.96,1327.4 662.69,1327.2 663.43,1326.9 664.16,1327.1 664.90,1327.7 665.63,1328.2 666.37,1328.4 667.10,1328.5 667.84,1328.7 668.57,1328.5 669.31,1328.4 670.04,1328.4 670.78,1328.8 671.51,1329.1 672.25,1329.2 672.98,1329.2 673.72,1328.7 674.45,1327.7 675.19,1327.2 675.92,1327.3 676.66,1327.5 677.39,1327.6 678.13,1328.0 678.86,1329.0 679.60,1329.5 680.33,1329.6 681.07,1329.6 681.80,1329.6 682.54,1329.7 683.27,1329.7 684.01,1329.8 684.74,1329.8 685.48,1329.8 686.21,1329.9 686.95,1330.2 687.68,1330.5 688.42,1330.5 689.15,1330.3 689.89,1330.0 690.62,1330.0 691.36,1330.1 692.10,1330.1 692.83,1330.1 693.57,1330.1 694.30,1330.1 695.04,1330.1 695.77,1330.1 696.51,1329.7 697.24,1329.2 697.98,1329.2 698.71,1329.7 699.45,1330.2 700.18,1330.2 700.92,1330.2 701.65,1330.2 702.39,1330.2 703.12,1330.2 703.86,1329.8 704.59,1329.4 705.33,1329.4 706.06,1329.8 706.80,1330.3 707.53,1330.3 708.27,1330.3 709.00,1330.3 709.74,1330.3 710.47,1330.3 711.21,1330.3 711.94,1330.3 712.68,1330.4 713.41,1330.4 714.15,1330.4 714.88,1330.4 715.62,1330.4 716.35,1330.4 717.09,1330.4 717.82,1330.4 718.56,1330.4 719.29,1330.4 720.03,1330.4 720.76,1330.4 721.50,1330.4 722.23,1330.4 722.97,1330.4 723.70,1330.4 724.44,1330.4 725.17,1330.4 725.91,1330.4 726.64,1330.1 727.38,1329.8 728.11,1329.8 728.85,1330.1 729.58,1330.4 730.32,1330.4 731.06,1330.4 731.79,1330.4 732.53,1330.7 733.26,1331.0 734.00,1331.0 734.73,1330.7 735.47,1330.4 736.20,1330.4 736.94,1330.4 737.67,1330.4 738.41,1330.4 739.14,1330.4 739.88,1330.0 740.61,1329.5 741.35,1329.5 742.08,1330.0 742.82,1330.4 743.55,1330.4 744.29,1330.4 745.02,1330.4 745.76,1330.4 746.49,1330.4 747.23,1330.4 747.96,1330.4 748.70,1330.4 749.43,1330.4 750.17,1330.4 750.90,1330.1 751.64,1329.7 752.37,1329.7 753.11,1329.6 753.84,1329.6 754.58,1329.6 755.31,1330.0 756.05,1330.4 756.78,1330.4 757.52,1330.4 758.25,1330.4 758.99,1330.7 759.72,1330.9 760.46,1330.9 761.19,1330.7 761.93,1330.4 762.66,1330.4 763.40,1330.4 764.13,1330.4 764.87,1330.4 765.60,1330.4 766.34,1330.0 767.07,1329.6 767.81,1329.6 768.54,1330.0 769.28,1330.4 770.01,1330.4 770.75,1330.4 771.49,1330.4 772.22,1330.4 772.96,1330.4 773.69,1330.4 774.43,1330.4 775.16,1330.4 775.90,1330.4 776.63,1330.4 777.37,1330.4 778.10,1330.4 778.84,1330.0 779.57,1329.5 780.31,1329.5 781.04,1330.0 781.78,1330.4 782.51,1330.4 783.25,1330.4 783.98,1330.4 784.72,1330.4 785.45,1330.4 786.19,1330.4 786.92,1330.1 787.66,1329.8 788.39,1329.4 789.13,1329.3 789.86,1329.6 790.60,1330.0 791.33,1330.4 792.07,1330.4 792.80,1330.4 793.54,1330.4 794.27,1330.4 795.01,1329.9 795.74,1329.4 796.48,1329.4 797.21,1329.4 797.95,1329.5 798.68,1329.5 799.42,1329.9 800.15,1330.4 800.89,1330.4 801.62,1330.4 802.36,1330.4 803.09,1330.4 803.83,1330.4 804.56,1330.4 805.30,1330.4 806.03,1330.4 806.77,1330.1 807.50,1329.7 808.24,1329.7 808.97,1330.1 809.71,1330.4 810.44,1330.4 811.18,1330.4 811.92,1330.4 812.65,1330.4 813.39,1330.4 814.12,1330.4 814.86,1330.4 815.59,1330.4 816.33,1330.4 817.06,1330.4 817.80,1330.4 818.53,1330.4 819.27,1330.4 820.00,1330.4 820.74,1330.4 821.47,1330.4 822.21,1330.4 822.94,1330.4 823.68,1330.4 824.41,1330.4 825.15,1330.4 825.88,1330.4 826.62,1330.4 827.35,1330.4 828.09,1330.4 828.82,1330.4 829.56,1330.4 830.29,1330.4 831.03,1330.4 831.76,1330.4 832.50,1330.4 833.23,1330.4 833.97,1330.4 834.70,1330.4 835.44,1330.4 836.17,1330.4 836.91,1330.4 837.64,1329.9 838.38,1329.4 839.11,1329.4 839.85,1329.9 840.58,1330.4 841.32,1330.4 842.05,1330.4 842.79,1330.4 843.52,1330.4 844.26,1330.4 844.99,1330.4 845.73,1330.4 846.46,1330.4 847.20,1330.0 847.93,1329.6 848.67,1329.6 849.40,1330.0 850.14,1330.4 850.88,1330.4 851.61,1330.4 852.35,1330.4 853.08,1330.4 853.82,1330.4 854.55,1330.4 855.29,1330.4 856.02,1330.4 856.76,1330.4 857.49,1330.4 858.23,1330.4 858.96,1330.4 859.70,1330.4 860.43,1330.4 861.17,1330.4 861.90,1330.4 862.64,1330.4 863.37,1330.4 864.11,1330.8 864.84,1330.7 865.58,1330.3 866.31,1330.0 867.05,1330.0 867.78,1330.4 868.52,1330.4 869.25,1330.4 869.99,1330.4 870.72,1330.4 871.46,1330.4 872.19,1330.4 872.93,1330.4 873.66,1330.4 874.40,1330.4 875.13,1330.4 875.87,1330.4 876.60,1330.4 877.34,1330.4 878.07,1330.4 878.81,1330.4 879.54,1330.4 880.28,1330.4 881.01,1330.4 881.75,1330.4 882.48,1330.4 883.22,1330.4 883.95,1330.4 884.69,1330.4 885.42,1330.4 886.16,1330.4 886.89,1330.0 887.63,1329.5 888.36,1329.5 889.10,1329.6 889.83,1329.7 890.57,1329.7 891.31,1330.1 892.04,1330.4 892.78,1330.4 893.51,1330.1 894.25,1329.8 894.98,1329.8 895.72,1330.1 896.45,1330.4 897.19,1330.4 897.92,1330.4 898.66,1330.4 899.39,1330.4 900.13,1330.4 900.86,1330.4 901.60,1330.4 902.33,1330.4 903.07,1330.4 903.80,1330.4 904.54,1330.4 905.27,1330.4 906.01,1330.4 906.74,1330.4 907.48,1330.4 908.21,1330.4 908.95,1330.4 909.68,1330.4 910.42,1330.4 911.15,1330.4 911.89,1330.4 912.62,1330.4 913.36,1330.1 914.09,1329.7 914.83,1329.7 915.56,1330.1 916.30,1330.4 917.03,1330.4 917.77,1330.4 918.50,1330.4 919.24,1329.9 919.97,1329.0 920.71,1328.6 921.44,1329.2 922.18,1330.1 922.91,1330.4 923.65,1330.4 924.38,1330.4 925.12,1330.4 925.85,1330.4 926.59,1330.4 927.32,1330.4 928.06,1330.4 928.79,1330.1 929.53,1329.8 930.26,1329.8 931.00,1330.1 931.74,1330.4 932.47,1330.4 933.21,1329.9 933.94,1329.4 934.68,1329.4 935.41,1329.9 936.15,1330.4 936.88,1330.4 937.62,1330.4 938.35,1330.4 939.09,1330.1 939.82,1329.8 940.56,1329.8 941.29,1330.1 942.03,1330.4 942.76,1330.4 943.50,1330.4 944.23,1330.4 944.97,1330.4 945.70,1330.0 946.44,1329.6 947.17,1329.6 947.91,1330.0 948.64,1330.4 949.38,1330.4 950.11,1330.4 950.85,1330.4 951.58,1330.4 952.32,1330.4 953.05,1330.4 953.79,1330.4 954.52,1330.0 955.26,1329.6 955.99,1329.6 956.73,1330.0 957.46,1330.4 958.20,1330.4 958.93,1330.4 959.67,1330.4 960.40,1330.4 961.14,1330.4 961.87,1330.4 962.61,1330.4 963.34,1330.4 964.08,1330.4 964.81,1330.4 965.55,1330.4 966.28,1330.4 967.02,1330.4 967.75,1330.4 968.49,1330.4 969.22,1330.4 969.96,1330.4 970.69,1330.0 971.43,1329.6 972.17,1329.6 972.90,1330.0 973.64,1330.1 974.37,1329.7 975.11,1329.7 975.84,1330.1 976.58,1330.4 977.31,1330.4 978.05,1330.4 978.78,1330.4 979.52,1330.4 980.25,1330.4 980.99,1329.9 981.72,1329.4 982.46,1329.4 983.19,1329.9 983.93,1330.9 984.66,1331.3 985.40,1330.9 986.13,1330.1 986.87,1329.7 987.60,1329.6 988.34,1329.5 989.07,1329.2 989.81,1329.3 990.54,1329.7 991.28,1329.6 992.01,1329.4 992.75,1329.4 993.48,1329.9 994.22,1330.4 994.95,1330.4 995.69,1330.4 996.42,1330.4 997.16,1330.4 997.89,1329.9 998.63,1329.4 999.36,1329.4 1000.10,1329.9 1000.83,1330.4 1001.57,1330.4 1002.30,1330.4 1003.04,1330.4 1003.77,1330.4 1004.51,1330.4 1005.24,1330.4 1005.98,1330.4 1006.71,1330.4 1007.45,1330.4 1008.18,1330.4 1008.92,1330.4 1009.65,1330.4 1010.39,1330.4 1011.12,1330.4 1011.86,1330.4 1012.60,1330.4 1013.33,1330.4 1014.07,1330.4 1014.80,1330.4 1015.54,1330.4 1016.27,1330.4 1017.01,1330.4 1017.74,1330.4 1018.48,1330.4 1019.21,1330.4 1019.95,1330.4 1020.68,1330.4 1021.42,1330.4 1022.15,1330.4 1022.89,1330.4 1023.62,1330.3 1024.36,1330.3 1025.09,1330.3 1025.83,1330.3 1026.56,1330.3 1027.30,1330.3 1028.03,1330.3 1028.77,1330.5 1029.50,1330.7 1030.24,1330.7 1030.97,1330.4 1031.71,1330.2 1032.44,1330.2 1033.18,1330.1 1033.32,1330.1 1033.91,1330.1 1034.65,1330.0 1035.38,1330.0 1036.12,1329.9 1036.85,1329.9 1037.59,1329.4 1038.32,1329.0 1039.06,1328.9 1039.79,1329.2 1040.53,1329.1 1041.26,1328.7 1042.00,1328.6 1042.73,1329.0 1043.47,1329.3 1044.20,1329.3 1044.94,1328.8 1045.67,1328.3 1046.41,1328.3 1047.14,1328.6 1047.88,1329.0 1048.61,1328.9 1049.35,1328.8 1050.08,1328.6 1050.82,1328.4 1051.56,1328.3 1052.29,1328.1 1053.03,1327.9 1053.76,1327.8 1054.50,1327.6 1055.23,1327.5 1055.97,1326.9 1056.70,1326.4 1057.44,1326.2 1058.17,1326.0 1058.91,1325.9 1059.64,1325.7 1060.38,1325.9 1061.11,1326.1 1061.85,1326.0 1062.58,1325.8 1063.32,1325.6 1064.05,1325.5 1064.20,1325.0 1064.79,1324.4 1065.52,1323.7 1066.26,1323.4 1066.99,1323.6 1067.73,1323.9 1068.46,1323.8 1069.20,1323.3 1069.93,1322.5 1070.67,1322.1 1071.40,1322.3 1072.14,1322.2 1072.87,1321.8 1073.61,1321.2 1074.34,1321.3 1075.08,1321.8 1075.81,1322.0 1076.55,1321.8 1077.28,1321.6 1078.02,1321.4 1078.75,1321.2 1079.49,1320.9 1080.22,1320.7 1080.96,1320.5 1081.69,1320.3 1082.43,1320.1 1082.55,1320.3 1083.16,1320.1 1083.90,1319.6 1084.63,1319.3 1085.37,1319.5 1086.10,1319.9 1086.84,1319.9 1087.57,1319.9 1088.31,1319.9 1089.04,1319.9 1089.78,1319.8 1090.51,1319.1 1091.25,1318.4 1091.99,1317.7 1092.72,1317.0 1093.31,1316.4 1093.46,1315.8 1094.19,1314.3 1094.93,1313.3 1095.66,1312.7 1096.40,1312.1 1097.13,1311.0 1097.19,1310.9 1097.87,1311.4 1098.60,1312.2 1099.34,1313.0 1100.07,1313.4 1100.81,1313.6 1100.95,1313.4 1101.54,1313.9 1102.28,1314.6 1103.01,1315.2 1103.75,1315.8 1104.48,1316.4 1105.22,1317.0 1105.95,1317.8 1106.69,1318.6 1107.42,1319.1 1108.16,1319.4 1108.89,1319.6 1109.63,1320.2 1110.01,1320.4 1110.36,1320.4 1111.10,1320.4 1111.83,1320.3 1112.57,1320.3 1112.71,1320.2 1113.30,1320.1 1114.04,1319.9 1114.77,1319.6 1115.48,1319.4 1115.51,1319.5 1116.24,1320.2 1116.98,1320.9 1117.71,1321.6 1118.45,1322.3 1118.60,1322.4 1119.18,1323.2 1119.92,1324.0 1120.65,1324.9 1121.39,1325.8 1122.12,1326.7 1122.71,1327.4 1122.86,1327.5 1123.59,1327.8 1124.33,1328.1 1125.06,1328.3 1125.80,1328.6 1126.53,1328.9 1127.27,1329.2 1128.00,1329.4 1128.74,1329.6 1129.47,1329.7 1130.21,1329.8 1130.94,1329.9 1131.68,1330.1 1132.42,1330.2 1133.15,1330.3 1133.89,1330.4 1134.62,1330.4 1135.36,1330.4 1136.09,1330.4 1136.83,1330.4 1137.56,1330.4 1138.30,1330.4 1139.03,1330.4 1139.77,1330.4 1140.50,1330.0 1141.24,1329.5 1141.97,1329.5 1142.71,1330.0 1143.44,1330.4 1144.18,1330.4 1144.91,1330.4 1145.65,1330.4 1146.38,1330.4 1147.12,1330.4 1147.85,1330.4 1148.59,1330.4 1149.32,1330.4 1150.06,1330.4 1150.79,1330.4 1151.53,1330.4 1152.26,1330.4 1153.00,1330.4 1153.73,1330.4 1154.47,1330.4 1155.20,1330.4 1155.94,1329.9 1156.67,1329.4 1157.41,1328.9 1158.14,1329.0 1158.88,1329.5 1159.61,1330.0 1160.35,1330.4 1161.08,1330.4 1161.82,1330.4 1162.55,1330.4 1163.29,1330.4 1164.02,1330.1 1164.76,1329.2 1165.49,1328.8 1166.23,1329.2 1166.96,1330.0 1167.70,1330.4 1168.43,1330.4 1169.17,1330.4 1169.90,1330.4 1170.64,1330.4 1171.37,1330.4 1172.11,1330.4 1172.85,1330.4 1173.58,1330.4 1174.32,1330.4 1175.05,1329.9 1175.79,1329.4 1176.52,1329.8 1177.26,1330.1 1177.99,1330.1 1178.73,1329.8 1179.46,1330.0 1180.20,1330.4 1180.93,1330.4 1181.67,1330.4 1182.40,1330.4 1183.14,1330.4 1183.87,1330.4 1184.61,1330.4 1185.34,1329.9 1186.08,1329.4 1186.81,1329.4 1187.55,1329.9 1188.28,1330.4 1189.02,1330.4 1189.75,1330.4 1190.49,1330.4 1191.22,1330.4 1191.96,1330.4 1192.69,1330.4 1193.43,1330.4 1194.16,1330.4 1194.90,1330.4 1195.63,1330.4 1196.37,1330.4 1197.10,1330.4 1197.84,1330.4 1198.57,1330.4 1199.31,1330.4 1200.04,1330.4 1200.78,1330.4 1201.51,1330.4 1202.25,1330.4 1202.98,1330.4 1203.72,1330.4 1204.45,1330.4 1205.19,1330.4 1205.92,1330.4 1206.66,1330.4 1207.39,1330.4 1208.13,1330.4 1208.86,1330.4 1209.60,1330.4 1210.33,1330.4 1211.07,1330.4 1211.81,1330.4 1212.54,1330.4 1213.28,1329.9 1214.01,1329.4 1214.75,1329.4 1215.48,1329.9 1216.22,1330.4 1216.95,1330.4 1217.69,1330.4 1218.42,1330.4 1219.16,1330.4 1219.89,1330.4 1220.63,1330.4 1221.36,1330.4 1222.10,1330.4 1222.83,1330.4 1223.57,1330.4 1224.30,1330.4 1225.04,1330.4 1225.77,1330.4 1226.51,1330.4 1227.24,1330.4 1227.98,1330.4 1228.71,1330.4 1229.45,1330.4 1230.18,1330.4 1230.92,1330.4 1231.65,1330.4" stroke="#B177DE"/>
<path d="M231.19,1455.4 231.93,1455.4 232.66,1455.4 233.40,1455.4 234.13,1455.3 234.87,1455.1 235.60,1455.1 236.34,1455.3 237.07,1455.4 237.81,1455.4 238.54,1455.4 239.28,1455.4 240.01,1455.4 240.75,1455.4 241.48,1455.4 242.22,1455.4 242.95,1455.4 243.69,1455.4 244.42,1455.3 245.16,1455.2 245.89,1455.2 246.63,1455.3 247.36,1455.4 248.10,1455.4 248.83,1455.4 249.57,1455.4 250.31,1455.4 251.04,1455.4 251.78,1455.4 252.51,1455.4 253.25,1455.4 253.98,1455.4 254.72,1455.4 255.45,1455.2 256.19,1455.1 256.92,1455.1 257.66,1455.1 258.39,1455.1 259.13,1455.1 259.86,1455.3 260.60,1455.4 261.33,1455.4 262.07,1455.4 262.80,1455.4 263.54,1455.4 264.27,1455.4 265.01,1455.4 265.74,1455.4 266.48,1455.4 267.21,1455.4 267.95,1455.4 268.68,1455.4 269.42,1455.4 270.15,1455.3 270.89,1455.2 271.62,1455.2 272.36,1455.3 273.09,1455.4 273.83,1455.4 274.56,1455.4 275.30,1455.4 276.03,1455.4 276.77,1455.4 277.50,1455.4 278.24,1455.4 278.97,1455.4 279.71,1455.4 280.44,1455.4 281.18,1455.4 281.91,1455.2 282.65,1455.1 283.38,1455.1 284.12,1455.4 284.85,1455.7 285.59,1455.7 286.32,1455.6 287.06,1455.4 287.79,1455.4 288.53,1455.4 289.26,1455.4 290.00,1455.4 290.74,1455.5 291.47,1455.6 292.21,1455.6 292.94,1455.3 293.68,1455.0 294.41,1455.0 295.15,1455.2 295.88,1455.4 296.62,1455.4 297.35,1455.4 298.09,1455.4 298.82,1455.4 299.56,1455.3 300.29,1455.2 301.03,1455.2 301.76,1455.3 302.50,1455.4 303.23,1455.4 303.97,1455.3 304.70,1455.0 305.44,1454.8 306.17,1454.9 306.91,1455.2 307.64,1455.4 308.38,1455.4 309.11,1455.4 309.85,1455.4 310.58,1455.4 311.32,1455.4 312.05,1455.4 312.79,1455.4 313.52,1455.4 314.26,1455.4 314.99,1455.4 315.73,1455.4 316.46,1455.4 317.20,1455.4 317.93,1455.4 318.67,1455.4 319.40,1455.4 320.14,1455.2 320.87,1455.1 321.61,1455.1 322.34,1455.2 323.08,1455.4 323.81,1455.4 324.55,1455.4 325.28,1455.4 326.02,1455.4 326.75,1455.4 327.49,1455.4 328.22,1455.4 328.96,1455.4 329.69,1455.4 330.43,1455.4 331.17,1455.4 331.90,1455.4 332.64,1455.4 333.37,1455.4 334.11,1455.4 334.84,1455.4 335.58,1455.4 336.31,1455.4 337.05,1455.3 337.78,1455.2 338.52,1455.2 339.25,1455.3 339.99,1455.4 340.72,1455.5 341.46,1455.7 342.19,1455.7 342.93,1455.5 343.66,1455.4 344.40,1455.3 345.13,1455.0 345.87,1454.9 346.60,1455.0 347.34,1455.3 348.07,1455.4 348.81,1455.4 349.54,1455.4 350.28,1455.4 351.01,1455.4 351.75,1455.4 352.48,1455.2 353.22,1455.1 353.95,1455.1 354.69,1455.2 355.42,1455.4 356.16,1455.4 356.89,1455.4 357.63,1455.4 358.36,1455.4 359.10,1455.4 359.83,1455.4 360.57,1455.4 361.30,1455.3 362.04,1455.1 362.77,1455.1 363.51,1455.3 364.24,1455.4 364.98,1455.4 365.71,1455.4 366.45,1455.4 367.18,1455.4 367.92,1455.4 368.65,1455.4 369.39,1455.4 370.12,1455.4 370.86,1455.4 371.60,1455.4 372.33,1455.4 373.07,1455.4 373.80,1455.4 374.54,1455.4 375.27,1455.4 376.01,1455.4 376.74,1455.4 377.48,1455.4 378.21,1455.4 378.95,1455.4 379.68,1455.4 380.42,1455.4 381.15,1455.4 381.89,1455.4 382.62,1455.4 383.36,1455.4 384.09,1455.4 384.83,1455.4 385.56,1455.4 386.30,1455.4 387.03,1455.4 387.77,1455.4 388.50,1455.4 389.24,1455.4 389.97,1455.5 390.71,1455.6 391.44,1455.6 392.18,1455.3 392.91,1455.0 393.65,1455.0 394.38,1455.2 395.12,1455.3 395.85,1455.2 396.59,1455.3 397.32,1455.5 398.06,1455.5 398.79,1455.4 399.53,1455.4 400.26,1455.4 401.00,1455.4 401.73,1455.2 402.47,1455.1 403.20,1455.1 403.94,1455.2 404.67,1455.4 405.41,1455.4 406.14,1455.4 406.88,1455.4 407.61,1455.4 408.35,1455.4 409.08,1455.4 409.82,1455.4 410.56,1455.4 411.29,1455.4 412.03,1455.4 412.76,1455.2 413.50,1455.1 414.23,1455.0 414.97,1455.2 415.70,1455.3 416.44,1455.3 417.17,1455.3 417.91,1455.3 418.64,1455.2 419.38,1455.2 420.11,1455.2 420.85,1455.2 421.58,1455.1 422.32,1455.1 423.05,1455.1 423.79,1455.1 424.52,1455.0 425.26,1455.0 425.99,1455.0 426.73,1454.9 427.46,1454.8 428.20,1454.8 428.93,1454.7 429.67,1454.7 430.40,1454.6 431.14,1454.5 431.87,1454.5 432.61,1454.4 433.34,1454.3 434.08,1454.3 434.81,1454.2 435.55,1454.2 436.28,1454.1 437.02,1454.0 437.75,1454.0 438.49,1453.9 439.22,1453.9 439.61,1453.8 439.96,1453.7 440.69,1453.4 441.43,1453.1 442.16,1452.8 442.90,1452.5 443.63,1452.2 444.37,1451.9 445.10,1451.6 445.84,1451.2 446.02,1451.0 446.57,1450.4 447.31,1449.9 448.04,1449.3 448.78,1448.6 449.51,1447.9 450.25,1447.2 450.99,1446.5 451.72,1445.6 452.46,1444.7 453.19,1444.0 453.78,1443.6 453.93,1443.9 454.66,1444.4 455.40,1444.6 456.13,1444.8 456.87,1445.5 457.60,1446.5 458.34,1447.4 459.07,1448.2 459.81,1448.9 460.54,1449.6 461.28,1450.0 462.01,1450.4 462.75,1450.7 462.89,1450.8 463.48,1450.6 464.22,1450.2 464.95,1449.8 465.69,1449.3 466.42,1448.8 467.16,1448.1 467.89,1447.4 468.63,1446.8 469.36,1446.5 470.10,1446.1 470.83,1445.6 471.57,1445.0 472.30,1444.5 473.04,1444.0 473.77,1443.3 474.51,1442.6 474.77,1442.4 475.24,1442.8 475.98,1443.3 476.71,1443.7 477.45,1444.0 478.18,1444.4 478.92,1444.7 479.07,1444.8 479.65,1444.8 480.39,1444.8 481.12,1444.7 481.86,1444.7 482.59,1444.7 483.30,1444.6 483.33,1444.6 484.06,1445.3 484.80,1445.9 485.53,1446.5 486.27,1447.1 487.00,1447.7 487.74,1448.4 488.47,1449.0 489.21,1449.6 489.94,1450.2 490.68,1450.8 491.12,1451.2 491.42,1451.3 492.15,1451.5 492.89,1451.7 493.62,1451.9 494.36,1452.1 495.09,1452.2 495.83,1452.4 496.56,1452.6 497.30,1452.8 498.03,1453.0 498.77,1453.2 499.50,1453.4 500.24,1453.6 500.97,1453.8 501.53,1453.9 501.71,1453.9 502.44,1454.0 503.18,1454.0 503.91,1454.1 504.65,1454.2 505.38,1454.2 506.12,1454.1 506.85,1454.1 507.59,1454.1 508.32,1454.3 509.06,1454.5 509.79,1454.6 510.53,1454.6 511.26,1454.7 512.00,1454.7 512.73,1454.8 513.47,1454.9 514.20,1454.9 514.94,1455.0 515.67,1455.0 516.41,1455.1 517.14,1455.1 517.88,1455.2 518.61,1455.3 519.35,1455.3 520.08,1455.3 520.82,1455.3 521.55,1455.3 522.29,1455.3 523.02,1455.1 523.76,1455.0 524.49,1454.8 525.23,1454.6 525.96,1454.6 526.70,1454.7 527.43,1455.1 527.76,1455.2 528.17,1455.2 528.90,1455.2 529.64,1455.2 530.38,1455.2 531.11,1455.0 531.85,1454.8 532.58,1454.8 533.32,1454.9 534.05,1454.9 534.79,1454.7 535.52,1454.7 536.26,1454.8 536.99,1455.0 537.73,1455.0 538.46,1454.8 539.20,1454.7 539.93,1454.6 540.67,1454.8 541.40,1454.9 542.14,1454.9 542.87,1454.8 543.61,1454.8 544.34,1454.8 545.08,1454.8 545.81,1454.8 546.55,1454.7 547.28,1454.7 548.02,1454.6 548.75,1454.4 549.49,1454.4 550.22,1454.5 550.96,1454.6 551.69,1454.6 552.43,1454.6 553.16,1454.6 553.90,1454.6 554.63,1454.5 555.37,1454.5 556.10,1454.5 556.84,1454.5 557.57,1454.5 558.31,1454.5 559.04,1454.4 559.63,1454.4 559.78,1454.4 560.51,1454.3 561.25,1454.0 561.98,1453.8 562.72,1453.7 563.45,1453.7 564.19,1453.8 564.92,1453.7 565.66,1453.6 566.39,1453.5 567.13,1453.4 567.86,1453.3 568.60,1453.2 569.33,1453.1 570.07,1453.0 570.81,1452.9 571.54,1452.8 572.28,1452.7 572.63,1452.6 573.01,1452.4 573.75,1452.2 574.48,1452.1 575.22,1452.2 575.95,1452.2 576.69,1452.1 577.42,1452.0 578.16,1451.9 578.89,1451.8 579.63,1451.7 580.36,1451.6 581.10,1451.5 581.83,1451.4 582.57,1451.3 583.30,1451.2 584.04,1451.1 584.77,1451.0 585.51,1450.9 585.68,1450.9 586.24,1450.6 586.98,1450.1 587.71,1449.7 588.45,1449.3 589.18,1448.8 589.92,1448.4 590.65,1447.9 590.68,1447.9 591.39,1447.2 592.12,1446.5 592.86,1445.8 593.59,1445.1 594.33,1444.3 595.06,1443.6 595.80,1442.9 596.53,1442.2 596.68,1442.0 597.27,1439.9 598.00,1437.2 598.74,1434.6 599.47,1431.9 599.62,1431.4 600.21,1427.5 600.94,1422.4 601.68,1417.3 601.74,1416.9 602.41,1410.3 603.15,1402.9 603.85,1395.6 603.88,1395.3 604.62,1388.4 605.35,1381.4 606.09,1374.4 606.21,1373.2 606.82,1367.2 607.56,1359.9 608.29,1352.7 608.32,1352.4 609.03,1348.1 609.76,1343.7 610.09,1341.7 610.50,1344.7 611.24,1350.1 611.56,1352.4 611.97,1358.8 612.71,1370.1 612.91,1373.2 613.44,1379.6 614.18,1388.5 614.79,1395.9 614.91,1397.3 615.65,1405.7 616.38,1414.1 616.62,1416.8 617.12,1420.5 617.85,1426.0 618.56,1431.1 618.59,1431.4 619.32,1433.7 620.06,1435.9 620.79,1438.1 621.53,1440.3 622.09,1442.0 622.26,1442.0 623.00,1442.6 623.73,1443.2 624.47,1444.0 625.20,1444.8 625.94,1445.4 625.97,1445.4 626.67,1445.6 627.41,1445.8 628.14,1446.2 628.88,1446.7 629.61,1447.2 630.35,1447.6 631.08,1448.0 631.20,1448.0 631.82,1448.1 632.55,1448.2 633.29,1448.3 634.02,1448.5 634.76,1448.6 635.49,1448.7 636.23,1448.8 636.96,1448.9 637.70,1449.0 638.43,1448.9 639.17,1448.9 639.90,1449.0 640.64,1449.3 641.37,1449.6 642.11,1449.7 642.84,1449.8 643.58,1449.9 644.20,1450.0 644.31,1450.0 645.05,1450.2 645.78,1450.3 646.52,1450.4 647.25,1450.5 647.99,1450.6 648.72,1450.7 649.46,1450.9 650.19,1451.0 650.93,1451.1 651.67,1451.2 652.40,1451.3 653.14,1451.5 653.87,1451.6 654.61,1451.7 655.34,1451.8 656.08,1451.9 656.81,1452.0 657.25,1452.1 657.55,1452.2 658.28,1452.3 659.02,1452.4 659.75,1452.5 660.49,1452.6 661.22,1452.8 661.96,1452.9 662.69,1453.0 663.43,1453.1 664.16,1453.2 664.90,1453.3 665.63,1453.5 666.37,1453.6 667.10,1453.7 667.84,1453.8 668.57,1453.9 669.31,1454.1 669.72,1454.1 670.04,1454.1 670.78,1454.2 671.51,1454.2 672.25,1454.2 672.98,1454.3 673.72,1454.3 674.45,1454.3 675.19,1454.4 675.92,1454.4 676.66,1454.4 677.39,1454.5 678.13,1454.5 678.86,1454.5 679.60,1454.6 680.33,1454.6 681.07,1454.6 681.80,1454.7 682.54,1454.7 683.27,1454.7 684.01,1454.7 684.74,1454.8 685.48,1454.8 686.21,1454.8 686.95,1454.7 687.68,1454.5 688.42,1454.6 689.15,1454.8 689.89,1455.0 690.62,1455.0 691.36,1455.1 692.10,1455.1 692.42,1455.1 692.83,1455.1 693.57,1455.1 694.30,1455.1 695.04,1455.1 695.77,1455.1 696.51,1455.2 697.24,1455.2 697.98,1455.0 698.71,1454.9 699.45,1454.9 700.18,1455.0 700.92,1455.2 701.65,1455.0 702.39,1454.9 703.12,1454.7 703.86,1454.8 704.59,1455.0 705.33,1455.1 706.06,1455.1 706.80,1454.8 707.53,1454.6 708.27,1454.8 709.00,1455.1 709.74,1455.3 710.47,1455.3 711.21,1455.3 711.94,1455.3 712.68,1455.3 713.41,1455.3 714.15,1455.3 714.88,1455.3 715.62,1455.3 716.35,1455.3 717.09,1455.2 717.82,1455.0 718.56,1455.0 719.29,1455.2 720.03,1455.4 720.76,1455.4 721.50,1455.4 722.23,1455.4 722.97,1455.4 723.70,1455.4 724.44,1455.2 725.17,1455.1 725.91,1455.1 726.64,1455.2 727.38,1455.4 727.70,1455.3 728.11,1455.1 728.85,1455.0 729.58,1455.0 730.32,1455.2 731.06,1455.2 731.79,1455.2 732.53,1455.2 733.26,1455.3 734.00,1455.2 734.73,1455.0 735.47,1455.0 736.20,1455.2 736.94,1455.4 737.67,1455.4 738.41,1455.4 739.14,1455.4 739.88,1455.4 740.61,1455.4 741.35,1455.4 742.08,1455.4 742.82,1455.4 743.55,1455.4 744.29,1455.4 745.02,1455.4 745.76,1455.4 746.49,1455.4 747.23,1455.4 747.96,1455.4 748.70,1455.4 749.43,1455.4 750.17,1455.4 750.90,1455.4 751.64,1455.4 752.37,1455.4 753.11,1455.4 753.84,1455.4 754.58,1455.4 755.31,1455.4 756.05,1455.4 756.78,1455.4 757.52,1455.4 758.25,1455.4 758.99,1455.4 759.72,1455.4 760.46,1455.4 761.19,1455.4 761.93,1455.4 762.66,1455.3 763.40,1455.2 764.13,1455.2 764.87,1455.3 765.60,1455.4 766.34,1455.4 767.07,1455.4 767.81,1455.4 768.54,1455.4 769.28,1455.2 770.01,1455.0 770.75,1455.0 771.49,1455.2 772.22,1455.4 772.96,1455.4 773.69,1455.4 774.43,1455.4 775.16,1455.4 775.90,1455.4 776.63,1455.4 777.37,1455.4 778.10,1455.4 778.84,1455.4 779.57,1455.4 780.31,1455.4 781.04,1455.4 781.78,1455.4 782.51,1455.4 783.25,1455.4 783.98,1455.4 784.72,1455.4 785.45,1455.4 786.19,1455.4 786.92,1455.4 787.66,1455.4 788.39,1455.4 789.13,1455.4 789.86,1455.4 790.60,1455.4 791.33,1455.4 792.07,1455.4 792.80,1455.4 793.54,1455.4 794.27,1455.4 795.01,1455.4 795.74,1455.4 796.48,1455.4 797.21,1455.4 797.95,1455.4 798.68,1455.4 799.42,1455.4 800.15,1455.4 800.89,1455.4 801.62,1455.4 802.36,1455.4 803.09,1455.4 803.83,1455.4 804.56,1455.4 805.30,1455.4 806.03,1455.4 806.77,1455.4 807.50,1455.4 808.24,1455.4 808.97,1455.4 809.71,1455.4 810.44,1455.4 811.18,1455.4 811.92,1455.4 812.65,1455.4 813.39,1455.4 814.12,1455.4 814.86,1455.4 815.59,1455.4 816.33,1455.4 817.06,1455.4 817.80,1455.3 818.53,1455.2 819.27,1455.2 820.00,1455.3 820.74,1455.4 821.47,1455.4 822.21,1455.4 822.94,1455.4 823.68,1455.4 824.41,1455.4 825.15,1455.3 825.88,1455.2 826.62,1455.2 827.35,1455.3 828.09,1455.2 828.82,1455.0 829.56,1455.0 830.29,1455.2 831.03,1455.3 831.76,1455.2 832.50,1455.2 833.23,1455.3 833.97,1455.4 834.70,1455.4 835.44,1455.4 836.17,1455.4 836.91,1455.4 837.64,1455.4 838.38,1455.4 839.11,1455.4 839.85,1455.4 840.58,1455.4 841.32,1455.4 842.05,1455.4 842.79,1455.4 843.52,1455.4 844.26,1455.4 844.99,1455.4 845.73,1455.4 846.46,1455.4 847.20,1455.4 847.93,1455.4 848.67,1455.4 849.40,1455.4 850.14,1455.4 850.88,1455.4 851.61,1455.4 852.35,1455.4 853.08,1455.4 853.82,1455.4 854.55,1455.3 855.29,1455.2 856.02,1455.2 856.76,1455.3 857.49,1455.4 858.23,1455.4 858.96,1455.4 859.70,1455.4 860.43,1455.4 861.17,1455.4 861.90,1455.6 862.64,1455.7 863.37,1455.7 864.11,1455.4 864.84,1455.1 865.58,1455.1 866.31,1455.3 867.05,1455.4 867.78,1455.4 868.52,1455.4 869.25,1455.4 869.99,1455.4 870.72,1455.4 871.46,1455.4 872.19,1455.4 872.93,1455.4 873.66,1455.4 874.40,1455.4 875.13,1455.4 875.87,1455.4 876.60,1455.4 877.34,1455.4 878.07,1455.4 878.81,1455.4 879.54,1455.2 880.28,1455.0 881.01,1454.9 881.75,1454.8 882.48,1455.0 883.22,1455.2 883.95,1455.4 884.69,1455.4 885.42,1455.4 886.16,1455.4 886.89,1455.4 887.63,1455.4 888.36,1455.4 889.10,1455.4 889.83,1455.4 890.57,1455.4 891.31,1455.4 892.04,1455.4 892.78,1455.4 893.51,1455.4 894.25,1455.4 894.98,1455.4 895.72,1455.4 896.45,1455.4 897.19,1455.4 897.92,1455.4 898.66,1455.4 899.39,1455.4 900.13,1455.4 900.86,1455.4 901.60,1455.4 902.33,1455.4 903.07,1455.2 903.80,1455.1 904.54,1455.1 905.27,1455.2 906.01,1455.3 906.74,1455.0 907.48,1454.9 908.21,1455.0 908.95,1455.3 909.68,1455.4 910.42,1455.6 911.15,1455.7 911.89,1455.7 912.62,1455.6 913.36,1455.4 914.09,1455.4 914.83,1455.4 915.56,1455.4 916.30,1455.3 917.03,1455.1 917.77,1455.1 918.50,1455.3 919.24,1455.4 919.97,1455.4 920.71,1455.4 921.44,1455.4 922.18,1455.4 922.91,1455.4 923.65,1455.4 924.38,1455.3 925.12,1455.2 925.85,1455.0 926.59,1454.8 927.32,1454.8 928.06,1455.0 928.79,1455.4 929.53,1455.6 930.26,1455.5 931.00,1455.4 931.74,1455.3 932.47,1455.1 933.21,1455.1 933.94,1455.3 934.68,1455.4 935.41,1455.4 936.15,1455.4 936.88,1455.4 937.62,1455.4 938.35,1455.4 939.09,1455.4 939.82,1455.4 940.56,1455.4 941.29,1455.2 942.03,1455.0 942.76,1455.0 943.50,1455.2 944.23,1455.4 944.97,1455.4 945.70,1455.4 946.44,1455.4 947.17,1455.4 947.91,1455.4 948.64,1455.4 949.38,1455.4 950.11,1455.4 950.85,1455.4 951.58,1455.4 952.32,1455.4 953.05,1455.4 953.79,1455.4 954.52,1455.4 955.26,1455.4 955.99,1455.4 956.73,1455.6 957.46,1455.7 958.20,1455.7 958.93,1455.6 959.67,1455.4 960.40,1455.4 961.14,1455.4 961.87,1455.4 962.61,1455.4 963.34,1455.4 964.08,1455.4 964.81,1455.4 965.55,1455.4 966.28,1455.4 967.02,1455.4 967.75,1455.4 968.49,1455.4 969.22,1455.4 969.96,1455.4 970.69,1455.4 971.43,1455.4 972.17,1455.4 972.90,1455.6 973.64,1455.7 974.37,1455.7 975.11,1455.6 975.84,1455.4 976.58,1455.4 977.31,1455.4 978.05,1455.4 978.78,1455.4 979.52,1455.4 980.25,1455.4 980.99,1455.4 981.72,1455.4 982.46,1455.4 983.19,1455.4 983.93,1455.4 984.66,1455.4 985.40,1455.4 986.13,1455.4 986.87,1455.4 987.60,1455.4 988.34,1455.4 989.07,1455.4 989.81,1455.4 990.54,1455.4 991.28,1455.4 992.01,1455.4 992.75,1455.4 993.48,1455.4 994.22,1455.2 994.95,1455.0 995.69,1455.0 996.42,1455.2 997.16,1455.3 997.89,1455.1 998.63,1455.1 999.36,1455.3 1000.10,1455.4 1000.83,1455.4 1001.57,1455.4 1002.30,1455.4 1003.04,1455.4 1003.77,1455.4 1004.51,1455.4 1005.24,1455.4 1005.98,1455.4 1006.71,1455.4 1007.45,1455.4 1008.18,1455.4 1008.92,1455.4 1009.65,1455.4 1010.39,1455.2 1011.12,1455.1 1011.86,1455.1 1012.60,1455.2 1013.33,1455.4 1014.07,1455.4 1014.80,1455.4 1015.54,1455.4 1016.27,1455.4 1017.01,1455.4 1017.74,1455.3 1018.48,1455.1 1019.21,1455.1 1019.95,1455.3 1020.68,1455.3 1021.42,1455.1 1022.15,1455.1 1022.89,1455.3 1023.62,1455.4 1024.36,1455.4 1025.09,1455.4 1025.83,1455.4 1026.56,1455.4 1027.30,1455.4 1028.03,1455.3 1028.77,1455.0 1029.50,1454.8 1030.24,1454.9 1030.97,1455.2 1031.71,1455.3 1032.44,1455.1 1033.18,1455.1 1033.91,1455.3 1034.65,1455.3 1035.38,1455.1 1036.12,1455.1 1036.85,1455.3 1037.59,1455.4 1038.32,1455.4 1039.06,1455.4 1039.79,1455.4 1040.53,1455.4 1041.26,1455.4 1042.00,1455.4 1042.73,1455.4 1043.47,1455.4 1044.20,1455.4 1044.94,1455.4 1045.67,1455.3 1046.41,1455.1 1047.14,1455.1 1047.88,1455.3 1048.61,1455.4 1049.35,1455.4 1050.08,1455.4 1050.82,1455.4 1051.56,1455.6 1052.29,1455.7 1053.03,1455.7 1053.32,1455.6 1053.76,1455.4 1054.50,1455.3 1055.23,1455.3 1055.91,1455.2 1055.97,1455.2 1056.70,1455.0 1057.44,1454.9 1058.17,1454.7 1058.91,1454.5 1059.64,1454.3 1060.38,1454.2 1061.11,1454.0 1061.85,1453.8 1062.58,1453.6 1063.02,1453.5 1063.32,1453.5 1064.05,1453.5 1064.79,1453.4 1065.52,1453.4 1066.26,1453.4 1066.99,1453.3 1067.73,1453.3 1068.46,1453.3 1069.20,1453.2 1069.93,1453.2 1070.67,1453.1 1071.40,1453.1 1072.14,1453.1 1072.87,1453.0 1073.61,1453.0 1074.34,1453.0 1075.08,1452.9 1075.81,1452.9 1076.55,1452.9 1077.25,1452.8 1077.28,1452.8 1078.02,1452.8 1078.75,1452.9 1079.49,1452.9 1080.22,1452.9 1080.96,1453.0 1081.69,1453.0 1082.43,1453.0 1083.16,1453.0 1083.90,1453.1 1084.63,1453.1 1085.08,1453.1 1085.37,1452.9 1086.10,1452.6 1086.84,1452.5 1087.57,1452.5 1088.31,1452.6 1089.04,1452.4 1089.19,1452.4 1089.78,1452.1 1090.51,1451.6 1091.25,1451.0 1091.99,1450.6 1092.72,1450.3 1093.46,1450.1 1093.90,1449.8 1094.19,1450.0 1094.93,1450.3 1095.66,1450.7 1096.40,1451.0 1097.13,1451.3 1097.87,1451.5 1098.01,1451.6 1098.60,1451.8 1099.34,1452.0 1100.07,1452.1 1100.81,1452.2 1100.95,1452.3 1101.54,1452.4 1102.28,1452.4 1103.01,1452.2 1103.75,1452.0 1104.48,1452.0 1105.22,1452.2 1105.95,1452.3 1106.69,1452.3 1107.42,1452.3 1108.16,1452.3 1108.89,1452.4 1109.63,1452.4 1110.36,1452.4 1111.10,1452.4 1111.83,1452.4 1112.57,1452.4 1112.83,1452.4 1113.30,1452.5 1114.04,1452.7 1114.77,1452.8 1115.51,1453.0 1116.24,1453.1 1116.83,1453.2 1116.98,1453.3 1117.71,1453.3 1118.45,1453.4 1119.18,1453.7 1119.92,1454.1 1120.65,1454.6 1121.39,1454.9 1122.12,1454.9 1122.86,1454.8 1123.59,1454.9 1124.33,1455.1 1125.06,1455.3 1125.80,1455.4 1126.53,1455.4 1126.83,1455.4 1127.27,1455.4 1128.00,1455.4 1128.74,1455.4 1129.47,1455.4 1130.21,1455.4 1130.94,1455.4 1131.68,1455.4 1132.42,1455.4 1133.15,1455.4 1133.89,1455.4 1134.62,1455.4 1135.36,1455.4 1136.09,1455.4 1136.83,1455.4 1137.56,1455.4 1138.30,1455.4 1139.03,1455.2 1139.77,1455.1 1140.50,1455.1 1141.24,1455.2 1141.97,1455.4 1142.71,1455.4 1143.44,1455.4 1144.18,1455.4 1144.91,1455.4 1145.65,1455.4 1146.38,1455.4 1147.12,1455.4 1147.85,1455.4 1148.59,1455.3 1149.32,1455.2 1150.06,1455.2 1150.79,1455.3 1151.53,1455.4 1152.26,1455.4 1153.00,1455.4 1153.73,1455.4 1154.47,1455.4 1155.20,1455.4 1155.94,1455.4 1156.67,1455.3 1157.41,1455.1 1158.14,1455.0 1158.88,1455.0 1159.61,1455.1 1160.35,1455.1 1161.08,1455.1 1161.82,1455.1 1162.55,1455.2 1163.29,1455.4 1164.02,1455.4 1164.76,1455.4 1165.49,1455.4 1166.23,1455.4 1166.96,1455.4 1167.70,1455.3 1168.43,1455.2 1169.17,1455.2 1169.90,1455.3 1170.64,1455.4 1171.37,1455.4 1172.11,1455.4 1172.85,1455.4 1173.58,1455.3 1174.32,1455.2 1175.05,1455.2 1175.79,1455.3 1176.52,1455.4 1177.26,1455.2 1177.99,1455.1 1178.73,1455.1 1179.46,1455.2 1180.20,1455.4 1180.93,1455.4 1181.67,1455.4 1182.40,1455.2 1183.14,1455.0 1183.87,1455.0 1184.61,1455.2 1185.34,1455.4 1186.08,1455.4 1186.81,1455.4 1187.55,1455.4 1188.28,1455.4 1189.02,1455.4 1189.75,1455.4 1190.49,1455.2 1191.22,1455.0 1191.96,1455.0 1192.69,1455.2 1193.43,1455.3 1194.16,1455.1 1194.90,1455.1 1195.63,1455.3 1196.37,1455.4 1197.10,1455.4 1197.84,1455.4 1198.57,1455.3 1199.31,1455.1 1200.04,1455.0 1200.78,1454.7 1201.51,1454.7 1202.25,1454.9 1202.98,1455.2 1203.72,1455.4 1204.45,1455.4 1205.19,1455.4 1205.92,1455.4 1206.66,1455.4 1207.39,1455.4 1208.13,1455.4 1208.86,1455.4 1209.60,1455.4 1210.33,1455.4 1211.07,1455.4 1211.81,1455.3 1212.54,1455.1 1213.28,1455.1 1214.01,1455.3 1214.75,1455.4 1215.48,1455.4 1216.22,1455.4 1216.95,1455.4 1217.69,1455.4 1218.42,1455.4 1219.16,1455.4 1219.89,1455.4 1220.63,1455.4 1221.36,1455.4 1222.10,1455.4 1222.83,1455.4 1223.57,1455.4 1224.30,1455.4 1225.04,1455.4 1225.77,1455.4 1226.51,1455.3 1227.24,1455.1 1227.98,1455.1 1228.71,1455.3 1229.45,1455.4 1230.18,1455.4 1230.92,1455.4 1231.65,1455.4" stroke="#37AD6B"/>
<path d="M231.19,1580.4 231.93,1580.4 232.66,1580.4 233.40,1580.4 234.13,1580.4 234.87,1580.2 235.60,1580.1 236.34,1579.9 237.07,1580.0 237.81,1580.2 238.54,1580.3 239.28,1580.4 240.01,1580.4 240.75,1580.4 241.48,1580.4 242.22,1580.4 242.95,1580.4 243.69,1580.4 244.42,1580.4 245.16,1580.4 245.89,1580.4 246.63,1580.4 247.36,1580.4 248.10,1580.4 248.83,1580.4 249.57,1580.4 250.31,1580.4 251.04,1580.4 251.78,1580.4 252.51,1580.4 253.25,1580.4 253.98,1580.4 254.72,1580.3 255.45,1580.1 256.19,1580.1 256.92,1580.3 257.66,1580.4 258.39,1580.4 259.13,1580.4 259.86,1580.4 260.60,1580.4 261.33,1580.4 262.07,1580.4 262.80,1580.4 263.54,1580.5 264.27,1580.7 265.01,1580.7 265.74,1580.5 266.48,1580.4 267.21,1580.4 267.95,1580.4 268.68,1580.4 269.42,1580.4 270.15,1580.4 270.89,1580.4 271.62,1580.4 272.36,1580.4 273.09,1580.4 273.83,1580.4 274.56,1580.4 275.30,1580.4 276.03,1580.4 276.77,1580.4 277.50,1580.4 278.24,1580.4 278.97,1580.4 279.71,1580.4 280.44,1580.4 281.18,1580.4 281.91,1580.4 282.65,1580.4 283.38,1580.4 284.12,1580.2 284.85,1580.1 285.59,1580.1 286.32,1580.2 287.06,1580.4 287.79,1580.4 288.53,1580.4 289.26,1580.4 290.00,1580.4 290.74,1580.4 291.47,1580.4 292.21,1580.4 292.94,1580.4 293.68,1580.4 294.41,1580.4 295.15,1580.4 295.88,1580.4 296.62,1580.4 297.35,1580.4 298.09,1580.4 298.82,1580.4 299.56,1580.4 300.29,1580.4 301.03,1580.4 301.76,1580.4 302.50,1580.4 303.23,1580.4 303.97,1580.4 304.70,1580.5 305.44,1580.6 306.17,1580.6 306.91,1580.5 307.64,1580.4 308.38,1580.4 309.11,1580.4 309.85,1580.4 310.58,1580.4 311.32,1580.4 312.05,1580.2 312.79,1580.0 313.52,1580.0 314.26,1580.2 314.99,1580.4 315.73,1580.4 316.46,1580.4 317.20,1580.4 317.93,1580.4 318.67,1580.4 319.40,1580.4 320.14,1580.4 320.87,1580.4 321.61,1580.4 322.34,1580.4 323.08,1580.4 323.81,1580.4 324.55,1580.2 325.28,1580.0 326.02,1580.0 326.75,1580.2 327.49,1580.4 328.22,1580.4 328.96,1580.4 329.69,1580.4 330.43,1580.4 331.17,1580.4 331.90,1580.4 332.64,1580.4 333.37,1580.4 334.11,1580.4 334.84,1580.4 335.58,1580.4 336.31,1580.4 337.05,1580.5 337.78,1580.7 338.52,1580.7 339.25,1580.5 339.99,1580.4 340.72,1580.4 341.46,1580.4 342.19,1580.4 342.93,1580.4 343.66,1580.4 344.40,1580.4 345.13,1580.4 345.87,1580.4 346.60,1580.4 347.34,1580.4 348.07,1580.4 348.81,1580.4 349.54,1580.4 350.28,1580.4 351.01,1580.4 351.75,1580.4 352.48,1580.4 353.22,1580.4 353.95,1580.4 354.69,1580.4 355.42,1580.4 356.16,1580.4 356.89,1580.4 357.63,1580.4 358.36,1580.4 359.10,1580.4 359.83,1580.4 360.57,1580.4 361.30,1580.4 362.04,1580.4 362.77,1580.4 363.51,1580.4 364.24,1580.4 364.98,1580.4 365.71,1580.4 366.45,1580.2 367.18,1580.0 367.92,1580.0 368.65,1580.2 369.39,1580.4 370.12,1580.4 370.86,1580.4 371.60,1580.4 372.33,1580.4 373.07,1580.4 373.80,1580.4 374.54,1580.4 375.27,1580.4 376.01,1580.4 376.74,1580.4 377.48,1580.4 378.21,1580.4 378.95,1580.4 379.68,1580.2 380.42,1580.1 381.15,1580.1 381.89,1580.2 382.62,1580.4 383.36,1580.4 384.09,1580.4 384.83,1580.4 385.56,1580.4 386.30,1580.4 387.03,1580.4 387.77,1580.2 388.50,1580.0 389.24,1580.0 389.97,1580.2 390.71,1580.4 391.44,1580.4 392.18,1580.4 392.91,1580.4 393.65,1580.4 394.38,1580.4 395.12,1580.4 395.85,1580.4 396.59,1580.4 397.32,1580.4 398.06,1580.4 398.79,1580.4 399.53,1580.4 400.26,1580.2 401.00,1580.1 401.73,1579.9 402.47,1579.8 403.20,1580.0 403.94,1580.2 404.67,1580.4 405.41,1580.4 406.14,1580.2 406.88,1580.0 407.61,1580.0 408.35,1580.2 409.08,1580.4 409.82,1580.4 410.56,1580.4 411.29,1580.4 412.03,1580.4 412.76,1580.4 413.50,1580.2 414.23,1580.0 414.97,1580.0 415.70,1580.1 416.44,1580.1 417.17,1580.0 417.91,1579.9 418.64,1580.1 419.38,1580.2 420.11,1580.2 420.85,1580.2 421.58,1580.1 422.32,1580.1 423.05,1580.1 423.79,1580.1 424.52,1580.0 425.26,1580.0 425.99,1579.7 426.73,1579.5 427.46,1579.4 428.20,1579.6 428.93,1579.7 429.67,1579.6 430.40,1579.6 431.14,1579.5 431.87,1579.4 432.61,1579.4 433.34,1579.3 434.08,1579.3 434.81,1579.0 435.55,1578.8 436.28,1578.7 437.02,1578.8 437.75,1579.0 438.49,1578.9 439.22,1578.8 439.61,1578.8 439.96,1578.5 440.69,1578.1 441.43,1577.8 442.16,1577.6 442.90,1577.5 443.63,1577.2 444.37,1576.9 445.10,1576.6 445.84,1576.3 446.02,1576.2 446.57,1575.7 447.31,1575.0 448.04,1574.3 448.78,1573.6 449.51,1572.9 450.25,1572.2 450.99,1571.3 451.72,1570.4 452.46,1569.7 453.19,1569.2 453.78,1568.8 453.93,1568.9 454.66,1569.5 455.40,1570.3 456.13,1571.0 456.87,1571.6 457.60,1572.1 458.34,1572.6 459.07,1573.2 459.81,1573.8 460.54,1574.4 461.28,1575.0 462.01,1575.6 462.75,1576.2 462.89,1576.3 463.48,1575.9 464.22,1575.3 464.95,1574.8 465.69,1574.3 466.42,1573.6 467.16,1572.8 467.89,1572.3 468.63,1572.0 469.36,1571.6 470.10,1571.1 470.83,1570.6 471.57,1570.0 472.30,1569.5 473.04,1569.0 473.77,1568.4 474.51,1567.9 474.77,1567.7 475.24,1567.9 475.98,1568.3 476.71,1568.5 477.45,1568.8 478.18,1569.1 478.92,1569.6 479.07,1569.8 479.65,1569.8 480.39,1569.7 481.12,1569.7 481.86,1569.7 482.59,1569.6 483.30,1569.6 483.33,1569.6 484.06,1570.2 484.80,1570.9 485.53,1571.5 486.27,1572.1 487.00,1572.6 487.74,1573.1 488.47,1573.7 489.21,1574.5 489.94,1575.2 490.68,1575.8 491.12,1576.2 491.42,1576.3 492.15,1576.5 492.89,1576.7 493.62,1576.8 494.36,1577.0 495.09,1577.2 495.83,1577.4 496.56,1577.6 497.30,1577.8 498.03,1578.0 498.77,1578.2 499.50,1578.4 500.24,1578.6 500.97,1578.8 501.53,1578.9 501.71,1578.9 502.44,1579.0 503.18,1579.0 503.91,1579.1 504.65,1579.1 505.38,1579.2 506.12,1579.3 506.85,1579.3 507.59,1579.4 508.32,1579.4 509.06,1579.5 509.79,1579.5 510.53,1579.6 511.26,1579.7 512.00,1579.7 512.73,1579.8 513.47,1579.8 514.20,1579.9 514.94,1580.0 515.67,1580.0 516.41,1580.1 517.14,1580.1 517.88,1580.0 518.61,1580.0 519.35,1580.0 520.08,1580.2 520.82,1580.3 521.55,1580.3 522.29,1580.3 523.02,1580.3 523.76,1580.2 524.49,1580.2 525.23,1580.2 525.96,1580.2 526.70,1580.2 527.43,1580.2 527.76,1580.2 528.17,1580.2 528.90,1580.2 529.64,1580.2 530.38,1580.1 531.11,1580.1 531.85,1580.1 532.58,1580.1 533.32,1580.1 534.05,1580.0 534.79,1580.0 535.52,1580.0 536.26,1580.0 536.99,1580.0 537.73,1579.9 538.46,1579.9 539.20,1579.9 539.93,1579.7 540.67,1579.4 541.40,1579.1 542.14,1579.1 542.87,1579.4 543.61,1579.7 544.34,1579.8 545.08,1579.8 545.81,1579.7 546.55,1579.7 547.28,1579.7 548.02,1579.8 548.75,1579.9 549.49,1579.9 550.22,1579.7 550.96,1579.6 551.69,1579.7 552.43,1579.8 553.16,1579.8 553.90,1579.7 554.63,1579.5 555.37,1579.5 556.10,1579.3 556.84,1579.2 557.57,1579.1 558.31,1579.3 559.04,1579.3 559.63,1579.1 559.78,1579.1 560.51,1579.1 561.25,1579.2 561.98,1579.1 562.72,1579.0 563.45,1578.9 564.19,1578.8 564.92,1578.7 565.66,1578.6 566.39,1578.5 567.13,1578.4 567.86,1578.3 568.60,1578.2 569.33,1578.1 570.07,1578.0 570.81,1577.9 571.54,1577.8 572.28,1577.6 572.63,1577.6 573.01,1577.6 573.75,1577.5 574.48,1577.4 575.22,1577.1 575.95,1576.9 576.69,1576.8 577.42,1576.8 578.16,1576.9 578.89,1576.8 579.63,1576.7 580.36,1576.6 581.10,1576.5 581.83,1576.4 582.57,1576.2 583.30,1575.9 584.04,1575.8 584.77,1575.9 585.51,1575.9 585.68,1575.9 586.24,1575.6 586.98,1575.1 587.71,1574.5 588.45,1573.9 589.18,1573.4 589.92,1573.2 590.65,1572.9 590.68,1572.9 591.39,1572.2 592.12,1571.5 592.86,1570.8 593.59,1570.0 594.33,1569.3 595.06,1568.6 595.80,1567.7 596.53,1566.8 596.68,1566.7 597.27,1564.7 598.00,1562.2 598.74,1559.6 599.47,1556.9 599.62,1556.4 600.21,1552.5 600.94,1547.5 601.68,1542.6 601.74,1542.2 602.41,1535.4 603.15,1527.9 603.85,1520.7 603.88,1520.4 604.62,1513.4 605.35,1506.4 606.09,1499.3 606.21,1498.2 606.82,1492.0 607.56,1484.5 608.29,1477.3 608.32,1477.2 609.03,1473.1 609.76,1468.5 610.09,1466.4 610.50,1469.4 611.24,1474.9 611.56,1477.4 611.97,1483.7 612.71,1495.0 612.91,1498.2 613.44,1504.4 614.18,1513.1 614.79,1520.6 614.91,1522.1 615.65,1530.9 616.38,1539.5 616.62,1542.2 617.12,1545.9 617.85,1551.2 618.56,1556.4 618.59,1556.5 619.32,1558.7 620.06,1560.9 620.79,1563.1 621.53,1565.3 622.09,1567.0 622.26,1567.0 623.00,1567.6 623.73,1568.2 624.47,1569.0 625.20,1569.7 625.94,1570.4 625.97,1570.4 626.67,1570.8 627.41,1571.1 628.14,1571.5 628.88,1571.8 629.61,1572.2 630.35,1572.6 631.08,1572.8 631.20,1572.8 631.82,1572.9 632.55,1573.1 633.29,1573.3 634.02,1573.4 634.76,1573.5 635.49,1573.7 636.23,1573.8 636.96,1574.0 637.70,1574.2 638.43,1574.3 639.17,1574.3 639.90,1574.3 640.64,1574.5 641.37,1574.6 642.11,1574.7 642.84,1574.8 643.58,1574.9 644.20,1575.0 644.31,1575.0 645.05,1575.1 645.78,1575.3 646.52,1575.2 647.25,1575.1 647.99,1575.3 648.72,1575.6 649.46,1575.8 650.19,1576.0 650.93,1576.1 651.67,1576.2 652.40,1576.3 653.14,1576.4 653.87,1576.6 654.61,1576.7 655.34,1576.8 656.08,1576.9 656.81,1577.0 657.25,1577.1 657.55,1577.1 658.28,1577.3 659.02,1577.2 659.75,1577.2 660.49,1577.3 661.22,1577.6 661.96,1577.9 662.69,1578.0 663.43,1578.1 664.16,1578.2 664.90,1578.3 665.63,1578.4 666.37,1578.6 667.10,1578.7 667.84,1578.8 668.57,1579.1 669.31,1579.2 669.72,1579.1 670.04,1578.9 670.78,1578.8 671.51,1578.9 672.25,1578.9 672.98,1579.1 673.72,1579.3 674.45,1579.3 675.19,1579.3 675.92,1579.2 676.66,1579.1 677.39,1579.1 678.13,1579.3 678.86,1579.5 679.60,1579.5 680.33,1579.6 681.07,1579.6 681.80,1579.6 682.54,1579.7 683.27,1579.7 684.01,1579.5 684.74,1579.4 685.48,1579.4 686.21,1579.5 686.95,1579.5 687.68,1579.6 688.42,1579.8 689.15,1580.0 689.89,1580.0 690.62,1580.0 691.36,1580.1 692.10,1580.1 692.42,1580.1 692.83,1580.1 693.57,1580.1 694.30,1580.1 695.04,1580.1 695.77,1580.1 696.51,1580.1 697.24,1580.1 697.98,1580.1 698.71,1580.2 699.45,1580.2 700.18,1580.2 700.92,1580.2 701.65,1580.0 702.39,1579.9 703.12,1579.7 703.86,1579.7 704.59,1579.8 705.33,1580.0 706.06,1580.2 706.80,1580.2 707.53,1580.1 708.27,1579.9 709.00,1579.9 709.74,1580.1 710.47,1580.3 711.21,1580.3 711.94,1580.3 712.68,1580.3 713.41,1580.3 714.15,1580.3 714.88,1580.3 715.62,1580.3 716.35,1580.3 717.09,1580.3 717.82,1580.3 718.56,1580.3 719.29,1580.3 720.03,1580.3 720.76,1580.3 721.50,1580.3 722.23,1580.4 722.97,1580.4 723.70,1580.4 724.44,1580.4 725.17,1580.4 725.91,1580.2 726.64,1579.9 727.38,1579.7 727.70,1579.9 728.11,1580.2 728.85,1580.4 729.58,1580.4 730.32,1580.4 731.06,1580.4 731.79,1580.4 732.53,1580.4 733.26,1580.2 734.00,1580.0 734.73,1580.0 735.47,1580.2 736.20,1580.4 736.94,1580.4 737.67,1580.4 738.41,1580.4 739.14,1580.4 739.88,1580.2 740.61,1580.1 741.35,1580.1 742.08,1580.2 742.82,1580.4 743.55,1580.4 744.29,1580.4 745.02,1580.4 745.76,1580.2 746.49,1580.0 747.23,1579.9 747.96,1579.9 748.70,1580.1 749.43,1580.2 750.17,1580.4 750.90,1580.4 751.64,1580.3 752.37,1579.9 753.11,1579.7 753.84,1579.9 754.58,1580.2 755.31,1580.4 756.05,1580.2 756.78,1580.0 757.52,1580.0 758.25,1580.3 758.99,1580.6 759.72,1580.6 760.46,1580.5 761.19,1580.4 761.93,1580.4 762.66,1580.4 763.40,1580.4 764.13,1580.4 764.87,1580.4 765.60,1580.3 766.34,1580.1 767.07,1580.1 767.81,1580.3 768.54,1580.4 769.28,1580.4 770.01,1580.4 770.75,1580.4 771.49,1580.4 772.22,1580.4 772.96,1580.4 773.69,1580.4 774.43,1580.4 775.16,1580.4 775.90,1580.4 776.63,1580.4 777.37,1580.4 778.10,1580.4 778.84,1580.4 779.57,1580.4 780.31,1580.4 781.04,1580.4 781.78,1580.4 782.51,1580.4 783.25,1580.4 783.98,1580.4 784.72,1580.2 785.45,1580.0 786.19,1580.0 786.92,1580.2 787.66,1580.4 788.39,1580.4 789.13,1580.4 789.86,1580.4 790.60,1580.3 791.33,1580.1 792.07,1580.1 792.80,1580.3 793.54,1580.4 794.27,1580.4 795.01,1580.4 795.74,1580.4 796.48,1580.4 797.21,1580.4 797.95,1580.4 798.68,1580.4 799.42,1580.4 800.15,1580.4 800.89,1580.4 801.62,1580.4 802.36,1580.4 803.09,1580.4 803.83,1580.4 804.56,1580.4 805.30,1580.4 806.03,1580.4 806.77,1580.4 807.50,1580.4 808.24,1580.4 808.97,1580.4 809.71,1580.4 810.44,1580.4 811.18,1580.4 811.92,1580.4 812.65,1580.4 813.39,1580.4 814.12,1580.4 814.86,1580.4 815.59,1580.4 816.33,1580.4 817.06,1580.2 817.80,1580.1 818.53,1580.1 819.27,1580.2 820.00,1580.4 820.74,1580.4 821.47,1580.5 822.21,1580.7 822.94,1580.7 823.68,1580.5 824.41,1580.4 825.15,1580.4 825.88,1580.4 826.62,1580.4 827.35,1580.4 828.09,1580.4 828.82,1580.4 829.56,1580.3 830.29,1580.1 831.03,1580.1 831.76,1580.3 832.50,1580.2 833.23,1580.1 833.97,1580.1 834.70,1580.2 835.44,1580.4 836.17,1580.4 836.91,1580.4 837.64,1580.4 838.38,1580.4 839.11,1580.4 839.85,1580.4 840.58,1580.4 841.32,1580.4 842.05,1580.4 842.79,1580.4 843.52,1580.4 844.26,1580.4 844.99,1580.4 845.73,1580.4 846.46,1580.4 847.20,1580.4 847.93,1580.4 848.67,1580.4 849.40,1580.4 850.14,1580.4 850.88,1580.4 851.61,1580.4 852.35,1580.4 853.08,1580.4 853.82,1580.4 854.55,1580.5 855.29,1580.7 856.02,1580.7 856.76,1580.5 857.49,1580.4 858.23,1580.4 858.96,1580.4 859.70,1580.4 860.43,1580.4 861.17,1580.4 861.90,1580.4 862.64,1580.4 863.37,1580.4 864.11,1580.4 864.84,1580.4 865.58,1580.4 866.31,1580.4 867.05,1580.4 867.78,1580.4 868.52,1580.4 869.25,1580.4 869.99,1580.4 870.72,1580.4 871.46,1580.4 872.19,1580.4 872.93,1580.4 873.66,1580.4 874.40,1580.4 875.13,1580.4 875.87,1580.4 876.60,1580.4 877.34,1580.4 878.07,1580.4 878.81,1580.4 879.54,1580.2 880.28,1580.0 881.01,1579.8 881.75,1580.0 882.48,1580.3 883.22,1580.4 883.95,1580.4 884.69,1580.4 885.42,1580.4 886.16,1580.2 886.89,1580.1 887.63,1579.9 888.36,1580.0 889.10,1580.1 889.83,1580.3 890.57,1580.4 891.31,1580.4 892.04,1580.4 892.78,1580.4 893.51,1580.4 894.25,1580.4 894.98,1580.4 895.72,1580.4 896.45,1580.4 897.19,1580.4 897.92,1580.4 898.66,1580.4 899.39,1580.4 900.13,1580.4 900.86,1580.4 901.60,1580.4 902.33,1580.4 903.07,1580.4 903.80,1580.4 904.54,1580.4 905.27,1580.4 906.01,1580.4 906.74,1580.5 907.48,1580.6 908.21,1580.6 908.95,1580.5 909.68,1580.4 910.42,1580.4 911.15,1580.4 911.89,1580.4 912.62,1580.2 913.36,1579.9 914.09,1579.7 914.83,1579.8 915.56,1580.0 916.30,1580.0 917.03,1580.0 917.77,1580.2 918.50,1580.4 919.24,1580.4 919.97,1580.4 920.71,1580.4 921.44,1580.4 922.18,1580.4 922.91,1580.4 923.65,1580.4 924.38,1580.4 925.12,1580.4 925.85,1580.4 926.59,1580.4 927.32,1580.4 928.06,1580.3 928.79,1580.3 929.53,1580.4 930.26,1580.5 931.00,1580.5 931.74,1580.4 932.47,1580.4 933.21,1580.4 933.94,1580.4 934.68,1580.4 935.41,1580.4 936.15,1580.4 936.88,1580.4 937.62,1580.4 938.35,1580.4 939.09,1580.4 939.82,1580.3 940.56,1580.0 941.29,1579.8 942.03,1580.0 942.76,1580.3 943.50,1580.4 944.23,1580.4 944.97,1580.2 945.70,1580.0 946.44,1580.0 947.17,1580.2 947.91,1580.4 948.64,1580.4 949.38,1580.4 950.11,1580.3 950.85,1580.1 951.58,1580.0 952.32,1579.9 953.05,1580.0 953.79,1580.2 954.52,1580.2 955.26,1580.1 955.99,1580.1 956.73,1580.2 957.46,1580.4 958.20,1580.4 958.93,1580.2 959.67,1580.0 960.40,1580.0 961.14,1580.2 961.87,1580.4 962.61,1580.4 963.34,1580.4 964.08,1580.4 964.81,1580.4 965.55,1580.4 966.28,1580.4 967.02,1580.4 967.75,1580.4 968.49,1580.4 969.22,1580.4 969.96,1580.3 970.69,1580.1 971.43,1580.1 972.17,1580.3 972.90,1580.4 973.64,1580.5 974.37,1580.6 975.11,1580.6 975.84,1580.5 976.58,1580.4 977.31,1580.4 978.05,1580.4 978.78,1580.4 979.52,1580.4 980.25,1580.4 980.99,1580.4 981.72,1580.4 982.46,1580.4 983.19,1580.4 983.93,1580.4 984.66,1580.4 985.40,1580.4 986.13,1580.3 986.87,1580.1 987.60,1579.9 988.34,1579.9 989.07,1580.0 989.81,1580.2 990.54,1580.4 991.28,1580.4 992.01,1580.4 992.75,1580.4 993.48,1580.4 994.22,1580.4 994.95,1580.2 995.69,1580.1 996.42,1580.1 997.16,1580.2 997.89,1580.4 998.63,1580.4 999.36,1580.4 1000.10,1580.4 1000.83,1580.4 1001.57,1580.4 1002.30,1580.4 1003.04,1580.4 1003.77,1580.4 1004.51,1580.4 1005.24,1580.4 1005.98,1580.5 1006.71,1580.7 1007.45,1580.7 1008.18,1580.5 1008.92,1580.4 1009.65,1580.4 1010.39,1580.4 1011.12,1580.4 1011.86,1580.4 1012.60,1580.4 1013.33,1580.4 1014.07,1580.4 1014.80,1580.4 1015.54,1580.4 1016.27,1580.4 1017.01,1580.4 1017.74,1580.4 1018.48,1580.4 1019.21,1580.4 1019.95,1580.4 1020.68,1580.4 1021.42,1580.4 1022.15,1580.4 1022.89,1580.4 1023.62,1580.4 1024.36,1580.4 1025.09,1580.2 1025.83,1580.1 1026.56,1580.1 1027.30,1580.2 1028.03,1580.4 1028.77,1580.4 1029.50,1580.4 1030.24,1580.4 1030.97,1580.4 1031.71,1580.4 1032.44,1580.4 1033.18,1580.4 1033.91,1580.4 1034.65,1580.4 1035.38,1580.4 1036.12,1580.4 1036.85,1580.4 1037.59,1580.4 1038.32,1580.4 1039.06,1580.4 1039.79,1580.3 1040.53,1580.1 1041.26,1580.1 1042.00,1580.3 1042.73,1580.4 1043.47,1580.4 1044.20,1580.5 1044.94,1580.4 1045.67,1580.2 1046.41,1580.1 1047.14,1580.2 1047.88,1580.4 1048.61,1580.4 1049.35,1580.4 1050.08,1580.4 1050.82,1580.4 1051.56,1580.4 1052.29,1580.4 1053.03,1580.4 1053.32,1580.2 1053.76,1580.0 1054.50,1579.9 1055.23,1580.1 1055.91,1580.2 1055.97,1580.2 1056.70,1580.0 1057.44,1579.8 1058.17,1579.7 1058.91,1579.5 1059.64,1579.3 1060.38,1579.1 1061.11,1579.0 1061.85,1578.8 1062.58,1578.6 1063.02,1578.5 1063.32,1578.5 1064.05,1578.4 1064.79,1578.4 1065.52,1578.4 1066.26,1578.3 1066.99,1578.3 1067.73,1578.1 1068.46,1578.0 1069.20,1577.9 1069.93,1578.0 1070.67,1578.1 1071.40,1578.1 1072.14,1578.1 1072.87,1578.0 1073.61,1578.0 1074.34,1577.9 1075.08,1577.9 1075.81,1577.9 1076.55,1577.8 1077.25,1577.8 1077.28,1577.8 1078.02,1577.8 1078.75,1577.9 1079.49,1577.9 1080.22,1577.9 1080.96,1577.9 1081.69,1578.0 1082.43,1578.0 1083.16,1578.0 1083.90,1578.1 1084.63,1578.1 1085.08,1578.1 1085.37,1578.1 1086.10,1577.9 1086.84,1577.8 1087.57,1577.7 1088.31,1577.6 1089.04,1577.4 1089.19,1577.4 1089.78,1577.1 1090.51,1576.7 1091.25,1576.3 1091.99,1575.9 1092.72,1575.5 1093.46,1575.0 1093.90,1574.8 1094.19,1574.9 1094.93,1575.3 1095.66,1575.7 1096.40,1576.0 1097.13,1576.4 1097.87,1576.7 1098.01,1576.8 1098.60,1576.9 1099.34,1577.0 1100.07,1577.1 1100.81,1577.2 1100.95,1577.2 1101.54,1577.2 1102.28,1577.2 1103.01,1577.2 1103.75,1577.2 1104.48,1577.3 1105.22,1577.3 1105.95,1577.3 1106.69,1577.3 1107.42,1577.3 1108.16,1577.3 1108.89,1577.3 1109.63,1577.3 1110.36,1577.4 1111.10,1577.4 1111.83,1577.4 1112.57,1577.4 1112.83,1577.4 1113.30,1577.5 1114.04,1577.5 1114.77,1577.4 1115.51,1577.6 1116.24,1577.9 1116.83,1578.2 1116.98,1578.2 1117.71,1578.5 1118.45,1578.8 1119.18,1579.0 1119.92,1579.3 1120.65,1579.6 1121.39,1579.8 1122.12,1580.1 1122.86,1580.1 1123.59,1580.2 1124.33,1580.2 1125.06,1580.3 1125.80,1580.3 1126.53,1580.4 1126.83,1580.4 1127.27,1580.4 1128.00,1580.4 1128.74,1580.4 1129.47,1580.2 1130.21,1580.1 1130.94,1580.1 1131.68,1580.2 1132.42,1580.4 1133.15,1580.4 1133.89,1580.4 1134.62,1580.4 1135.36,1580.4 1136.09,1580.4 1136.83,1580.4 1137.56,1580.4 1138.30,1580.4 1139.03,1580.4 1139.77,1580.4 1140.50,1580.4 1141.24,1580.4 1141.97,1580.4 1142.71,1580.4 1143.44,1580.4 1144.18,1580.4 1144.91,1580.4 1145.65,1580.4 1146.38,1580.4 1147.12,1580.4 1147.85,1580.4 1148.59,1580.4 1149.32,1580.4 1150.06,1580.4 1150.79,1580.4 1151.53,1580.4 1152.26,1580.4 1153.00,1580.4 1153.73,1580.4 1154.47,1580.4 1155.20,1580.4 1155.94,1580.4 1156.67,1580.4 1157.41,1580.4 1158.14,1580.4 1158.88,1580.4 1159.61,1580.4 1160.35,1580.4 1161.08,1580.4 1161.82,1580.4 1162.55,1580.4 1163.29,1580.4 1164.02,1580.4 1164.76,1580.4 1165.49,1580.3 1166.23,1580.1 1166.96,1580.1 1167.70,1580.3 1168.43,1580.2 1169.17,1580.1 1169.90,1580.1 1170.64,1580.2 1171.37,1580.4 1172.11,1580.4 1172.85,1580.4 1173.58,1580.4 1174.32,1580.4 1175.05,1580.4 1175.79,1580.4 1176.52,1580.4 1177.26,1580.4 1177.99,1580.4 1178.73,1580.4 1179.46,1580.4 1180.20,1580.4 1180.93,1580.5 1181.67,1580.7 1182.40,1580.7 1183.14,1580.5 1183.87,1580.4 1184.61,1580.4 1185.34,1580.3 1186.08,1580.1 1186.81,1579.9 1187.55,1579.9 1188.28,1580.0 1189.02,1580.2 1189.75,1580.4 1190.49,1580.4 1191.22,1580.4 1191.96,1580.4 1192.69,1580.4 1193.43,1580.4 1194.16,1580.4 1194.90,1580.4 1195.63,1580.4 1196.37,1580.4 1197.10,1580.4 1197.84,1580.3 1198.57,1580.1 1199.31,1580.1 1200.04,1580.3 1200.78,1580.4 1201.51,1580.4 1202.25,1580.4 1202.98,1580.4 1203.72,1580.2 1204.45,1580.0 1205.19,1580.0 1205.92,1580.2 1206.66,1580.4 1207.39,1580.4 1208.13,1580.4 1208.86,1580.4 1209.60,1580.4 1210.33,1580.4 1211.07,1580.4 1211.81,1580.4 1212.54,1580.4 1213.28,1580.4 1214.01,1580.4 1214.75,1580.4 1215.48,1580.4 1216.22,1580.3 1216.95,1580.1 1217.69,1580.1 1218.42,1580.3 1219.16,1580.4 1219.89,1580.4 1220.63,1580.4 1221.36,1580.4 1222.10,1580.4 1222.83,1580.4 1223.57,1580.5 1224.30,1580.7 1225.04,1580.7 1225.77,1580.5 1226.51,1580.4 1227.24,1580.4 1227.98,1580.4 1228.71,1580.4 1229.45,1580.4 1230.18,1580.4 1230.92,1580.4 1231.65,1580.4" stroke="#1A6FDF"/>
<path d="M231.19,1705.4 231.93,1705.4 232.66,1705.4 233.40,1705.4 234.13,1705.4 234.87,1705.4 235.60,1705.4 236.34,1705.4 237.07,1705.1 237.81,1704.9 238.54,1704.9 239.28,1705.1 240.01,1705.4 240.75,1705.4 241.48,1705.4 242.22,1705.4 242.95,1705.4 243.69,1705.4 244.42,1705.4 245.16,1705.1 245.89,1704.9 246.63,1704.9 247.36,1704.9 248.10,1704.9 248.83,1704.9 249.57,1705.1 250.31,1705.4 251.04,1705.4 251.78,1705.4 252.51,1705.4 253.25,1705.4 253.98,1705.4 254.72,1705.4 255.45,1705.4 256.19,1705.4 256.92,1705.4 257.66,1705.4 258.39,1705.4 259.13,1705.4 259.86,1705.4 260.60,1705.1 261.33,1704.8 262.07,1704.8 262.80,1705.1 263.54,1705.4 264.27,1705.4 265.01,1705.4 265.74,1705.4 266.48,1705.4 267.21,1705.4 267.95,1705.4 268.68,1705.4 269.42,1705.1 270.15,1704.6 270.89,1704.3 271.62,1704.6 272.36,1704.9 273.09,1704.8 273.83,1704.8 274.56,1704.8 275.30,1704.9 276.03,1704.9 276.77,1705.1 277.50,1705.1 278.24,1704.6 278.97,1704.4 279.71,1704.7 280.44,1705.1 281.18,1705.4 281.91,1705.4 282.65,1705.4 283.38,1705.4 284.12,1705.4 284.85,1705.4 285.59,1705.4 286.32,1705.6 287.06,1705.9 287.79,1705.9 288.53,1705.6 289.26,1705.4 290.00,1705.4 290.74,1705.4 291.47,1705.4 292.21,1705.4 292.94,1705.4 293.68,1705.4 294.41,1705.4 295.15,1705.4 295.88,1705.4 296.62,1705.4 297.35,1705.4 298.09,1705.4 298.82,1705.4 299.56,1705.4 300.29,1705.1 301.03,1704.9 301.76,1704.9 302.50,1705.4 303.23,1705.9 303.97,1705.9 304.70,1705.7 305.44,1705.4 306.17,1705.4 306.91,1705.4 307.64,1705.4 308.38,1705.4 309.11,1705.4 309.85,1705.4 310.58,1705.4 311.32,1705.1 312.05,1704.9 312.79,1704.9 313.52,1704.8 314.26,1704.8 314.99,1704.8 315.73,1705.1 316.46,1705.4 317.20,1705.4 317.93,1705.4 318.67,1705.4 319.40,1705.4 320.14,1705.4 320.87,1705.4 321.61,1705.4 322.34,1705.4 323.08,1705.4 323.81,1705.4 324.55,1705.4 325.28,1705.4 326.02,1705.4 326.75,1705.4 327.49,1705.4 328.22,1705.4 328.96,1705.4 329.69,1705.4 330.43,1705.4 331.17,1705.1 331.90,1704.9 332.64,1704.9 333.37,1705.1 334.11,1705.1 334.84,1704.9 335.58,1704.9 336.31,1705.1 337.05,1705.4 337.78,1705.4 338.52,1705.1 339.25,1704.9 339.99,1704.9 340.72,1704.9 341.46,1704.9 342.19,1704.9 342.93,1705.1 343.66,1705.4 344.40,1705.4 345.13,1705.4 345.87,1705.4 346.60,1705.7 347.34,1706.2 348.07,1706.4 348.81,1706.1 349.54,1705.6 350.28,1705.4 351.01,1705.4 351.75,1705.4 352.48,1705.4 353.22,1705.4 353.95,1705.4 354.69,1705.4 355.42,1705.1 356.16,1704.8 356.89,1704.8 357.63,1705.1 358.36,1705.4 359.10,1705.4 359.83,1705.4 360.57,1705.4 361.30,1705.4 362.04,1705.4 362.77,1705.4 363.51,1705.4 364.24,1705.4 364.98,1705.4 365.71,1705.4 366.45,1705.4 367.18,1705.4 367.92,1705.4 368.65,1705.4 369.39,1705.4 370.12,1705.4 370.86,1705.4 371.60,1705.4 372.33,1705.4 373.07,1705.4 373.80,1705.4 374.54,1705.4 375.27,1705.4 376.01,1705.4 376.74,1705.4 377.48,1705.4 378.21,1705.4 378.95,1705.4 379.68,1705.0 380.42,1704.7 381.15,1704.7 381.89,1705.0 382.62,1705.4 383.36,1705.4 384.09,1705.4 384.83,1705.4 385.56,1705.4 386.30,1705.4 387.03,1705.4 387.77,1705.4 388.50,1705.4 389.24,1705.4 389.97,1705.4 390.71,1705.4 391.44,1705.1 392.18,1704.9 392.91,1704.9 393.65,1704.8 394.38,1704.8 395.12,1705.1 395.85,1705.6 396.59,1705.9 397.32,1705.7 398.06,1705.4 398.79,1705.4 399.53,1705.4 400.26,1705.4 401.00,1705.4 401.73,1705.4 402.47,1705.4 403.20,1705.4 403.94,1705.4 404.67,1705.4 405.41,1705.4 406.14,1705.4 406.88,1705.4 407.61,1705.4 408.35,1705.4 409.08,1705.4 409.82,1705.4 410.56,1705.4 411.29,1705.4 412.03,1705.4 412.76,1705.4 413.50,1705.1 414.23,1704.9 414.97,1704.8 415.70,1705.1 416.44,1705.3 417.17,1705.3 417.91,1705.2 418.64,1705.2 419.38,1705.2 420.11,1705.2 420.85,1705.1 421.58,1705.1 422.32,1705.1 423.05,1704.7 423.79,1704.3 424.52,1704.3 425.26,1704.6 425.99,1704.9 426.73,1704.9 427.46,1704.8 428.20,1704.7 428.93,1704.7 429.67,1704.6 430.40,1704.5 431.14,1704.5 431.87,1704.4 432.61,1704.4 433.34,1704.3 434.08,1704.2 434.81,1704.2 435.55,1704.1 436.28,1704.1 437.02,1704.0 437.75,1704.1 438.49,1704.2 439.22,1704.2 439.61,1704.0 439.96,1703.4 440.69,1702.8 441.43,1702.5 442.16,1702.5 442.90,1702.4 443.63,1702.1 444.37,1701.8 445.10,1701.5 445.84,1701.3 446.02,1701.2 446.57,1700.6 447.31,1699.9 448.04,1699.2 448.78,1698.5 449.51,1697.8 450.25,1697.1 450.99,1696.4 451.72,1695.7 452.46,1695.0 453.19,1694.3 453.78,1693.8 453.93,1693.9 454.66,1694.5 455.40,1695.1 456.13,1695.7 456.87,1696.1 457.60,1696.4 458.34,1697.0 459.07,1697.9 459.81,1698.7 460.54,1699.3 461.28,1699.9 462.01,1700.6 462.75,1700.9 462.89,1700.8 463.48,1700.3 464.22,1700.1 464.95,1699.8 465.69,1699.3 466.42,1698.4 467.16,1697.6 467.89,1697.0 468.63,1696.8 469.36,1696.6 470.10,1696.1 470.83,1695.7 471.57,1695.4 472.30,1694.6 473.04,1693.6 473.77,1692.8 474.51,1692.6 474.77,1692.4 475.24,1692.1 475.98,1692.3 476.71,1692.9 477.45,1693.8 478.18,1694.3 478.92,1694.7 479.07,1694.8 479.65,1694.8 480.39,1694.7 481.12,1694.7 481.86,1694.9 482.59,1695.0 483.30,1695.0 483.33,1694.8 484.06,1695.2 484.80,1695.8 485.53,1696.5 486.27,1697.1 487.00,1697.7 487.74,1698.1 488.47,1698.2 489.21,1698.5 489.94,1699.4 490.68,1700.5 491.12,1701.2 491.42,1701.3 492.15,1701.4 492.89,1701.6 493.62,1701.8 494.36,1702.0 495.09,1702.2 495.83,1702.4 496.56,1702.6 497.30,1702.8 498.03,1703.0 498.77,1703.2 499.50,1703.4 500.24,1703.5 500.97,1703.7 501.53,1703.6 501.71,1703.4 502.44,1703.4 503.18,1703.7 503.91,1704.1 504.65,1704.1 505.38,1704.2 506.12,1704.2 506.85,1704.3 507.59,1704.4 508.32,1704.4 509.06,1704.5 509.79,1704.5 510.53,1704.6 511.26,1704.6 512.00,1704.7 512.73,1704.5 513.47,1704.3 514.20,1704.3 514.94,1704.7 515.67,1705.0 516.41,1705.0 517.14,1705.1 517.88,1705.2 518.61,1705.2 519.35,1705.3 520.08,1705.3 520.82,1705.3 521.55,1705.3 522.29,1705.2 523.02,1705.2 523.76,1705.2 524.49,1705.2 525.23,1705.2 525.96,1705.2 526.70,1705.2 527.43,1705.2 527.76,1705.2 528.17,1705.2 528.90,1705.2 529.64,1705.1 530.38,1705.1 531.11,1705.1 531.85,1705.1 532.58,1705.1 533.32,1705.0 534.05,1705.0 534.79,1705.0 535.52,1705.0 536.26,1705.2 536.99,1705.5 537.73,1705.2 538.46,1704.7 539.20,1704.4 539.93,1704.6 540.67,1704.9 541.40,1704.8 542.14,1704.8 542.87,1704.8 543.61,1704.8 544.34,1704.8 545.08,1704.4 545.81,1703.8 546.55,1703.5 547.28,1703.8 548.02,1704.4 548.75,1704.7 549.49,1704.3 550.22,1704.0 550.96,1704.0 551.69,1704.3 552.43,1704.6 553.16,1704.5 553.90,1704.5 554.63,1704.5 555.37,1704.5 556.10,1704.5 556.84,1704.5 557.57,1704.4 558.31,1704.4 559.04,1704.4 559.63,1704.4 559.78,1704.4 560.51,1704.3 561.25,1704.2 561.98,1704.1 562.72,1704.0 563.45,1703.9 564.19,1703.7 564.92,1703.6 565.66,1703.5 566.39,1703.4 567.13,1703.3 567.86,1703.2 568.60,1703.1 569.33,1702.7 570.07,1702.3 570.81,1702.2 571.54,1702.4 572.28,1702.6 572.63,1702.6 573.01,1702.5 573.75,1702.4 574.48,1702.3 575.22,1702.2 575.95,1702.1 576.69,1702.1 577.42,1702.0 578.16,1701.9 578.89,1701.8 579.63,1701.7 580.36,1701.6 581.10,1701.5 581.83,1701.4 582.57,1701.3 583.30,1701.2 584.04,1701.1 584.77,1701.0 585.51,1700.9 585.68,1700.9 586.24,1700.5 586.98,1700.1 587.71,1699.3 588.45,1698.6 589.18,1698.1 589.92,1698.0 590.65,1697.9 590.68,1697.9 591.39,1697.2 592.12,1696.5 592.86,1695.7 593.59,1694.7 594.33,1693.6 595.06,1692.9 595.80,1692.5 596.53,1692.1 596.68,1692.0 597.27,1689.9 598.00,1687.2 598.74,1684.6 599.47,1681.9 599.62,1681.4 600.21,1677.4 600.94,1672.5 601.68,1667.6 601.74,1667.2 602.41,1660.5 603.15,1653.3 603.85,1646.2 603.88,1645.7 604.62,1638.5 605.35,1631.4 606.09,1624.0 606.21,1622.5 606.82,1616.4 607.56,1609.6 608.29,1602.4 608.32,1601.9 609.03,1597.6 609.76,1593.4 610.09,1591.7 610.50,1594.7 611.24,1600.0 611.56,1602.4 611.97,1608.7 612.71,1620.0 612.91,1623.2 613.44,1629.6 614.18,1638.4 614.79,1645.9 614.91,1647.3 615.65,1655.8 616.38,1664.4 616.62,1667.2 617.12,1670.8 617.85,1676.2 618.56,1681.4 618.59,1681.5 619.32,1683.4 620.06,1685.3 620.79,1687.5 621.53,1690.0 622.09,1692.0 622.26,1692.1 623.00,1692.8 623.73,1693.2 624.47,1693.6 625.20,1694.2 625.94,1695.1 625.97,1695.4 626.67,1695.7 627.41,1696.1 628.14,1696.5 628.88,1696.8 629.61,1697.2 630.35,1697.6 631.08,1697.9 631.20,1698.1 631.82,1698.1 632.55,1697.9 633.29,1697.9 634.02,1698.1 634.76,1698.5 635.49,1698.6 636.23,1698.8 636.96,1698.9 637.70,1699.0 638.43,1699.1 639.17,1699.2 639.90,1699.0 640.64,1698.7 641.37,1698.9 642.11,1699.3 642.84,1699.8 643.58,1699.9 644.20,1700.0 644.31,1700.2 645.05,1700.4 645.78,1700.5 646.52,1700.5 647.25,1700.5 647.99,1700.6 648.72,1700.7 649.46,1700.8 650.19,1700.9 650.93,1701.1 651.67,1701.2 652.40,1701.3 653.14,1701.4 653.87,1701.5 654.61,1701.7 655.34,1701.8 656.08,1701.9 656.81,1702.0 657.25,1702.3 657.55,1702.6 658.28,1702.7 659.02,1702.6 659.75,1702.5 660.49,1702.6 661.22,1702.7 661.96,1702.8 662.69,1703.0 663.43,1703.1 664.16,1703.2 664.90,1703.3 665.63,1703.4 666.37,1703.5 667.10,1703.7 667.84,1703.8 668.57,1703.9 669.31,1704.0 669.72,1704.1 670.04,1704.1 670.78,1704.1 671.51,1704.2 672.25,1704.2 672.98,1704.2 673.72,1704.3 674.45,1704.3 675.19,1704.3 675.92,1704.4 676.66,1704.4 677.39,1704.4 678.13,1704.5 678.86,1704.3 679.60,1704.1 680.33,1704.1 681.07,1704.4 681.80,1704.6 682.54,1704.6 683.27,1704.7 684.01,1704.7 684.74,1704.7 685.48,1704.8 686.21,1704.8 686.95,1704.8 687.68,1704.9 688.42,1704.9 689.15,1704.9 689.89,1704.7 690.62,1704.5 691.36,1704.6 692.10,1704.8 692.42,1705.1 692.83,1705.1 693.57,1705.1 694.30,1705.1 695.04,1705.1 695.77,1705.1 696.51,1705.1 697.24,1705.1 697.98,1705.1 698.71,1705.1 699.45,1705.1 700.18,1705.1 700.92,1705.2 701.65,1705.2 702.39,1705.2 703.12,1705.2 703.86,1705.2 704.59,1705.2 705.33,1705.2 706.06,1705.2 706.80,1705.2 707.53,1705.2 708.27,1705.2 709.00,1705.2 709.74,1705.2 710.47,1705.2 711.21,1705.2 711.94,1705.2 712.68,1705.3 713.41,1705.3 714.15,1705.3 714.88,1705.3 715.62,1705.3 716.35,1705.3 717.09,1705.3 717.82,1705.3 718.56,1705.3 719.29,1705.3 720.03,1705.3 720.76,1705.3 721.50,1705.3 722.23,1705.0 722.97,1704.7 723.70,1704.7 724.44,1705.0 725.17,1705.4 725.91,1705.4 726.64,1705.4 727.38,1705.4 727.70,1705.4 728.11,1705.4 728.85,1705.4 729.58,1705.6 730.32,1705.7 731.06,1705.7 731.79,1705.6 732.53,1705.4 733.26,1705.4 734.00,1705.4 734.73,1705.4 735.47,1705.4 736.20,1705.4 736.94,1705.1 737.67,1704.8 738.41,1704.8 739.14,1705.1 739.88,1705.4 740.61,1705.4 741.35,1705.4 742.08,1705.4 742.82,1705.4 743.55,1705.4 744.29,1705.2 745.02,1704.9 745.76,1704.9 746.49,1705.2 747.23,1705.4 747.96,1705.4 748.70,1705.4 749.43,1705.4 750.17,1705.4 750.90,1705.4 751.64,1705.4 752.37,1705.4 753.11,1705.4 753.84,1705.4 754.58,1705.4 755.31,1705.4 756.05,1705.4 756.78,1705.4 757.52,1705.4 758.25,1705.4 758.99,1705.4 759.72,1705.4 760.46,1705.4 761.19,1705.4 761.93,1705.4 762.66,1705.1 763.40,1704.9 764.13,1704.9 764.87,1704.9 765.60,1704.7 766.34,1704.5 767.07,1704.7 767.81,1705.2 768.54,1705.4 769.28,1705.4 770.01,1705.4 770.75,1705.0 771.49,1704.7 772.22,1704.7 772.96,1705.0 773.69,1705.4 774.43,1705.4 775.16,1705.4 775.90,1705.4 776.63,1705.4 777.37,1705.1 778.10,1704.9 778.84,1704.9 779.57,1705.1 780.31,1705.1 781.04,1704.8 781.78,1704.8 782.51,1705.1 783.25,1705.4 783.98,1705.4 784.72,1705.4 785.45,1705.4 786.19,1705.4 786.92,1705.4 787.66,1705.4 788.39,1705.4 789.13,1705.4 789.86,1705.4 790.60,1705.4 791.33,1705.4 792.07,1705.4 792.80,1705.4 793.54,1705.4 794.27,1705.4 795.01,1705.4 795.74,1705.4 796.48,1705.4 797.21,1705.4 797.95,1705.4 798.68,1705.4 799.42,1705.6 800.15,1705.8 800.89,1705.8 801.62,1705.6 802.36,1705.4 803.09,1705.4 803.83,1705.4 804.56,1705.4 805.30,1705.4 806.03,1705.4 806.77,1705.4 807.50,1705.4 808.24,1705.4 808.97,1705.4 809.71,1705.4 810.44,1705.4 811.18,1705.4 811.92,1705.1 812.65,1704.9 813.39,1704.9 814.12,1705.1 814.86,1705.4 815.59,1705.4 816.33,1705.4 817.06,1705.4 817.80,1705.4 818.53,1705.4 819.27,1705.4 820.00,1705.6 820.74,1705.9 821.47,1705.9 822.21,1705.6 822.94,1705.4 823.68,1705.4 824.41,1705.4 825.15,1705.4 825.88,1705.4 826.62,1705.4 827.35,1705.4 828.09,1705.1 828.82,1704.8 829.56,1704.8 830.29,1705.1 831.03,1705.4 831.76,1705.4 832.50,1705.4 833.23,1705.4 833.97,1705.4 834.70,1705.4 835.44,1705.4 836.17,1705.4 836.91,1705.4 837.64,1705.4 838.38,1705.4 839.11,1705.4 839.85,1705.4 840.58,1705.4 841.32,1705.1 842.05,1704.8 842.79,1704.8 843.52,1705.1 844.26,1705.4 844.99,1705.1 845.73,1704.8 846.46,1704.8 847.20,1705.1 847.93,1705.4 848.67,1705.4 849.40,1705.4 850.14,1705.4 850.88,1705.4 851.61,1705.4 852.35,1705.4 853.08,1705.4 853.82,1705.1 854.55,1704.9 855.29,1704.9 856.02,1705.1 856.76,1705.4 857.49,1705.4 858.23,1705.4 858.96,1705.4 859.70,1705.4 860.43,1705.4 861.17,1705.4 861.90,1705.4 862.64,1705.4 863.37,1705.4 864.11,1705.4 864.84,1705.4 865.58,1705.4 866.31,1705.4 867.05,1705.4 867.78,1705.4 868.52,1705.6 869.25,1705.9 869.99,1705.9 870.72,1705.6 871.46,1705.4 872.19,1705.4 872.93,1705.4 873.66,1705.4 874.40,1705.4 875.13,1705.4 875.87,1705.4 876.60,1705.4 877.34,1705.4 878.07,1705.4 878.81,1705.4 879.54,1705.4 880.28,1705.4 881.01,1705.6 881.75,1705.8 882.48,1705.8 883.22,1705.6 883.95,1705.4 884.69,1705.4 885.42,1705.4 886.16,1705.4 886.89,1705.4 887.63,1705.4 888.36,1705.4 889.10,1705.4 889.83,1705.1 890.57,1704.6 891.31,1704.3 892.04,1704.6 892.78,1705.1 893.51,1705.4 894.25,1705.4 894.98,1705.4 895.72,1705.4 896.45,1705.1 897.19,1704.9 897.92,1704.9 898.66,1705.1 899.39,1705.4 900.13,1705.4 900.86,1705.4 901.60,1705.4 902.33,1705.4 903.07,1705.4 903.80,1705.4 904.54,1705.4 905.27,1705.4 906.01,1705.4 906.74,1705.4 907.48,1705.4 908.21,1705.4 908.95,1705.4 909.68,1705.4 910.42,1705.4 911.15,1705.4 911.89,1705.4 912.62,1705.4 913.36,1705.4 914.09,1705.4 914.83,1705.5 915.56,1705.7 916.30,1705.7 917.03,1705.5 917.77,1705.4 918.50,1705.4 919.24,1705.4 919.97,1705.4 920.71,1705.4 921.44,1705.4 922.18,1705.4 922.91,1705.4 923.65,1705.4 924.38,1705.6 925.12,1705.9 925.85,1705.9 926.59,1705.6 927.32,1705.1 928.06,1704.9 928.79,1704.9 929.53,1705.1 930.26,1705.4 931.00,1705.4 931.74,1705.4 932.47,1705.4 933.21,1705.4 933.94,1705.4 934.68,1705.4 935.41,1705.4 936.15,1705.4 936.88,1705.4 937.62,1705.4 938.35,1705.1 939.09,1704.9 939.82,1704.9 940.56,1705.1 941.29,1705.4 942.03,1705.4 942.76,1705.4 943.50,1705.4 944.23,1705.4 944.97,1705.4 945.70,1705.4 946.44,1705.1 947.17,1704.9 947.91,1704.6 948.64,1704.5 949.38,1704.7 950.11,1705.1 950.85,1705.2 951.58,1705.0 952.32,1705.0 953.05,1705.2 953.79,1705.4 954.52,1705.4 955.26,1705.4 955.99,1705.4 956.73,1705.4 957.46,1705.4 958.20,1705.4 958.93,1705.4 959.67,1705.4 960.40,1705.4 961.14,1705.4 961.87,1705.4 962.61,1705.4 963.34,1705.4 964.08,1705.4 964.81,1705.4 965.55,1705.4 966.28,1705.4 967.02,1705.1 967.75,1704.8 968.49,1704.8 969.22,1704.7 969.96,1704.7 970.69,1704.7 971.43,1705.0 972.17,1705.4 972.90,1705.4 973.64,1705.2 974.37,1704.9 975.11,1704.9 975.84,1705.2 976.58,1705.4 977.31,1705.4 978.05,1705.4 978.78,1705.4 979.52,1705.4 980.25,1705.4 980.99,1705.4 981.72,1705.4 982.46,1705.4 983.19,1705.4 983.93,1705.4 984.66,1705.4 985.40,1705.4 986.13,1705.4 986.87,1705.4 987.60,1705.4 988.34,1705.4 989.07,1705.4 989.81,1705.4 990.54,1705.4 991.28,1705.4 992.01,1705.6 992.75,1705.8 993.48,1705.8 994.22,1705.6 994.95,1705.4 995.69,1705.4 996.42,1705.4 997.16,1705.4 997.89,1705.4 998.63,1705.4 999.36,1705.4 1000.10,1705.4 1000.83,1705.4 1001.57,1705.4 1002.30,1705.4 1003.04,1705.4 1003.77,1705.4 1004.51,1705.4 1005.24,1705.4 1005.98,1705.0 1006.71,1704.7 1007.45,1704.7 1008.18,1705.0 1008.92,1705.1 1009.65,1704.9 1010.39,1704.9 1011.12,1705.1 1011.86,1705.5 1012.60,1705.7 1013.33,1705.7 1014.07,1705.5 1014.80,1705.4 1015.54,1705.4 1016.27,1705.4 1017.01,1705.4 1017.74,1705.4 1018.48,1705.4 1019.21,1705.1 1019.95,1704.9 1020.68,1704.9 1021.42,1705.1 1022.15,1705.4 1022.89,1705.4 1023.62,1705.0 1024.36,1704.7 1025.09,1704.9 1025.83,1705.4 1026.56,1705.8 1027.30,1705.6 1028.03,1705.4 1028.77,1705.4 1029.50,1705.4 1030.24,1705.4 1030.97,1705.4 1031.71,1705.4 1032.44,1705.4 1033.18,1705.4 1033.91,1705.4 1034.65,1705.4 1035.38,1705.4 1036.12,1705.7 1036.85,1705.6 1037.59,1705.4 1038.32,1705.1 1039.06,1705.1 1039.79,1705.4 1040.53,1705.4 1041.26,1705.4 1042.00,1705.4 1042.73,1705.4 1043.47,1705.4 1044.20,1705.4 1044.94,1705.4 1045.67,1705.4 1046.41,1705.4 1047.14,1705.4 1047.88,1705.4 1048.61,1705.4 1049.35,1705.4 1050.08,1705.4 1050.82,1705.4 1051.56,1705.4 1052.29,1705.2 1053.03,1704.9 1053.32,1704.9 1053.76,1705.1 1054.50,1705.3 1055.23,1705.2 1055.91,1705.2 1055.97,1705.4 1056.70,1705.4 1057.44,1705.2 1058.17,1704.8 1058.91,1704.5 1059.64,1704.3 1060.38,1704.1 1061.11,1703.9 1061.85,1703.8 1062.58,1703.6 1063.02,1703.5 1063.32,1703.5 1064.05,1703.4 1064.79,1703.4 1065.52,1703.4 1066.26,1703.3 1066.99,1703.3 1067.73,1703.2 1068.46,1703.2 1069.20,1703.2 1069.93,1703.1 1070.67,1703.1 1071.40,1703.1 1072.14,1702.7 1072.87,1702.4 1073.61,1702.4 1074.34,1702.6 1075.08,1702.9 1075.81,1702.9 1076.55,1702.8 1077.25,1702.8 1077.28,1702.8 1078.02,1702.8 1078.75,1702.8 1079.49,1702.9 1080.22,1702.9 1080.96,1702.6 1081.69,1702.0 1082.43,1701.7 1083.16,1702.0 1083.90,1702.7 1084.63,1703.1 1085.08,1703.1 1085.37,1703.0 1086.10,1702.9 1086.84,1702.8 1087.57,1702.7 1088.31,1702.5 1089.04,1702.4 1089.19,1702.4 1089.78,1702.1 1090.51,1701.6 1091.25,1701.2 1091.99,1700.8 1092.72,1700.4 1093.46,1700.0 1093.90,1699.8 1094.19,1699.9 1094.93,1700.3 1095.66,1700.4 1096.40,1700.2 1097.13,1700.3 1097.87,1700.9 1098.01,1701.5 1098.60,1701.9 1099.34,1702.0 1100.07,1702.1 1100.81,1702.2 1100.95,1702.2 1101.54,1702.0 1102.28,1701.7 1103.01,1701.7 1103.75,1702.0 1104.48,1702.2 1105.22,1702.3 1105.95,1702.3 1106.69,1702.3 1107.42,1702.3 1108.16,1702.3 1108.89,1702.3 1109.63,1702.3 1110.36,1702.3 1111.10,1702.4 1111.83,1702.4 1112.57,1702.4 1112.83,1702.4 1113.30,1702.5 1114.04,1702.6 1114.77,1702.8 1115.51,1702.9 1116.24,1703.1 1116.83,1703.2 1116.98,1703.2 1117.71,1703.5 1118.45,1703.8 1119.18,1704.0 1119.92,1704.3 1120.65,1704.6 1121.39,1704.8 1122.12,1705.1 1122.86,1704.8 1123.59,1704.3 1124.33,1704.1 1125.06,1704.5 1125.80,1705.1 1126.53,1705.4 1126.83,1705.4 1127.27,1705.4 1128.00,1705.4 1128.74,1705.4 1129.47,1705.4 1130.21,1705.4 1130.94,1705.4 1131.68,1705.4 1132.42,1705.4 1133.15,1705.4 1133.89,1705.4 1134.62,1705.4 1135.36,1705.4 1136.09,1705.4 1136.83,1705.4 1137.56,1705.4 1138.30,1705.4 1139.03,1705.4 1139.77,1705.4 1140.50,1705.4 1141.24,1705.4 1141.97,1705.4 1142.71,1705.4 1143.44,1705.4 1144.18,1705.4 1144.91,1705.1 1145.65,1704.8 1146.38,1704.8 1147.12,1705.1 1147.85,1705.4 1148.59,1705.4 1149.32,1705.4 1150.06,1705.4 1150.79,1705.4 1151.53,1705.4 1152.26,1705.4 1153.00,1705.4 1153.73,1705.4 1154.47,1705.1 1155.20,1704.8 1155.94,1704.8 1156.67,1705.1 1157.41,1705.1 1158.14,1704.9 1158.88,1704.9 1159.61,1705.1 1160.35,1705.1 1161.08,1704.8 1161.82,1704.8 1162.55,1705.1 1163.29,1705.4 1164.02,1705.4 1164.76,1705.4 1165.49,1705.4 1166.23,1705.4 1166.96,1705.4 1167.70,1705.4 1168.43,1705.4 1169.17,1705.4 1169.90,1705.4 1170.64,1705.4 1171.37,1705.1 1172.11,1704.8 1172.85,1704.8 1173.58,1704.9 1174.32,1704.9 1175.05,1704.9 1175.79,1705.2 1176.52,1705.4 1177.26,1705.4 1177.99,1705.4 1178.73,1705.4 1179.46,1705.4 1180.20,1705.4 1180.93,1705.4 1181.67,1705.1 1182.40,1704.9 1183.14,1704.9 1183.87,1705.1 1184.61,1705.4 1185.34,1705.4 1186.08,1705.4 1186.81,1705.1 1187.55,1704.5 1188.28,1704.2 1189.02,1704.5 1189.75,1705.1 1190.49,1705.4 1191.22,1705.4 1191.96,1705.4 1192.69,1705.4 1193.43,1705.4 1194.16,1705.1 1194.90,1705.0 1195.63,1705.2 1196.37,1705.5 1197.10,1705.6 1197.84,1705.4 1198.57,1705.4 1199.31,1705.4 1200.04,1705.4 1200.78,1705.4 1201.51,1705.4 1202.25,1705.4 1202.98,1705.4 1203.72,1705.4 1204.45,1705.4 1205.19,1705.4 1205.92,1705.4 1206.66,1705.4 1207.39,1705.4 1208.13,1705.4 1208.86,1705.4 1209.60,1705.4 1210.33,1705.4 1211.07,1705.4 1211.81,1705.1 1212.54,1704.8 1213.28,1704.8 1214.01,1705.1 1214.75,1705.4 1215.48,1705.4 1216.22,1705.4 1216.95,1705.4 1217.69,1705.4 1218.42,1705.4 1219.16,1705.4 1219.89,1705.4 1220.63,1705.4 1221.36,1705.4 1222.10,1705.4 1222.83,1705.4 1223.57,1705.4 1224.30,1705.4 1225.04,1705.4 1225.77,1705.4 1226.51,1705.4 1227.24,1705.1 1227.98,1704.9 1228.71,1704.9 1229.45,1704.8 1230.18,1704.8 1230.92,1704.8 1231.65,1705.1" stroke="#F14040"/>
<path d="M231.19,1830.4 231.93,1830.4 232.66,1830.4 233.40,1830.4 234.13,1830.4 234.87,1830.4 235.60,1830.4 236.34,1830.4 237.07,1830.4 237.81,1830.4 238.54,1830.4 239.28,1830.4 240.01,1829.9 240.75,1829.4 241.48,1829.4 242.22,1829.5 242.95,1829.6 243.69,1829.6 244.42,1830.0 245.16,1830.4 245.89,1830.4 246.63,1830.4 247.36,1830.4 248.10,1830.4 248.83,1830.4 249.57,1830.4 250.31,1830.4 251.04,1830.7 251.78,1831.0 252.51,1831.0 253.25,1830.7 253.98,1830.4 254.72,1830.4 255.45,1830.4 256.19,1830.4 256.92,1830.4 257.66,1830.4 258.39,1830.4 259.13,1830.4 259.86,1830.4 260.60,1830.4 261.33,1830.4 262.07,1830.4 262.80,1829.8 263.54,1829.3 264.27,1829.3 265.01,1829.8 265.74,1830.4 266.48,1830.4 267.21,1830.4 267.95,1830.4 268.68,1830.0 269.42,1829.7 270.15,1829.7 270.89,1830.0 271.62,1830.4 272.36,1829.9 273.09,1829.4 273.83,1829.4 274.56,1829.9 275.30,1830.4 276.03,1830.4 276.77,1830.4 277.50,1830.4 278.24,1830.4 278.97,1830.4 279.71,1830.4 280.44,1830.4 281.18,1830.0 281.91,1829.7 282.65,1829.7 283.38,1830.0 284.12,1830.4 284.85,1830.4 285.59,1830.4 286.32,1830.4 287.06,1830.0 287.79,1829.7 288.53,1829.7 289.26,1830.0 290.00,1830.4 290.74,1829.9 291.47,1829.5 292.21,1829.5 292.94,1829.9 293.68,1830.4 294.41,1830.4 295.15,1830.4 295.88,1830.4 296.62,1830.4 297.35,1830.4 298.09,1829.9 298.82,1829.4 299.56,1829.4 300.29,1829.9 301.03,1830.4 301.76,1830.4 302.50,1830.4 303.23,1830.4 303.97,1830.4 304.70,1830.4 305.44,1830.8 306.17,1831.2 306.91,1831.2 307.64,1830.8 308.38,1830.4 309.11,1830.8 309.85,1831.1 310.58,1831.1 311.32,1830.8 312.05,1830.4 312.79,1830.4 313.52,1830.4 314.26,1829.9 314.99,1829.4 315.73,1829.4 316.46,1829.9 317.20,1830.4 317.93,1830.4 318.67,1830.4 319.40,1830.4 320.14,1830.4 320.87,1830.4 321.61,1830.4 322.34,1830.4 323.08,1830.4 323.81,1829.9 324.55,1829.5 325.28,1829.5 326.02,1829.9 326.75,1830.4 327.49,1830.4 328.22,1830.4 328.96,1830.4 329.69,1830.4 330.43,1830.4 331.17,1830.4 331.90,1830.4 332.64,1829.9 333.37,1829.5 334.11,1829.5 334.84,1829.9 335.58,1830.4 336.31,1830.4 337.05,1830.4 337.78,1830.4 338.52,1829.8 339.25,1829.3 339.99,1829.3 340.72,1829.8 341.46,1830.0 342.19,1829.6 342.93,1829.6 343.66,1830.0 344.40,1830.4 345.13,1830.4 345.87,1830.4 346.60,1830.4 347.34,1830.4 348.07,1830.4 348.81,1830.4 349.54,1830.4 350.28,1830.4 351.01,1830.4 351.75,1830.4 352.48,1829.9 353.22,1829.4 353.95,1829.4 354.69,1829.9 355.42,1830.4 356.16,1830.4 356.89,1830.4 357.63,1830.4 358.36,1830.4 359.10,1830.4 359.83,1830.4 360.57,1830.4 361.30,1830.4 362.04,1830.4 362.77,1830.4 363.51,1830.4 364.24,1830.4 364.98,1830.0 365.71,1829.6 366.45,1829.6 367.18,1830.0 367.92,1830.4 368.65,1830.4 369.39,1830.4 370.12,1830.4 370.86,1830.4 371.60,1830.0 372.33,1829.6 373.07,1829.6 373.80,1830.0 374.54,1830.4 375.27,1830.4 376.01,1830.4 376.74,1830.4 377.48,1830.4 378.21,1830.4 378.95,1830.4 379.68,1830.4 380.42,1830.4 381.15,1830.4 381.89,1830.4 382.62,1830.4 383.36,1830.4 384.09,1830.4 384.83,1830.4 385.56,1830.4 386.30,1830.4 387.03,1830.4 387.77,1830.4 388.50,1830.7 389.24,1831.0 389.97,1831.0 390.71,1830.7 391.44,1830.4 392.18,1830.4 392.91,1830.4 393.65,1830.4 394.38,1830.4 395.12,1830.4 395.85,1829.9 396.59,1829.4 397.32,1829.4 398.06,1829.9 398.79,1830.4 399.53,1830.4 400.26,1830.4 401.00,1830.4 401.73,1830.4 402.47,1830.4 403.20,1830.4 403.94,1830.4 404.67,1830.4 405.41,1830.4 406.14,1830.4 406.88,1830.4 407.61,1830.4 408.35,1830.4 409.08,1830.4 409.82,1830.4 410.56,1830.4 411.29,1830.4 412.03,1830.4 412.76,1830.4 413.50,1830.4 414.23,1830.3 414.97,1830.3 415.70,1830.3 416.44,1830.3 417.17,1830.2 417.91,1830.2 418.64,1830.2 419.38,1830.2 420.11,1830.1 420.85,1830.1 421.58,1830.1 422.32,1830.1 423.05,1830.0 423.79,1830.0 424.52,1830.0 425.26,1830.0 425.99,1829.9 426.73,1829.4 427.46,1828.9 428.20,1828.9 428.93,1828.9 429.67,1828.8 430.40,1828.8 431.14,1829.1 431.87,1829.4 432.61,1829.3 433.34,1829.3 434.08,1829.2 434.81,1829.2 435.55,1828.6 436.28,1828.1 437.02,1828.0 437.75,1828.4 438.49,1828.9 439.22,1828.8 439.61,1828.8 439.96,1828.6 440.69,1828.3 441.43,1828.0 442.16,1827.7 442.90,1827.4 443.63,1827.1 444.37,1826.8 445.10,1826.1 445.84,1825.4 446.02,1825.4 446.57,1825.2 447.31,1824.9 448.04,1824.2 448.78,1823.5 449.51,1822.8 450.25,1822.1 450.99,1821.4 451.72,1820.7 452.46,1820.0 453.19,1819.3 453.78,1818.8 453.93,1818.9 454.66,1819.5 455.40,1820.1 456.13,1820.7 456.87,1821.3 457.60,1821.9 458.34,1822.5 459.07,1823.1 459.81,1823.7 460.54,1823.9 461.28,1824.2 462.01,1824.8 462.75,1825.8 462.89,1826.3 463.48,1825.8 464.22,1825.3 464.95,1824.8 465.69,1824.2 466.42,1823.7 467.16,1823.2 467.89,1822.6 468.63,1822.1 469.36,1821.6 470.10,1821.0 470.83,1820.5 471.57,1820.0 472.30,1819.4 473.04,1818.9 473.77,1818.4 474.51,1817.9 474.77,1817.7 475.24,1817.9 475.98,1818.2 476.71,1818.6 477.45,1818.6 478.18,1818.0 478.92,1817.8 479.07,1818.3 479.65,1819.2 480.39,1819.7 481.12,1819.7 481.86,1819.6 482.59,1819.6 483.30,1819.1 483.33,1818.7 484.06,1819.3 484.80,1820.4 485.53,1821.4 486.27,1822.1 487.00,1822.7 487.74,1823.3 488.47,1823.9 489.21,1824.5 489.94,1825.2 490.68,1825.8 491.12,1826.2 491.42,1826.2 492.15,1826.4 492.89,1826.6 493.62,1826.8 494.36,1827.0 495.09,1827.2 495.83,1827.4 496.56,1827.6 497.30,1827.4 498.03,1827.2 498.77,1827.4 499.50,1828.0 500.24,1828.5 500.97,1828.7 501.53,1828.7 501.71,1828.6 502.44,1828.6 503.18,1828.8 503.91,1829.0 504.65,1829.1 505.38,1829.5 506.12,1830.0 506.85,1830.0 507.59,1829.7 508.32,1829.4 509.06,1829.5 509.79,1829.1 510.53,1828.8 511.26,1828.9 512.00,1829.3 512.73,1829.7 513.47,1829.8 514.20,1829.9 514.94,1829.4 515.67,1829.0 516.41,1829.1 517.14,1829.6 517.88,1830.1 518.61,1830.2 519.35,1830.3 520.08,1830.3 520.82,1830.2 521.55,1830.2 522.29,1830.2 523.02,1830.2 523.76,1830.2 524.49,1830.2 525.23,1830.2 525.96,1830.2 526.70,1830.2 527.43,1830.2 527.76,1830.2 528.17,1830.1 528.90,1830.1 529.64,1830.1 530.38,1830.1 531.11,1830.5 531.85,1830.9 532.58,1830.9 533.32,1830.4 534.05,1830.0 534.79,1829.5 535.52,1829.0 536.26,1828.9 536.99,1829.4 537.73,1829.9 538.46,1829.9 539.20,1829.9 539.93,1829.9 540.67,1829.8 541.40,1829.8 542.14,1829.8 542.87,1829.8 543.61,1829.8 544.34,1829.7 545.08,1829.7 545.81,1829.7 546.55,1829.3 547.28,1828.9 548.02,1828.9 548.75,1829.3 549.49,1829.6 550.22,1829.6 550.96,1829.6 551.69,1829.6 552.43,1829.5 553.16,1829.5 553.90,1829.5 554.63,1829.5 555.37,1829.5 556.10,1829.4 556.84,1829.4 557.57,1829.0 558.31,1828.6 559.04,1828.6 559.63,1829.0 559.78,1829.3 560.51,1829.2 561.25,1829.1 561.98,1829.0 562.72,1828.9 563.45,1828.8 564.19,1828.2 564.92,1827.6 565.66,1827.5 566.39,1827.9 567.13,1828.3 567.86,1828.2 568.60,1828.1 569.33,1828.0 570.07,1827.9 570.81,1827.8 571.54,1827.7 572.28,1827.6 572.63,1827.6 573.01,1827.5 573.75,1827.4 574.48,1827.3 575.22,1827.2 575.95,1827.1 576.69,1827.0 577.42,1826.4 578.16,1825.8 578.89,1825.7 579.63,1825.7 580.36,1825.7 581.10,1825.6 581.83,1825.9 582.57,1826.3 583.30,1826.2 584.04,1826.1 584.77,1826.0 585.51,1825.5 585.68,1825.1 586.24,1824.8 586.98,1824.7 587.71,1824.2 588.45,1823.3 589.18,1822.8 589.92,1822.9 590.65,1822.9 590.68,1822.9 591.39,1822.2 592.12,1821.4 592.86,1820.7 593.59,1820.0 594.33,1819.3 595.06,1818.6 595.80,1817.8 596.53,1816.6 596.68,1816.0 597.27,1813.9 598.00,1811.7 598.74,1809.5 599.47,1806.9 599.62,1806.4 600.21,1802.4 600.94,1797.1 601.68,1791.7 601.74,1791.3 602.41,1784.9 603.15,1778.0 603.85,1770.9 603.88,1770.6 604.62,1763.1 605.35,1755.7 606.09,1748.6 606.21,1747.8 606.82,1742.1 607.56,1734.9 608.29,1727.6 608.32,1727.4 609.03,1723.1 609.76,1718.6 610.09,1716.7 610.50,1719.7 611.24,1725.0 611.56,1727.4 611.97,1733.7 612.71,1744.5 612.91,1746.6 613.44,1752.5 614.18,1761.9 614.79,1770.7 614.91,1772.9 615.65,1781.5 616.38,1789.7 616.62,1792.2 617.12,1795.8 617.85,1801.2 618.56,1806.4 618.59,1806.4 619.32,1808.7 620.06,1810.9 620.79,1813.1 621.53,1815.3 622.09,1817.0 622.26,1817.1 623.00,1817.4 623.73,1817.7 624.47,1818.3 625.20,1819.3 625.94,1820.3 625.97,1820.4 626.67,1820.7 627.41,1821.1 628.14,1821.0 628.88,1821.0 629.61,1821.4 630.35,1822.1 631.08,1822.9 631.20,1823.0 631.82,1823.1 632.55,1823.2 633.29,1823.3 634.02,1823.4 634.76,1823.5 635.49,1823.6 636.23,1823.7 636.96,1823.8 637.70,1824.0 638.43,1824.1 639.17,1824.2 639.90,1824.3 640.64,1824.4 641.37,1824.5 642.11,1824.6 642.84,1824.8 643.58,1824.9 644.20,1825.0 644.31,1825.0 645.05,1825.1 645.78,1824.7 646.52,1824.3 647.25,1824.4 647.99,1825.0 648.72,1825.7 649.46,1825.8 650.19,1825.9 650.93,1826.0 651.67,1825.8 652.40,1825.5 653.14,1825.6 653.87,1826.1 654.61,1826.2 655.34,1826.0 656.08,1825.7 656.81,1825.5 657.25,1825.5 657.55,1825.9 658.28,1826.8 659.02,1827.3 659.75,1827.5 660.49,1827.6 661.22,1827.7 661.96,1827.8 662.69,1827.9 663.43,1828.1 664.16,1828.2 664.90,1828.3 665.63,1828.4 666.37,1828.5 667.10,1828.6 667.84,1828.3 668.57,1827.9 669.31,1828.0 669.72,1828.6 670.04,1829.1 670.78,1829.1 671.51,1829.1 672.25,1829.2 672.98,1829.2 673.72,1829.2 674.45,1829.3 675.19,1829.3 675.92,1829.3 676.66,1829.4 677.39,1829.4 678.13,1829.4 678.86,1829.5 679.60,1829.5 680.33,1829.5 681.07,1829.9 681.80,1830.4 682.54,1830.4 683.27,1830.0 684.01,1829.7 684.74,1829.7 685.48,1829.3 686.21,1828.8 686.95,1828.9 687.68,1829.4 688.42,1829.9 689.15,1829.9 689.89,1829.9 690.62,1830.0 691.36,1830.0 692.10,1830.0 692.42,1830.1 692.83,1830.1 693.57,1830.1 694.30,1830.1 695.04,1829.7 695.77,1829.3 696.51,1829.3 697.24,1829.7 697.98,1830.1 698.71,1830.1 699.45,1830.1 700.18,1830.1 700.92,1830.1 701.65,1830.1 702.39,1830.1 703.12,1830.2 703.86,1830.2 704.59,1830.2 705.33,1830.2 706.06,1830.2 706.80,1830.2 707.53,1830.2 708.27,1830.2 709.00,1830.2 709.74,1830.2 710.47,1830.2 711.21,1830.2 711.94,1830.2 712.68,1830.2 713.41,1830.2 714.15,1830.2 714.88,1830.3 715.62,1830.3 716.35,1830.3 717.09,1830.3 717.82,1830.3 718.56,1830.3 719.29,1830.3 720.03,1830.3 720.76,1830.3 721.50,1830.3 722.23,1830.3 722.97,1830.3 723.70,1830.3 724.44,1830.3 725.17,1829.9 725.91,1829.5 726.64,1829.5 727.38,1829.9 727.70,1830.4 728.11,1830.4 728.85,1830.4 729.58,1830.4 730.32,1830.4 731.06,1830.7 731.79,1831.0 732.53,1831.0 733.26,1830.7 734.00,1830.4 734.73,1830.4 735.47,1829.9 736.20,1829.5 736.94,1829.5 737.67,1829.9 738.41,1830.4 739.14,1830.4 739.88,1830.4 740.61,1830.4 741.35,1830.4 742.08,1830.4 742.82,1830.4 743.55,1830.4 744.29,1830.4 745.02,1830.4 745.76,1830.4 746.49,1830.4 747.23,1830.4 747.96,1830.4 748.70,1830.4 749.43,1830.4 750.17,1830.4 750.90,1829.8 751.64,1829.3 752.37,1829.3 753.11,1829.8 753.84,1830.4 754.58,1830.4 755.31,1830.4 756.05,1830.4 756.78,1830.7 757.52,1831.1 758.25,1831.1 758.99,1830.7 759.72,1830.4 760.46,1830.4 761.19,1830.4 761.93,1830.4 762.66,1830.4 763.40,1830.4 764.13,1830.4 764.87,1830.4 765.60,1830.4 766.34,1830.4 767.07,1830.4 767.81,1830.4 768.54,1830.4 769.28,1830.4 770.01,1830.4 770.75,1830.4 771.49,1830.4 772.22,1830.4 772.96,1830.4 773.69,1830.4 774.43,1830.4 775.16,1830.6 775.90,1830.9 776.63,1830.9 777.37,1830.6 778.10,1830.4 778.84,1830.4 779.57,1830.4 780.31,1830.4 781.04,1830.4 781.78,1830.4 782.51,1829.9 783.25,1829.4 783.98,1829.4 784.72,1829.9 785.45,1830.4 786.19,1830.4 786.92,1830.4 787.66,1830.4 788.39,1830.4 789.13,1830.4 789.86,1830.4 790.60,1830.4 791.33,1830.4 792.07,1830.4 792.80,1830.4 793.54,1830.4 794.27,1830.4 795.01,1830.4 795.74,1830.4 796.48,1830.4 797.21,1830.4 797.95,1830.4 798.68,1830.4 799.42,1830.4 800.15,1830.4 800.89,1830.4 801.62,1830.4 802.36,1830.4 803.09,1830.4 803.83,1830.4 804.56,1830.4 805.30,1830.4 806.03,1830.4 806.77,1830.4 807.50,1830.4 808.24,1830.4 808.97,1830.4 809.71,1830.4 810.44,1830.4 811.18,1830.4 811.92,1830.4 812.65,1830.4 813.39,1830.4 814.12,1829.9 814.86,1829.5 815.59,1829.5 816.33,1829.9 817.06,1830.4 817.80,1830.4 818.53,1830.4 819.27,1830.4 820.00,1830.4 820.74,1830.4 821.47,1829.9 822.21,1829.4 822.94,1829.4 823.68,1829.9 824.41,1830.4 825.15,1830.4 825.88,1830.4 826.62,1830.4 827.35,1830.4 828.09,1830.4 828.82,1830.4 829.56,1830.4 830.29,1830.4 831.03,1830.4 831.76,1830.4 832.50,1829.9 833.23,1829.5 833.97,1829.2 834.70,1829.3 835.44,1829.7 836.17,1830.0 836.91,1830.4 837.64,1830.4 838.38,1830.4 839.11,1830.4 839.85,1830.4 840.58,1830.4 841.32,1830.4 842.05,1830.4 842.79,1830.4 843.52,1830.7 844.26,1831.0 844.99,1831.0 845.73,1830.7 846.46,1830.4 847.20,1830.4 847.93,1830.4 848.67,1830.4 849.40,1830.4 850.14,1830.4 850.88,1830.4 851.61,1830.4 852.35,1830.4 853.08,1830.4 853.82,1830.4 854.55,1830.4 855.29,1830.4 856.02,1830.4 856.76,1830.4 857.49,1830.4 858.23,1830.4 858.96,1830.4 859.70,1830.4 860.43,1830.4 861.17,1830.4 861.90,1830.4 862.64,1830.4 863.37,1830.4 864.11,1830.4 864.84,1830.4 865.58,1830.0 866.31,1829.5 867.05,1829.5 867.78,1830.0 868.52,1830.4 869.25,1830.4 869.99,1830.4 870.72,1830.4 871.46,1829.9 872.19,1829.5 872.93,1829.2 873.66,1829.2 874.40,1829.6 875.13,1830.0 875.87,1830.4 876.60,1830.0 877.34,1829.6 878.07,1829.6 878.81,1830.0 879.54,1830.4 880.28,1830.4 881.01,1830.4 881.75,1830.4 882.48,1830.4 883.22,1830.4 883.95,1829.9 884.69,1829.4 885.42,1829.4 886.16,1829.9 886.89,1830.4 887.63,1830.4 888.36,1830.4 889.10,1830.4 889.83,1830.4 890.57,1830.4 891.31,1830.4 892.04,1830.4 892.78,1830.4 893.51,1830.4 894.25,1830.4 894.98,1830.4 895.72,1830.4 896.45,1829.9 897.19,1829.4 897.92,1829.4 898.66,1829.9 899.39,1830.4 900.13,1830.4 900.86,1830.4 901.60,1830.4 902.33,1830.4 903.07,1830.4 903.80,1830.4 904.54,1829.9 905.27,1829.4 906.01,1829.4 906.74,1829.9 907.48,1830.4 908.21,1830.4 908.95,1830.4 909.68,1830.4 910.42,1830.4 911.15,1830.4 911.89,1830.4 912.62,1830.4 913.36,1830.4 914.09,1830.4 914.83,1830.4 915.56,1830.4 916.30,1830.4 917.03,1830.4 917.77,1830.4 918.50,1830.4 919.24,1830.4 919.97,1830.4 920.71,1830.7 921.44,1831.1 922.18,1830.6 922.91,1829.7 923.65,1829.3 924.38,1829.8 925.12,1830.4 925.85,1830.4 926.59,1830.4 927.32,1830.4 928.06,1830.4 928.79,1830.4 929.53,1830.0 930.26,1829.7 931.00,1829.7 931.74,1830.0 932.47,1830.4 933.21,1830.4 933.94,1830.4 934.68,1830.4 935.41,1830.4 936.15,1830.4 936.88,1830.4 937.62,1830.4 938.35,1829.9 939.09,1829.4 939.82,1829.4 940.56,1829.9 941.29,1830.4 942.03,1830.4 942.76,1830.4 943.50,1830.4 944.23,1830.4 944.97,1829.9 945.70,1829.4 946.44,1829.4 947.17,1829.9 947.91,1830.4 948.64,1830.4 949.38,1830.4 950.11,1830.4 950.85,1830.4 951.58,1830.4 952.32,1830.4 953.05,1830.0 953.79,1829.6 954.52,1829.6 955.26,1830.0 955.99,1830.4 956.73,1830.4 957.46,1830.4 958.20,1830.4 958.93,1830.4 959.67,1830.4 960.40,1830.4 961.14,1830.4 961.87,1830.4 962.61,1830.4 963.34,1830.4 964.08,1830.4 964.81,1830.0 965.55,1829.6 966.28,1829.6 967.02,1830.0 967.75,1830.4 968.49,1830.4 969.22,1830.4 969.96,1830.4 970.69,1830.4 971.43,1830.4 972.17,1830.4 972.90,1830.4 973.64,1830.4 974.37,1830.4 975.11,1830.4 975.84,1830.4 976.58,1830.4 977.31,1830.4 978.05,1830.4 978.78,1830.4 979.52,1830.4 980.25,1830.4 980.99,1830.4 981.72,1830.4 982.46,1830.4 983.19,1830.4 983.93,1830.4 984.66,1830.4 985.40,1830.4 986.13,1830.4 986.87,1830.4 987.60,1830.4 988.34,1830.4 989.07,1830.4 989.81,1830.4 990.54,1830.4 991.28,1830.4 992.01,1830.4 992.75,1830.4 993.48,1830.4 994.22,1830.4 994.95,1830.4 995.69,1830.4 996.42,1830.0 997.16,1829.6 997.89,1829.6 998.63,1830.0 999.36,1830.4 1000.10,1830.0 1000.83,1829.6 1001.57,1829.6 1002.30,1830.4 1003.04,1831.2 1003.77,1831.2 1004.51,1830.8 1005.24,1830.4 1005.98,1830.4 1006.71,1830.4 1007.45,1830.4 1008.18,1830.4 1008.92,1830.4 1009.65,1830.4 1010.39,1830.4 1011.12,1830.4 1011.86,1830.4 1012.60,1830.4 1013.33,1830.4 1014.07,1830.4 1014.80,1830.4 1015.54,1830.4 1016.27,1830.4 1017.01,1830.4 1017.74,1830.4 1018.48,1830.0 1019.21,1829.6 1019.95,1829.6 1020.68,1830.0 1021.42,1830.4 1022.15,1830.4 1022.89,1829.9 1023.62,1829.4 1024.36,1829.4 1025.09,1829.9 1025.83,1830.4 1026.56,1830.4 1027.30,1830.4 1028.03,1830.4 1028.77,1830.4 1029.50,1830.4 1030.24,1830.4 1030.97,1829.8 1031.71,1829.3 1032.44,1828.9 1033.18,1829.1 1033.91,1829.7 1034.65,1830.0 1035.38,1830.4 1036.12,1830.0 1036.85,1829.7 1037.59,1829.3 1038.32,1829.3 1039.06,1829.7 1039.79,1830.0 1040.53,1830.4 1041.26,1830.4 1042.00,1830.4 1042.73,1830.4 1043.47,1830.4 1044.20,1830.4 1044.94,1830.4 1045.67,1830.4 1046.41,1830.4 1047.14,1830.4 1047.88,1830.4 1048.61,1830.4 1049.35,1830.4 1050.08,1830.4 1050.82,1830.4 1051.56,1830.4 1052.29,1830.4 1053.03,1830.4 1053.32,1830.4 1053.76,1829.9 1054.50,1829.4 1055.23,1829.3 1055.91,1829.7 1055.97,1830.1 1056.70,1830.0 1057.44,1829.8 1058.17,1829.6 1058.91,1829.4 1059.64,1829.3 1060.38,1829.1 1061.11,1828.9 1061.85,1828.7 1062.58,1828.2 1063.02,1827.7 1063.32,1827.7 1064.05,1828.0 1064.79,1828.4 1065.52,1828.3 1066.26,1828.3 1066.99,1828.3 1067.73,1828.2 1068.46,1828.2 1069.20,1828.2 1069.93,1828.1 1070.67,1828.1 1071.40,1828.0 1072.14,1828.0 1072.87,1828.0 1073.61,1827.9 1074.34,1827.9 1075.08,1827.9 1075.81,1827.8 1076.55,1827.8 1077.25,1827.8 1077.28,1827.8 1078.02,1827.8 1078.75,1827.8 1079.49,1827.8 1080.22,1827.9 1080.96,1827.9 1081.69,1827.9 1082.43,1828.0 1083.16,1828.0 1083.90,1827.6 1084.63,1827.3 1085.08,1827.3 1085.37,1827.6 1086.10,1827.9 1086.84,1827.8 1087.57,1827.6 1088.31,1827.0 1089.04,1826.4 1089.19,1826.3 1089.78,1826.5 1090.51,1826.6 1091.25,1826.2 1091.99,1825.8 1092.72,1825.4 1093.46,1825.0 1093.90,1824.8 1094.19,1824.9 1094.93,1825.3 1095.66,1825.6 1096.40,1826.0 1097.13,1826.3 1097.87,1826.7 1098.01,1826.8 1098.60,1826.3 1099.34,1825.9 1100.07,1826.0 1100.81,1826.6 1100.95,1827.2 1101.54,1827.2 1102.28,1827.2 1103.01,1827.2 1103.75,1827.5 1104.48,1827.9 1105.22,1827.9 1105.95,1827.6 1106.69,1827.3 1107.42,1827.3 1108.16,1827.3 1108.89,1826.9 1109.63,1826.6 1110.36,1826.6 1111.10,1826.6 1111.83,1826.6 1112.57,1826.6 1112.83,1827.0 1113.30,1827.0 1114.04,1826.8 1114.77,1826.9 1115.51,1827.5 1116.24,1828.0 1116.83,1828.2 1116.98,1828.2 1117.71,1828.5 1118.45,1828.7 1119.18,1828.5 1119.92,1828.3 1120.65,1828.6 1121.39,1829.3 1122.12,1830.1 1122.86,1830.1 1123.59,1830.2 1124.33,1830.2 1125.06,1830.2 1125.80,1830.3 1126.53,1830.3 1126.83,1830.4 1127.27,1830.4 1128.00,1830.4 1128.74,1830.4 1129.47,1830.4 1130.21,1830.4 1130.94,1830.4 1131.68,1830.4 1132.42,1830.4 1133.15,1830.4 1133.89,1830.4 1134.62,1830.4 1135.36,1830.4 1136.09,1830.4 1136.83,1830.4 1137.56,1830.4 1138.30,1830.4 1139.03,1830.4 1139.77,1830.4 1140.50,1830.4 1141.24,1830.4 1141.97,1830.4 1142.71,1830.4 1143.44,1830.4 1144.18,1830.4 1144.91,1830.4 1145.65,1830.4 1146.38,1830.4 1147.12,1830.4 1147.85,1830.4 1148.59,1830.4 1149.32,1830.4 1150.06,1830.4 1150.79,1830.4 1151.53,1830.4 1152.26,1830.4 1153.00,1830.4 1153.73,1829.8 1154.47,1829.3 1155.20,1829.3 1155.94,1829.8 1156.67,1830.4 1157.41,1830.4 1158.14,1830.4 1158.88,1830.4 1159.61,1830.4 1160.35,1830.4 1161.08,1830.4 1161.82,1830.4 1162.55,1830.4 1163.29,1830.4 1164.02,1830.4 1164.76,1830.4 1165.49,1830.4 1166.23,1830.4 1166.96,1830.4 1167.70,1830.4 1168.43,1829.8 1169.17,1829.3 1169.90,1829.3 1170.64,1829.8 1171.37,1830.4 1172.11,1830.4 1172.85,1830.4 1173.58,1830.4 1174.32,1830.4 1175.05,1830.4 1175.79,1830.4 1176.52,1830.4 1177.26,1830.4 1177.99,1830.4 1178.73,1830.4 1179.46,1830.4 1180.20,1830.4 1180.93,1830.4 1181.67,1830.4 1182.40,1830.4 1183.14,1830.0 1183.87,1829.6 1184.61,1829.6 1185.34,1830.0 1186.08,1830.4 1186.81,1830.4 1187.55,1830.4 1188.28,1830.4 1189.02,1830.4 1189.75,1830.4 1190.49,1830.0 1191.22,1829.6 1191.96,1829.3 1192.69,1828.8 1193.43,1828.3 1194.16,1828.3 1194.90,1829.1 1195.63,1830.0 1196.37,1830.4 1197.10,1830.4 1197.84,1830.4 1198.57,1830.4 1199.31,1830.4 1200.04,1830.4 1200.78,1830.4 1201.51,1830.4 1202.25,1830.4 1202.98,1830.4 1203.72,1830.4 1204.45,1830.4 1205.19,1830.4 1205.92,1830.4 1206.66,1830.4 1207.39,1830.4 1208.13,1830.4 1208.86,1830.4 1209.60,1830.6 1210.33,1830.4 1211.07,1829.6 1211.81,1829.0 1212.54,1829.2 1213.28,1830.0 1214.01,1830.4 1214.75,1830.4 1215.48,1830.4 1216.22,1830.4 1216.95,1830.4 1217.69,1830.4 1218.42,1830.4 1219.16,1830.4 1219.89,1830.4 1220.63,1830.4 1221.36,1830.4 1222.10,1830.4 1222.83,1830.4 1223.57,1830.4 1224.30,1830.4 1225.04,1830.4 1225.77,1830.4 1226.51,1830.4 1227.24,1830.4 1227.98,1830.4 1228.71,1830.4 1229.45,1830.0 1230.18,1829.7 1230.92,1829.7 1231.65,1830.0" stroke="#515151"/>
</g>
<g fill="none" stroke-width="7.5" stroke-linecap="round">
<line x1="1357.9" x2="1562.2" y1="334.4" y2="334.4" stroke="#515151"/>
<line x1="1357.9" x2="1562.2" y1="459.0" y2="459.0" stroke="#6FB802"/>
<line x1="1357.9" x2="1562.2" y1="583.6" y2="583.6" stroke="#6699CC"/>
<line x1="1357.9" x2="1562.2" y1="708.1" y2="708.1" stroke="#FB6501"/>
<line x1="1357.9" x2="1562.2" y1="832.7" y2="832.7" stroke="#8E8E00"/>
<line x1="1357.9" x2="1562.2" y1="957.3" y2="957.3" stroke="#7D4E4E"/>
<line x1="1357.9" x2="1562.2" y1="1081.9" y2="1081.9" stroke="#00CBCC"/>
<line x1="1357.9" x2="1562.2" y1="1206.5" y2="1206.5" stroke="#CC9900"/>
<line x1="1357.9" x2="1562.2" y1="1331.0" y2="1331.0" stroke="#B177DE"/>
<line x1="1357.9" x2="1562.2" y1="1455.6" y2="1455.6" stroke="#37AD6B"/>
<line x1="1357.9" x2="1562.2" y1="1580.2" y2="1580.2" stroke="#1A6FDF"/>
<line x1="1357.9" x2="1562.2" y1="1704.8" y2="1704.8" stroke="#F14040"/>
<line x1="1357.9" x2="1562.2" y1="1829.4" y2="1829.4" stroke="#515151"/>
</g>
<g fill="#000">
<text transform="translate(161.53,2080.83) scale(1.1779,1.1674)" font-size="100">550</text>
<text transform="translate(484.07,2080.83) scale(1.1592,1.1674)" font-size="100">600</text>
<text transform="translate(804.93,2080.83) scale(1.1704,1.1674)" font-size="100">650</text>
<text transform="translate(1124.82,2080.83) scale(1.1657,1.1674)" font-size="100">700</text>
<text transform="translate(1582.93,363.00) scale(1.0716,1)" font-size="77.10" fill="#000">Eu</text>
<text transform="translate(1582.93,487.58) scale(1.0716,1)" font-size="77.10" fill="#000">Eu</text>
<text x="1673.33" y="507.78" font-size="52.59">0.5</text>
<text transform="translate(1737.36,487.58) scale(1.0819,1)" font-size="77.10" fill="#000">Gd</text>
<text x="1842.33" y="507.78" font-size="52.59">0.5</text>
<text transform="translate(1582.93,612.16) scale(1.0716,1)" font-size="77.10" fill="#000">Eu</text>
<text x="1673.33" y="632.36" font-size="52.59">0.1</text>
<text transform="translate(1737.36,612.16) scale(1.0819,1)" font-size="77.10" fill="#000">Gd</text>
<text x="1842.33" y="632.36" font-size="52.59">0.9</text>
<text transform="translate(1582.93,736.74) scale(1.0716,1)" font-size="77.10" fill="#000">Eu</text>
<text x="1673.33" y="756.94" font-size="52.59">0.01</text>
<text transform="translate(1763.64,736.74) scale(1.0907,1)" font-size="77.10" fill="#000">Gd</text>
<text x="1868.63" y="756.94" font-size="52.59">0.99</text>
<text transform="translate(1582.93,861.32) scale(1.0716,1)" font-size="77.10" fill="#000">Eu</text>
<text x="1673.33" y="881.52" font-size="52.59">0.001</text>
<text transform="translate(1789.95,861.32) scale(1.0863,1)" font-size="77.10" fill="#000">Gd</text>
<text x="1894.53" y="881.52" font-size="52.59">0.999</text>
<text transform="translate(1582.93,985.90) scale(1.0716,1)" font-size="77.10" fill="#000">Eu</text>
<text x="1673.33" y="1006.10" font-size="52.59">0.5</text>
<text transform="translate(1739.78,985.90) scale(0.9546,1)" font-size="77.10" fill="#000">La</text>
<text x="1823.03" y="1006.10" font-size="52.59">0.5</text>
<text transform="translate(1582.93,1110.48) scale(1.0716,1)" font-size="77.10" fill="#000">Eu</text>
<text x="1673.33" y="1130.68" font-size="52.59">0.1</text>
<text transform="translate(1739.78,1110.48) scale(0.9546,1)" font-size="77.10" fill="#000">La</text>
<text x="1823.03" y="1130.68" font-size="52.59">0.9</text>
<text transform="translate(1582.93,1235.06) scale(1.0716,1)" font-size="77.10" fill="#000">Eu</text>
<text x="1673.33" y="1255.26" font-size="52.59">0.01</text>
<text transform="translate(1766.91,1235.06) scale(0.9840,1)" font-size="77.10" fill="#000">La</text>
<text x="1850.03" y="1255.26" font-size="52.59">0.99</text>
<text transform="translate(1582.93,1359.64) scale(1.0716,1)" font-size="77.10" fill="#000">Eu</text>
<text x="1673.33" y="1379.84" font-size="52.59">0.001</text>
<text transform="translate(1791.96,1359.64) scale(0.9635,1)" font-size="77.10" fill="#000">La</text>
<text x="1873.23" y="1379.84" font-size="52.59">0.999</text>
<text transform="translate(1582.93,1484.22) scale(1.0716,1)" font-size="77.10" fill="#000">Eu</text>
<text x="1673.33" y="1504.42" font-size="52.59">0.5</text>
<text transform="translate(1741.10,1484.22) scale(0.9131,1)" font-size="77.10" fill="#000">Y</text>
<text x="1790.03" y="1504.42" font-size="52.59">0.5</text>
<text transform="translate(1582.93,1608.80) scale(1.0716,1)" font-size="77.10" fill="#000">Eu</text>
<text x="1673.33" y="1629.00" font-size="52.59">0.1</text>
<text transform="translate(1741.10,1608.80) scale(0.9131,1)" font-size="77.10" fill="#000">Y</text>
<text x="1790.03" y="1629.00" font-size="52.59">0.9</text>
<text transform="translate(1582.93,1733.38) scale(1.0716,1)" font-size="77.10" fill="#000">Eu</text>
<text x="1673.33" y="1753.58" font-size="52.59">0.01</text>
<text transform="translate(1766.30,1733.38) scale(0.9112,1)" font-size="77.10" fill="#000">Y</text>
<text x="1815.03" y="1753.58" font-size="52.59">0.99</text>
<text transform="translate(1582.93,1857.96) scale(1.0716,1)" font-size="77.10" fill="#000">Eu</text>
<text x="1673.33" y="1878.16" font-size="52.59">0.001</text>
<text transform="translate(1792.28,1857.96) scale(0.9320,1)" font-size="77.10" fill="#000">Y</text>
<text x="1842.03" y="1878.16" font-size="52.59">0.999</text>
<text transform="translate(504.50,284.72) rotate(-90) scale(1.0316,1)" font-size="62.71">5</text>
<text transform="translate(539.70,248.56) rotate(-90) scale(1.0201,1)" font-size="91.30">D</text>
<text transform="translate(565.50,182.85) rotate(-90) scale(0.9568,1)" font-size="62.71">0</text>
<text transform="translate(539.64,153.95) rotate(-90) scale(0.9295,0.8933)" font-size="100">-</text>
<text transform="translate(504.50,126.32) rotate(-90) scale(1.0840,1)" font-size="62.71">7</text>
<text transform="translate(539.70,93.34) rotate(-90) scale(0.9714,1)" font-size="91.30">F</text>
<text transform="translate(565.50,46.21) rotate(-90) scale(0.9500,1)" font-size="62.71">1</text>
<text transform="translate(738.30,287.92) rotate(-90) scale(1.0316,1)" font-size="62.71">5</text>
<text transform="translate(773.50,251.76) rotate(-90) scale(1.0201,1)" font-size="91.30">D</text>
<text transform="translate(799.30,186.05) rotate(-90) scale(0.9568,1)" font-size="62.71">0</text>
<text transform="translate(773.44,157.15) rotate(-90) scale(0.9295,0.8933)" font-size="100">-</text>
<text transform="translate(738.30,129.52) rotate(-90) scale(1.0840,1)" font-size="62.71">7</text>
<text transform="translate(773.50,96.54) rotate(-90) scale(0.9714,1)" font-size="91.30">F</text>
<text transform="translate(799.30,48.21) rotate(-90) scale(1.0539,1)" font-size="62.71">2</text>
<text transform="translate(1181.00,292.22) rotate(-90) scale(1.0316,1)" font-size="62.71">5</text>
<text transform="translate(1216.20,256.06) rotate(-90) scale(1.0201,1)" font-size="91.30">D</text>
<text transform="translate(1242.00,190.35) rotate(-90) scale(0.9568,1)" font-size="62.71">0</text>
<text transform="translate(1216.14,161.45) rotate(-90) scale(0.9295,0.8933)" font-size="100">-</text>
<text transform="translate(1181.00,133.82) rotate(-90) scale(1.0840,1)" font-size="62.71">7</text>
<text transform="translate(1216.20,100.84) rotate(-90) scale(0.9714,1)" font-size="91.30">F</text>
<text transform="translate(1242.00,53.12) rotate(-90) scale(1.0165,1)" font-size="62.71">4</text>
<text transform="translate(118.40,1313.81) rotate(-90) scale(1.2109,1)" font-size="151.15">I</text>
<text transform="translate(158.90,1264.97) rotate(-90) scale(1.1572,1)" font-size="96.09">em</text>
<text transform="translate(115.80,1129.50) rotate(-90) scale(1.2522,1.5417) matrix(1,0,-0.45,1,0,0)" font-size="100">,</text>
<text transform="translate(118.40,1056.62) rotate(-90) scale(1.0253,1)" font-size="151.15">a</text>
<text transform="translate(117.03,985.71) rotate(-90) scale(1.4167,1.4468)" font-size="100">.</text>
<text transform="translate(118.40,950.71) rotate(-90) scale(1.1692,1)" font-size="151.15">u</text>
<text transform="translate(117.03,863.48) rotate(-90) scale(1.4583,1.4468)" font-size="100">.</text>
<text transform="translate(568.39,2229.00) scale(1.6835,1.5191)" font-size="100">λ</text>
<text transform="translate(648.09,2267.10) scale(1.1679,1)" font-size="96.09" fill="#000">em</text>
<text transform="translate(790.31,2226.10) scale(1.1607,1.5417) matrix(1,0,-0.45,1,0,0)" font-size="100">,</text>
<text transform="translate(857.24,2226.40) scale(1.1344,1)" font-size="151.15" fill="#000">nm</text>
</g>
</svg>
</body></html>
